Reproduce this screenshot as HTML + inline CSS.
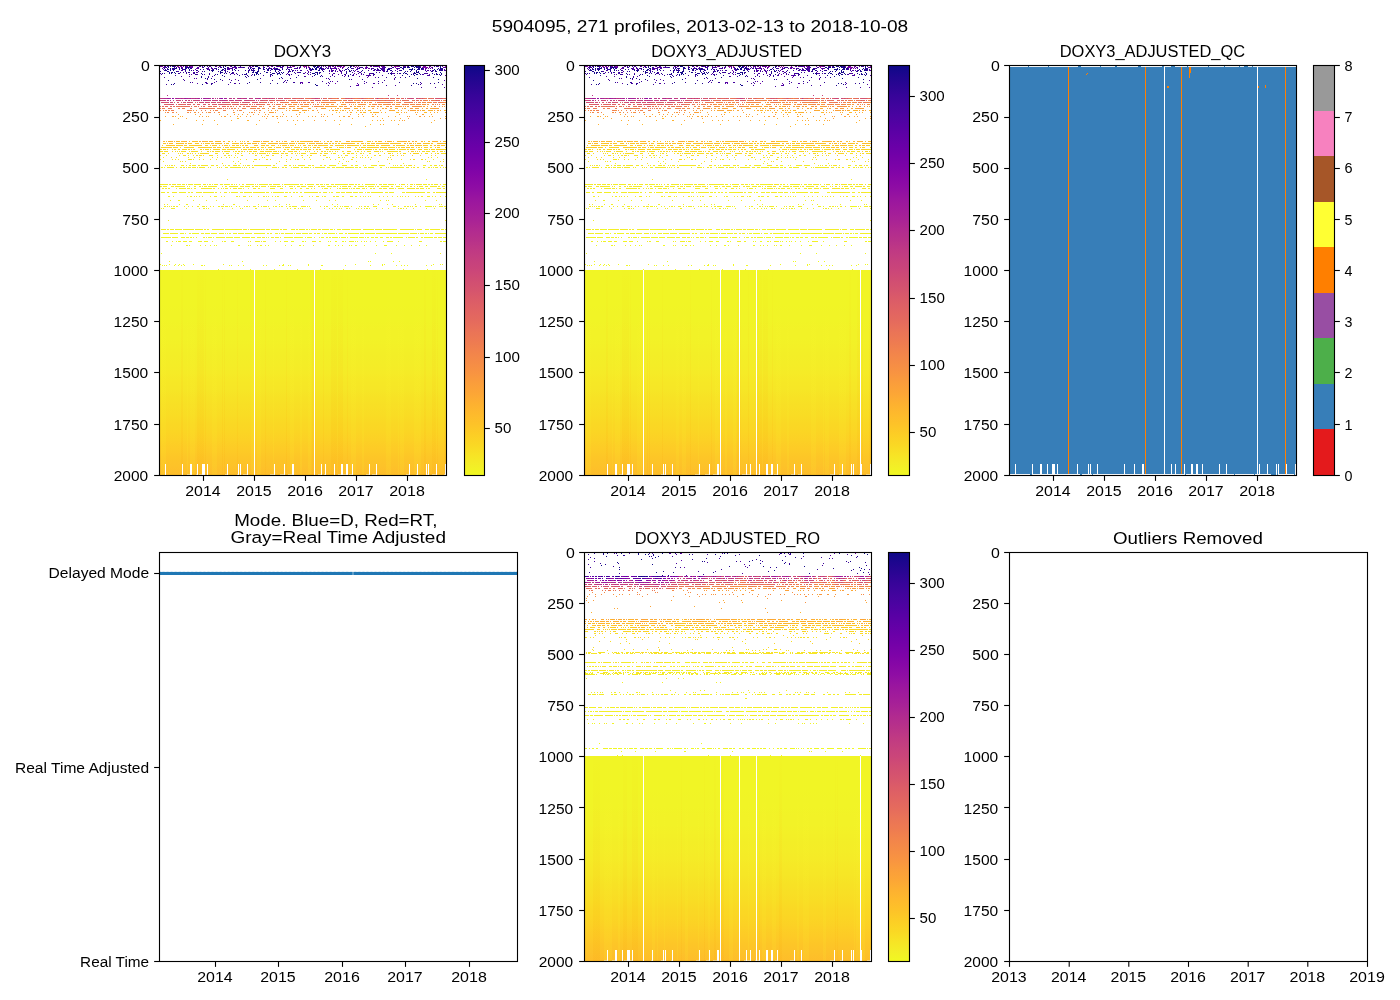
<!DOCTYPE html>
<html lang="en"><head><meta charset="utf-8"><title>5904095 DOXY3 profiles</title>
<style>
html,body{margin:0;padding:0;background:#fff}
body{width:1400px;height:1000px;overflow:hidden}
svg{display:block}
text{font-family:"Liberation Sans",sans-serif;fill:#000}
.fr{fill:none;stroke:#000;stroke-width:1.11}
.tk{fill:none;stroke:#000;stroke-width:1.11}
.cr{shape-rendering:crispEdges}
.tx{will-change:transform}
</style></head><body>
<svg width="1400" height="1000" viewBox="0 0 1400 1000">
<rect width="1400" height="1000" fill="#fff"/>
<defs>
<linearGradient id="g1" gradientUnits="userSpaceOnUse" x1="0" y1="270" x2="0" y2="475">
<stop offset="0.0000" stop-color="#f1f525"/>
<stop offset="0.0417" stop-color="#f1f525"/>
<stop offset="0.0833" stop-color="#f1f525"/>
<stop offset="0.1250" stop-color="#f1f525"/>
<stop offset="0.1667" stop-color="#f1f525"/>
<stop offset="0.2083" stop-color="#f1f426"/>
<stop offset="0.2500" stop-color="#f1f426"/>
<stop offset="0.2917" stop-color="#f2f227"/>
<stop offset="0.3333" stop-color="#f2f227"/>
<stop offset="0.3750" stop-color="#f3f027"/>
<stop offset="0.4167" stop-color="#f3ee27"/>
<stop offset="0.4583" stop-color="#f4ed27"/>
<stop offset="0.5000" stop-color="#f5eb27"/>
<stop offset="0.5417" stop-color="#f6e826"/>
<stop offset="0.5833" stop-color="#f6e626"/>
<stop offset="0.6250" stop-color="#f7e225"/>
<stop offset="0.6667" stop-color="#f8df25"/>
<stop offset="0.7083" stop-color="#f9dc24"/>
<stop offset="0.7500" stop-color="#fad824"/>
<stop offset="0.7917" stop-color="#fbd524"/>
<stop offset="0.8333" stop-color="#fcd025"/>
<stop offset="0.8750" stop-color="#fdcb26"/>
<stop offset="0.9167" stop-color="#fdc627"/>
<stop offset="0.9583" stop-color="#fdc229"/>
<stop offset="1.0000" stop-color="#febd2a"/>
</linearGradient>
<linearGradient id="g5" gradientUnits="userSpaceOnUse" x1="0" y1="756" x2="0" y2="961">
<stop offset="0.0000" stop-color="#f1f525"/>
<stop offset="0.0417" stop-color="#f1f525"/>
<stop offset="0.0833" stop-color="#f1f525"/>
<stop offset="0.1250" stop-color="#f1f525"/>
<stop offset="0.1667" stop-color="#f1f525"/>
<stop offset="0.2083" stop-color="#f1f426"/>
<stop offset="0.2500" stop-color="#f1f426"/>
<stop offset="0.2917" stop-color="#f2f227"/>
<stop offset="0.3333" stop-color="#f2f227"/>
<stop offset="0.3750" stop-color="#f3f027"/>
<stop offset="0.4167" stop-color="#f3ee27"/>
<stop offset="0.4583" stop-color="#f4ed27"/>
<stop offset="0.5000" stop-color="#f5eb27"/>
<stop offset="0.5417" stop-color="#f6e826"/>
<stop offset="0.5833" stop-color="#f6e626"/>
<stop offset="0.6250" stop-color="#f7e225"/>
<stop offset="0.6667" stop-color="#f8df25"/>
<stop offset="0.7083" stop-color="#f9dc24"/>
<stop offset="0.7500" stop-color="#fad824"/>
<stop offset="0.7917" stop-color="#fbd524"/>
<stop offset="0.8333" stop-color="#fcd025"/>
<stop offset="0.8750" stop-color="#fdcb26"/>
<stop offset="0.9167" stop-color="#fdc627"/>
<stop offset="0.9583" stop-color="#fdc229"/>
<stop offset="1.0000" stop-color="#febd2a"/>
</linearGradient>
<linearGradient id="c1" gradientUnits="userSpaceOnUse" x1="0" y1="65" x2="0" y2="476">
<stop offset="0.0000" stop-color="#0d0887"/>
<stop offset="0.0250" stop-color="#1d068e"/>
<stop offset="0.0500" stop-color="#2a0593"/>
<stop offset="0.0750" stop-color="#370499"/>
<stop offset="0.1000" stop-color="#41049d"/>
<stop offset="0.1250" stop-color="#4b03a1"/>
<stop offset="0.1500" stop-color="#5601a4"/>
<stop offset="0.1750" stop-color="#6001a6"/>
<stop offset="0.2000" stop-color="#6a00a8"/>
<stop offset="0.2250" stop-color="#7401a8"/>
<stop offset="0.2500" stop-color="#7d03a8"/>
<stop offset="0.2750" stop-color="#8707a6"/>
<stop offset="0.3000" stop-color="#8f0da4"/>
<stop offset="0.3250" stop-color="#99159f"/>
<stop offset="0.3500" stop-color="#a11b9b"/>
<stop offset="0.3750" stop-color="#a82296"/>
<stop offset="0.4000" stop-color="#b12a90"/>
<stop offset="0.4250" stop-color="#b7318a"/>
<stop offset="0.4500" stop-color="#bf3984"/>
<stop offset="0.4750" stop-color="#c5407e"/>
<stop offset="0.5000" stop-color="#cb4679"/>
<stop offset="0.5250" stop-color="#d14e72"/>
<stop offset="0.5500" stop-color="#d6556d"/>
<stop offset="0.5750" stop-color="#dc5d67"/>
<stop offset="0.6000" stop-color="#e16462"/>
<stop offset="0.6250" stop-color="#e56b5d"/>
<stop offset="0.6500" stop-color="#ea7457"/>
<stop offset="0.6750" stop-color="#ee7b51"/>
<stop offset="0.7000" stop-color="#f2844b"/>
<stop offset="0.7250" stop-color="#f58c46"/>
<stop offset="0.7500" stop-color="#f89441"/>
<stop offset="0.7750" stop-color="#fa9e3b"/>
<stop offset="0.8000" stop-color="#fca636"/>
<stop offset="0.8250" stop-color="#fdb130"/>
<stop offset="0.8500" stop-color="#feba2c"/>
<stop offset="0.8750" stop-color="#fdc328"/>
<stop offset="0.9000" stop-color="#fcce25"/>
<stop offset="0.9250" stop-color="#fad824"/>
<stop offset="0.9500" stop-color="#f7e425"/>
<stop offset="0.9750" stop-color="#f3ee27"/>
<stop offset="1.0000" stop-color="#f0f921"/>
</linearGradient>
<linearGradient id="c5" gradientUnits="userSpaceOnUse" x1="0" y1="552" x2="0" y2="962">
<stop offset="0.0000" stop-color="#0d0887"/>
<stop offset="0.0250" stop-color="#1d068e"/>
<stop offset="0.0500" stop-color="#2a0593"/>
<stop offset="0.0750" stop-color="#370499"/>
<stop offset="0.1000" stop-color="#41049d"/>
<stop offset="0.1250" stop-color="#4b03a1"/>
<stop offset="0.1500" stop-color="#5601a4"/>
<stop offset="0.1750" stop-color="#6001a6"/>
<stop offset="0.2000" stop-color="#6a00a8"/>
<stop offset="0.2250" stop-color="#7401a8"/>
<stop offset="0.2500" stop-color="#7d03a8"/>
<stop offset="0.2750" stop-color="#8707a6"/>
<stop offset="0.3000" stop-color="#8f0da4"/>
<stop offset="0.3250" stop-color="#99159f"/>
<stop offset="0.3500" stop-color="#a11b9b"/>
<stop offset="0.3750" stop-color="#a82296"/>
<stop offset="0.4000" stop-color="#b12a90"/>
<stop offset="0.4250" stop-color="#b7318a"/>
<stop offset="0.4500" stop-color="#bf3984"/>
<stop offset="0.4750" stop-color="#c5407e"/>
<stop offset="0.5000" stop-color="#cb4679"/>
<stop offset="0.5250" stop-color="#d14e72"/>
<stop offset="0.5500" stop-color="#d6556d"/>
<stop offset="0.5750" stop-color="#dc5d67"/>
<stop offset="0.6000" stop-color="#e16462"/>
<stop offset="0.6250" stop-color="#e56b5d"/>
<stop offset="0.6500" stop-color="#ea7457"/>
<stop offset="0.6750" stop-color="#ee7b51"/>
<stop offset="0.7000" stop-color="#f2844b"/>
<stop offset="0.7250" stop-color="#f58c46"/>
<stop offset="0.7500" stop-color="#f89441"/>
<stop offset="0.7750" stop-color="#fa9e3b"/>
<stop offset="0.8000" stop-color="#fca636"/>
<stop offset="0.8250" stop-color="#fdb130"/>
<stop offset="0.8500" stop-color="#feba2c"/>
<stop offset="0.8750" stop-color="#fdc328"/>
<stop offset="0.9000" stop-color="#fcce25"/>
<stop offset="0.9250" stop-color="#fad824"/>
<stop offset="0.9500" stop-color="#f7e425"/>
<stop offset="0.9750" stop-color="#f3ee27"/>
<stop offset="1.0000" stop-color="#f0f921"/>
</linearGradient>
<linearGradient id="so65" gradientUnits="userSpaceOnUse" x1="0" y1="270" x2="0" y2="475"><stop offset="0" stop-color="#f89a00" stop-opacity="0.01"/><stop offset="0.35" stop-color="#f89a00" stop-opacity="0.050"/><stop offset="1" stop-color="#f89a00" stop-opacity="0.100"/></linearGradient>
<linearGradient id="sy65" gradientUnits="userSpaceOnUse" x1="0" y1="270" x2="0" y2="475"><stop offset="0" stop-color="#ffff30" stop-opacity="0.01"/><stop offset="0.35" stop-color="#ffff30" stop-opacity="0.050"/><stop offset="1" stop-color="#ffff30" stop-opacity="0.100"/></linearGradient>
<linearGradient id="so552" gradientUnits="userSpaceOnUse" x1="0" y1="757" x2="0" y2="962"><stop offset="0" stop-color="#f89a00" stop-opacity="0.01"/><stop offset="0.35" stop-color="#f89a00" stop-opacity="0.050"/><stop offset="1" stop-color="#f89a00" stop-opacity="0.100"/></linearGradient>
<linearGradient id="sy552" gradientUnits="userSpaceOnUse" x1="0" y1="757" x2="0" y2="962"><stop offset="0" stop-color="#ffff30" stop-opacity="0.01"/><stop offset="0.35" stop-color="#ffff30" stop-opacity="0.050"/><stop offset="1" stop-color="#ffff30" stop-opacity="0.100"/></linearGradient>
</defs>
<g class="cr">
<path fill="#6a00a8" d="M160 66h2v1h-2zM192 66h1v1h-1zM250 66h1v1h-1zM287 66h1v1h-1zM319 66h1v1h-1zM329 66h1v1h-1zM337 66h1v1h-1zM340 66h1v1h-1zM379 66h1v1h-1zM384 66h1v1h-1zM391 66h1v1h-1zM405 66h1v1h-1zM423 66h1v1h-1zM182 67h1v1h-1zM335 67h1v1h-1zM342 67h1v1h-1zM197 68h1v1h-1zM369 68h1v1h-1zM425 68h1v1h-1zM208 69h1v1h-1zM229 69h1v1h-1zM356 74h1v1h-1zM429 74h1v1h-1zM367 77h1v1h-1zM335 83h1v1h-1zM357 83h1v1h-1z"/>
<path fill="#920fa3" d="M162 66h1v1h-1zM191 66h1v1h-1zM304 67h1v1h-1zM222 98h1v1h-1z"/>
<path fill="#48039f" d="M164 66h1v1h-1zM209 66h1v1h-1zM240 66h1v1h-1zM267 66h1v1h-1zM283 66h1v1h-1zM318 66h1v1h-1zM321 66h1v1h-1zM353 66h1v1h-1zM377 66h1v1h-1zM417 66h1v1h-1zM437 66h2v1h-2zM181 67h1v1h-1zM198 67h1v1h-1zM220 67h1v1h-1zM233 67h1v1h-1zM235 67h1v1h-1zM287 67h1v1h-1zM309 67h1v1h-1zM360 67h2v1h-2zM366 67h1v1h-1zM382 67h1v1h-1zM162 68h1v1h-1zM167 68h1v1h-1zM207 68h1v1h-1zM214 68h1v1h-1zM236 68h1v1h-1zM269 68h1v1h-1zM299 68h1v1h-1zM306 68h1v1h-1zM322 68h1v1h-1zM325 68h1v1h-1zM333 68h1v1h-1zM336 68h1v1h-1zM347 68h1v1h-1zM352 68h1v1h-1zM380 68h1v1h-1zM383 68h1v1h-1zM397 68h2v1h-2zM172 69h1v1h-1zM216 69h1v1h-1zM228 69h1v1h-1zM279 69h1v1h-1zM309 69h1v1h-1zM322 69h1v1h-1zM444 69h1v1h-1zM182 70h1v1h-1zM224 70h1v1h-1zM295 70h1v1h-1zM297 70h1v1h-1zM311 70h1v1h-1zM332 70h1v1h-1zM339 70h1v1h-1zM342 70h1v1h-1zM378 70h1v1h-1zM383 70h1v1h-1zM395 70h1v1h-1zM427 70h1v1h-1zM432 70h1v1h-1zM178 71h1v1h-1zM332 71h1v1h-1zM341 71h1v1h-1zM354 71h1v1h-1zM426 71h1v1h-1zM233 72h1v1h-1zM360 72h1v1h-1zM179 73h1v1h-1zM186 73h1v1h-1zM233 73h1v1h-1zM304 73h1v1h-1zM329 73h1v1h-1zM369 73h1v1h-1zM393 73h1v1h-1zM413 73h1v1h-1zM425 73h1v1h-1zM204 74h1v1h-1zM230 74h1v1h-1zM234 74h1v1h-1zM252 74h1v1h-1zM310 74h1v1h-1zM332 74h1v1h-1zM344 74h1v1h-1zM361 74h1v1h-1zM363 74h1v1h-1zM373 74h1v1h-1zM423 74h1v1h-1zM369 75h1v1h-1zM427 75h3v1h-3zM181 76h1v1h-1zM344 76h1v1h-1zM183 79h1v1h-1zM394 79h1v1h-1zM231 80h1v1h-1zM285 80h1v1h-1zM337 81h1v1h-1zM214 82h1v1h-1zM286 82h1v1h-1zM308 82h1v1h-1zM300 83h1v1h-1zM326 83h1v1h-1zM329 83h1v1h-1zM364 83h1v1h-1zM373 83h1v1h-1zM378 83h1v1h-1zM421 83h1v1h-1zM358 85h1v1h-1zM350 86h1v1h-1zM421 87h1v1h-1zM435 87h1v1h-1z"/>
<path fill="#2c0594" d="M165 66h1v1h-1zM168 66h1v1h-1zM257 66h1v1h-1zM300 66h1v1h-1zM314 66h1v1h-1zM186 67h1v1h-1zM227 67h1v1h-1zM250 67h1v1h-1zM259 67h1v1h-1zM289 67h1v1h-1zM306 67h1v1h-1zM362 67h1v1h-1zM403 67h1v1h-1zM408 67h1v1h-1zM420 67h1v1h-1zM190 68h1v1h-1zM224 68h1v1h-1zM254 68h1v1h-1zM263 68h1v1h-1zM268 68h1v1h-1zM271 68h1v1h-1zM277 68h1v1h-1zM282 68h1v1h-1zM287 68h1v1h-1zM328 68h1v1h-1zM351 68h1v1h-1zM373 68h1v1h-1zM384 68h1v1h-1zM388 68h1v1h-1zM419 68h1v1h-1zM441 68h1v1h-1zM167 69h1v1h-1zM182 69h2v1h-2zM185 69h1v1h-1zM203 69h1v1h-1zM213 69h1v1h-1zM227 69h1v1h-1zM232 69h1v1h-1zM272 69h1v1h-1zM277 69h1v1h-1zM286 69h1v1h-1zM288 69h1v1h-1zM323 69h1v1h-1zM378 69h1v1h-1zM389 69h1v1h-1zM403 69h1v1h-1zM421 69h1v1h-1zM440 69h2v1h-2zM185 70h1v1h-1zM191 70h1v1h-1zM211 70h1v1h-1zM232 70h1v1h-1zM245 70h1v1h-1zM254 70h1v1h-1zM293 70h1v1h-1zM310 70h1v1h-1zM351 70h1v1h-1zM353 70h1v1h-1zM380 70h1v1h-1zM400 70h1v1h-1zM253 71h1v1h-1zM346 71h1v1h-1zM361 71h1v1h-1zM386 71h1v1h-1zM432 71h1v1h-1zM435 71h1v1h-1zM186 72h1v1h-1zM188 72h2v1h-2zM194 72h1v1h-1zM222 72h1v1h-1zM225 72h1v1h-1zM248 72h1v1h-1zM276 72h1v1h-1zM300 72h1v1h-1zM316 72h1v1h-1zM346 72h1v1h-1zM364 72h1v1h-1zM376 72h1v1h-1zM160 73h1v1h-1zM226 73h1v1h-1zM236 73h1v1h-1zM277 73h1v1h-1zM319 73h1v1h-1zM399 73h1v1h-1zM195 74h1v1h-1zM245 74h1v1h-1zM374 74h1v1h-1zM407 74h1v1h-1zM439 74h1v1h-1zM239 75h1v1h-1zM272 75h1v1h-1zM289 75h1v1h-1zM298 75h1v1h-1zM321 75h1v1h-1zM348 75h1v1h-1zM201 76h1v1h-1zM248 76h1v1h-1zM322 76h1v1h-1zM348 76h1v1h-1zM386 77h1v1h-1zM433 77h1v1h-1zM279 78h1v1h-1zM272 80h1v1h-1zM378 81h1v1h-1zM190 82h1v1h-1zM260 82h1v1h-1zM283 82h1v1h-1zM294 82h1v1h-1zM399 82h1v1h-1zM206 83h1v1h-1zM212 83h1v1h-1zM247 83h1v1h-1zM430 83h1v1h-1zM434 83h1v1h-1zM211 84h1v1h-1z"/>
<path fill="#5102a3" d="M167 66h1v1h-1zM202 66h1v1h-1zM207 66h1v1h-1zM220 66h1v1h-1zM249 66h1v1h-1zM252 66h1v1h-1zM268 66h1v1h-1zM328 66h1v1h-1zM330 66h1v1h-1zM371 66h1v1h-1zM375 66h1v1h-1zM434 66h1v1h-1zM163 67h2v1h-2zM179 67h1v1h-1zM197 67h1v1h-1zM236 67h1v1h-1zM244 67h1v1h-1zM321 67h1v1h-1zM330 67h1v1h-1zM340 67h1v1h-1zM383 67h1v1h-1zM445 67h1v1h-1zM174 68h1v1h-1zM179 68h1v1h-1zM206 68h1v1h-1zM274 68h1v1h-1zM294 68h2v1h-2zM297 68h1v1h-1zM331 68h1v1h-1zM353 68h1v1h-1zM363 68h1v1h-1zM365 68h1v1h-1zM382 68h1v1h-1zM390 68h1v1h-1zM430 68h1v1h-1zM163 69h1v1h-1zM212 69h1v1h-1zM324 69h1v1h-1zM336 69h1v1h-1zM384 69h1v1h-1zM423 69h1v1h-1zM340 70h1v1h-1zM382 70h1v1h-1zM428 70h1v1h-1zM430 70h1v1h-1zM445 70h1v1h-1zM198 71h1v1h-1zM193 72h1v1h-1zM305 72h1v1h-1zM341 72h1v1h-1zM391 72h1v1h-1zM333 73h1v1h-1zM341 73h1v1h-1zM392 73h1v1h-1zM426 73h1v1h-1zM161 74h1v1h-1zM286 74h1v1h-1zM338 74h1v1h-1zM369 74h1v1h-1zM345 75h1v1h-1zM366 75h1v1h-1zM370 75h1v1h-1zM394 75h1v1h-1zM212 76h1v1h-1zM305 76h1v1h-1zM359 76h1v1h-1zM207 79h1v1h-1zM192 82h1v1h-1zM300 82h2v1h-2zM197 83h1v1h-1zM235 83h1v1h-1zM374 83h1v1h-1zM358 84h1v1h-1zM442 84h1v1h-1zM357 85h1v1h-1zM395 85h1v1h-1zM444 87h1v1h-1z"/>
<path fill="#3f049c" d="M170 66h1v1h-1zM215 66h1v1h-1zM278 66h1v1h-1zM282 66h1v1h-1zM351 66h1v1h-1zM376 66h1v1h-1zM403 66h1v1h-1zM412 66h1v1h-1zM174 67h1v1h-1zM190 67h1v1h-1zM203 67h1v1h-1zM208 67h1v1h-1zM211 67h1v1h-1zM218 67h1v1h-1zM242 67h1v1h-1zM263 67h1v1h-1zM280 67h1v1h-1zM290 67h1v1h-1zM297 67h1v1h-1zM318 67h1v1h-1zM326 67h1v1h-1zM384 67h2v1h-2zM392 67h2v1h-2zM182 68h1v1h-1zM198 68h1v1h-1zM231 68h1v1h-1zM235 68h1v1h-1zM260 68h1v1h-1zM270 68h1v1h-1zM273 68h1v1h-1zM309 68h1v1h-1zM323 68h1v1h-1zM327 68h1v1h-1zM371 68h1v1h-1zM225 69h1v1h-1zM251 69h1v1h-1zM289 69h1v1h-1zM310 69h2v1h-2zM356 69h2v1h-2zM375 69h1v1h-1zM383 69h1v1h-1zM181 70h1v1h-1zM197 70h1v1h-1zM238 70h1v1h-1zM251 70h1v1h-1zM267 70h1v1h-1zM301 70h1v1h-1zM329 70h1v1h-1zM333 70h1v1h-1zM335 70h1v1h-1zM344 70h1v1h-1zM374 70h1v1h-1zM376 70h2v1h-2zM384 70h1v1h-1zM399 70h1v1h-1zM177 71h1v1h-1zM227 71h1v1h-1zM289 71h1v1h-1zM329 71h1v1h-1zM335 71h1v1h-1zM340 71h1v1h-1zM384 71h1v1h-1zM392 71h1v1h-1zM180 72h1v1h-1zM183 72h1v1h-1zM196 72h1v1h-1zM229 72h1v1h-1zM270 72h1v1h-1zM297 72h1v1h-1zM308 72h1v1h-1zM352 72h1v1h-1zM359 72h1v1h-1zM379 72h1v1h-1zM164 73h1v1h-1zM193 73h1v1h-1zM303 73h1v1h-1zM334 73h1v1h-1zM358 73h1v1h-1zM371 73h1v1h-1zM394 73h1v1h-1zM397 73h1v1h-1zM427 73h1v1h-1zM189 74h1v1h-1zM197 74h1v1h-1zM289 74h1v1h-1zM353 74h1v1h-1zM422 74h1v1h-1zM251 75h1v1h-1zM263 75h1v1h-1zM270 75h1v1h-1zM352 75h2v1h-2zM368 75h1v1h-1zM373 75h1v1h-1zM382 75h1v1h-1zM270 76h1v1h-1zM312 76h1v1h-1zM330 76h1v1h-1zM334 76h1v1h-1zM164 77h1v1h-1zM400 77h1v1h-1zM194 78h1v1h-1zM282 78h1v1h-1zM329 79h1v1h-1zM184 80h1v1h-1zM222 80h1v1h-1zM238 80h1v1h-1zM284 81h1v1h-1zM322 81h1v1h-1zM230 82h1v1h-1zM293 82h1v1h-1zM309 82h1v1h-1zM328 82h1v1h-1zM366 82h1v1h-1zM382 82h1v1h-1zM239 83h1v1h-1zM166 84h1v1h-1zM228 84h1v1h-1zM420 84h1v1h-1zM328 85h1v1h-1z"/>
<path fill="#370499" d="M172 66h1v1h-1zM174 66h1v1h-1zM200 66h1v1h-1zM223 66h1v1h-1zM231 66h1v1h-1zM383 66h1v1h-1zM202 67h1v1h-1zM240 67h1v1h-1zM274 67h1v1h-1zM281 67h1v1h-1zM432 67h1v1h-1zM176 68h1v1h-1zM181 68h1v1h-1zM212 68h1v1h-1zM215 68h1v1h-1zM228 68h1v1h-1zM252 68h1v1h-1zM266 68h1v1h-1zM296 68h1v1h-1zM319 68h1v1h-1zM335 68h1v1h-1zM389 68h1v1h-1zM402 68h1v1h-1zM423 68h1v1h-1zM170 69h1v1h-1zM209 69h1v1h-1zM264 69h1v1h-1zM291 69h1v1h-1zM319 69h1v1h-1zM331 69h1v1h-1zM371 69h1v1h-1zM374 69h1v1h-1zM377 69h1v1h-1zM382 69h1v1h-1zM422 69h1v1h-1zM439 69h1v1h-1zM164 70h1v1h-1zM193 70h1v1h-1zM225 70h1v1h-1zM248 70h2v1h-2zM270 70h1v1h-1zM280 70h1v1h-1zM289 70h1v1h-1zM292 70h1v1h-1zM300 70h1v1h-1zM322 70h1v1h-1zM368 70h1v1h-1zM373 70h1v1h-1zM379 70h1v1h-1zM387 70h1v1h-1zM425 70h1v1h-1zM440 70h1v1h-1zM442 70h1v1h-1zM160 71h1v1h-1zM185 71h1v1h-1zM202 71h1v1h-1zM218 71h1v1h-1zM278 71h1v1h-1zM288 71h1v1h-1zM290 71h1v1h-1zM331 71h1v1h-1zM358 71h1v1h-1zM294 72h1v1h-1zM298 72h2v1h-2zM310 72h1v1h-1zM319 72h1v1h-1zM194 73h1v1h-1zM220 73h1v1h-1zM232 73h1v1h-1zM274 73h1v1h-1zM295 73h1v1h-1zM307 73h1v1h-1zM361 73h1v1h-1zM370 73h1v1h-1zM372 73h1v1h-1zM424 73h1v1h-1zM196 74h1v1h-1zM215 74h1v1h-1zM237 74h1v1h-1zM242 74h1v1h-1zM246 74h1v1h-1zM288 74h1v1h-1zM291 74h1v1h-1zM345 74h1v1h-1zM175 75h1v1h-1zM332 75h1v1h-1zM342 75h1v1h-1zM208 76h1v1h-1zM304 76h1v1h-1zM208 77h1v1h-1zM246 77h1v1h-1zM260 78h1v1h-1zM290 78h1v1h-1zM328 78h1v1h-1zM229 79h1v1h-1zM351 79h1v1h-1zM384 80h1v1h-1zM216 81h1v1h-1zM330 81h1v1h-1zM364 81h1v1h-1zM205 82h2v1h-2zM420 82h1v1h-1zM211 83h1v1h-1zM234 83h1v1h-1zM173 84h1v1h-1zM386 85h1v1h-1z"/>
<path fill="#0d0887" d="M173 66h1v1h-1zM255 66h2v1h-2zM317 66h1v1h-1zM408 66h1v1h-1zM411 66h1v1h-1zM413 66h1v1h-1zM416 66h1v1h-1zM418 66h1v1h-1zM440 66h1v1h-1zM168 67h1v1h-1zM176 67h1v1h-1zM187 67h2v1h-2zM223 67h1v1h-1zM258 67h1v1h-1zM264 67h1v1h-1zM316 67h1v1h-1zM317 67h1v1h-1zM320 67h1v1h-1zM400 67h1v1h-1zM404 67h1v1h-1zM405 67h1v1h-1zM407 67h1v1h-1zM409 67h1v1h-1zM414 67h1v1h-1zM419 67h1v1h-1zM170 68h1v1h-1zM173 68h1v1h-1zM175 68h1v1h-1zM225 68h1v1h-1zM250 68h1v1h-1zM258 68h1v1h-1zM276 68h1v1h-1zM315 68h1v1h-1zM316 68h1v1h-1zM320 68h2v1h-2zM359 68h1v1h-1zM412 68h1v1h-1zM421 68h1v1h-1zM438 68h1v1h-1zM440 68h1v1h-1zM168 69h1v1h-1zM174 69h1v1h-1zM189 69h1v1h-1zM218 69h1v1h-1zM222 69h1v1h-1zM258 69h1v1h-1zM263 69h1v1h-1zM276 69h1v1h-1zM282 69h1v1h-1zM312 69h1v1h-1zM313 69h1v1h-1zM315 69h1v1h-1zM348 69h1v1h-1zM409 69h1v1h-1zM411 69h1v1h-1zM412 69h1v1h-1zM414 69h1v1h-1zM417 69h1v1h-1zM434 69h1v1h-1zM437 69h1v1h-1zM166 70h1v1h-1zM173 70h1v1h-1zM189 70h1v1h-1zM209 70h1v1h-1zM212 70h1v1h-1zM221 70h1v1h-1zM318 70h1v1h-1zM319 70h1v1h-1zM439 70h1v1h-1zM441 70h1v1h-1zM220 71h1v1h-1zM257 71h1v1h-1zM416 71h1v1h-1zM418 71h1v1h-1zM436 71h1v1h-1zM172 72h1v1h-1zM174 72h1v1h-1zM220 72h1v1h-1zM255 72h1v1h-1zM257 72h1v1h-1zM266 72h1v1h-1zM283 72h1v1h-1zM315 72h1v1h-1zM317 72h1v1h-1zM414 72h1v1h-1zM416 72h1v1h-1zM440 72h1v1h-1zM169 73h1v1h-1zM175 73h1v1h-1zM256 73h1v1h-1zM272 73h1v1h-1zM279 73h1v1h-1zM312 73h1v1h-1zM317 73h1v1h-1zM390 73h1v1h-1zM403 73h1v1h-1zM406 73h1v1h-1zM419 73h1v1h-1zM441 73h1v1h-1zM217 74h1v1h-1zM244 74h1v1h-1zM254 74h1v1h-1zM258 74h1v1h-1zM277 74h1v1h-1zM280 74h1v1h-1zM315 74h1v1h-1zM317 74h1v1h-1zM411 74h1v1h-1zM416 74h1v1h-1zM417 74h1v1h-1zM437 74h1v1h-1zM222 75h1v1h-1zM254 75h1v1h-1zM402 75h1v1h-1zM414 75h1v1h-1zM440 75h1v1h-1zM409 76h1v1h-1zM201 77h1v1h-1zM207 78h1v1h-1zM417 78h1v1h-1zM220 79h1v1h-1zM257 79h1v1h-1zM438 79h1v1h-1zM413 83h1v1h-1zM171 84h1v1h-1zM315 84h1v1h-1zM316 85h1v1h-1z"/>
<path fill="#6300a7" d="M175 66h1v1h-1zM219 66h1v1h-1zM253 66h1v1h-1zM325 66h1v1h-1zM335 66h1v1h-1zM339 66h1v1h-1zM381 66h1v1h-1zM398 66h2v1h-2zM442 66h1v1h-1zM178 67h1v1h-1zM192 67h1v1h-1zM269 67h1v1h-1zM291 67h1v1h-1zM367 67h1v1h-1zM230 68h1v1h-1zM275 68h1v1h-1zM357 68h1v1h-1zM366 68h1v1h-1zM368 68h1v1h-1zM396 68h1v1h-1zM399 68h1v1h-1zM339 69h1v1h-1zM307 70h1v1h-1zM331 70h1v1h-1zM355 70h1v1h-1zM308 71h1v1h-1zM375 77h1v1h-1zM235 79h1v1h-1zM332 81h1v1h-1zM302 82h1v1h-1z"/>
<path fill="#8a09a5" d="M177 66h1v1h-1zM181 66h1v1h-1zM305 66h1v1h-1zM382 66h1v1h-1zM394 66h2v1h-2zM429 66h1v1h-1zM334 67h1v1h-1zM343 67h1v1h-1zM365 67h1v1h-1zM172 98h1v1h-1zM221 98h1v1h-1z"/>
<path fill="#a72197" d="M178 66h1v1h-1zM292 66h1v1h-1zM304 66h1v1h-1zM396 66h1v1h-1zM169 98h1v1h-1zM178 98h1v1h-1zM181 98h1v1h-1zM186 98h2v1h-2zM195 98h1v1h-1zM201 98h1v1h-1zM203 98h1v1h-1zM205 98h3v1h-3zM240 98h1v1h-1zM259 98h1v1h-1z"/>
<path fill="#8305a7" d="M180 66h1v1h-1zM199 66h1v1h-1zM230 66h1v1h-1zM276 66h1v1h-1zM303 66h1v1h-1zM306 66h1v1h-1zM366 66h1v1h-1zM370 66h1v1h-1zM308 67h1v1h-1zM431 67h1v1h-1zM338 68h1v1h-1z"/>
<path fill="#7201a8" d="M183 66h1v1h-1zM186 66h1v1h-1zM338 66h1v1h-1zM343 66h1v1h-1zM374 66h1v1h-1zM378 66h1v1h-1zM424 66h2v1h-2zM355 67h1v1h-1zM427 67h1v1h-1zM429 67h1v1h-1zM196 68h1v1h-1zM332 68h1v1h-1zM426 68h1v1h-1z"/>
<path fill="#16078a" d="M185 66h1v1h-1zM189 66h1v1h-1zM204 66h1v1h-1zM225 66h1v1h-1zM313 66h1v1h-1zM315 66h1v1h-1zM415 66h1v1h-1zM419 66h1v1h-1zM185 67h1v1h-1zM243 67h1v1h-1zM348 67h1v1h-1zM350 67h1v1h-1zM401 67h1v1h-1zM416 67h1v1h-1zM440 67h1v1h-1zM164 68h1v1h-1zM172 68h1v1h-1zM188 68h1v1h-1zM191 68h1v1h-1zM216 68h1v1h-1zM253 68h1v1h-1zM312 68h1v1h-1zM403 68h1v1h-1zM418 68h1v1h-1zM422 68h1v1h-1zM173 69h1v1h-1zM179 69h1v1h-1zM223 69h1v1h-1zM234 69h1v1h-1zM249 69h1v1h-1zM267 69h2v1h-2zM275 69h1v1h-1zM316 69h1v1h-1zM346 69h1v1h-1zM381 69h1v1h-1zM387 69h2v1h-2zM410 69h1v1h-1zM419 69h1v1h-1zM165 70h1v1h-1zM170 70h1v1h-1zM196 70h1v1h-1zM213 70h1v1h-1zM222 70h1v1h-1zM235 70h1v1h-1zM252 70h1v1h-1zM268 70h1v1h-1zM275 70h1v1h-1zM390 70h1v1h-1zM416 70h1v1h-1zM433 70h1v1h-1zM435 70h1v1h-1zM176 71h1v1h-1zM204 71h1v1h-1zM212 71h1v1h-1zM258 71h1v1h-1zM275 71h1v1h-1zM349 71h1v1h-1zM405 71h1v1h-1zM410 71h1v1h-1zM169 72h1v1h-1zM221 72h1v1h-1zM232 72h1v1h-1zM252 72h1v1h-1zM256 72h1v1h-1zM281 72h1v1h-1zM404 72h1v1h-1zM162 73h1v1h-1zM171 73h1v1h-1zM201 73h1v1h-1zM246 73h1v1h-1zM257 73h1v1h-1zM273 73h1v1h-1zM278 73h1v1h-1zM313 73h2v1h-2zM346 73h1v1h-1zM373 73h1v1h-1zM405 73h1v1h-1zM414 73h1v1h-1zM209 74h1v1h-1zM256 74h1v1h-1zM270 74h1v1h-1zM391 74h1v1h-1zM436 74h1v1h-1zM314 75h1v1h-1zM224 76h1v1h-1zM245 76h1v1h-1zM320 76h1v1h-1zM281 77h1v1h-1zM296 77h1v1h-1zM395 77h1v1h-1zM205 78h1v1h-1zM214 79h1v1h-1zM349 79h1v1h-1zM168 80h1v1h-1zM287 80h1v1h-1zM249 82h1v1h-1zM438 82h1v1h-1zM174 83h1v1h-1zM416 83h1v1h-1zM202 84h1v1h-1z"/>
<path fill="#7b02a8" d="M187 66h1v1h-1zM190 66h1v1h-1zM216 66h1v1h-1zM263 66h1v1h-1zM271 66h1v1h-1zM279 66h1v1h-1zM294 66h1v1h-1zM332 66h1v1h-1zM341 66h1v1h-1zM344 66h1v1h-1zM397 66h1v1h-1zM420 66h1v1h-1zM234 67h1v1h-1zM328 67h1v1h-1zM395 67h1v1h-1zM422 67h3v1h-3zM426 67h1v1h-1zM334 68h1v1h-1zM428 68h1v1h-1z"/>
<path fill="#5901a5" d="M210 66h1v1h-1zM235 66h1v1h-1zM272 66h1v1h-1zM290 66h1v1h-1zM293 66h1v1h-1zM323 66h1v1h-1zM333 66h1v1h-1zM373 66h1v1h-1zM404 66h1v1h-1zM407 66h1v1h-1zM430 66h1v1h-1zM165 67h1v1h-1zM189 67h1v1h-1zM191 67h1v1h-1zM228 67h1v1h-1zM232 67h1v1h-1zM238 67h2v1h-2zM241 67h1v1h-1zM248 67h1v1h-1zM251 67h1v1h-1zM282 67h1v1h-1zM288 67h1v1h-1zM299 67h2v1h-2zM357 67h1v1h-1zM359 67h1v1h-1zM379 67h1v1h-1zM443 67h2v1h-2zM208 68h1v1h-1zM211 68h1v1h-1zM227 68h1v1h-1zM229 68h1v1h-1zM232 68h1v1h-1zM342 68h1v1h-1zM358 68h1v1h-1zM372 68h1v1h-1zM377 68h1v1h-1zM381 68h1v1h-1zM432 68h1v1h-1zM195 69h1v1h-1zM253 69h1v1h-1zM397 69h1v1h-1zM425 69h1v1h-1zM444 70h1v1h-1zM337 71h1v1h-1zM357 71h1v1h-1zM383 71h1v1h-1zM197 72h1v1h-1zM209 73h1v1h-1zM287 73h1v1h-1zM354 73h1v1h-1zM191 74h1v1h-1zM308 74h1v1h-1zM367 75h1v1h-1zM445 75h1v1h-1zM189 76h1v1h-1zM368 76h1v1h-1zM196 78h1v1h-1zM326 78h1v1h-1zM394 78h1v1h-1zM444 80h1v1h-1zM207 83h1v1h-1zM302 83h1v1h-1zM356 85h1v1h-1zM372 87h1v1h-1z"/>
<path fill="#220690" d="M234 66h1v1h-1zM277 66h1v1h-1zM280 66h1v1h-1zM350 66h1v1h-1zM436 66h1v1h-1zM166 67h1v1h-1zM221 67h1v1h-1zM314 67h1v1h-1zM417 67h2v1h-2zM185 68h2v1h-2zM248 68h1v1h-1zM259 68h1v1h-1zM310 68h1v1h-1zM330 68h1v1h-1zM391 68h1v1h-1zM442 68h1v1h-1zM165 69h1v1h-1zM184 69h1v1h-1zM200 69h1v1h-1zM207 69h1v1h-1zM271 69h1v1h-1zM274 69h1v1h-1zM278 69h1v1h-1zM321 69h1v1h-1zM345 69h1v1h-1zM418 69h1v1h-1zM442 69h1v1h-1zM253 70h1v1h-1zM258 70h1v1h-1zM279 70h1v1h-1zM349 70h1v1h-1zM362 70h1v1h-1zM391 70h1v1h-1zM401 70h1v1h-1zM411 70h1v1h-1zM167 71h2v1h-2zM225 71h1v1h-1zM248 71h1v1h-1zM264 71h1v1h-1zM292 71h1v1h-1zM323 71h1v1h-1zM350 71h1v1h-1zM387 71h1v1h-1zM397 71h1v1h-1zM407 71h1v1h-1zM431 71h1v1h-1zM171 72h1v1h-1zM253 72h1v1h-1zM267 72h1v1h-1zM279 72h1v1h-1zM288 72h1v1h-1zM320 72h1v1h-1zM417 72h2v1h-2zM178 73h1v1h-1zM224 73h1v1h-1zM231 73h1v1h-1zM260 73h1v1h-1zM282 73h1v1h-1zM388 73h1v1h-1zM391 73h1v1h-1zM400 73h1v1h-1zM415 73h1v1h-1zM432 73h1v1h-1zM436 73h1v1h-1zM202 74h1v1h-1zM271 74h1v1h-1zM350 74h1v1h-1zM413 74h1v1h-1zM420 74h1v1h-1zM434 74h1v1h-1zM441 74h1v1h-1zM214 75h1v1h-1zM247 75h1v1h-1zM378 77h1v1h-1zM405 77h1v1h-1zM211 78h1v1h-1zM362 79h1v1h-1zM270 83h1v1h-1zM277 83h1v1h-1zM418 84h1v1h-1zM317 85h1v1h-1zM411 85h1v1h-1z"/>
<path fill="#ad2793" d="M308 66h1v1h-1zM164 98h2v1h-2zM170 98h1v1h-1zM177 98h1v1h-1zM189 98h1v1h-1zM197 98h1v1h-1zM199 98h1v1h-1zM209 98h1v1h-1zM226 98h1v1h-1zM238 98h1v1h-1zM255 98h1v1h-1z"/>
<path fill="#a01a9c" d="M354 66h1v1h-1zM167 98h1v1h-1zM176 98h1v1h-1zM184 98h1v1h-1zM190 98h1v1h-1zM198 98h1v1h-1zM208 98h1v1h-1zM212 98h1v1h-1zM224 98h2v1h-2z"/>
<path fill="#99159f" d="M356 66h1v1h-1zM358 66h1v1h-1zM445 66h1v1h-1zM425 67h1v1h-1zM168 98h1v1h-1zM173 98h1v1h-1zM185 98h1v1h-1zM204 98h1v1h-1zM220 98h1v1h-1z"/>
<path fill="#ba3388" d="M167 95h1v1h-1zM161 98h2v1h-2zM179 98h2v1h-2zM196 98h1v1h-1zM215 98h1v1h-1zM229 98h2v1h-2zM233 98h1v1h-1zM243 98h1v1h-1zM257 98h1v1h-1zM266 98h1v1h-1zM269 98h1v1h-1zM377 98h1v1h-1zM170 100h1v1h-1zM203 100h1v1h-1zM220 100h1v1h-1zM224 100h2v1h-2zM235 100h1v1h-1z"/>
<path fill="#c5407e" d="M388 95h1v1h-1zM160 98h1v1h-1zM183 98h1v1h-1zM191 98h1v1h-1zM237 98h1v1h-1zM241 98h1v1h-1zM251 98h2v1h-2zM260 98h1v1h-1zM316 98h2v1h-2zM411 98h1v1h-1zM416 98h1v1h-1zM162 100h1v1h-1zM182 100h1v1h-1zM186 100h1v1h-1zM189 100h1v1h-1zM197 100h3v1h-3zM204 100h1v1h-1zM206 100h2v1h-2zM215 100h2v1h-2zM219 100h1v1h-1zM231 100h1v1h-1zM238 100h2v1h-2zM245 100h2v1h-2zM248 100h1v1h-1zM256 100h1v1h-1zM203 102h1v1h-1z"/>
<path fill="#ca457a" d="M397 95h1v1h-1zM242 98h1v1h-1zM264 98h2v1h-2zM271 98h1v1h-1zM274 98h1v1h-1zM278 98h1v1h-1zM282 98h1v1h-1zM412 98h1v1h-1zM419 98h1v1h-1zM161 100h1v1h-1zM163 100h1v1h-1zM176 100h2v1h-2zM179 100h1v1h-1zM188 100h1v1h-1zM193 100h4v1h-4zM209 100h1v1h-1zM213 100h2v1h-2zM221 100h1v1h-1zM229 100h1v1h-1zM250 100h1v1h-1zM254 100h1v1h-1zM168 102h1v1h-1zM183 102h1v1h-1zM202 102h1v1h-1zM205 102h2v1h-2zM215 102h1v1h-1zM222 102h1v1h-1zM224 102h1v1h-1z"/>
<path fill="#b42e8d" d="M163 98h1v1h-1zM166 98h1v1h-1zM175 98h1v1h-1zM182 98h1v1h-1zM188 98h1v1h-1zM192 98h2v1h-2zM210 98h1v1h-1zM217 98h1v1h-1zM219 98h1v1h-1zM239 98h1v1h-1zM244 98h3v1h-3zM249 98h1v1h-1zM258 98h1v1h-1zM167 100h1v1h-1zM201 100h1v1h-1zM205 100h1v1h-1zM222 100h1v1h-1z"/>
<path fill="#bf3984" d="M194 98h1v1h-1zM213 98h1v1h-1zM231 98h1v1h-1zM234 98h1v1h-1zM250 98h1v1h-1zM256 98h1v1h-1zM272 98h1v1h-1zM315 98h1v1h-1zM164 100h1v1h-1zM168 100h1v1h-1zM173 100h1v1h-1zM185 100h1v1h-1zM210 100h1v1h-1zM212 100h1v1h-1zM217 100h1v1h-1zM223 100h1v1h-1zM226 100h1v1h-1zM230 100h1v1h-1zM232 100h1v1h-1zM236 100h1v1h-1zM240 100h1v1h-1z"/>
<path fill="#d45270" d="M262 98h2v1h-2zM270 98h1v1h-1zM276 98h1v1h-1zM284 98h1v1h-1zM294 98h1v1h-1zM301 98h1v1h-1zM312 98h1v1h-1zM314 98h1v1h-1zM346 98h1v1h-1zM348 98h1v1h-1zM362 98h1v1h-1zM388 98h1v1h-1zM405 98h1v1h-1zM436 98h4v1h-4zM441 98h1v1h-1zM178 100h1v1h-1zM241 100h1v1h-1zM249 100h1v1h-1zM251 100h1v1h-1zM253 100h1v1h-1zM280 100h1v1h-1zM282 100h1v1h-1zM313 100h1v1h-1zM161 102h1v1h-1zM164 102h1v1h-1zM166 102h2v1h-2zM185 102h1v1h-1zM188 102h5v1h-5zM197 102h1v1h-1zM200 102h2v1h-2zM207 102h1v1h-1zM211 102h1v1h-1zM219 102h1v1h-1zM225 102h2v1h-2zM244 102h2v1h-2zM248 102h1v1h-1zM254 102h2v1h-2zM171 104h2v1h-2zM204 104h1v1h-1z"/>
<path fill="#d8576b" d="M267 98h2v1h-2zM279 98h3v1h-3zM286 98h1v1h-1zM313 98h1v1h-1zM345 98h1v1h-1zM403 98h1v1h-1zM413 98h1v1h-1zM420 98h1v1h-1zM440 98h1v1h-1zM260 100h1v1h-1zM263 100h2v1h-2zM266 100h2v1h-2zM270 100h1v1h-1zM315 100h1v1h-1zM318 100h1v1h-1zM436 100h1v1h-1zM174 102h1v1h-1zM177 102h2v1h-2zM181 102h1v1h-1zM184 102h1v1h-1zM199 102h1v1h-1zM209 102h1v1h-1zM227 102h3v1h-3zM232 102h2v1h-2zM235 102h3v1h-3zM257 102h1v1h-1zM169 104h2v1h-2zM173 104h1v1h-1zM188 104h1v1h-1zM220 104h1v1h-1zM237 104h1v1h-1z"/>
<path fill="#dc5d67" d="M273 98h1v1h-1zM287 98h2v1h-2zM293 98h1v1h-1zM295 98h1v1h-1zM299 98h1v1h-1zM303 98h1v1h-1zM311 98h1v1h-1zM318 98h1v1h-1zM330 98h1v1h-1zM337 98h1v1h-1zM347 98h1v1h-1zM349 98h1v1h-1zM361 98h1v1h-1zM378 98h1v1h-1zM382 98h1v1h-1zM386 98h1v1h-1zM391 98h1v1h-1zM398 98h1v1h-1zM407 98h2v1h-2zM433 98h1v1h-1zM435 98h1v1h-1zM276 100h2v1h-2zM317 100h1v1h-1zM385 100h1v1h-1zM195 102h1v1h-1zM218 102h1v1h-1zM231 102h1v1h-1zM234 102h1v1h-1zM240 102h1v1h-1zM242 102h1v1h-1zM247 102h1v1h-1zM252 102h2v1h-2zM256 102h1v1h-1zM268 102h1v1h-1zM164 104h1v1h-1zM166 104h2v1h-2zM176 104h1v1h-1zM179 104h1v1h-1zM181 104h1v1h-1zM185 104h1v1h-1zM187 104h1v1h-1zM199 104h1v1h-1zM203 104h1v1h-1zM208 104h1v1h-1zM212 104h5v1h-5zM218 104h1v1h-1zM221 104h5v1h-5zM257 104h1v1h-1z"/>
<path fill="#ce4b75" d="M285 98h1v1h-1zM319 98h1v1h-1zM323 98h1v1h-1zM351 98h1v1h-1zM409 98h2v1h-2zM417 98h1v1h-1zM422 98h1v1h-1zM160 100h1v1h-1zM165 100h1v1h-1zM180 100h1v1h-1zM191 100h1v1h-1zM208 100h1v1h-1zM227 100h1v1h-1zM233 100h1v1h-1zM237 100h1v1h-1zM244 100h1v1h-1zM247 100h1v1h-1zM252 100h1v1h-1zM258 100h1v1h-1zM261 100h2v1h-2zM162 102h2v1h-2zM165 102h1v1h-1zM170 102h3v1h-3zM187 102h1v1h-1zM208 102h1v1h-1zM212 102h3v1h-3zM217 102h1v1h-1zM220 102h1v1h-1zM223 102h1v1h-1zM243 102h1v1h-1zM246 102h1v1h-1z"/>
<path fill="#e56a5d" d="M289 98h1v1h-1zM292 98h1v1h-1zM296 98h3v1h-3zM300 98h1v1h-1zM309 98h1v1h-1zM325 98h1v1h-1zM350 98h1v1h-1zM359 98h1v1h-1zM365 98h1v1h-1zM380 98h1v1h-1zM387 98h1v1h-1zM397 98h1v1h-1zM401 98h2v1h-2zM421 98h1v1h-1zM423 98h2v1h-2zM429 98h1v1h-1zM445 98h1v1h-1zM274 100h1v1h-1zM294 100h1v1h-1zM311 100h1v1h-1zM320 100h1v1h-1zM346 100h1v1h-1zM349 100h1v1h-1zM351 100h1v1h-1zM362 100h1v1h-1zM379 100h1v1h-1zM389 100h1v1h-1zM402 100h1v1h-1zM404 100h1v1h-1zM414 100h1v1h-1zM417 100h1v1h-1zM261 102h2v1h-2zM265 102h1v1h-1zM271 102h1v1h-1zM274 102h1v1h-1zM411 102h1v1h-1zM416 102h1v1h-1zM183 104h2v1h-2zM190 104h1v1h-1zM226 104h1v1h-1zM228 104h1v1h-1zM230 104h1v1h-1zM236 104h1v1h-1zM238 104h1v1h-1zM240 104h4v1h-4zM254 104h1v1h-1zM258 104h2v1h-2zM267 104h1v1h-1zM162 106h2v1h-2zM165 106h3v1h-3zM170 106h1v1h-1zM173 106h2v1h-2zM181 106h1v1h-1zM184 106h2v1h-2zM203 106h1v1h-1zM214 106h1v1h-1zM223 106h2v1h-2zM200 108h1v1h-1zM223 108h1v1h-1z"/>
<path fill="#e16462" d="M290 98h1v1h-1zM302 98h1v1h-1zM321 98h1v1h-1zM326 98h1v1h-1zM329 98h1v1h-1zM331 98h1v1h-1zM352 98h1v1h-1zM363 98h1v1h-1zM373 98h1v1h-1zM376 98h1v1h-1zM381 98h1v1h-1zM390 98h1v1h-1zM392 98h2v1h-2zM418 98h1v1h-1zM431 98h1v1h-1zM442 98h1v1h-1zM444 98h1v1h-1zM265 100h1v1h-1zM269 100h1v1h-1zM271 100h3v1h-3zM278 100h1v1h-1zM281 100h1v1h-1zM284 100h1v1h-1zM286 100h1v1h-1zM316 100h1v1h-1zM319 100h1v1h-1zM390 100h1v1h-1zM408 100h1v1h-1zM412 100h1v1h-1zM438 100h2v1h-2zM441 100h1v1h-1zM238 102h1v1h-1zM249 102h1v1h-1zM259 102h2v1h-2zM263 102h2v1h-2zM266 102h1v1h-1zM165 104h1v1h-1zM168 104h1v1h-1zM180 104h1v1h-1zM182 104h1v1h-1zM189 104h1v1h-1zM193 104h2v1h-2zM197 104h2v1h-2zM205 104h1v1h-1zM209 104h1v1h-1zM219 104h1v1h-1zM227 104h1v1h-1zM233 104h3v1h-3zM244 104h2v1h-2zM247 104h1v1h-1zM249 104h1v1h-1zM256 104h1v1h-1zM171 106h1v1h-1zM204 106h1v1h-1zM222 106h1v1h-1z"/>
<path fill="#ec7754" d="M305 98h1v1h-1zM332 98h4v1h-4zM364 98h1v1h-1zM366 98h1v1h-1zM369 98h2v1h-2zM383 98h1v1h-1zM394 98h1v1h-1zM443 98h1v1h-1zM300 100h1v1h-1zM303 100h1v1h-1zM305 100h2v1h-2zM324 100h1v1h-1zM326 100h1v1h-1zM328 100h1v1h-1zM332 100h1v1h-1zM358 100h1v1h-1zM360 100h1v1h-1zM363 100h1v1h-1zM371 100h1v1h-1zM374 100h1v1h-1zM381 100h2v1h-2zM384 100h1v1h-1zM386 100h2v1h-2zM391 100h1v1h-1zM393 100h1v1h-1zM398 100h1v1h-1zM405 100h1v1h-1zM418 100h1v1h-1zM420 100h1v1h-1zM425 100h1v1h-1zM437 100h1v1h-1zM445 100h1v1h-1zM281 102h1v1h-1zM299 102h1v1h-1zM317 102h1v1h-1zM323 102h1v1h-1zM349 102h2v1h-2zM388 102h2v1h-2zM399 102h1v1h-1zM404 102h3v1h-3zM412 102h1v1h-1zM434 102h2v1h-2zM260 104h1v1h-1zM262 104h1v1h-1zM264 104h1v1h-1zM277 104h1v1h-1zM313 104h1v1h-1zM177 106h3v1h-3zM194 106h1v1h-1zM215 106h1v1h-1zM227 106h1v1h-1zM230 106h1v1h-1zM233 106h1v1h-1zM240 106h1v1h-1zM243 106h2v1h-2zM247 106h1v1h-1zM249 106h1v1h-1zM255 106h2v1h-2zM261 106h1v1h-1zM164 108h1v1h-1zM169 108h1v1h-1zM171 108h1v1h-1zM178 108h1v1h-1zM191 108h1v1h-1zM201 108h2v1h-2zM204 108h2v1h-2zM209 108h1v1h-1zM214 108h1v1h-1zM219 108h1v1h-1zM225 108h1v1h-1zM227 108h1v1h-1zM243 108h1v1h-1zM173 110h1v1h-1zM205 110h1v1h-1z"/>
<path fill="#e97158" d="M306 98h3v1h-3zM310 98h1v1h-1zM324 98h1v1h-1zM338 98h1v1h-1zM343 98h1v1h-1zM353 98h2v1h-2zM357 98h2v1h-2zM360 98h1v1h-1zM367 98h1v1h-1zM371 98h2v1h-2zM375 98h1v1h-1zM379 98h1v1h-1zM385 98h1v1h-1zM426 98h1v1h-1zM430 98h1v1h-1zM432 98h1v1h-1zM279 100h1v1h-1zM283 100h1v1h-1zM288 100h6v1h-6zM295 100h1v1h-1zM297 100h3v1h-3zM304 100h1v1h-1zM312 100h1v1h-1zM348 100h1v1h-1zM372 100h1v1h-1zM376 100h3v1h-3zM380 100h1v1h-1zM388 100h1v1h-1zM397 100h1v1h-1zM400 100h1v1h-1zM403 100h1v1h-1zM406 100h2v1h-2zM416 100h1v1h-1zM421 100h1v1h-1zM431 100h1v1h-1zM433 100h1v1h-1zM435 100h1v1h-1zM270 102h1v1h-1zM272 102h1v1h-1zM277 102h1v1h-1zM280 102h1v1h-1zM282 102h2v1h-2zM285 102h1v1h-1zM313 102h1v1h-1zM409 102h1v1h-1zM439 102h1v1h-1zM178 104h1v1h-1zM229 104h1v1h-1zM232 104h1v1h-1zM246 104h1v1h-1zM250 104h1v1h-1zM252 104h1v1h-1zM261 104h1v1h-1zM263 104h1v1h-1zM160 106h1v1h-1zM176 106h1v1h-1zM182 106h2v1h-2zM186 106h4v1h-4zM191 106h1v1h-1zM195 106h2v1h-2zM198 106h1v1h-1zM201 106h1v1h-1zM208 106h4v1h-4zM213 106h1v1h-1zM216 106h1v1h-1zM219 106h1v1h-1zM225 106h1v1h-1zM228 106h1v1h-1zM239 106h1v1h-1zM248 106h1v1h-1zM168 108h1v1h-1zM170 108h1v1h-1zM203 108h1v1h-1zM211 108h1v1h-1z"/>
<path fill="#ef7e50" d="M328 98h1v1h-1zM341 98h1v1h-1zM344 98h1v1h-1zM355 98h2v1h-2zM384 98h1v1h-1zM396 98h1v1h-1zM425 98h1v1h-1zM428 98h1v1h-1zM308 100h1v1h-1zM310 100h1v1h-1zM323 100h1v1h-1zM325 100h1v1h-1zM327 100h1v1h-1zM331 100h1v1h-1zM334 100h1v1h-1zM343 100h3v1h-3zM350 100h1v1h-1zM352 100h1v1h-1zM364 100h1v1h-1zM366 100h1v1h-1zM368 100h2v1h-2zM373 100h1v1h-1zM375 100h1v1h-1zM383 100h1v1h-1zM394 100h1v1h-1zM396 100h1v1h-1zM413 100h1v1h-1zM423 100h2v1h-2zM429 100h1v1h-1zM432 100h1v1h-1zM284 102h1v1h-1zM287 102h2v1h-2zM291 102h2v1h-2zM297 102h1v1h-1zM301 102h1v1h-1zM303 102h2v1h-2zM311 102h1v1h-1zM319 102h1v1h-1zM324 102h1v1h-1zM347 102h2v1h-2zM351 102h2v1h-2zM377 102h1v1h-1zM379 102h1v1h-1zM384 102h1v1h-1zM387 102h1v1h-1zM400 102h1v1h-1zM408 102h1v1h-1zM410 102h1v1h-1zM414 102h1v1h-1zM418 102h1v1h-1zM433 102h1v1h-1zM436 102h1v1h-1zM438 102h1v1h-1zM440 102h1v1h-1zM442 102h2v1h-2zM268 104h2v1h-2zM272 104h1v1h-1zM274 104h1v1h-1zM278 104h3v1h-3zM285 104h1v1h-1zM315 104h1v1h-1zM317 104h1v1h-1zM388 104h1v1h-1zM403 104h1v1h-1zM405 104h1v1h-1zM439 104h1v1h-1zM180 106h1v1h-1zM231 106h1v1h-1zM236 106h1v1h-1zM246 106h1v1h-1zM251 106h4v1h-4zM259 106h1v1h-1zM162 108h1v1h-1zM182 108h3v1h-3zM190 108h1v1h-1zM199 108h1v1h-1zM206 108h2v1h-2zM210 108h1v1h-1zM212 108h2v1h-2zM217 108h2v1h-2zM220 108h2v1h-2zM229 108h1v1h-1zM231 108h2v1h-2zM234 108h1v1h-1zM244 108h1v1h-1zM255 108h1v1h-1zM166 110h1v1h-1zM171 110h2v1h-2zM187 110h2v1h-2zM201 110h1v1h-1zM215 110h1v1h-1zM223 110h2v1h-2zM254 110h1v1h-1z"/>
<path fill="#f58c46" d="M336 98h1v1h-1zM333 100h1v1h-1zM336 100h2v1h-2zM354 100h1v1h-1zM356 100h1v1h-1zM370 100h1v1h-1zM426 100h2v1h-2zM443 100h1v1h-1zM295 102h1v1h-1zM305 102h1v1h-1zM307 102h1v1h-1zM309 102h1v1h-1zM321 102h2v1h-2zM325 102h2v1h-2zM329 102h7v1h-7zM345 102h1v1h-1zM353 102h1v1h-1zM355 102h1v1h-1zM362 102h1v1h-1zM364 102h2v1h-2zM382 102h2v1h-2zM391 102h1v1h-1zM394 102h1v1h-1zM423 102h1v1h-1zM425 102h1v1h-1zM428 102h2v1h-2zM286 104h1v1h-1zM289 104h1v1h-1zM296 104h1v1h-1zM298 104h1v1h-1zM300 104h2v1h-2zM304 104h2v1h-2zM308 104h1v1h-1zM318 104h1v1h-1zM349 104h1v1h-1zM362 104h1v1h-1zM373 104h4v1h-4zM378 104h1v1h-1zM384 104h1v1h-1zM387 104h1v1h-1zM389 104h2v1h-2zM392 104h3v1h-3zM399 104h1v1h-1zM413 104h1v1h-1zM416 104h1v1h-1zM419 104h2v1h-2zM435 104h1v1h-1zM443 104h1v1h-1zM263 106h1v1h-1zM269 106h2v1h-2zM273 106h2v1h-2zM278 106h1v1h-1zM282 106h4v1h-4zM290 106h1v1h-1zM315 106h1v1h-1zM317 106h1v1h-1zM390 106h1v1h-1zM416 106h1v1h-1zM419 106h1v1h-1zM208 108h1v1h-1zM238 108h1v1h-1zM245 108h1v1h-1zM250 108h1v1h-1zM259 108h1v1h-1zM264 108h1v1h-1zM268 108h1v1h-1zM272 108h2v1h-2zM280 108h1v1h-1zM160 110h1v1h-1zM165 110h1v1h-1zM189 110h3v1h-3zM196 110h1v1h-1zM210 110h1v1h-1zM233 110h1v1h-1zM237 110h1v1h-1zM239 110h3v1h-3zM256 110h1v1h-1zM259 110h1v1h-1zM176 112h1v1h-1zM190 112h1v1h-1zM198 112h1v1h-1zM218 112h1v1h-1z"/>
<path fill="#f3854b" d="M342 98h1v1h-1zM399 98h1v1h-1zM301 100h2v1h-2zM307 100h1v1h-1zM322 100h1v1h-1zM330 100h1v1h-1zM335 100h1v1h-1zM338 100h3v1h-3zM357 100h1v1h-1zM359 100h1v1h-1zM365 100h1v1h-1zM367 100h1v1h-1zM392 100h1v1h-1zM434 100h1v1h-1zM444 100h1v1h-1zM286 102h1v1h-1zM293 102h2v1h-2zM296 102h1v1h-1zM308 102h1v1h-1zM312 102h1v1h-1zM327 102h2v1h-2zM346 102h1v1h-1zM358 102h2v1h-2zM361 102h1v1h-1zM369 102h2v1h-2zM375 102h1v1h-1zM378 102h1v1h-1zM380 102h2v1h-2zM385 102h2v1h-2zM390 102h1v1h-1zM392 102h1v1h-1zM407 102h1v1h-1zM419 102h2v1h-2zM422 102h1v1h-1zM424 102h1v1h-1zM430 102h2v1h-2zM441 102h1v1h-1zM276 104h1v1h-1zM282 104h1v1h-1zM288 104h1v1h-1zM302 104h1v1h-1zM404 104h1v1h-1zM406 104h3v1h-3zM410 104h1v1h-1zM412 104h1v1h-1zM414 104h1v1h-1zM417 104h2v1h-2zM433 104h1v1h-1zM437 104h1v1h-1zM260 106h1v1h-1zM314 106h1v1h-1zM316 106h1v1h-1zM160 108h1v1h-1zM163 108h1v1h-1zM179 108h1v1h-1zM235 108h1v1h-1zM242 108h1v1h-1zM251 108h4v1h-4zM257 108h2v1h-2zM163 110h1v1h-1zM168 110h2v1h-2zM193 110h1v1h-1zM213 110h1v1h-1zM216 110h2v1h-2zM225 110h1v1h-1zM167 112h2v1h-2zM172 112h2v1h-2zM188 112h1v1h-1zM202 112h1v1h-1zM210 112h1v1h-1zM214 112h1v1h-1z"/>
<path fill="#f79342" d="M368 98h1v1h-1zM341 100h1v1h-1zM355 100h1v1h-1zM342 102h2v1h-2zM354 102h1v1h-1zM357 102h1v1h-1zM371 102h1v1h-1zM397 102h2v1h-2zM427 102h1v1h-1zM444 102h1v1h-1zM290 104h1v1h-1zM294 104h2v1h-2zM306 104h2v1h-2zM310 104h1v1h-1zM321 104h1v1h-1zM326 104h1v1h-1zM328 104h1v1h-1zM331 104h1v1h-1zM337 104h1v1h-1zM345 104h1v1h-1zM351 104h1v1h-1zM360 104h2v1h-2zM364 104h1v1h-1zM380 104h2v1h-2zM383 104h1v1h-1zM385 104h1v1h-1zM402 104h1v1h-1zM411 104h1v1h-1zM422 104h2v1h-2zM425 104h1v1h-1zM432 104h1v1h-1zM442 104h1v1h-1zM444 104h1v1h-1zM279 106h1v1h-1zM289 106h1v1h-1zM291 106h1v1h-1zM298 106h1v1h-1zM312 106h1v1h-1zM322 106h1v1h-1zM345 106h2v1h-2zM350 106h2v1h-2zM391 106h1v1h-1zM405 106h1v1h-1zM408 106h1v1h-1zM412 106h1v1h-1zM414 106h2v1h-2zM418 106h1v1h-1zM434 106h1v1h-1zM439 106h1v1h-1zM262 108h2v1h-2zM278 108h2v1h-2zM284 108h1v1h-1zM410 108h2v1h-2zM260 110h1v1h-1zM317 110h1v1h-1zM165 112h1v1h-1zM187 112h1v1h-1zM194 112h2v1h-2zM206 112h1v1h-1zM208 112h2v1h-2zM219 112h1v1h-1zM233 112h1v1h-1zM243 112h1v1h-1zM252 112h1v1h-1zM254 112h1v1h-1z"/>
<path fill="#fa9b3d" d="M340 102h1v1h-1zM367 102h1v1h-1zM445 102h1v1h-1zM291 104h1v1h-1zM293 104h1v1h-1zM323 104h2v1h-2zM327 104h1v1h-1zM332 104h2v1h-2zM343 104h2v1h-2zM353 104h1v1h-1zM358 104h2v1h-2zM363 104h1v1h-1zM365 104h1v1h-1zM369 104h2v1h-2zM372 104h1v1h-1zM379 104h1v1h-1zM386 104h1v1h-1zM396 104h3v1h-3zM424 104h1v1h-1zM427 104h2v1h-2zM292 106h3v1h-3zM301 106h2v1h-2zM304 106h1v1h-1zM307 106h2v1h-2zM318 106h4v1h-4zM323 106h1v1h-1zM325 106h2v1h-2zM333 106h1v1h-1zM359 106h1v1h-1zM362 106h1v1h-1zM364 106h1v1h-1zM373 106h2v1h-2zM377 106h2v1h-2zM386 106h3v1h-3zM396 106h1v1h-1zM399 106h3v1h-3zM403 106h1v1h-1zM407 106h1v1h-1zM413 106h1v1h-1zM417 106h1v1h-1zM420 106h2v1h-2zM435 106h1v1h-1zM442 106h1v1h-1zM281 108h2v1h-2zM316 108h1v1h-1zM321 108h1v1h-1zM346 108h1v1h-1zM348 108h2v1h-2zM360 108h1v1h-1zM386 108h1v1h-1zM415 108h4v1h-4zM433 108h3v1h-3zM437 108h1v1h-1zM268 110h1v1h-1zM271 110h1v1h-1zM277 110h1v1h-1zM286 110h1v1h-1zM389 110h1v1h-1zM410 110h1v1h-1zM412 110h1v1h-1zM234 112h1v1h-1zM249 112h1v1h-1zM251 112h1v1h-1zM259 112h1v1h-1zM264 112h1v1h-1zM270 112h1v1h-1zM272 112h1v1h-1zM200 114h1v1h-1zM238 114h1v1h-1zM253 114h1v1h-1zM258 114h1v1h-1zM350 114h1v1h-1zM416 114h1v1h-1zM348 116h1v1h-1zM409 116h1v1h-1z"/>
<path fill="#fba238" d="M396 102h1v1h-1zM341 104h2v1h-2zM355 104h1v1h-1zM297 106h1v1h-1zM303 106h1v1h-1zM305 106h2v1h-2zM327 106h1v1h-1zM329 106h4v1h-4zM335 106h2v1h-2zM340 106h1v1h-1zM342 106h1v1h-1zM344 106h1v1h-1zM354 106h1v1h-1zM360 106h1v1h-1zM368 106h1v1h-1zM372 106h1v1h-1zM380 106h2v1h-2zM395 106h1v1h-1zM397 106h2v1h-2zM423 106h2v1h-2zM431 106h1v1h-1zM444 106h1v1h-1zM274 108h1v1h-1zM283 108h1v1h-1zM286 108h1v1h-1zM289 108h2v1h-2zM293 108h2v1h-2zM297 108h4v1h-4zM302 108h1v1h-1zM308 108h1v1h-1zM322 108h2v1h-2zM344 108h2v1h-2zM347 108h1v1h-1zM382 108h1v1h-1zM390 108h2v1h-2zM404 108h2v1h-2zM412 108h1v1h-1zM426 108h1v1h-1zM438 108h1v1h-1zM275 110h1v1h-1zM295 110h4v1h-4zM303 110h1v1h-1zM306 110h1v1h-1zM313 110h1v1h-1zM360 110h1v1h-1zM408 110h1v1h-1zM411 110h1v1h-1zM413 110h1v1h-1zM415 110h1v1h-1zM417 110h2v1h-2zM420 110h1v1h-1zM434 110h1v1h-1zM438 110h1v1h-1zM271 112h1v1h-1zM273 112h1v1h-1zM275 112h1v1h-1zM247 114h1v1h-1zM265 114h1v1h-1zM268 114h1v1h-1zM283 114h1v1h-1zM296 114h1v1h-1zM299 114h1v1h-1zM321 114h1v1h-1zM324 114h1v1h-1zM332 114h1v1h-1zM362 114h1v1h-1zM399 114h1v1h-1zM422 114h2v1h-2zM431 114h1v1h-1zM199 116h1v1h-1zM202 116h1v1h-1zM206 116h1v1h-1zM221 116h1v1h-1zM224 116h2v1h-2zM246 116h1v1h-1zM264 116h1v1h-1zM272 116h1v1h-1zM280 116h1v1h-1zM315 116h1v1h-1zM321 116h1v1h-1zM349 116h1v1h-1zM407 116h1v1h-1zM419 116h2v1h-2zM424 116h1v1h-1zM266 118h1v1h-1zM277 118h1v1h-1zM408 118h1v1h-1zM314 120h1v1h-1zM402 120h1v1h-1z"/>
<path fill="#fca934" d="M328 106h1v1h-1zM334 106h1v1h-1zM339 106h1v1h-1zM341 106h1v1h-1zM357 106h2v1h-2zM369 106h1v1h-1zM371 106h1v1h-1zM427 106h1v1h-1zM301 108h1v1h-1zM309 108h2v1h-2zM324 108h2v1h-2zM331 108h1v1h-1zM335 108h1v1h-1zM337 108h1v1h-1zM354 108h1v1h-1zM363 108h2v1h-2zM372 108h2v1h-2zM377 108h1v1h-1zM383 108h1v1h-1zM385 108h1v1h-1zM396 108h2v1h-2zM402 108h1v1h-1zM422 108h1v1h-1zM427 108h1v1h-1zM430 108h3v1h-3zM436 108h1v1h-1zM289 110h1v1h-1zM292 110h3v1h-3zM302 110h1v1h-1zM304 110h2v1h-2zM308 110h1v1h-1zM312 110h1v1h-1zM332 110h2v1h-2zM349 110h1v1h-1zM352 110h1v1h-1zM380 110h1v1h-1zM390 110h1v1h-1zM392 110h3v1h-3zM398 110h1v1h-1zM414 110h1v1h-1zM422 110h2v1h-2zM429 110h1v1h-1zM431 110h1v1h-1zM437 110h1v1h-1zM440 110h1v1h-1zM269 112h1v1h-1zM282 112h1v1h-1zM318 112h1v1h-1zM347 112h1v1h-1zM350 112h1v1h-1zM378 112h1v1h-1zM401 112h1v1h-1zM406 112h1v1h-1zM415 112h1v1h-1zM434 112h1v1h-1zM178 114h1v1h-1zM195 114h1v1h-1zM219 114h1v1h-1zM227 114h1v1h-1zM234 114h1v1h-1zM242 114h1v1h-1zM358 114h1v1h-1zM372 114h1v1h-1zM375 114h1v1h-1zM165 116h1v1h-1zM172 116h2v1h-2zM175 116h1v1h-1zM182 116h1v1h-1zM208 116h1v1h-1zM230 116h1v1h-1zM237 116h1v1h-1zM250 116h1v1h-1zM267 116h1v1h-1zM273 116h1v1h-1zM276 116h2v1h-2zM282 116h1v1h-1zM286 116h1v1h-1zM291 116h1v1h-1zM297 116h1v1h-1zM312 116h1v1h-1zM323 116h1v1h-1zM327 116h1v1h-1zM339 116h1v1h-1zM344 116h1v1h-1zM373 116h1v1h-1zM377 116h1v1h-1zM388 116h1v1h-1zM432 116h1v1h-1zM186 118h1v1h-1zM400 118h1v1h-1zM440 118h1v1h-1zM445 118h1v1h-1zM203 120h1v1h-1zM259 120h1v1h-1zM287 120h1v1h-1zM297 120h1v1h-1zM325 120h1v1h-1zM383 120h1v1h-1zM404 120h1v1h-1zM202 141h1v1h-1zM257 141h1v1h-1zM312 141h1v1h-1zM315 141h1v1h-1zM318 141h1v1h-1zM404 141h1v1h-1zM412 141h1v1h-1z"/>
<path fill="#fdb22f" d="M355 106h1v1h-1zM338 108h1v1h-1zM340 108h1v1h-1zM355 108h3v1h-3zM395 108h1v1h-1zM335 110h2v1h-2zM342 110h2v1h-2zM357 110h2v1h-2zM362 110h1v1h-1zM365 110h1v1h-1zM368 110h1v1h-1zM370 110h1v1h-1zM391 110h1v1h-1zM401 110h1v1h-1zM424 110h1v1h-1zM300 112h1v1h-1zM339 112h1v1h-1zM351 112h1v1h-1zM360 112h1v1h-1zM373 112h2v1h-2zM376 112h2v1h-2zM381 112h1v1h-1zM385 112h1v1h-1zM398 112h1v1h-1zM404 112h1v1h-1zM417 112h1v1h-1zM430 112h1v1h-1zM437 112h1v1h-1zM445 112h1v1h-1zM180 116h1v1h-1zM240 116h1v1h-1zM262 116h1v1h-1zM308 116h1v1h-1zM343 116h1v1h-1zM358 116h1v1h-1zM363 116h1v1h-1zM372 116h1v1h-1zM429 116h1v1h-1zM445 116h1v1h-1zM178 118h1v1h-1zM237 118h1v1h-1zM352 118h1v1h-1zM382 118h1v1h-1zM160 120h1v1h-1zM196 120h1v1h-1zM214 120h1v1h-1zM231 120h1v1h-1zM247 120h2v1h-2zM293 120h1v1h-1zM303 120h1v1h-1zM334 120h1v1h-1zM377 120h1v1h-1zM380 120h1v1h-1zM391 120h1v1h-1zM394 120h1v1h-1zM399 120h1v1h-1zM434 120h1v1h-1zM278 122h1v1h-1zM431 122h1v1h-1zM173 124h1v1h-1zM202 124h1v1h-1zM380 124h1v1h-1zM398 124h1v1h-1zM168 141h3v1h-3zM172 141h1v1h-1zM174 141h1v1h-1zM176 141h1v1h-1zM184 141h1v1h-1zM186 141h1v1h-1zM199 141h1v1h-1zM203 141h1v1h-1zM218 141h1v1h-1zM220 141h1v1h-1zM248 141h1v1h-1zM253 141h1v1h-1zM255 141h2v1h-2zM263 141h1v1h-1zM265 141h2v1h-2zM271 141h1v1h-1zM277 141h1v1h-1zM279 141h1v1h-1zM308 141h1v1h-1zM314 141h1v1h-1zM316 141h2v1h-2zM346 141h3v1h-3zM359 141h1v1h-1zM385 141h1v1h-1zM388 141h1v1h-1zM390 141h1v1h-1zM402 141h2v1h-2zM405 141h1v1h-1zM408 141h2v1h-2zM415 141h2v1h-2zM432 141h3v1h-3zM436 141h2v1h-2zM169 143h1v1h-1zM255 143h1v1h-1zM275 143h1v1h-1zM316 143h2v1h-2z"/>
<path fill="#feba2c" d="M329 110h1v1h-1zM337 110h1v1h-1zM340 110h1v1h-1zM345 110h1v1h-1zM428 110h1v1h-1zM430 110h1v1h-1zM432 110h1v1h-1zM444 110h2v1h-2zM299 112h1v1h-1zM304 112h1v1h-1zM361 112h1v1h-1zM363 112h3v1h-3zM370 112h2v1h-2zM375 112h1v1h-1zM397 112h1v1h-1zM425 112h2v1h-2zM395 116h1v1h-1zM372 120h1v1h-1zM217 124h1v1h-1zM256 124h1v1h-1zM295 124h1v1h-1zM339 124h1v1h-1zM351 124h1v1h-1zM383 124h1v1h-1zM365 126h1v1h-1zM163 141h2v1h-2zM171 141h1v1h-1zM177 141h2v1h-2zM182 141h2v1h-2zM185 141h1v1h-1zM189 141h1v1h-1zM193 141h1v1h-1zM200 141h1v1h-1zM204 141h4v1h-4zM209 141h4v1h-4zM215 141h2v1h-2zM219 141h1v1h-1zM223 141h2v1h-2zM240 141h1v1h-1zM247 141h1v1h-1zM254 141h1v1h-1zM258 141h1v1h-1zM261 141h1v1h-1zM264 141h1v1h-1zM272 141h1v1h-1zM276 141h1v1h-1zM282 141h1v1h-1zM284 141h3v1h-3zM291 141h1v1h-1zM293 141h1v1h-1zM297 141h2v1h-2zM305 141h1v1h-1zM307 141h1v1h-1zM309 141h3v1h-3zM320 141h1v1h-1zM328 141h1v1h-1zM330 141h2v1h-2zM335 141h1v1h-1zM337 141h1v1h-1zM349 141h1v1h-1zM351 141h1v1h-1zM360 141h3v1h-3zM375 141h1v1h-1zM379 141h3v1h-3zM387 141h1v1h-1zM389 141h1v1h-1zM391 141h1v1h-1zM397 141h2v1h-2zM400 141h2v1h-2zM406 141h1v1h-1zM413 141h1v1h-1zM421 141h1v1h-1zM428 141h2v1h-2zM435 141h1v1h-1zM440 141h1v1h-1zM443 141h1v1h-1zM445 141h1v1h-1zM165 143h1v1h-1zM171 143h2v1h-2zM176 143h1v1h-1zM183 143h1v1h-1zM188 143h1v1h-1zM201 143h1v1h-1zM213 143h1v1h-1zM219 143h3v1h-3zM224 143h1v1h-1zM236 143h1v1h-1zM244 143h2v1h-2zM253 143h1v1h-1zM256 143h1v1h-1zM258 143h1v1h-1zM276 143h2v1h-2zM279 143h1v1h-1zM282 143h1v1h-1zM290 143h1v1h-1zM309 143h1v1h-1zM313 143h2v1h-2zM319 143h1v1h-1zM347 143h3v1h-3zM373 143h1v1h-1zM386 143h1v1h-1zM388 143h1v1h-1zM404 143h1v1h-1zM407 143h1v1h-1zM409 143h3v1h-3zM413 143h1v1h-1zM417 143h1v1h-1zM419 143h2v1h-2zM423 143h1v1h-1zM438 143h2v1h-2zM441 143h1v1h-1zM170 145h1v1h-1zM256 145h1v1h-1zM316 145h1v1h-1zM410 145h1v1h-1zM416 145h1v1h-1zM438 145h1v1h-1z"/>
<path fill="#fdc328" d="M369 110h1v1h-1zM336 112h1v1h-1zM356 112h1v1h-1zM396 112h1v1h-1zM424 112h1v1h-1zM238 118h1v1h-1zM340 120h1v1h-1zM370 124h1v1h-1zM166 141h1v1h-1zM179 141h1v1h-1zM181 141h1v1h-1zM192 141h1v1h-1zM194 141h4v1h-4zM217 141h1v1h-1zM228 141h2v1h-2zM232 141h1v1h-1zM235 141h1v1h-1zM244 141h1v1h-1zM259 141h1v1h-1zM267 141h2v1h-2zM292 141h1v1h-1zM295 141h1v1h-1zM300 141h5v1h-5zM306 141h1v1h-1zM324 141h1v1h-1zM327 141h1v1h-1zM336 141h1v1h-1zM352 141h2v1h-2zM355 141h4v1h-4zM370 141h1v1h-1zM372 141h1v1h-1zM376 141h1v1h-1zM378 141h1v1h-1zM393 141h1v1h-1zM399 141h1v1h-1zM422 141h1v1h-1zM424 141h1v1h-1zM444 141h1v1h-1zM163 143h1v1h-1zM167 143h1v1h-1zM170 143h1v1h-1zM179 143h4v1h-4zM185 143h2v1h-2zM190 143h1v1h-1zM195 143h1v1h-1zM197 143h1v1h-1zM203 143h1v1h-1zM205 143h1v1h-1zM208 143h1v1h-1zM211 143h2v1h-2zM215 143h4v1h-4zM226 143h1v1h-1zM228 143h1v1h-1zM232 143h1v1h-1zM234 143h2v1h-2zM238 143h1v1h-1zM241 143h2v1h-2zM247 143h4v1h-4zM252 143h1v1h-1zM254 143h1v1h-1zM261 143h2v1h-2zM264 143h2v1h-2zM269 143h6v1h-6zM283 143h4v1h-4zM289 143h1v1h-1zM291 143h4v1h-4zM298 143h1v1h-1zM302 143h1v1h-1zM307 143h1v1h-1zM311 143h2v1h-2zM318 143h1v1h-1zM320 143h3v1h-3zM324 143h3v1h-3zM332 143h1v1h-1zM339 143h1v1h-1zM344 143h3v1h-3zM350 143h2v1h-2zM357 143h2v1h-2zM361 143h3v1h-3zM367 143h1v1h-1zM372 143h1v1h-1zM374 143h1v1h-1zM378 143h5v1h-5zM384 143h2v1h-2zM387 143h1v1h-1zM391 143h2v1h-2zM394 143h3v1h-3zM398 143h3v1h-3zM405 143h1v1h-1zM415 143h1v1h-1zM418 143h1v1h-1zM424 143h5v1h-5zM431 143h1v1h-1zM437 143h1v1h-1zM440 143h1v1h-1zM442 143h4v1h-4zM168 145h2v1h-2zM171 145h1v1h-1zM174 145h1v1h-1zM176 145h1v1h-1zM181 145h2v1h-2zM189 145h1v1h-1zM201 145h1v1h-1zM212 145h1v1h-1zM222 145h1v1h-1zM224 145h2v1h-2zM245 145h1v1h-1zM247 145h1v1h-1zM254 145h2v1h-2zM257 145h1v1h-1zM264 145h1v1h-1zM284 145h2v1h-2zM288 145h1v1h-1zM304 145h1v1h-1zM314 145h2v1h-2zM319 145h3v1h-3zM348 145h1v1h-1zM350 145h1v1h-1zM352 145h1v1h-1zM376 145h1v1h-1zM382 145h1v1h-1zM384 145h1v1h-1zM388 145h2v1h-2zM400 145h1v1h-1zM402 145h1v1h-1zM411 145h3v1h-3zM415 145h1v1h-1zM417 145h3v1h-3zM431 145h1v1h-1zM434 145h2v1h-2zM437 145h1v1h-1zM439 145h1v1h-1zM442 145h1v1h-1zM170 147h1v1h-1zM225 147h1v1h-1zM280 147h1v1h-1zM315 147h1v1h-1zM317 147h1v1h-1zM349 147h2v1h-2zM404 147h1v1h-1zM406 147h1v1h-1zM408 147h2v1h-2zM411 147h1v1h-1zM413 147h1v1h-1zM418 147h1v1h-1zM435 147h1v1h-1z"/>
<path fill="#fdcb26" d="M242 141h1v1h-1zM339 141h2v1h-2zM354 141h1v1h-1zM368 141h2v1h-2zM164 143h1v1h-1zM177 143h2v1h-2zM189 143h1v1h-1zM191 143h1v1h-1zM196 143h1v1h-1zM198 143h1v1h-1zM206 143h2v1h-2zM209 143h1v1h-1zM227 143h1v1h-1zM233 143h1v1h-1zM237 143h1v1h-1zM240 143h1v1h-1zM263 143h1v1h-1zM268 143h1v1h-1zM280 143h2v1h-2zM287 143h1v1h-1zM296 143h1v1h-1zM299 143h3v1h-3zM303 143h2v1h-2zM310 143h1v1h-1zM329 143h2v1h-2zM333 143h1v1h-1zM335 143h2v1h-2zM338 143h1v1h-1zM341 143h3v1h-3zM352 143h3v1h-3zM365 143h1v1h-1zM369 143h1v1h-1zM371 143h1v1h-1zM376 143h2v1h-2zM383 143h1v1h-1zM390 143h1v1h-1zM393 143h1v1h-1zM397 143h1v1h-1zM429 143h1v1h-1zM432 143h1v1h-1zM162 145h1v1h-1zM166 145h2v1h-2zM172 145h2v1h-2zM178 145h2v1h-2zM184 145h1v1h-1zM186 145h1v1h-1zM191 145h3v1h-3zM195 145h6v1h-6zM205 145h3v1h-3zM213 145h4v1h-4zM219 145h1v1h-1zM227 145h1v1h-1zM232 145h3v1h-3zM237 145h2v1h-2zM240 145h1v1h-1zM242 145h2v1h-2zM246 145h1v1h-1zM261 145h3v1h-3zM266 145h3v1h-3zM272 145h3v1h-3zM278 145h1v1h-1zM280 145h1v1h-1zM283 145h1v1h-1zM286 145h1v1h-1zM290 145h4v1h-4zM295 145h1v1h-1zM298 145h1v1h-1zM300 145h1v1h-1zM303 145h1v1h-1zM305 145h1v1h-1zM308 145h3v1h-3zM312 145h1v1h-1zM318 145h1v1h-1zM324 145h1v1h-1zM327 145h1v1h-1zM330 145h3v1h-3zM337 145h1v1h-1zM339 145h1v1h-1zM343 145h1v1h-1zM345 145h1v1h-1zM347 145h1v1h-1zM349 145h1v1h-1zM351 145h1v1h-1zM358 145h1v1h-1zM360 145h1v1h-1zM365 145h1v1h-1zM367 145h1v1h-1zM371 145h2v1h-2zM374 145h1v1h-1zM377 145h2v1h-2zM381 145h1v1h-1zM386 145h2v1h-2zM393 145h2v1h-2zM397 145h1v1h-1zM399 145h1v1h-1zM401 145h1v1h-1zM403 145h2v1h-2zM407 145h2v1h-2zM420 145h2v1h-2zM423 145h3v1h-3zM430 145h1v1h-1zM441 145h1v1h-1zM443 145h2v1h-2zM161 147h1v1h-1zM165 147h1v1h-1zM168 147h2v1h-2zM171 147h1v1h-1zM173 147h4v1h-4zM184 147h1v1h-1zM186 147h1v1h-1zM193 147h1v1h-1zM198 147h1v1h-1zM200 147h6v1h-6zM210 147h2v1h-2zM213 147h3v1h-3zM217 147h2v1h-2zM220 147h1v1h-1zM223 147h1v1h-1zM228 147h1v1h-1zM244 147h1v1h-1zM246 147h3v1h-3zM252 147h4v1h-4zM258 147h1v1h-1zM269 147h1v1h-1zM271 147h1v1h-1zM274 147h1v1h-1zM276 147h4v1h-4zM285 147h1v1h-1zM294 147h2v1h-2zM297 147h1v1h-1zM299 147h1v1h-1zM308 147h1v1h-1zM313 147h2v1h-2zM318 147h2v1h-2zM325 147h1v1h-1zM330 147h1v1h-1zM345 147h1v1h-1zM347 147h2v1h-2zM361 147h1v1h-1zM371 147h1v1h-1zM376 147h1v1h-1zM385 147h2v1h-2zM388 147h3v1h-3zM394 147h1v1h-1zM401 147h3v1h-3zM407 147h1v1h-1zM412 147h1v1h-1zM419 147h1v1h-1zM421 147h1v1h-1zM424 147h2v1h-2zM438 147h2v1h-2zM167 149h1v1h-1zM217 149h1v1h-1zM255 149h2v1h-2zM316 149h1v1h-1zM319 149h1v1h-1zM387 149h1v1h-1zM407 149h1v1h-1zM412 149h1v1h-1zM437 149h2v1h-2zM411 151h1v1h-1zM415 151h1v1h-1zM410 153h1v1h-1z"/>
<path fill="#fbd324" d="M367 141h1v1h-1zM327 143h1v1h-1zM368 143h1v1h-1zM177 145h1v1h-1zM180 145h1v1h-1zM185 145h1v1h-1zM190 145h1v1h-1zM194 145h1v1h-1zM210 145h1v1h-1zM226 145h1v1h-1zM229 145h1v1h-1zM236 145h1v1h-1zM271 145h1v1h-1zM282 145h1v1h-1zM322 145h2v1h-2zM325 145h2v1h-2zM335 145h2v1h-2zM338 145h1v1h-1zM340 145h3v1h-3zM353 145h5v1h-5zM363 145h2v1h-2zM368 145h3v1h-3zM373 145h1v1h-1zM383 145h1v1h-1zM385 145h1v1h-1zM396 145h1v1h-1zM398 145h1v1h-1zM426 145h2v1h-2zM162 147h3v1h-3zM166 147h2v1h-2zM177 147h1v1h-1zM180 147h1v1h-1zM187 147h3v1h-3zM191 147h2v1h-2zM199 147h1v1h-1zM206 147h4v1h-4zM219 147h1v1h-1zM226 147h2v1h-2zM230 147h8v1h-8zM239 147h2v1h-2zM243 147h1v1h-1zM250 147h2v1h-2zM257 147h1v1h-1zM261 147h3v1h-3zM265 147h1v1h-1zM268 147h1v1h-1zM270 147h1v1h-1zM283 147h1v1h-1zM286 147h4v1h-4zM291 147h1v1h-1zM296 147h1v1h-1zM298 147h1v1h-1zM304 147h3v1h-3zM310 147h1v1h-1zM324 147h1v1h-1zM326 147h2v1h-2zM329 147h1v1h-1zM331 147h1v1h-1zM337 147h1v1h-1zM339 147h1v1h-1zM341 147h1v1h-1zM343 147h1v1h-1zM355 147h1v1h-1zM359 147h1v1h-1zM362 147h1v1h-1zM364 147h1v1h-1zM367 147h4v1h-4zM372 147h4v1h-4zM377 147h2v1h-2zM380 147h5v1h-5zM391 147h3v1h-3zM396 147h1v1h-1zM398 147h2v1h-2zM416 147h1v1h-1zM426 147h2v1h-2zM430 147h1v1h-1zM437 147h1v1h-1zM445 147h1v1h-1zM160 149h1v1h-1zM163 149h3v1h-3zM172 149h1v1h-1zM174 149h2v1h-2zM178 149h2v1h-2zM182 149h5v1h-5zM188 149h2v1h-2zM191 149h1v1h-1zM193 149h2v1h-2zM200 149h2v1h-2zM203 149h1v1h-1zM205 149h1v1h-1zM207 149h2v1h-2zM210 149h1v1h-1zM213 149h4v1h-4zM218 149h2v1h-2zM222 149h4v1h-4zM228 149h1v1h-1zM231 149h1v1h-1zM234 149h1v1h-1zM237 149h1v1h-1zM241 149h1v1h-1zM243 149h4v1h-4zM248 149h4v1h-4zM254 149h1v1h-1zM258 149h2v1h-2zM261 149h1v1h-1zM266 149h2v1h-2zM269 149h1v1h-1zM271 149h4v1h-4zM284 149h2v1h-2zM288 149h1v1h-1zM292 149h2v1h-2zM297 149h2v1h-2zM300 149h2v1h-2zM308 149h1v1h-1zM310 149h1v1h-1zM313 149h1v1h-1zM317 149h1v1h-1zM320 149h1v1h-1zM326 149h3v1h-3zM330 149h2v1h-2zM334 149h2v1h-2zM338 149h1v1h-1zM358 149h1v1h-1zM360 149h2v1h-2zM363 149h1v1h-1zM367 149h1v1h-1zM369 149h2v1h-2zM373 149h1v1h-1zM376 149h1v1h-1zM379 149h1v1h-1zM384 149h3v1h-3zM389 149h4v1h-4zM394 149h1v1h-1zM397 149h1v1h-1zM402 149h4v1h-4zM408 149h1v1h-1zM410 149h2v1h-2zM413 149h2v1h-2zM419 149h3v1h-3zM424 149h1v1h-1zM426 149h1v1h-1zM429 149h1v1h-1zM431 149h4v1h-4zM436 149h1v1h-1zM439 149h5v1h-5zM167 151h1v1h-1zM172 151h1v1h-1zM185 151h1v1h-1zM192 151h1v1h-1zM207 151h2v1h-2zM212 151h2v1h-2zM217 151h1v1h-1zM222 151h1v1h-1zM229 151h1v1h-1zM238 151h2v1h-2zM244 151h1v1h-1zM247 151h1v1h-1zM250 151h1v1h-1zM255 151h2v1h-2zM261 151h1v1h-1zM263 151h1v1h-1zM267 151h3v1h-3zM275 151h2v1h-2zM278 151h1v1h-1zM283 151h2v1h-2zM289 151h1v1h-1zM292 151h1v1h-1zM296 151h1v1h-1zM299 151h1v1h-1zM309 151h1v1h-1zM314 151h1v1h-1zM317 151h1v1h-1zM321 151h2v1h-2zM347 151h4v1h-4zM364 151h1v1h-1zM376 151h1v1h-1zM378 151h1v1h-1zM388 151h2v1h-2zM399 151h2v1h-2zM408 151h1v1h-1zM412 151h2v1h-2zM417 151h1v1h-1zM419 151h1v1h-1zM434 151h1v1h-1zM437 151h1v1h-1zM440 151h3v1h-3zM203 153h1v1h-1zM205 153h2v1h-2zM223 153h1v1h-1zM264 153h1v1h-1zM282 153h1v1h-1zM285 153h1v1h-1zM313 153h4v1h-4zM348 153h1v1h-1zM388 153h1v1h-1zM400 153h1v1h-1zM403 153h1v1h-1zM413 153h2v1h-2zM416 153h3v1h-3zM435 153h1v1h-1zM438 153h1v1h-1zM255 155h1v1h-1zM401 155h1v1h-1zM412 155h1v1h-1zM387 159h1v1h-1z"/>
<path fill="#f9dd25" d="M185 147h1v1h-1zM190 147h1v1h-1zM238 147h1v1h-1zM301 147h1v1h-1zM340 147h1v1h-1zM342 147h1v1h-1zM356 147h1v1h-1zM363 147h1v1h-1zM365 147h1v1h-1zM431 147h1v1h-1zM161 149h1v1h-1zM206 149h1v1h-1zM227 149h1v1h-1zM229 149h2v1h-2zM232 149h2v1h-2zM252 149h1v1h-1zM263 149h1v1h-1zM270 149h1v1h-1zM287 149h1v1h-1zM291 149h1v1h-1zM294 149h1v1h-1zM296 149h1v1h-1zM303 149h4v1h-4zM309 149h1v1h-1zM332 149h2v1h-2zM336 149h2v1h-2zM339 149h1v1h-1zM354 149h1v1h-1zM357 149h1v1h-1zM359 149h1v1h-1zM365 149h2v1h-2zM368 149h1v1h-1zM371 149h1v1h-1zM375 149h1v1h-1zM380 149h1v1h-1zM382 149h1v1h-1zM393 149h1v1h-1zM399 149h3v1h-3zM418 149h1v1h-1zM425 149h1v1h-1zM444 149h1v1h-1zM160 151h1v1h-1zM162 151h1v1h-1zM164 151h3v1h-3zM175 151h1v1h-1zM177 151h1v1h-1zM179 151h1v1h-1zM181 151h4v1h-4zM189 151h1v1h-1zM191 151h1v1h-1zM193 151h5v1h-5zM201 151h1v1h-1zM210 151h1v1h-1zM215 151h2v1h-2zM218 151h2v1h-2zM224 151h5v1h-5zM233 151h1v1h-1zM235 151h2v1h-2zM241 151h2v1h-2zM249 151h1v1h-1zM251 151h1v1h-1zM253 151h2v1h-2zM260 151h1v1h-1zM262 151h1v1h-1zM265 151h2v1h-2zM270 151h2v1h-2zM273 151h2v1h-2zM280 151h1v1h-1zM288 151h1v1h-1zM290 151h2v1h-2zM294 151h2v1h-2zM305 151h1v1h-1zM307 151h1v1h-1zM324 151h2v1h-2zM327 151h1v1h-1zM329 151h2v1h-2zM332 151h1v1h-1zM335 151h1v1h-1zM337 151h1v1h-1zM342 151h1v1h-1zM355 151h1v1h-1zM357 151h2v1h-2zM361 151h1v1h-1zM367 151h4v1h-4zM374 151h2v1h-2zM377 151h1v1h-1zM380 151h1v1h-1zM382 151h1v1h-1zM387 151h1v1h-1zM390 151h5v1h-5zM396 151h1v1h-1zM422 151h3v1h-3zM426 151h4v1h-4zM432 151h2v1h-2zM444 151h1v1h-1zM162 153h3v1h-3zM168 153h1v1h-1zM178 153h1v1h-1zM180 153h1v1h-1zM182 153h1v1h-1zM187 153h2v1h-2zM190 153h1v1h-1zM192 153h1v1h-1zM195 153h1v1h-1zM198 153h1v1h-1zM200 153h3v1h-3zM204 153h1v1h-1zM207 153h2v1h-2zM215 153h3v1h-3zM226 153h2v1h-2zM235 153h1v1h-1zM237 153h2v1h-2zM241 153h1v1h-1zM249 153h1v1h-1zM252 153h2v1h-2zM255 153h1v1h-1zM257 153h1v1h-1zM259 153h5v1h-5zM265 153h1v1h-1zM267 153h1v1h-1zM269 153h1v1h-1zM272 153h7v1h-7zM281 153h1v1h-1zM283 153h1v1h-1zM286 153h2v1h-2zM291 153h2v1h-2zM295 153h1v1h-1zM297 153h1v1h-1zM299 153h1v1h-1zM301 153h4v1h-4zM310 153h3v1h-3zM320 153h2v1h-2zM324 153h4v1h-4zM344 153h1v1h-1zM347 153h1v1h-1zM349 153h1v1h-1zM351 153h1v1h-1zM353 153h1v1h-1zM356 153h1v1h-1zM360 153h2v1h-2zM363 153h1v1h-1zM370 153h1v1h-1zM378 153h1v1h-1zM384 153h1v1h-1zM389 153h2v1h-2zM392 153h1v1h-1zM397 153h1v1h-1zM404 153h2v1h-2zM415 153h1v1h-1zM421 153h1v1h-1zM425 153h1v1h-1zM427 153h1v1h-1zM431 153h1v1h-1zM437 153h1v1h-1zM441 153h2v1h-2zM444 153h2v1h-2zM160 155h1v1h-1zM184 155h2v1h-2zM197 155h1v1h-1zM199 155h3v1h-3zM203 155h1v1h-1zM210 155h1v1h-1zM212 155h1v1h-1zM217 155h1v1h-1zM224 155h1v1h-1zM242 155h1v1h-1zM256 155h1v1h-1zM267 155h2v1h-2zM272 155h2v1h-2zM281 155h1v1h-1zM302 155h1v1h-1zM310 155h2v1h-2zM320 155h1v1h-1zM323 155h3v1h-3zM345 155h1v1h-1zM347 155h1v1h-1zM374 155h1v1h-1zM379 155h1v1h-1zM390 155h1v1h-1zM392 155h2v1h-2zM403 155h1v1h-1zM420 155h1v1h-1zM431 155h1v1h-1zM435 155h1v1h-1zM171 157h1v1h-1zM176 157h1v1h-1zM188 157h1v1h-1zM199 157h1v1h-1zM221 157h1v1h-1zM226 157h1v1h-1zM281 157h1v1h-1zM362 157h1v1h-1zM388 157h1v1h-1zM390 157h1v1h-1zM160 159h1v1h-1zM172 159h1v1h-1zM175 159h1v1h-1zM199 159h1v1h-1zM216 159h1v1h-1zM246 159h1v1h-1zM254 159h3v1h-3zM266 159h2v1h-2zM270 159h1v1h-1zM286 159h1v1h-1zM295 159h1v1h-1zM351 159h1v1h-1zM391 159h1v1h-1zM410 159h1v1h-1zM413 159h2v1h-2zM421 159h2v1h-2zM279 161h1v1h-1zM286 161h1v1h-1zM346 161h1v1h-1zM348 161h1v1h-1zM378 161h1v1h-1zM429 161h1v1h-1zM440 161h1v1h-1zM222 163h1v1h-1zM389 163h1v1h-1zM410 165h1v1h-1zM441 165h1v1h-1zM350 167h1v1h-1z"/>
<path fill="#f6e626" d="M427 149h1v1h-1zM445 149h1v1h-1zM161 151h1v1h-1zM343 151h1v1h-1zM395 151h1v1h-1zM397 151h1v1h-1zM228 153h1v1h-1zM305 153h1v1h-1zM331 153h1v1h-1zM333 153h3v1h-3zM343 153h1v1h-1zM352 153h1v1h-1zM369 153h1v1h-1zM426 153h1v1h-1zM443 153h1v1h-1zM166 155h1v1h-1zM179 155h1v1h-1zM183 155h1v1h-1zM188 155h1v1h-1zM193 155h1v1h-1zM196 155h1v1h-1zM209 155h1v1h-1zM211 155h1v1h-1zM225 155h1v1h-1zM228 155h2v1h-2zM231 155h1v1h-1zM235 155h1v1h-1zM241 155h1v1h-1zM261 155h1v1h-1zM266 155h1v1h-1zM286 155h2v1h-2zM296 155h1v1h-1zM301 155h1v1h-1zM307 155h1v1h-1zM338 155h1v1h-1zM341 155h1v1h-1zM346 155h1v1h-1zM362 155h1v1h-1zM367 155h1v1h-1zM375 155h1v1h-1zM380 155h1v1h-1zM397 155h1v1h-1zM163 157h1v1h-1zM194 157h1v1h-1zM212 157h1v1h-1zM217 157h1v1h-1zM229 157h1v1h-1zM234 157h1v1h-1zM237 157h1v1h-1zM262 157h1v1h-1zM264 157h1v1h-1zM291 157h1v1h-1zM302 157h1v1h-1zM309 157h1v1h-1zM326 157h2v1h-2zM329 157h1v1h-1zM338 157h2v1h-2zM342 157h1v1h-1zM344 157h1v1h-1zM352 157h2v1h-2zM356 157h1v1h-1zM360 157h1v1h-1zM365 157h1v1h-1zM368 157h1v1h-1zM371 157h1v1h-1zM428 157h1v1h-1zM431 157h1v1h-1zM437 157h1v1h-1zM178 159h1v1h-1zM188 159h4v1h-4zM193 159h1v1h-1zM203 159h1v1h-1zM210 159h1v1h-1zM240 159h1v1h-1zM259 159h1v1h-1zM290 159h1v1h-1zM297 159h2v1h-2zM304 159h1v1h-1zM310 159h1v1h-1zM323 159h1v1h-1zM330 159h1v1h-1zM335 159h1v1h-1zM352 159h1v1h-1zM401 159h1v1h-1zM425 159h1v1h-1zM433 159h1v1h-1zM443 159h1v1h-1zM163 161h1v1h-1zM180 161h1v1h-1zM182 161h1v1h-1zM185 161h1v1h-1zM233 161h1v1h-1zM238 161h1v1h-1zM253 161h1v1h-1zM339 161h1v1h-1zM356 161h1v1h-1zM427 161h1v1h-1zM443 161h1v1h-1zM190 163h1v1h-1zM240 163h1v1h-1zM276 163h1v1h-1zM403 163h1v1h-1zM165 165h1v1h-1zM167 165h1v1h-1zM169 165h1v1h-1zM171 165h2v1h-2zM174 165h1v1h-1zM183 165h1v1h-1zM186 165h1v1h-1zM190 165h1v1h-1zM194 165h1v1h-1zM198 165h2v1h-2zM201 165h7v1h-7zM211 165h1v1h-1zM213 165h1v1h-1zM216 165h2v1h-2zM223 165h1v1h-1zM225 165h1v1h-1zM229 165h1v1h-1zM234 165h3v1h-3zM245 165h1v1h-1zM247 165h3v1h-3zM252 165h1v1h-1zM254 165h3v1h-3zM258 165h2v1h-2zM261 165h1v1h-1zM265 165h6v1h-6zM273 165h2v1h-2zM284 165h3v1h-3zM295 165h1v1h-1zM298 165h1v1h-1zM300 165h1v1h-1zM302 165h1v1h-1zM304 165h1v1h-1zM308 165h1v1h-1zM312 165h2v1h-2zM320 165h1v1h-1zM331 165h1v1h-1zM343 165h4v1h-4zM351 165h1v1h-1zM374 165h1v1h-1zM376 165h1v1h-1zM379 165h1v1h-1zM382 165h1v1h-1zM401 165h1v1h-1zM404 165h1v1h-1zM406 165h1v1h-1zM408 165h2v1h-2zM411 165h1v1h-1zM414 165h1v1h-1zM434 165h3v1h-3zM439 165h1v1h-1zM442 165h1v1h-1zM167 167h7v1h-7zM183 167h2v1h-2zM188 167h1v1h-1zM195 167h1v1h-1zM197 167h1v1h-1zM199 167h2v1h-2zM202 167h3v1h-3zM208 167h1v1h-1zM217 167h1v1h-1zM219 167h1v1h-1zM221 167h1v1h-1zM231 167h1v1h-1zM235 167h1v1h-1zM237 167h1v1h-1zM239 167h2v1h-2zM244 167h1v1h-1zM246 167h1v1h-1zM249 167h1v1h-1zM252 167h2v1h-2zM272 167h2v1h-2zM276 167h1v1h-1zM278 167h1v1h-1zM282 167h2v1h-2zM285 167h1v1h-1zM295 167h1v1h-1zM298 167h1v1h-1zM304 167h1v1h-1zM313 167h1v1h-1zM315 167h5v1h-5zM323 167h2v1h-2zM332 167h1v1h-1zM345 167h5v1h-5zM381 167h1v1h-1zM386 167h1v1h-1zM388 167h1v1h-1zM390 167h1v1h-1zM392 167h1v1h-1zM395 167h1v1h-1zM398 167h1v1h-1zM400 167h1v1h-1zM402 167h2v1h-2zM408 167h1v1h-1zM411 167h1v1h-1zM413 167h2v1h-2zM417 167h2v1h-2zM423 167h1v1h-1zM433 167h1v1h-1zM437 167h1v1h-1zM227 179h1v1h-1zM163 184h1v1h-1zM167 184h1v1h-1zM170 184h1v1h-1zM172 184h4v1h-4zM183 184h1v1h-1zM186 184h1v1h-1zM203 184h2v1h-2zM216 184h2v1h-2zM220 184h1v1h-1zM242 184h2v1h-2zM247 184h1v1h-1zM252 184h2v1h-2zM255 184h1v1h-1zM257 184h1v1h-1zM264 184h1v1h-1zM267 184h1v1h-1zM273 184h3v1h-3zM277 184h2v1h-2zM282 184h1v1h-1zM285 184h1v1h-1zM287 184h1v1h-1zM289 184h1v1h-1zM316 184h3v1h-3zM320 184h1v1h-1zM333 184h1v1h-1zM335 184h1v1h-1zM344 184h2v1h-2zM349 184h4v1h-4zM376 184h1v1h-1zM389 184h2v1h-2zM401 184h4v1h-4zM407 184h1v1h-1zM411 184h2v1h-2zM414 184h1v1h-1zM416 184h5v1h-5zM434 184h1v1h-1zM436 184h2v1h-2zM440 184h1v1h-1zM160 186h1v1h-1zM171 186h1v1h-1zM173 186h1v1h-1zM175 186h3v1h-3zM179 186h1v1h-1zM184 186h1v1h-1zM206 186h1v1h-1zM213 186h1v1h-1zM215 186h1v1h-1zM225 186h1v1h-1zM233 186h1v1h-1zM241 186h1v1h-1zM253 186h1v1h-1zM256 186h2v1h-2zM259 186h1v1h-1zM265 186h1v1h-1zM268 186h1v1h-1zM270 186h1v1h-1zM273 186h1v1h-1zM275 186h1v1h-1zM277 186h2v1h-2zM280 186h1v1h-1zM298 186h1v1h-1zM301 186h1v1h-1zM310 186h3v1h-3zM314 186h1v1h-1zM319 186h1v1h-1zM321 186h2v1h-2zM346 186h1v1h-1zM348 186h3v1h-3zM362 186h1v1h-1zM378 186h1v1h-1zM381 186h1v1h-1zM388 186h1v1h-1zM391 186h2v1h-2zM407 186h1v1h-1zM410 186h2v1h-2zM414 186h1v1h-1zM417 186h1v1h-1zM419 186h1v1h-1zM432 186h1v1h-1zM435 186h2v1h-2zM438 186h2v1h-2zM169 188h1v1h-1zM201 188h1v1h-1zM203 188h2v1h-2zM214 188h1v1h-1zM221 188h1v1h-1zM253 188h1v1h-1zM255 188h1v1h-1zM280 188h1v1h-1zM282 188h1v1h-1zM314 188h1v1h-1zM337 188h1v1h-1zM374 188h1v1h-1zM384 188h1v1h-1zM389 188h2v1h-2zM403 188h1v1h-1zM407 188h3v1h-3zM411 188h1v1h-1zM413 188h2v1h-2zM416 188h3v1h-3zM420 188h1v1h-1zM438 188h3v1h-3zM167 192h1v1h-1zM172 192h1v1h-1zM174 192h2v1h-2zM200 192h1v1h-1zM203 192h2v1h-2zM220 192h1v1h-1zM224 192h1v1h-1zM244 192h1v1h-1zM253 192h1v1h-1zM256 192h2v1h-2zM259 192h1v1h-1zM281 192h1v1h-1zM313 192h1v1h-1zM315 192h3v1h-3zM347 192h4v1h-4zM381 192h1v1h-1zM390 192h1v1h-1zM406 192h3v1h-3zM410 192h2v1h-2zM413 192h3v1h-3zM417 192h3v1h-3zM434 192h1v1h-1zM436 192h2v1h-2zM439 192h2v1h-2zM258 196h1v1h-1zM263 196h1v1h-1zM316 196h3v1h-3zM408 196h1v1h-1zM418 196h1v1h-1zM170 200h1v1h-1zM247 200h1v1h-1zM316 200h1v1h-1zM386 200h1v1h-1zM164 204h1v1h-1zM223 204h1v1h-1zM221 206h1v1h-1zM258 206h1v1h-1z"/>
<path fill="#f3ee27" d="M356 155h1v1h-1zM343 159h1v1h-1zM370 159h1v1h-1zM235 163h1v1h-1zM338 163h1v1h-1zM342 163h1v1h-1zM181 165h2v1h-2zM189 165h1v1h-1zM192 165h2v1h-2zM195 165h1v1h-1zM212 165h1v1h-1zM228 165h1v1h-1zM233 165h1v1h-1zM238 165h2v1h-2zM243 165h1v1h-1zM257 165h1v1h-1zM260 165h1v1h-1zM262 165h3v1h-3zM289 165h2v1h-2zM293 165h1v1h-1zM299 165h1v1h-1zM301 165h1v1h-1zM303 165h1v1h-1zM309 165h2v1h-2zM321 165h1v1h-1zM324 165h2v1h-2zM329 165h2v1h-2zM332 165h4v1h-4zM342 165h1v1h-1zM352 165h1v1h-1zM355 165h3v1h-3zM363 165h1v1h-1zM365 165h1v1h-1zM371 165h3v1h-3zM375 165h1v1h-1zM380 165h2v1h-2zM383 165h2v1h-2zM393 165h1v1h-1zM395 165h1v1h-1zM397 165h1v1h-1zM400 165h1v1h-1zM423 165h3v1h-3zM430 165h2v1h-2zM161 167h2v1h-2zM164 167h1v1h-1zM176 167h1v1h-1zM180 167h2v1h-2zM186 167h1v1h-1zM189 167h2v1h-2zM192 167h3v1h-3zM201 167h1v1h-1zM210 167h1v1h-1zM225 167h3v1h-3zM230 167h1v1h-1zM232 167h3v1h-3zM236 167h1v1h-1zM238 167h1v1h-1zM242 167h1v1h-1zM266 167h1v1h-1zM274 167h2v1h-2zM286 167h1v1h-1zM291 167h1v1h-1zM293 167h2v1h-2zM296 167h2v1h-2zM301 167h2v1h-2zM305 167h2v1h-2zM308 167h1v1h-1zM310 167h1v1h-1zM320 167h3v1h-3zM327 167h3v1h-3zM333 167h2v1h-2zM336 167h8v1h-8zM351 167h3v1h-3zM355 167h1v1h-1zM357 167h1v1h-1zM359 167h2v1h-2zM364 167h3v1h-3zM368 167h6v1h-6zM380 167h1v1h-1zM391 167h1v1h-1zM393 167h2v1h-2zM396 167h2v1h-2zM399 167h1v1h-1zM401 167h1v1h-1zM406 167h2v1h-2zM424 167h1v1h-1zM428 167h2v1h-2zM431 167h1v1h-1zM435 167h2v1h-2zM440 167h1v1h-1zM443 167h1v1h-1zM445 167h1v1h-1zM426 179h1v1h-1zM160 184h3v1h-3zM164 184h3v1h-3zM169 184h1v1h-1zM177 184h4v1h-4zM182 184h1v1h-1zM184 184h1v1h-1zM188 184h5v1h-5zM194 184h7v1h-7zM205 184h1v1h-1zM207 184h1v1h-1zM209 184h2v1h-2zM212 184h1v1h-1zM214 184h2v1h-2zM221 184h2v1h-2zM224 184h5v1h-5zM231 184h2v1h-2zM234 184h1v1h-1zM236 184h1v1h-1zM239 184h1v1h-1zM246 184h1v1h-1zM248 184h4v1h-4zM259 184h5v1h-5zM265 184h2v1h-2zM269 184h3v1h-3zM276 184h1v1h-1zM279 184h1v1h-1zM284 184h1v1h-1zM286 184h1v1h-1zM288 184h1v1h-1zM290 184h9v1h-9zM300 184h3v1h-3zM305 184h1v1h-1zM307 184h7v1h-7zM321 184h2v1h-2zM324 184h1v1h-1zM326 184h3v1h-3zM331 184h2v1h-2zM336 184h4v1h-4zM341 184h1v1h-1zM343 184h1v1h-1zM346 184h2v1h-2zM353 184h1v1h-1zM355 184h2v1h-2zM358 184h2v1h-2zM362 184h1v1h-1zM365 184h10v1h-10zM379 184h3v1h-3zM383 184h1v1h-1zM385 184h2v1h-2zM388 184h1v1h-1zM391 184h3v1h-3zM395 184h1v1h-1zM399 184h1v1h-1zM410 184h1v1h-1zM421 184h1v1h-1zM423 184h4v1h-4zM428 184h2v1h-2zM431 184h2v1h-2zM435 184h1v1h-1zM443 184h3v1h-3zM161 186h1v1h-1zM163 186h4v1h-4zM172 186h1v1h-1zM178 186h1v1h-1zM180 186h4v1h-4zM187 186h1v1h-1zM189 186h1v1h-1zM194 186h2v1h-2zM199 186h2v1h-2zM202 186h1v1h-1zM204 186h2v1h-2zM208 186h5v1h-5zM214 186h1v1h-1zM216 186h1v1h-1zM222 186h1v1h-1zM226 186h1v1h-1zM229 186h4v1h-4zM234 186h4v1h-4zM240 186h1v1h-1zM242 186h2v1h-2zM245 186h5v1h-5zM252 186h1v1h-1zM255 186h1v1h-1zM261 186h4v1h-4zM271 186h2v1h-2zM274 186h1v1h-1zM279 186h1v1h-1zM282 186h1v1h-1zM285 186h1v1h-1zM289 186h4v1h-4zM294 186h1v1h-1zM297 186h1v1h-1zM299 186h1v1h-1zM302 186h4v1h-4zM308 186h2v1h-2zM318 186h1v1h-1zM323 186h2v1h-2zM327 186h5v1h-5zM333 186h3v1h-3zM337 186h1v1h-1zM340 186h1v1h-1zM342 186h4v1h-4zM354 186h2v1h-2zM358 186h4v1h-4zM363 186h1v1h-1zM365 186h2v1h-2zM368 186h6v1h-6zM375 186h1v1h-1zM377 186h1v1h-1zM382 186h6v1h-6zM396 186h4v1h-4zM401 186h1v1h-1zM405 186h1v1h-1zM420 186h3v1h-3zM425 186h3v1h-3zM430 186h2v1h-2zM433 186h2v1h-2zM442 186h3v1h-3zM162 188h2v1h-2zM165 188h2v1h-2zM168 188h1v1h-1zM176 188h1v1h-1zM179 188h7v1h-7zM187 188h3v1h-3zM191 188h1v1h-1zM194 188h2v1h-2zM202 188h1v1h-1zM205 188h7v1h-7zM213 188h1v1h-1zM218 188h1v1h-1zM223 188h1v1h-1zM225 188h3v1h-3zM230 188h1v1h-1zM233 188h4v1h-4zM238 188h4v1h-4zM243 188h1v1h-1zM248 188h1v1h-1zM254 188h1v1h-1zM258 188h2v1h-2zM270 188h5v1h-5zM281 188h1v1h-1zM290 188h3v1h-3zM295 188h1v1h-1zM300 188h2v1h-2zM306 188h3v1h-3zM311 188h1v1h-1zM322 188h1v1h-1zM324 188h4v1h-4zM330 188h1v1h-1zM339 188h2v1h-2zM342 188h6v1h-6zM349 188h1v1h-1zM351 188h1v1h-1zM353 188h2v1h-2zM356 188h4v1h-4zM362 188h3v1h-3zM366 188h1v1h-1zM370 188h2v1h-2zM373 188h1v1h-1zM379 188h3v1h-3zM383 188h1v1h-1zM385 188h2v1h-2zM391 188h3v1h-3zM395 188h1v1h-1zM398 188h5v1h-5zM410 188h1v1h-1zM412 188h1v1h-1zM421 188h3v1h-3zM426 188h1v1h-1zM428 188h2v1h-2zM437 188h1v1h-1zM443 188h2v1h-2zM161 192h4v1h-4zM168 192h1v1h-1zM173 192h1v1h-1zM176 192h1v1h-1zM179 192h7v1h-7zM188 192h2v1h-2zM191 192h2v1h-2zM196 192h4v1h-4zM201 192h1v1h-1zM205 192h9v1h-9zM215 192h2v1h-2zM225 192h2v1h-2zM229 192h1v1h-1zM231 192h7v1h-7zM240 192h3v1h-3zM245 192h7v1h-7zM254 192h2v1h-2zM258 192h1v1h-1zM260 192h5v1h-5zM266 192h3v1h-3zM271 192h1v1h-1zM273 192h8v1h-8zM282 192h2v1h-2zM285 192h3v1h-3zM290 192h1v1h-1zM293 192h2v1h-2zM296 192h2v1h-2zM300 192h2v1h-2zM304 192h9v1h-9zM314 192h1v1h-1zM319 192h2v1h-2zM323 192h4v1h-4zM329 192h1v1h-1zM332 192h1v1h-1zM336 192h4v1h-4zM341 192h4v1h-4zM346 192h1v1h-1zM351 192h1v1h-1zM353 192h1v1h-1zM355 192h3v1h-3zM359 192h4v1h-4zM365 192h1v1h-1zM367 192h3v1h-3zM371 192h10v1h-10zM382 192h1v1h-1zM385 192h3v1h-3zM389 192h1v1h-1zM391 192h3v1h-3zM402 192h3v1h-3zM409 192h1v1h-1zM412 192h1v1h-1zM416 192h1v1h-1zM420 192h5v1h-5zM427 192h3v1h-3zM433 192h1v1h-1zM438 192h1v1h-1zM441 192h5v1h-5zM168 196h2v1h-2zM173 196h1v1h-1zM187 196h1v1h-1zM190 196h2v1h-2zM194 196h1v1h-1zM196 196h1v1h-1zM199 196h1v1h-1zM202 196h1v1h-1zM210 196h1v1h-1zM214 196h3v1h-3zM221 196h1v1h-1zM224 196h1v1h-1zM236 196h2v1h-2zM239 196h1v1h-1zM243 196h3v1h-3zM249 196h1v1h-1zM251 196h1v1h-1zM264 196h1v1h-1zM266 196h1v1h-1zM268 196h1v1h-1zM272 196h1v1h-1zM275 196h1v1h-1zM277 196h2v1h-2zM284 196h3v1h-3zM291 196h1v1h-1zM299 196h1v1h-1zM301 196h2v1h-2zM309 196h1v1h-1zM312 196h1v1h-1zM322 196h1v1h-1zM324 196h2v1h-2zM333 196h2v1h-2zM336 196h2v1h-2zM342 196h2v1h-2zM350 196h3v1h-3zM360 196h1v1h-1zM363 196h1v1h-1zM365 196h1v1h-1zM370 196h1v1h-1zM379 196h1v1h-1zM383 196h1v1h-1zM387 196h1v1h-1zM392 196h1v1h-1zM397 196h1v1h-1zM400 196h1v1h-1zM402 196h1v1h-1zM405 196h1v1h-1zM415 196h1v1h-1zM421 196h2v1h-2zM427 196h3v1h-3zM432 196h1v1h-1zM435 196h1v1h-1zM440 196h1v1h-1zM178 200h1v1h-1zM193 200h1v1h-1zM206 200h1v1h-1zM216 200h1v1h-1zM267 200h1v1h-1zM275 200h1v1h-1zM303 200h1v1h-1zM329 200h1v1h-1zM335 200h1v1h-1zM380 200h1v1h-1zM388 200h1v1h-1zM425 200h1v1h-1zM436 200h1v1h-1zM167 204h1v1h-1zM179 204h1v1h-1zM186 204h2v1h-2zM199 204h1v1h-1zM233 204h2v1h-2zM258 204h1v1h-1zM279 204h1v1h-1zM286 204h1v1h-1zM289 204h1v1h-1zM332 204h1v1h-1zM337 204h1v1h-1zM373 204h1v1h-1zM378 204h1v1h-1zM387 204h1v1h-1zM392 204h1v1h-1zM415 204h1v1h-1zM439 204h1v1h-1zM441 204h1v1h-1zM164 206h2v1h-2zM167 206h1v1h-1zM169 206h1v1h-1zM171 206h1v1h-1zM173 206h2v1h-2zM176 206h2v1h-2zM184 206h1v1h-1zM188 206h1v1h-1zM192 206h1v1h-1zM197 206h2v1h-2zM202 206h3v1h-3zM206 206h1v1h-1zM210 206h1v1h-1zM213 206h1v1h-1zM218 206h2v1h-2zM222 206h2v1h-2zM225 206h1v1h-1zM227 206h1v1h-1zM239 206h1v1h-1zM244 206h1v1h-1zM246 206h2v1h-2zM249 206h1v1h-1zM253 206h3v1h-3zM261 206h1v1h-1zM264 206h3v1h-3zM268 206h1v1h-1zM273 206h1v1h-1zM276 206h1v1h-1zM279 206h1v1h-1zM281 206h2v1h-2zM286 206h1v1h-1zM289 206h1v1h-1zM292 206h5v1h-5zM301 206h4v1h-4zM307 206h1v1h-1zM320 206h1v1h-1zM324 206h1v1h-1zM326 206h1v1h-1zM337 206h1v1h-1zM340 206h1v1h-1zM345 206h4v1h-4zM351 206h1v1h-1zM359 206h1v1h-1zM361 206h1v1h-1zM364 206h2v1h-2zM368 206h1v1h-1zM373 206h3v1h-3zM393 206h2v1h-2zM404 206h2v1h-2zM407 206h2v1h-2zM410 206h1v1h-1zM412 206h1v1h-1zM415 206h2v1h-2zM420 206h1v1h-1zM427 206h1v1h-1zM433 206h1v1h-1zM435 206h1v1h-1zM439 206h4v1h-4zM444 206h2v1h-2zM163 208h1v1h-1zM171 208h4v1h-4zM186 208h1v1h-1zM199 208h1v1h-1zM203 208h2v1h-2zM206 208h1v1h-1zM208 208h1v1h-1zM222 208h1v1h-1zM232 208h1v1h-1zM240 208h1v1h-1zM242 208h1v1h-1zM255 208h2v1h-2zM269 208h1v1h-1zM287 208h1v1h-1zM290 208h1v1h-1zM294 208h2v1h-2zM298 208h1v1h-1zM302 208h1v1h-1zM310 208h1v1h-1zM324 208h1v1h-1zM329 208h1v1h-1zM332 208h1v1h-1zM341 208h1v1h-1zM346 208h2v1h-2zM349 208h1v1h-1zM356 208h1v1h-1zM358 208h1v1h-1zM361 208h1v1h-1zM364 208h1v1h-1zM366 208h1v1h-1zM376 208h1v1h-1zM382 208h1v1h-1zM388 208h1v1h-1zM398 208h1v1h-1zM400 208h2v1h-2zM403 208h1v1h-1zM406 208h1v1h-1zM413 208h1v1h-1zM434 208h1v1h-1zM168 220h1v1h-1zM445 220h1v1h-1zM161 229h5v1h-5zM167 229h2v1h-2zM170 229h4v1h-4zM175 229h2v1h-2zM181 229h1v1h-1zM183 229h1v1h-1zM185 229h9v1h-9zM195 229h8v1h-8zM204 229h2v1h-2zM207 229h2v1h-2zM212 229h12v1h-12zM225 229h1v1h-1zM232 229h1v1h-1zM234 229h4v1h-4zM240 229h2v1h-2zM243 229h4v1h-4zM248 229h1v1h-1zM250 229h15v1h-15zM266 229h4v1h-4zM271 229h2v1h-2zM274 229h5v1h-5zM280 229h2v1h-2zM283 229h4v1h-4zM292 229h1v1h-1zM294 229h1v1h-1zM296 229h2v1h-2zM299 229h5v1h-5zM306 229h1v1h-1zM309 229h1v1h-1zM311 229h6v1h-6zM318 229h3v1h-3zM322 229h7v1h-7zM330 229h2v1h-2zM334 229h1v1h-1zM339 229h1v1h-1zM344 229h6v1h-6zM351 229h3v1h-3zM357 229h1v1h-1zM359 229h2v1h-2zM364 229h2v1h-2zM371 229h1v1h-1zM373 229h1v1h-1zM375 229h5v1h-5zM381 229h1v1h-1zM383 229h8v1h-8zM392 229h2v1h-2zM400 229h14v1h-14zM415 229h1v1h-1zM417 229h5v1h-5zM425 229h1v1h-1zM428 229h1v1h-1zM431 229h9v1h-9zM441 229h2v1h-2zM164 233h2v1h-2zM167 233h2v1h-2zM170 233h6v1h-6zM181 233h1v1h-1zM183 233h1v1h-1zM189 233h1v1h-1zM198 233h1v1h-1zM201 233h3v1h-3zM205 233h2v1h-2zM209 233h1v1h-1zM213 233h1v1h-1zM215 233h1v1h-1zM219 233h5v1h-5zM233 233h1v1h-1zM236 233h1v1h-1zM238 233h1v1h-1zM241 233h3v1h-3zM245 233h1v1h-1zM247 233h1v1h-1zM251 233h1v1h-1zM254 233h4v1h-4zM259 233h1v1h-1zM263 233h2v1h-2zM267 233h1v1h-1zM270 233h2v1h-2zM276 233h1v1h-1zM279 233h1v1h-1zM281 233h2v1h-2zM285 233h3v1h-3zM296 233h1v1h-1zM298 233h1v1h-1zM300 233h1v1h-1zM303 233h1v1h-1zM307 233h1v1h-1zM309 233h2v1h-2zM314 233h2v1h-2zM317 233h3v1h-3zM336 233h1v1h-1zM346 233h1v1h-1zM348 233h3v1h-3zM360 233h3v1h-3zM373 233h2v1h-2zM376 233h2v1h-2zM379 233h1v1h-1zM381 233h1v1h-1zM383 233h1v1h-1zM385 233h1v1h-1zM387 233h5v1h-5zM399 233h2v1h-2zM403 233h2v1h-2zM406 233h3v1h-3zM410 233h5v1h-5zM416 233h1v1h-1zM418 233h1v1h-1zM420 233h3v1h-3zM435 233h4v1h-4zM440 233h3v1h-3zM162 237h1v1h-1zM166 237h1v1h-1zM168 237h1v1h-1zM170 237h1v1h-1zM172 237h2v1h-2zM175 237h1v1h-1zM182 237h3v1h-3zM188 237h1v1h-1zM191 237h1v1h-1zM193 237h1v1h-1zM196 237h1v1h-1zM203 237h2v1h-2zM208 237h1v1h-1zM210 237h1v1h-1zM213 237h1v1h-1zM217 237h2v1h-2zM220 237h5v1h-5zM228 237h1v1h-1zM232 237h1v1h-1zM237 237h1v1h-1zM239 237h1v1h-1zM242 237h2v1h-2zM246 237h3v1h-3zM252 237h3v1h-3zM257 237h2v1h-2zM260 237h1v1h-1zM262 237h3v1h-3zM271 237h3v1h-3zM275 237h3v1h-3zM280 237h1v1h-1zM284 237h2v1h-2zM289 237h2v1h-2zM295 237h1v1h-1zM300 237h1v1h-1zM308 237h1v1h-1zM310 237h1v1h-1zM314 237h1v1h-1zM319 237h1v1h-1zM322 237h1v1h-1zM326 237h2v1h-2zM329 237h1v1h-1zM332 237h1v1h-1zM339 237h1v1h-1zM345 237h1v1h-1zM347 237h1v1h-1zM350 237h1v1h-1zM361 237h1v1h-1zM377 237h1v1h-1zM387 237h2v1h-2zM390 237h2v1h-2zM398 237h1v1h-1zM401 237h1v1h-1zM406 237h1v1h-1zM408 237h7v1h-7zM416 237h2v1h-2zM421 237h1v1h-1zM424 237h1v1h-1zM429 237h1v1h-1zM434 237h3v1h-3zM438 237h2v1h-2zM441 237h1v1h-1zM166 241h2v1h-2zM172 241h1v1h-1zM179 241h1v1h-1zM184 241h2v1h-2zM189 241h2v1h-2zM200 241h2v1h-2zM204 241h1v1h-1zM207 241h1v1h-1zM212 241h1v1h-1zM222 241h1v1h-1zM224 241h1v1h-1zM232 241h2v1h-2zM248 241h1v1h-1zM250 241h1v1h-1zM255 241h5v1h-5zM261 241h1v1h-1zM263 241h3v1h-3zM280 241h1v1h-1zM284 241h1v1h-1zM312 241h4v1h-4zM320 241h1v1h-1zM349 241h3v1h-3zM353 241h1v1h-1zM364 241h1v1h-1zM387 241h4v1h-4zM392 241h1v1h-1zM398 241h1v1h-1zM419 241h3v1h-3zM440 241h1v1h-1zM200 245h1v1h-1zM205 245h1v1h-1zM250 245h1v1h-1zM260 245h1v1h-1zM313 245h1v1h-1zM349 245h1v1h-1zM411 245h1v1h-1zM440 253h1v1h-1zM169 261h1v1h-1zM223 264h1v1h-1z"/>
<path fill="#f0f921" d="M307 167h1v1h-1zM356 167h1v1h-1zM229 184h1v1h-1zM340 184h1v1h-1zM342 184h1v1h-1zM384 184h1v1h-1zM289 192h1v1h-1zM331 192h1v1h-1zM354 192h1v1h-1zM338 196h1v1h-1zM355 196h2v1h-2zM368 196h1v1h-1zM445 196h1v1h-1zM179 200h1v1h-1zM226 206h1v1h-1zM229 206h1v1h-1zM231 206h1v1h-1zM236 206h1v1h-1zM263 206h1v1h-1zM275 206h1v1h-1zM290 206h1v1h-1zM305 206h1v1h-1zM309 206h1v1h-1zM327 206h1v1h-1zM334 206h2v1h-2zM342 206h1v1h-1zM344 206h1v1h-1zM367 206h1v1h-1zM376 206h1v1h-1zM395 206h1v1h-1zM398 206h1v1h-1zM425 206h2v1h-2zM428 206h4v1h-4zM161 208h1v1h-1zM300 208h1v1h-1zM336 208h1v1h-1zM339 208h1v1h-1zM367 208h1v1h-1zM369 208h1v1h-1zM426 208h1v1h-1zM445 208h1v1h-1zM177 229h4v1h-4zM184 229h1v1h-1zM226 229h6v1h-6zM233 229h1v1h-1zM238 229h2v1h-2zM273 229h1v1h-1zM291 229h1v1h-1zM293 229h1v1h-1zM304 229h1v1h-1zM307 229h1v1h-1zM332 229h1v1h-1zM337 229h2v1h-2zM340 229h1v1h-1zM342 229h2v1h-2zM354 229h3v1h-3zM358 229h1v1h-1zM363 229h1v1h-1zM366 229h5v1h-5zM372 229h1v1h-1zM380 229h1v1h-1zM391 229h1v1h-1zM394 229h3v1h-3zM426 229h2v1h-2zM430 229h1v1h-1zM443 229h1v1h-1zM445 229h1v1h-1zM163 233h1v1h-1zM166 233h1v1h-1zM176 233h2v1h-2zM180 233h1v1h-1zM182 233h1v1h-1zM185 233h1v1h-1zM190 233h1v1h-1zM192 233h6v1h-6zM207 233h2v1h-2zM211 233h2v1h-2zM214 233h1v1h-1zM216 233h1v1h-1zM225 233h1v1h-1zM227 233h1v1h-1zM229 233h2v1h-2zM234 233h2v1h-2zM239 233h2v1h-2zM246 233h1v1h-1zM248 233h3v1h-3zM258 233h1v1h-1zM260 233h3v1h-3zM268 233h1v1h-1zM275 233h1v1h-1zM277 233h1v1h-1zM283 233h1v1h-1zM288 233h5v1h-5zM294 233h1v1h-1zM297 233h1v1h-1zM299 233h1v1h-1zM302 233h1v1h-1zM304 233h3v1h-3zM311 233h1v1h-1zM322 233h1v1h-1zM324 233h3v1h-3zM328 233h7v1h-7zM339 233h4v1h-4zM345 233h1v1h-1zM351 233h8v1h-8zM363 233h1v1h-1zM365 233h8v1h-8zM378 233h1v1h-1zM380 233h1v1h-1zM382 233h1v1h-1zM384 233h1v1h-1zM386 233h1v1h-1zM392 233h5v1h-5zM398 233h1v1h-1zM401 233h2v1h-2zM405 233h1v1h-1zM415 233h1v1h-1zM423 233h1v1h-1zM425 233h2v1h-2zM428 233h1v1h-1zM430 233h3v1h-3zM439 233h1v1h-1zM443 233h3v1h-3zM161 237h1v1h-1zM163 237h3v1h-3zM167 237h1v1h-1zM169 237h1v1h-1zM174 237h1v1h-1zM176 237h2v1h-2zM181 237h1v1h-1zM186 237h2v1h-2zM190 237h1v1h-1zM206 237h1v1h-1zM209 237h1v1h-1zM211 237h1v1h-1zM216 237h1v1h-1zM219 237h1v1h-1zM226 237h2v1h-2zM229 237h3v1h-3zM234 237h3v1h-3zM238 237h1v1h-1zM244 237h2v1h-2zM249 237h1v1h-1zM251 237h1v1h-1zM259 237h1v1h-1zM266 237h1v1h-1zM268 237h1v1h-1zM278 237h1v1h-1zM286 237h3v1h-3zM291 237h2v1h-2zM294 237h1v1h-1zM296 237h4v1h-4zM301 237h2v1h-2zM305 237h1v1h-1zM307 237h1v1h-1zM309 237h1v1h-1zM311 237h1v1h-1zM321 237h1v1h-1zM323 237h1v1h-1zM330 237h1v1h-1zM333 237h5v1h-5zM341 237h4v1h-4zM351 237h7v1h-7zM359 237h2v1h-2zM362 237h2v1h-2zM365 237h1v1h-1zM367 237h2v1h-2zM371 237h3v1h-3zM375 237h2v1h-2zM380 237h3v1h-3zM386 237h1v1h-1zM393 237h5v1h-5zM399 237h2v1h-2zM402 237h1v1h-1zM422 237h1v1h-1zM425 237h4v1h-4zM430 237h3v1h-3zM440 237h1v1h-1zM443 237h3v1h-3zM176 241h1v1h-1zM178 241h1v1h-1zM180 241h1v1h-1zM183 241h1v1h-1zM186 241h1v1h-1zM191 241h1v1h-1zM198 241h2v1h-2zM205 241h2v1h-2zM225 241h1v1h-1zM231 241h1v1h-1zM275 241h1v1h-1zM285 241h3v1h-3zM291 241h3v1h-3zM302 241h2v1h-2zM305 241h1v1h-1zM319 241h1v1h-1zM328 241h1v1h-1zM330 241h1v1h-1zM335 241h2v1h-2zM342 241h2v1h-2zM345 241h1v1h-1zM352 241h1v1h-1zM355 241h1v1h-1zM357 241h1v1h-1zM361 241h1v1h-1zM366 241h1v1h-1zM370 241h1v1h-1zM375 241h1v1h-1zM383 241h1v1h-1zM391 241h1v1h-1zM441 241h1v1h-1zM443 241h3v1h-3zM171 245h1v1h-1zM186 245h2v1h-2zM189 245h1v1h-1zM210 245h1v1h-1zM214 245h1v1h-1zM216 245h1v1h-1zM238 245h2v1h-2zM248 245h1v1h-1zM257 245h1v1h-1zM261 245h1v1h-1zM265 245h1v1h-1zM268 245h1v1h-1zM285 245h1v1h-1zM291 245h1v1h-1zM299 245h2v1h-2zM303 245h1v1h-1zM328 245h2v1h-2zM335 245h1v1h-1zM338 245h1v1h-1zM342 245h1v1h-1zM351 245h1v1h-1zM355 245h2v1h-2zM364 245h1v1h-1zM376 245h1v1h-1zM384 245h3v1h-3zM396 245h1v1h-1zM404 245h1v1h-1zM419 245h1v1h-1zM426 245h1v1h-1zM161 253h1v1h-1zM375 253h1v1h-1zM391 253h1v1h-1zM242 261h1v1h-1zM368 261h1v1h-1zM370 261h1v1h-1zM393 261h1v1h-1zM399 261h1v1h-1zM160 264h1v1h-1zM169 264h1v1h-1zM175 264h1v1h-1zM179 264h1v1h-1zM183 264h1v1h-1zM193 264h1v1h-1zM283 264h1v1h-1zM308 264h1v1h-1zM355 264h1v1h-1zM382 264h1v1h-1zM384 264h1v1h-1zM433 264h1v1h-1zM440 264h1v1h-1zM442 264h1v1h-1zM162 265h1v1h-1zM164 265h1v1h-1zM166 265h1v1h-1zM174 265h1v1h-1zM178 265h1v1h-1zM181 265h1v1h-1zM184 265h1v1h-1zM201 265h2v1h-2zM204 265h1v1h-1zM229 265h1v1h-1zM231 265h1v1h-1zM238 265h1v1h-1zM243 265h1v1h-1zM263 265h1v1h-1zM266 265h1v1h-1zM279 265h1v1h-1zM282 265h2v1h-2zM288 265h1v1h-1zM290 265h1v1h-1zM308 265h1v1h-1zM321 265h2v1h-2zM345 265h1v1h-1zM370 265h1v1h-1zM382 265h1v1h-1zM396 265h1v1h-1zM401 265h1v1h-1zM404 265h1v1h-1zM407 265h1v1h-1zM426 265h1v1h-1zM431 265h1v1h-1zM218 269h1v1h-1zM250 269h1v1h-1zM274 269h1v1h-1zM297 269h1v1h-1zM320 269h1v1h-1zM343 269h1v1h-1zM403 269h1v1h-1zM427 269h1v1h-1z"/>
</g>
<g class="cr">
<rect x="160" y="270" width="286" height="205" fill="url(#g1)"/>
<path fill="url(#so65)" d="M181 270h1v205h-1zM182 270h1v205h-1zM197 270h1v205h-1zM198 270h1v205h-1zM199 270h1v205h-1zM200 270h1v205h-1zM201 270h1v205h-1zM202 270h1v205h-1zM203 270h1v205h-1zM205 270h1v205h-1zM222 270h1v205h-1zM224 270h1v205h-1zM237 270h1v205h-1zM265 270h1v205h-1zM286 270h1v205h-1zM312 270h1v205h-1zM313 270h1v205h-1zM314 270h1v205h-1zM315 270h1v205h-1zM323 270h1v205h-1zM331 270h1v205h-1zM332 270h1v205h-1zM333 270h1v205h-1zM334 270h1v205h-1zM335 270h1v205h-1zM336 270h1v205h-1zM338 270h1v205h-1zM339 270h1v205h-1zM340 270h1v205h-1zM341 270h1v205h-1zM342 270h1v205h-1zM347 270h1v205h-1zM424 270h1v205h-1zM425 270h1v205h-1zM432 270h1v205h-1zM433 270h1v205h-1zM434 270h1v205h-1zM435 270h1v205h-1zM437 270h1v205h-1zM444 270h1v205h-1zM445 270h1v205h-1z"/>
<path fill="url(#sy65)" d="M161 270h1v205h-1zM162 270h1v205h-1zM163 270h1v205h-1zM164 270h1v205h-1zM165 270h1v205h-1zM187 270h1v205h-1zM190 270h1v205h-1zM191 270h1v205h-1zM192 270h1v205h-1zM193 270h1v205h-1zM194 270h1v205h-1zM212 270h1v205h-1zM213 270h1v205h-1zM214 270h1v205h-1zM215 270h1v205h-1zM216 270h1v205h-1zM251 270h1v205h-1zM252 270h1v205h-1zM253 270h1v205h-1zM257 270h1v205h-1zM258 270h1v205h-1zM259 270h1v205h-1zM260 270h1v205h-1zM273 270h1v205h-1zM290 270h1v205h-1zM291 270h1v205h-1zM292 270h1v205h-1zM293 270h1v205h-1zM300 270h1v205h-1zM301 270h1v205h-1zM308 270h1v205h-1zM309 270h1v205h-1zM310 270h1v205h-1zM351 270h1v205h-1zM352 270h1v205h-1zM353 270h1v205h-1zM354 270h1v205h-1zM355 270h1v205h-1zM362 270h1v205h-1zM363 270h1v205h-1zM386 270h1v205h-1zM387 270h1v205h-1zM388 270h1v205h-1zM389 270h1v205h-1zM390 270h1v205h-1zM398 270h1v205h-1zM400 270h1v205h-1zM401 270h1v205h-1zM402 270h1v205h-1zM403 270h1v205h-1zM414 270h1v205h-1zM415 270h1v205h-1zM416 270h1v205h-1zM417 270h1v205h-1zM418 270h1v205h-1zM419 270h1v205h-1zM420 270h1v205h-1z"/>
<path fill="#fff" d="M254 270h1v205h-1zM314 270h1v205h-1zM165 464h1v11h-1zM182 464h1v11h-1zM190 464h2v11h-2zM197 464h1v11h-1zM202 464h3v11h-3zM207 464h1v11h-1zM227 464h1v11h-1zM238 464h1v11h-1zM240 464h1v11h-1zM247 464h1v11h-1zM274 464h1v11h-1zM284 464h1v11h-1zM292 464h2v11h-2zM321 464h1v11h-1zM325 464h1v11h-1zM334 464h1v11h-1zM341 464h2v11h-2zM346 464h2v11h-2zM352 464h1v11h-1zM369 464h1v11h-1zM376 464h1v11h-1zM409 464h1v11h-1zM417 464h1v11h-1zM426 464h1v11h-1zM428 464h1v11h-1zM436 464h1v11h-1zM445 464h1v11h-1z"/>
<path fill="#fff" fill-opacity="0.45" d="M187 474h3v1h-3zM196 474h1v1h-1zM199 474h3v1h-3zM225 474h2v1h-2zM237 474h1v1h-1zM243 474h4v1h-4zM270 474h4v1h-4zM280 474h4v1h-4zM288 474h4v1h-4zM318 474h3v1h-3zM324 474h1v1h-1zM338 474h3v1h-3zM343 474h3v1h-3zM349 474h3v1h-3zM366 474h3v1h-3zM372 474h4v1h-4zM406 474h3v1h-3zM416 474h1v1h-1zM426 474h2v1h-2zM432 474h4v1h-4zM444 474h1v1h-1z"/>
</g>
<g class="cr">
<path fill="#6a00a8" d="M585 66h2v1h-2zM617 66h1v1h-1zM675 66h1v1h-1zM712 66h1v1h-1zM744 66h1v1h-1zM754 66h1v1h-1zM762 66h1v1h-1zM765 66h1v1h-1zM804 66h1v1h-1zM809 66h1v1h-1zM816 66h1v1h-1zM830 66h1v1h-1zM848 66h1v1h-1zM607 67h1v1h-1zM760 67h1v1h-1zM767 67h1v1h-1zM622 68h1v1h-1zM794 68h1v1h-1zM850 68h1v1h-1zM633 69h1v1h-1zM654 69h1v1h-1zM781 74h1v1h-1zM854 74h1v1h-1zM792 77h1v1h-1zM760 83h1v1h-1zM782 83h1v1h-1z"/>
<path fill="#920fa3" d="M587 66h1v1h-1zM616 66h1v1h-1zM729 67h1v1h-1zM647 98h1v1h-1z"/>
<path fill="#48039f" d="M589 66h1v1h-1zM634 66h1v1h-1zM665 66h1v1h-1zM692 66h1v1h-1zM708 66h1v1h-1zM743 66h1v1h-1zM746 66h1v1h-1zM778 66h1v1h-1zM802 66h1v1h-1zM842 66h1v1h-1zM862 66h2v1h-2zM606 67h1v1h-1zM623 67h1v1h-1zM645 67h1v1h-1zM658 67h1v1h-1zM660 67h1v1h-1zM712 67h1v1h-1zM734 67h1v1h-1zM785 67h2v1h-2zM791 67h1v1h-1zM807 67h1v1h-1zM587 68h1v1h-1zM592 68h1v1h-1zM632 68h1v1h-1zM639 68h1v1h-1zM661 68h1v1h-1zM694 68h1v1h-1zM724 68h1v1h-1zM731 68h1v1h-1zM747 68h1v1h-1zM750 68h1v1h-1zM758 68h1v1h-1zM761 68h1v1h-1zM772 68h1v1h-1zM777 68h1v1h-1zM805 68h1v1h-1zM808 68h1v1h-1zM822 68h2v1h-2zM597 69h1v1h-1zM641 69h1v1h-1zM653 69h1v1h-1zM704 69h1v1h-1zM734 69h1v1h-1zM747 69h1v1h-1zM869 69h1v1h-1zM607 70h1v1h-1zM649 70h1v1h-1zM720 70h1v1h-1zM722 70h1v1h-1zM736 70h1v1h-1zM757 70h1v1h-1zM764 70h1v1h-1zM767 70h1v1h-1zM803 70h1v1h-1zM808 70h1v1h-1zM820 70h1v1h-1zM852 70h1v1h-1zM857 70h1v1h-1zM603 71h1v1h-1zM757 71h1v1h-1zM766 71h1v1h-1zM779 71h1v1h-1zM851 71h1v1h-1zM658 72h1v1h-1zM785 72h1v1h-1zM604 73h1v1h-1zM611 73h1v1h-1zM658 73h1v1h-1zM729 73h1v1h-1zM754 73h1v1h-1zM794 73h1v1h-1zM818 73h1v1h-1zM838 73h1v1h-1zM850 73h1v1h-1zM629 74h1v1h-1zM655 74h1v1h-1zM659 74h1v1h-1zM677 74h1v1h-1zM735 74h1v1h-1zM757 74h1v1h-1zM769 74h1v1h-1zM786 74h1v1h-1zM788 74h1v1h-1zM798 74h1v1h-1zM848 74h1v1h-1zM794 75h1v1h-1zM852 75h3v1h-3zM606 76h1v1h-1zM769 76h1v1h-1zM608 79h1v1h-1zM819 79h1v1h-1zM656 80h1v1h-1zM710 80h1v1h-1zM762 81h1v1h-1zM639 82h1v1h-1zM711 82h1v1h-1zM733 82h1v1h-1zM725 83h1v1h-1zM751 83h1v1h-1zM754 83h1v1h-1zM789 83h1v1h-1zM798 83h1v1h-1zM803 83h1v1h-1zM846 83h1v1h-1zM783 85h1v1h-1zM775 86h1v1h-1zM846 87h1v1h-1zM860 87h1v1h-1z"/>
<path fill="#2c0594" d="M590 66h1v1h-1zM593 66h1v1h-1zM682 66h1v1h-1zM725 66h1v1h-1zM739 66h1v1h-1zM611 67h1v1h-1zM652 67h1v1h-1zM675 67h1v1h-1zM684 67h1v1h-1zM714 67h1v1h-1zM731 67h1v1h-1zM787 67h1v1h-1zM828 67h1v1h-1zM833 67h1v1h-1zM845 67h1v1h-1zM615 68h1v1h-1zM649 68h1v1h-1zM679 68h1v1h-1zM688 68h1v1h-1zM693 68h1v1h-1zM696 68h1v1h-1zM702 68h1v1h-1zM707 68h1v1h-1zM712 68h1v1h-1zM753 68h1v1h-1zM776 68h1v1h-1zM798 68h1v1h-1zM809 68h1v1h-1zM813 68h1v1h-1zM844 68h1v1h-1zM866 68h1v1h-1zM592 69h1v1h-1zM607 69h2v1h-2zM610 69h1v1h-1zM628 69h1v1h-1zM638 69h1v1h-1zM652 69h1v1h-1zM657 69h1v1h-1zM697 69h1v1h-1zM702 69h1v1h-1zM711 69h1v1h-1zM713 69h1v1h-1zM748 69h1v1h-1zM803 69h1v1h-1zM814 69h1v1h-1zM828 69h1v1h-1zM846 69h1v1h-1zM865 69h2v1h-2zM610 70h1v1h-1zM616 70h1v1h-1zM636 70h1v1h-1zM657 70h1v1h-1zM670 70h1v1h-1zM679 70h1v1h-1zM718 70h1v1h-1zM735 70h1v1h-1zM776 70h1v1h-1zM778 70h1v1h-1zM805 70h1v1h-1zM825 70h1v1h-1zM678 71h1v1h-1zM771 71h1v1h-1zM786 71h1v1h-1zM811 71h1v1h-1zM857 71h1v1h-1zM860 71h1v1h-1zM611 72h1v1h-1zM613 72h2v1h-2zM619 72h1v1h-1zM647 72h1v1h-1zM650 72h1v1h-1zM673 72h1v1h-1zM701 72h1v1h-1zM725 72h1v1h-1zM741 72h1v1h-1zM771 72h1v1h-1zM789 72h1v1h-1zM801 72h1v1h-1zM585 73h1v1h-1zM651 73h1v1h-1zM661 73h1v1h-1zM702 73h1v1h-1zM744 73h1v1h-1zM824 73h1v1h-1zM620 74h1v1h-1zM670 74h1v1h-1zM799 74h1v1h-1zM832 74h1v1h-1zM864 74h1v1h-1zM664 75h1v1h-1zM697 75h1v1h-1zM714 75h1v1h-1zM723 75h1v1h-1zM746 75h1v1h-1zM773 75h1v1h-1zM626 76h1v1h-1zM673 76h1v1h-1zM747 76h1v1h-1zM773 76h1v1h-1zM811 77h1v1h-1zM858 77h1v1h-1zM704 78h1v1h-1zM697 80h1v1h-1zM803 81h1v1h-1zM615 82h1v1h-1zM685 82h1v1h-1zM708 82h1v1h-1zM719 82h1v1h-1zM824 82h1v1h-1zM631 83h1v1h-1zM637 83h1v1h-1zM672 83h1v1h-1zM855 83h1v1h-1zM859 83h1v1h-1zM636 84h1v1h-1z"/>
<path fill="#5102a3" d="M592 66h1v1h-1zM627 66h1v1h-1zM632 66h1v1h-1zM645 66h1v1h-1zM674 66h1v1h-1zM677 66h1v1h-1zM693 66h1v1h-1zM753 66h1v1h-1zM755 66h1v1h-1zM796 66h1v1h-1zM800 66h1v1h-1zM859 66h1v1h-1zM588 67h2v1h-2zM604 67h1v1h-1zM622 67h1v1h-1zM661 67h1v1h-1zM669 67h1v1h-1zM746 67h1v1h-1zM755 67h1v1h-1zM765 67h1v1h-1zM808 67h1v1h-1zM870 67h1v1h-1zM599 68h1v1h-1zM604 68h1v1h-1zM631 68h1v1h-1zM699 68h1v1h-1zM719 68h2v1h-2zM722 68h1v1h-1zM756 68h1v1h-1zM778 68h1v1h-1zM788 68h1v1h-1zM790 68h1v1h-1zM807 68h1v1h-1zM815 68h1v1h-1zM855 68h1v1h-1zM588 69h1v1h-1zM637 69h1v1h-1zM749 69h1v1h-1zM761 69h1v1h-1zM809 69h1v1h-1zM848 69h1v1h-1zM765 70h1v1h-1zM807 70h1v1h-1zM853 70h1v1h-1zM855 70h1v1h-1zM870 70h1v1h-1zM623 71h1v1h-1zM618 72h1v1h-1zM730 72h1v1h-1zM766 72h1v1h-1zM816 72h1v1h-1zM758 73h1v1h-1zM766 73h1v1h-1zM817 73h1v1h-1zM851 73h1v1h-1zM586 74h1v1h-1zM711 74h1v1h-1zM763 74h1v1h-1zM794 74h1v1h-1zM770 75h1v1h-1zM791 75h1v1h-1zM795 75h1v1h-1zM819 75h1v1h-1zM637 76h1v1h-1zM730 76h1v1h-1zM784 76h1v1h-1zM632 79h1v1h-1zM617 82h1v1h-1zM725 82h2v1h-2zM622 83h1v1h-1zM660 83h1v1h-1zM799 83h1v1h-1zM783 84h1v1h-1zM867 84h1v1h-1zM782 85h1v1h-1zM820 85h1v1h-1zM869 87h1v1h-1z"/>
<path fill="#3f049c" d="M595 66h1v1h-1zM640 66h1v1h-1zM703 66h1v1h-1zM707 66h1v1h-1zM776 66h1v1h-1zM801 66h1v1h-1zM828 66h1v1h-1zM837 66h1v1h-1zM599 67h1v1h-1zM615 67h1v1h-1zM628 67h1v1h-1zM633 67h1v1h-1zM636 67h1v1h-1zM643 67h1v1h-1zM667 67h1v1h-1zM688 67h1v1h-1zM705 67h1v1h-1zM715 67h1v1h-1zM722 67h1v1h-1zM743 67h1v1h-1zM751 67h1v1h-1zM809 67h2v1h-2zM817 67h2v1h-2zM607 68h1v1h-1zM623 68h1v1h-1zM656 68h1v1h-1zM660 68h1v1h-1zM685 68h1v1h-1zM695 68h1v1h-1zM698 68h1v1h-1zM734 68h1v1h-1zM748 68h1v1h-1zM752 68h1v1h-1zM796 68h1v1h-1zM650 69h1v1h-1zM676 69h1v1h-1zM714 69h1v1h-1zM735 69h2v1h-2zM781 69h2v1h-2zM800 69h1v1h-1zM808 69h1v1h-1zM606 70h1v1h-1zM622 70h1v1h-1zM663 70h1v1h-1zM676 70h1v1h-1zM692 70h1v1h-1zM726 70h1v1h-1zM754 70h1v1h-1zM758 70h1v1h-1zM760 70h1v1h-1zM769 70h1v1h-1zM799 70h1v1h-1zM801 70h2v1h-2zM809 70h1v1h-1zM824 70h1v1h-1zM602 71h1v1h-1zM652 71h1v1h-1zM714 71h1v1h-1zM754 71h1v1h-1zM760 71h1v1h-1zM765 71h1v1h-1zM809 71h1v1h-1zM817 71h1v1h-1zM605 72h1v1h-1zM608 72h1v1h-1zM621 72h1v1h-1zM654 72h1v1h-1zM695 72h1v1h-1zM722 72h1v1h-1zM733 72h1v1h-1zM777 72h1v1h-1zM784 72h1v1h-1zM804 72h1v1h-1zM589 73h1v1h-1zM618 73h1v1h-1zM728 73h1v1h-1zM759 73h1v1h-1zM783 73h1v1h-1zM796 73h1v1h-1zM819 73h1v1h-1zM822 73h1v1h-1zM852 73h1v1h-1zM614 74h1v1h-1zM622 74h1v1h-1zM714 74h1v1h-1zM778 74h1v1h-1zM847 74h1v1h-1zM676 75h1v1h-1zM688 75h1v1h-1zM695 75h1v1h-1zM777 75h2v1h-2zM793 75h1v1h-1zM798 75h1v1h-1zM807 75h1v1h-1zM695 76h1v1h-1zM737 76h1v1h-1zM755 76h1v1h-1zM759 76h1v1h-1zM589 77h1v1h-1zM825 77h1v1h-1zM619 78h1v1h-1zM707 78h1v1h-1zM754 79h1v1h-1zM609 80h1v1h-1zM647 80h1v1h-1zM663 80h1v1h-1zM709 81h1v1h-1zM747 81h1v1h-1zM655 82h1v1h-1zM718 82h1v1h-1zM734 82h1v1h-1zM753 82h1v1h-1zM791 82h1v1h-1zM807 82h1v1h-1zM664 83h1v1h-1zM591 84h1v1h-1zM653 84h1v1h-1zM845 84h1v1h-1zM753 85h1v1h-1z"/>
<path fill="#370499" d="M597 66h1v1h-1zM599 66h1v1h-1zM625 66h1v1h-1zM648 66h1v1h-1zM656 66h1v1h-1zM808 66h1v1h-1zM627 67h1v1h-1zM665 67h1v1h-1zM699 67h1v1h-1zM706 67h1v1h-1zM857 67h1v1h-1zM601 68h1v1h-1zM606 68h1v1h-1zM637 68h1v1h-1zM640 68h1v1h-1zM653 68h1v1h-1zM677 68h1v1h-1zM691 68h1v1h-1zM721 68h1v1h-1zM744 68h1v1h-1zM760 68h1v1h-1zM814 68h1v1h-1zM827 68h1v1h-1zM848 68h1v1h-1zM595 69h1v1h-1zM634 69h1v1h-1zM689 69h1v1h-1zM716 69h1v1h-1zM744 69h1v1h-1zM756 69h1v1h-1zM796 69h1v1h-1zM799 69h1v1h-1zM802 69h1v1h-1zM807 69h1v1h-1zM847 69h1v1h-1zM864 69h1v1h-1zM589 70h1v1h-1zM618 70h1v1h-1zM650 70h1v1h-1zM673 70h2v1h-2zM695 70h1v1h-1zM705 70h1v1h-1zM714 70h1v1h-1zM717 70h1v1h-1zM725 70h1v1h-1zM747 70h1v1h-1zM793 70h1v1h-1zM798 70h1v1h-1zM804 70h1v1h-1zM812 70h1v1h-1zM850 70h1v1h-1zM865 70h1v1h-1zM867 70h1v1h-1zM585 71h1v1h-1zM610 71h1v1h-1zM627 71h1v1h-1zM643 71h1v1h-1zM703 71h1v1h-1zM713 71h1v1h-1zM715 71h1v1h-1zM756 71h1v1h-1zM783 71h1v1h-1zM719 72h1v1h-1zM723 72h2v1h-2zM735 72h1v1h-1zM744 72h1v1h-1zM619 73h1v1h-1zM645 73h1v1h-1zM657 73h1v1h-1zM699 73h1v1h-1zM720 73h1v1h-1zM732 73h1v1h-1zM786 73h1v1h-1zM795 73h1v1h-1zM797 73h1v1h-1zM849 73h1v1h-1zM621 74h1v1h-1zM640 74h1v1h-1zM662 74h1v1h-1zM667 74h1v1h-1zM671 74h1v1h-1zM713 74h1v1h-1zM716 74h1v1h-1zM770 74h1v1h-1zM600 75h1v1h-1zM757 75h1v1h-1zM767 75h1v1h-1zM633 76h1v1h-1zM729 76h1v1h-1zM633 77h1v1h-1zM671 77h1v1h-1zM685 78h1v1h-1zM715 78h1v1h-1zM753 78h1v1h-1zM654 79h1v1h-1zM776 79h1v1h-1zM809 80h1v1h-1zM641 81h1v1h-1zM755 81h1v1h-1zM789 81h1v1h-1zM630 82h2v1h-2zM845 82h1v1h-1zM636 83h1v1h-1zM659 83h1v1h-1zM598 84h1v1h-1zM811 85h1v1h-1z"/>
<path fill="#0d0887" d="M598 66h1v1h-1zM680 66h2v1h-2zM742 66h1v1h-1zM833 66h1v1h-1zM836 66h1v1h-1zM838 66h1v1h-1zM841 66h1v1h-1zM843 66h1v1h-1zM865 66h1v1h-1zM593 67h1v1h-1zM601 67h1v1h-1zM612 67h2v1h-2zM648 67h1v1h-1zM683 67h1v1h-1zM689 67h1v1h-1zM741 67h1v1h-1zM742 67h1v1h-1zM745 67h1v1h-1zM825 67h1v1h-1zM829 67h1v1h-1zM830 67h1v1h-1zM832 67h1v1h-1zM834 67h1v1h-1zM839 67h1v1h-1zM844 67h1v1h-1zM595 68h1v1h-1zM598 68h1v1h-1zM600 68h1v1h-1zM650 68h1v1h-1zM675 68h1v1h-1zM683 68h1v1h-1zM701 68h1v1h-1zM740 68h1v1h-1zM741 68h1v1h-1zM745 68h2v1h-2zM784 68h1v1h-1zM837 68h1v1h-1zM846 68h1v1h-1zM863 68h1v1h-1zM865 68h1v1h-1zM593 69h1v1h-1zM599 69h1v1h-1zM614 69h1v1h-1zM643 69h1v1h-1zM647 69h1v1h-1zM683 69h1v1h-1zM688 69h1v1h-1zM701 69h1v1h-1zM707 69h1v1h-1zM737 69h1v1h-1zM738 69h1v1h-1zM740 69h1v1h-1zM773 69h1v1h-1zM834 69h1v1h-1zM836 69h1v1h-1zM837 69h1v1h-1zM839 69h1v1h-1zM842 69h1v1h-1zM859 69h1v1h-1zM862 69h1v1h-1zM591 70h1v1h-1zM598 70h1v1h-1zM614 70h1v1h-1zM634 70h1v1h-1zM637 70h1v1h-1zM646 70h1v1h-1zM743 70h1v1h-1zM744 70h1v1h-1zM864 70h1v1h-1zM866 70h1v1h-1zM645 71h1v1h-1zM682 71h1v1h-1zM841 71h1v1h-1zM843 71h1v1h-1zM861 71h1v1h-1zM597 72h1v1h-1zM599 72h1v1h-1zM645 72h1v1h-1zM680 72h1v1h-1zM682 72h1v1h-1zM691 72h1v1h-1zM708 72h1v1h-1zM740 72h1v1h-1zM742 72h1v1h-1zM839 72h1v1h-1zM841 72h1v1h-1zM865 72h1v1h-1zM594 73h1v1h-1zM600 73h1v1h-1zM681 73h1v1h-1zM697 73h1v1h-1zM704 73h1v1h-1zM737 73h1v1h-1zM742 73h1v1h-1zM815 73h1v1h-1zM828 73h1v1h-1zM831 73h1v1h-1zM844 73h1v1h-1zM866 73h1v1h-1zM642 74h1v1h-1zM669 74h1v1h-1zM679 74h1v1h-1zM683 74h1v1h-1zM702 74h1v1h-1zM705 74h1v1h-1zM740 74h1v1h-1zM742 74h1v1h-1zM836 74h1v1h-1zM841 74h1v1h-1zM842 74h1v1h-1zM862 74h1v1h-1zM647 75h1v1h-1zM679 75h1v1h-1zM827 75h1v1h-1zM839 75h1v1h-1zM865 75h1v1h-1zM834 76h1v1h-1zM626 77h1v1h-1zM632 78h1v1h-1zM842 78h1v1h-1zM645 79h1v1h-1zM682 79h1v1h-1zM863 79h1v1h-1zM838 83h1v1h-1zM596 84h1v1h-1zM740 84h1v1h-1zM741 85h1v1h-1z"/>
<path fill="#6300a7" d="M600 66h1v1h-1zM644 66h1v1h-1zM678 66h1v1h-1zM750 66h1v1h-1zM760 66h1v1h-1zM764 66h1v1h-1zM806 66h1v1h-1zM823 66h2v1h-2zM867 66h1v1h-1zM603 67h1v1h-1zM617 67h1v1h-1zM694 67h1v1h-1zM716 67h1v1h-1zM792 67h1v1h-1zM655 68h1v1h-1zM700 68h1v1h-1zM782 68h1v1h-1zM791 68h1v1h-1zM793 68h1v1h-1zM821 68h1v1h-1zM824 68h1v1h-1zM764 69h1v1h-1zM732 70h1v1h-1zM756 70h1v1h-1zM780 70h1v1h-1zM733 71h1v1h-1zM800 77h1v1h-1zM660 79h1v1h-1zM757 81h1v1h-1zM727 82h1v1h-1z"/>
<path fill="#8a09a5" d="M602 66h1v1h-1zM606 66h1v1h-1zM730 66h1v1h-1zM807 66h1v1h-1zM819 66h2v1h-2zM854 66h1v1h-1zM759 67h1v1h-1zM768 67h1v1h-1zM790 67h1v1h-1zM597 98h1v1h-1zM646 98h1v1h-1z"/>
<path fill="#a72197" d="M603 66h1v1h-1zM717 66h1v1h-1zM729 66h1v1h-1zM821 66h1v1h-1zM594 98h1v1h-1zM603 98h1v1h-1zM606 98h1v1h-1zM611 98h2v1h-2zM620 98h1v1h-1zM626 98h1v1h-1zM628 98h1v1h-1zM630 98h3v1h-3zM665 98h1v1h-1zM684 98h1v1h-1z"/>
<path fill="#8305a7" d="M605 66h1v1h-1zM624 66h1v1h-1zM655 66h1v1h-1zM701 66h1v1h-1zM728 66h1v1h-1zM731 66h1v1h-1zM791 66h1v1h-1zM795 66h1v1h-1zM733 67h1v1h-1zM856 67h1v1h-1zM763 68h1v1h-1z"/>
<path fill="#7201a8" d="M608 66h1v1h-1zM611 66h1v1h-1zM763 66h1v1h-1zM768 66h1v1h-1zM799 66h1v1h-1zM803 66h1v1h-1zM849 66h2v1h-2zM780 67h1v1h-1zM852 67h1v1h-1zM854 67h1v1h-1zM621 68h1v1h-1zM757 68h1v1h-1zM851 68h1v1h-1z"/>
<path fill="#16078a" d="M610 66h1v1h-1zM614 66h1v1h-1zM629 66h1v1h-1zM650 66h1v1h-1zM738 66h1v1h-1zM740 66h1v1h-1zM840 66h1v1h-1zM844 66h1v1h-1zM610 67h1v1h-1zM668 67h1v1h-1zM773 67h1v1h-1zM775 67h1v1h-1zM826 67h1v1h-1zM841 67h1v1h-1zM865 67h1v1h-1zM589 68h1v1h-1zM597 68h1v1h-1zM613 68h1v1h-1zM616 68h1v1h-1zM641 68h1v1h-1zM678 68h1v1h-1zM737 68h1v1h-1zM828 68h1v1h-1zM843 68h1v1h-1zM847 68h1v1h-1zM598 69h1v1h-1zM604 69h1v1h-1zM648 69h1v1h-1zM659 69h1v1h-1zM674 69h1v1h-1zM692 69h2v1h-2zM700 69h1v1h-1zM741 69h1v1h-1zM771 69h1v1h-1zM806 69h1v1h-1zM812 69h2v1h-2zM835 69h1v1h-1zM844 69h1v1h-1zM590 70h1v1h-1zM595 70h1v1h-1zM621 70h1v1h-1zM638 70h1v1h-1zM647 70h1v1h-1zM660 70h1v1h-1zM677 70h1v1h-1zM693 70h1v1h-1zM700 70h1v1h-1zM815 70h1v1h-1zM841 70h1v1h-1zM858 70h1v1h-1zM860 70h1v1h-1zM601 71h1v1h-1zM629 71h1v1h-1zM637 71h1v1h-1zM683 71h1v1h-1zM700 71h1v1h-1zM774 71h1v1h-1zM830 71h1v1h-1zM835 71h1v1h-1zM594 72h1v1h-1zM646 72h1v1h-1zM657 72h1v1h-1zM677 72h1v1h-1zM681 72h1v1h-1zM706 72h1v1h-1zM829 72h1v1h-1zM587 73h1v1h-1zM596 73h1v1h-1zM626 73h1v1h-1zM671 73h1v1h-1zM682 73h1v1h-1zM698 73h1v1h-1zM703 73h1v1h-1zM738 73h2v1h-2zM771 73h1v1h-1zM798 73h1v1h-1zM830 73h1v1h-1zM839 73h1v1h-1zM634 74h1v1h-1zM681 74h1v1h-1zM695 74h1v1h-1zM816 74h1v1h-1zM861 74h1v1h-1zM739 75h1v1h-1zM649 76h1v1h-1zM670 76h1v1h-1zM745 76h1v1h-1zM706 77h1v1h-1zM721 77h1v1h-1zM820 77h1v1h-1zM630 78h1v1h-1zM639 79h1v1h-1zM774 79h1v1h-1zM593 80h1v1h-1zM712 80h1v1h-1zM674 82h1v1h-1zM863 82h1v1h-1zM599 83h1v1h-1zM841 83h1v1h-1zM627 84h1v1h-1z"/>
<path fill="#7b02a8" d="M612 66h1v1h-1zM615 66h1v1h-1zM641 66h1v1h-1zM688 66h1v1h-1zM696 66h1v1h-1zM704 66h1v1h-1zM719 66h1v1h-1zM757 66h1v1h-1zM766 66h1v1h-1zM769 66h1v1h-1zM822 66h1v1h-1zM845 66h1v1h-1zM659 67h1v1h-1zM753 67h1v1h-1zM820 67h1v1h-1zM847 67h3v1h-3zM851 67h1v1h-1zM759 68h1v1h-1zM853 68h1v1h-1z"/>
<path fill="#5901a5" d="M635 66h1v1h-1zM660 66h1v1h-1zM697 66h1v1h-1zM715 66h1v1h-1zM718 66h1v1h-1zM748 66h1v1h-1zM758 66h1v1h-1zM798 66h1v1h-1zM829 66h1v1h-1zM832 66h1v1h-1zM855 66h1v1h-1zM590 67h1v1h-1zM614 67h1v1h-1zM616 67h1v1h-1zM653 67h1v1h-1zM657 67h1v1h-1zM663 67h2v1h-2zM666 67h1v1h-1zM673 67h1v1h-1zM676 67h1v1h-1zM707 67h1v1h-1zM713 67h1v1h-1zM724 67h2v1h-2zM782 67h1v1h-1zM784 67h1v1h-1zM804 67h1v1h-1zM868 67h2v1h-2zM633 68h1v1h-1zM636 68h1v1h-1zM652 68h1v1h-1zM654 68h1v1h-1zM657 68h1v1h-1zM767 68h1v1h-1zM783 68h1v1h-1zM797 68h1v1h-1zM802 68h1v1h-1zM806 68h1v1h-1zM857 68h1v1h-1zM620 69h1v1h-1zM678 69h1v1h-1zM822 69h1v1h-1zM850 69h1v1h-1zM869 70h1v1h-1zM762 71h1v1h-1zM782 71h1v1h-1zM808 71h1v1h-1zM622 72h1v1h-1zM634 73h1v1h-1zM712 73h1v1h-1zM779 73h1v1h-1zM616 74h1v1h-1zM733 74h1v1h-1zM792 75h1v1h-1zM870 75h1v1h-1zM614 76h1v1h-1zM793 76h1v1h-1zM621 78h1v1h-1zM751 78h1v1h-1zM819 78h1v1h-1zM869 80h1v1h-1zM632 83h1v1h-1zM727 83h1v1h-1zM781 85h1v1h-1zM797 87h1v1h-1z"/>
<path fill="#220690" d="M659 66h1v1h-1zM702 66h1v1h-1zM705 66h1v1h-1zM775 66h1v1h-1zM861 66h1v1h-1zM591 67h1v1h-1zM646 67h1v1h-1zM739 67h1v1h-1zM842 67h2v1h-2zM610 68h2v1h-2zM673 68h1v1h-1zM684 68h1v1h-1zM735 68h1v1h-1zM755 68h1v1h-1zM816 68h1v1h-1zM867 68h1v1h-1zM590 69h1v1h-1zM609 69h1v1h-1zM625 69h1v1h-1zM632 69h1v1h-1zM696 69h1v1h-1zM699 69h1v1h-1zM703 69h1v1h-1zM746 69h1v1h-1zM770 69h1v1h-1zM843 69h1v1h-1zM867 69h1v1h-1zM678 70h1v1h-1zM683 70h1v1h-1zM704 70h1v1h-1zM774 70h1v1h-1zM787 70h1v1h-1zM816 70h1v1h-1zM826 70h1v1h-1zM836 70h1v1h-1zM592 71h2v1h-2zM650 71h1v1h-1zM673 71h1v1h-1zM689 71h1v1h-1zM717 71h1v1h-1zM748 71h1v1h-1zM775 71h1v1h-1zM812 71h1v1h-1zM822 71h1v1h-1zM832 71h1v1h-1zM856 71h1v1h-1zM596 72h1v1h-1zM678 72h1v1h-1zM692 72h1v1h-1zM704 72h1v1h-1zM713 72h1v1h-1zM745 72h1v1h-1zM842 72h2v1h-2zM603 73h1v1h-1zM649 73h1v1h-1zM656 73h1v1h-1zM685 73h1v1h-1zM707 73h1v1h-1zM813 73h1v1h-1zM816 73h1v1h-1zM825 73h1v1h-1zM840 73h1v1h-1zM857 73h1v1h-1zM861 73h1v1h-1zM627 74h1v1h-1zM696 74h1v1h-1zM775 74h1v1h-1zM838 74h1v1h-1zM845 74h1v1h-1zM859 74h1v1h-1zM866 74h1v1h-1zM639 75h1v1h-1zM672 75h1v1h-1zM803 77h1v1h-1zM830 77h1v1h-1zM636 78h1v1h-1zM787 79h1v1h-1zM695 83h1v1h-1zM702 83h1v1h-1zM843 84h1v1h-1zM742 85h1v1h-1zM836 85h1v1h-1z"/>
<path fill="#ad2793" d="M733 66h1v1h-1zM589 98h2v1h-2zM595 98h1v1h-1zM602 98h1v1h-1zM614 98h1v1h-1zM622 98h1v1h-1zM624 98h1v1h-1zM634 98h1v1h-1zM651 98h1v1h-1zM663 98h1v1h-1zM680 98h1v1h-1z"/>
<path fill="#a01a9c" d="M779 66h1v1h-1zM592 98h1v1h-1zM601 98h1v1h-1zM609 98h1v1h-1zM615 98h1v1h-1zM623 98h1v1h-1zM633 98h1v1h-1zM637 98h1v1h-1zM649 98h2v1h-2z"/>
<path fill="#99159f" d="M781 66h1v1h-1zM783 66h1v1h-1zM870 66h1v1h-1zM850 67h1v1h-1zM593 98h1v1h-1zM598 98h1v1h-1zM610 98h1v1h-1zM629 98h1v1h-1zM645 98h1v1h-1z"/>
<path fill="#ba3388" d="M592 95h1v1h-1zM586 98h2v1h-2zM604 98h2v1h-2zM621 98h1v1h-1zM640 98h1v1h-1zM654 98h2v1h-2zM658 98h1v1h-1zM668 98h1v1h-1zM682 98h1v1h-1zM691 98h1v1h-1zM694 98h1v1h-1zM802 98h1v1h-1zM595 100h1v1h-1zM628 100h1v1h-1zM645 100h1v1h-1zM649 100h2v1h-2zM660 100h1v1h-1z"/>
<path fill="#c5407e" d="M813 95h1v1h-1zM585 98h1v1h-1zM608 98h1v1h-1zM616 98h1v1h-1zM662 98h1v1h-1zM666 98h1v1h-1zM676 98h2v1h-2zM685 98h1v1h-1zM741 98h2v1h-2zM836 98h1v1h-1zM841 98h1v1h-1zM587 100h1v1h-1zM607 100h1v1h-1zM611 100h1v1h-1zM614 100h1v1h-1zM622 100h3v1h-3zM629 100h1v1h-1zM631 100h2v1h-2zM640 100h2v1h-2zM644 100h1v1h-1zM656 100h1v1h-1zM663 100h2v1h-2zM670 100h2v1h-2zM673 100h1v1h-1zM681 100h1v1h-1zM628 102h1v1h-1z"/>
<path fill="#ca457a" d="M822 95h1v1h-1zM667 98h1v1h-1zM689 98h2v1h-2zM696 98h1v1h-1zM699 98h1v1h-1zM703 98h1v1h-1zM707 98h1v1h-1zM837 98h1v1h-1zM844 98h1v1h-1zM586 100h1v1h-1zM588 100h1v1h-1zM601 100h2v1h-2zM604 100h1v1h-1zM613 100h1v1h-1zM618 100h4v1h-4zM634 100h1v1h-1zM638 100h2v1h-2zM646 100h1v1h-1zM654 100h1v1h-1zM675 100h1v1h-1zM679 100h1v1h-1zM593 102h1v1h-1zM608 102h1v1h-1zM627 102h1v1h-1zM630 102h2v1h-2zM640 102h1v1h-1zM647 102h1v1h-1zM649 102h1v1h-1z"/>
<path fill="#b42e8d" d="M588 98h1v1h-1zM591 98h1v1h-1zM600 98h1v1h-1zM607 98h1v1h-1zM613 98h1v1h-1zM617 98h2v1h-2zM635 98h1v1h-1zM642 98h1v1h-1zM644 98h1v1h-1zM664 98h1v1h-1zM669 98h3v1h-3zM674 98h1v1h-1zM683 98h1v1h-1zM592 100h1v1h-1zM626 100h1v1h-1zM630 100h1v1h-1zM647 100h1v1h-1z"/>
<path fill="#bf3984" d="M619 98h1v1h-1zM638 98h1v1h-1zM656 98h1v1h-1zM659 98h1v1h-1zM675 98h1v1h-1zM681 98h1v1h-1zM697 98h1v1h-1zM740 98h1v1h-1zM589 100h1v1h-1zM593 100h1v1h-1zM598 100h1v1h-1zM610 100h1v1h-1zM635 100h1v1h-1zM637 100h1v1h-1zM642 100h1v1h-1zM648 100h1v1h-1zM651 100h1v1h-1zM655 100h1v1h-1zM657 100h1v1h-1zM661 100h1v1h-1zM665 100h1v1h-1z"/>
<path fill="#d45270" d="M687 98h2v1h-2zM695 98h1v1h-1zM701 98h1v1h-1zM709 98h1v1h-1zM719 98h1v1h-1zM726 98h1v1h-1zM737 98h1v1h-1zM739 98h1v1h-1zM771 98h1v1h-1zM773 98h1v1h-1zM787 98h1v1h-1zM813 98h1v1h-1zM830 98h1v1h-1zM861 98h4v1h-4zM866 98h1v1h-1zM603 100h1v1h-1zM666 100h1v1h-1zM674 100h1v1h-1zM676 100h1v1h-1zM678 100h1v1h-1zM705 100h1v1h-1zM707 100h1v1h-1zM738 100h1v1h-1zM586 102h1v1h-1zM589 102h1v1h-1zM591 102h2v1h-2zM610 102h1v1h-1zM613 102h5v1h-5zM622 102h1v1h-1zM625 102h2v1h-2zM632 102h1v1h-1zM636 102h1v1h-1zM644 102h1v1h-1zM650 102h2v1h-2zM669 102h2v1h-2zM673 102h1v1h-1zM679 102h2v1h-2zM596 104h2v1h-2zM629 104h1v1h-1z"/>
<path fill="#d8576b" d="M692 98h2v1h-2zM704 98h3v1h-3zM711 98h1v1h-1zM738 98h1v1h-1zM770 98h1v1h-1zM828 98h1v1h-1zM838 98h1v1h-1zM845 98h1v1h-1zM865 98h1v1h-1zM685 100h1v1h-1zM688 100h2v1h-2zM691 100h2v1h-2zM695 100h1v1h-1zM740 100h1v1h-1zM743 100h1v1h-1zM861 100h1v1h-1zM599 102h1v1h-1zM602 102h2v1h-2zM606 102h1v1h-1zM609 102h1v1h-1zM624 102h1v1h-1zM634 102h1v1h-1zM652 102h3v1h-3zM657 102h2v1h-2zM660 102h3v1h-3zM682 102h1v1h-1zM594 104h2v1h-2zM598 104h1v1h-1zM613 104h1v1h-1zM645 104h1v1h-1zM662 104h1v1h-1z"/>
<path fill="#dc5d67" d="M698 98h1v1h-1zM712 98h2v1h-2zM718 98h1v1h-1zM720 98h1v1h-1zM724 98h1v1h-1zM728 98h1v1h-1zM736 98h1v1h-1zM743 98h1v1h-1zM755 98h1v1h-1zM762 98h1v1h-1zM772 98h1v1h-1zM774 98h1v1h-1zM786 98h1v1h-1zM803 98h1v1h-1zM807 98h1v1h-1zM811 98h1v1h-1zM816 98h1v1h-1zM823 98h1v1h-1zM832 98h2v1h-2zM858 98h1v1h-1zM860 98h1v1h-1zM701 100h2v1h-2zM742 100h1v1h-1zM810 100h1v1h-1zM620 102h1v1h-1zM643 102h1v1h-1zM656 102h1v1h-1zM659 102h1v1h-1zM665 102h1v1h-1zM667 102h1v1h-1zM672 102h1v1h-1zM677 102h2v1h-2zM681 102h1v1h-1zM693 102h1v1h-1zM589 104h1v1h-1zM591 104h2v1h-2zM601 104h1v1h-1zM604 104h1v1h-1zM606 104h1v1h-1zM610 104h1v1h-1zM612 104h1v1h-1zM624 104h1v1h-1zM628 104h1v1h-1zM633 104h1v1h-1zM637 104h5v1h-5zM643 104h1v1h-1zM646 104h5v1h-5zM682 104h1v1h-1z"/>
<path fill="#ce4b75" d="M710 98h1v1h-1zM744 98h1v1h-1zM748 98h1v1h-1zM776 98h1v1h-1zM834 98h2v1h-2zM842 98h1v1h-1zM847 98h1v1h-1zM585 100h1v1h-1zM590 100h1v1h-1zM605 100h1v1h-1zM616 100h1v1h-1zM633 100h1v1h-1zM652 100h1v1h-1zM658 100h1v1h-1zM662 100h1v1h-1zM669 100h1v1h-1zM672 100h1v1h-1zM677 100h1v1h-1zM683 100h1v1h-1zM686 100h2v1h-2zM587 102h2v1h-2zM590 102h1v1h-1zM595 102h3v1h-3zM612 102h1v1h-1zM633 102h1v1h-1zM637 102h3v1h-3zM642 102h1v1h-1zM645 102h1v1h-1zM648 102h1v1h-1zM668 102h1v1h-1zM671 102h1v1h-1z"/>
<path fill="#e56a5d" d="M714 98h1v1h-1zM717 98h1v1h-1zM721 98h3v1h-3zM725 98h1v1h-1zM734 98h1v1h-1zM750 98h1v1h-1zM775 98h1v1h-1zM784 98h1v1h-1zM790 98h1v1h-1zM805 98h1v1h-1zM812 98h1v1h-1zM822 98h1v1h-1zM826 98h2v1h-2zM846 98h1v1h-1zM848 98h2v1h-2zM854 98h1v1h-1zM870 98h1v1h-1zM699 100h1v1h-1zM719 100h1v1h-1zM736 100h1v1h-1zM745 100h1v1h-1zM771 100h1v1h-1zM774 100h1v1h-1zM776 100h1v1h-1zM787 100h1v1h-1zM804 100h1v1h-1zM814 100h1v1h-1zM827 100h1v1h-1zM829 100h1v1h-1zM839 100h1v1h-1zM842 100h1v1h-1zM686 102h2v1h-2zM690 102h1v1h-1zM696 102h1v1h-1zM699 102h1v1h-1zM836 102h1v1h-1zM841 102h1v1h-1zM608 104h2v1h-2zM615 104h1v1h-1zM651 104h1v1h-1zM653 104h1v1h-1zM655 104h1v1h-1zM661 104h1v1h-1zM663 104h1v1h-1zM665 104h4v1h-4zM679 104h1v1h-1zM683 104h2v1h-2zM692 104h1v1h-1zM587 106h2v1h-2zM590 106h3v1h-3zM595 106h1v1h-1zM598 106h2v1h-2zM606 106h1v1h-1zM609 106h2v1h-2zM628 106h1v1h-1zM639 106h1v1h-1zM648 106h2v1h-2zM625 108h1v1h-1zM648 108h1v1h-1z"/>
<path fill="#e16462" d="M715 98h1v1h-1zM727 98h1v1h-1zM746 98h1v1h-1zM751 98h1v1h-1zM754 98h1v1h-1zM756 98h1v1h-1zM777 98h1v1h-1zM788 98h1v1h-1zM798 98h1v1h-1zM801 98h1v1h-1zM806 98h1v1h-1zM815 98h1v1h-1zM817 98h2v1h-2zM843 98h1v1h-1zM856 98h1v1h-1zM867 98h1v1h-1zM869 98h1v1h-1zM690 100h1v1h-1zM694 100h1v1h-1zM696 100h3v1h-3zM703 100h1v1h-1zM706 100h1v1h-1zM709 100h1v1h-1zM711 100h1v1h-1zM741 100h1v1h-1zM744 100h1v1h-1zM815 100h1v1h-1zM833 100h1v1h-1zM837 100h1v1h-1zM863 100h2v1h-2zM866 100h1v1h-1zM663 102h1v1h-1zM674 102h1v1h-1zM684 102h2v1h-2zM688 102h2v1h-2zM691 102h1v1h-1zM590 104h1v1h-1zM593 104h1v1h-1zM605 104h1v1h-1zM607 104h1v1h-1zM614 104h1v1h-1zM618 104h2v1h-2zM622 104h2v1h-2zM630 104h1v1h-1zM634 104h1v1h-1zM644 104h1v1h-1zM652 104h1v1h-1zM658 104h3v1h-3zM669 104h2v1h-2zM672 104h1v1h-1zM674 104h1v1h-1zM681 104h1v1h-1zM596 106h1v1h-1zM629 106h1v1h-1zM647 106h1v1h-1z"/>
<path fill="#ec7754" d="M730 98h1v1h-1zM757 98h4v1h-4zM789 98h1v1h-1zM791 98h1v1h-1zM794 98h2v1h-2zM808 98h1v1h-1zM819 98h1v1h-1zM868 98h1v1h-1zM725 100h1v1h-1zM728 100h1v1h-1zM730 100h2v1h-2zM749 100h1v1h-1zM751 100h1v1h-1zM753 100h1v1h-1zM757 100h1v1h-1zM783 100h1v1h-1zM785 100h1v1h-1zM788 100h1v1h-1zM796 100h1v1h-1zM799 100h1v1h-1zM806 100h2v1h-2zM809 100h1v1h-1zM811 100h2v1h-2zM816 100h1v1h-1zM818 100h1v1h-1zM823 100h1v1h-1zM830 100h1v1h-1zM843 100h1v1h-1zM845 100h1v1h-1zM850 100h1v1h-1zM862 100h1v1h-1zM870 100h1v1h-1zM706 102h1v1h-1zM724 102h1v1h-1zM742 102h1v1h-1zM748 102h1v1h-1zM774 102h2v1h-2zM813 102h2v1h-2zM824 102h1v1h-1zM829 102h3v1h-3zM837 102h1v1h-1zM859 102h2v1h-2zM685 104h1v1h-1zM687 104h1v1h-1zM689 104h1v1h-1zM702 104h1v1h-1zM738 104h1v1h-1zM602 106h3v1h-3zM619 106h1v1h-1zM640 106h1v1h-1zM652 106h1v1h-1zM655 106h1v1h-1zM658 106h1v1h-1zM665 106h1v1h-1zM668 106h2v1h-2zM672 106h1v1h-1zM674 106h1v1h-1zM680 106h2v1h-2zM686 106h1v1h-1zM589 108h1v1h-1zM594 108h1v1h-1zM596 108h1v1h-1zM603 108h1v1h-1zM616 108h1v1h-1zM626 108h2v1h-2zM629 108h2v1h-2zM634 108h1v1h-1zM639 108h1v1h-1zM644 108h1v1h-1zM650 108h1v1h-1zM652 108h1v1h-1zM668 108h1v1h-1zM598 110h1v1h-1zM630 110h1v1h-1z"/>
<path fill="#e97158" d="M731 98h3v1h-3zM735 98h1v1h-1zM749 98h1v1h-1zM763 98h1v1h-1zM768 98h1v1h-1zM778 98h2v1h-2zM782 98h2v1h-2zM785 98h1v1h-1zM792 98h1v1h-1zM796 98h2v1h-2zM800 98h1v1h-1zM804 98h1v1h-1zM810 98h1v1h-1zM851 98h1v1h-1zM855 98h1v1h-1zM857 98h1v1h-1zM704 100h1v1h-1zM708 100h1v1h-1zM713 100h6v1h-6zM720 100h1v1h-1zM722 100h3v1h-3zM729 100h1v1h-1zM737 100h1v1h-1zM773 100h1v1h-1zM797 100h1v1h-1zM801 100h3v1h-3zM805 100h1v1h-1zM813 100h1v1h-1zM822 100h1v1h-1zM825 100h1v1h-1zM828 100h1v1h-1zM831 100h2v1h-2zM841 100h1v1h-1zM846 100h1v1h-1zM856 100h1v1h-1zM858 100h1v1h-1zM860 100h1v1h-1zM695 102h1v1h-1zM697 102h1v1h-1zM702 102h1v1h-1zM705 102h1v1h-1zM707 102h2v1h-2zM710 102h1v1h-1zM738 102h1v1h-1zM834 102h1v1h-1zM864 102h1v1h-1zM603 104h1v1h-1zM654 104h1v1h-1zM657 104h1v1h-1zM671 104h1v1h-1zM675 104h1v1h-1zM677 104h1v1h-1zM686 104h1v1h-1zM688 104h1v1h-1zM585 106h1v1h-1zM601 106h1v1h-1zM607 106h2v1h-2zM611 106h4v1h-4zM616 106h1v1h-1zM620 106h2v1h-2zM623 106h1v1h-1zM626 106h1v1h-1zM633 106h4v1h-4zM638 106h1v1h-1zM641 106h1v1h-1zM644 106h1v1h-1zM650 106h1v1h-1zM653 106h1v1h-1zM664 106h1v1h-1zM673 106h1v1h-1zM593 108h1v1h-1zM595 108h1v1h-1zM628 108h1v1h-1zM636 108h1v1h-1z"/>
<path fill="#ef7e50" d="M753 98h1v1h-1zM766 98h1v1h-1zM769 98h1v1h-1zM780 98h2v1h-2zM809 98h1v1h-1zM821 98h1v1h-1zM850 98h1v1h-1zM853 98h1v1h-1zM733 100h1v1h-1zM735 100h1v1h-1zM748 100h1v1h-1zM750 100h1v1h-1zM752 100h1v1h-1zM756 100h1v1h-1zM759 100h1v1h-1zM768 100h3v1h-3zM775 100h1v1h-1zM777 100h1v1h-1zM789 100h1v1h-1zM791 100h1v1h-1zM793 100h2v1h-2zM798 100h1v1h-1zM800 100h1v1h-1zM808 100h1v1h-1zM819 100h1v1h-1zM821 100h1v1h-1zM838 100h1v1h-1zM848 100h2v1h-2zM854 100h1v1h-1zM857 100h1v1h-1zM709 102h1v1h-1zM712 102h2v1h-2zM716 102h2v1h-2zM722 102h1v1h-1zM726 102h1v1h-1zM728 102h2v1h-2zM736 102h1v1h-1zM744 102h1v1h-1zM749 102h1v1h-1zM772 102h2v1h-2zM776 102h2v1h-2zM802 102h1v1h-1zM804 102h1v1h-1zM809 102h1v1h-1zM812 102h1v1h-1zM825 102h1v1h-1zM833 102h1v1h-1zM835 102h1v1h-1zM839 102h1v1h-1zM843 102h1v1h-1zM858 102h1v1h-1zM861 102h1v1h-1zM863 102h1v1h-1zM865 102h1v1h-1zM867 102h2v1h-2zM693 104h2v1h-2zM697 104h1v1h-1zM699 104h1v1h-1zM703 104h3v1h-3zM710 104h1v1h-1zM740 104h1v1h-1zM742 104h1v1h-1zM813 104h1v1h-1zM828 104h1v1h-1zM830 104h1v1h-1zM864 104h1v1h-1zM605 106h1v1h-1zM656 106h1v1h-1zM661 106h1v1h-1zM671 106h1v1h-1zM676 106h4v1h-4zM684 106h1v1h-1zM587 108h1v1h-1zM607 108h3v1h-3zM615 108h1v1h-1zM624 108h1v1h-1zM631 108h2v1h-2zM635 108h1v1h-1zM637 108h2v1h-2zM642 108h2v1h-2zM645 108h2v1h-2zM654 108h1v1h-1zM656 108h2v1h-2zM659 108h1v1h-1zM669 108h1v1h-1zM680 108h1v1h-1zM591 110h1v1h-1zM596 110h2v1h-2zM612 110h2v1h-2zM626 110h1v1h-1zM640 110h1v1h-1zM648 110h2v1h-2zM679 110h1v1h-1z"/>
<path fill="#f58c46" d="M761 98h1v1h-1zM758 100h1v1h-1zM761 100h2v1h-2zM779 100h1v1h-1zM781 100h1v1h-1zM795 100h1v1h-1zM851 100h2v1h-2zM868 100h1v1h-1zM720 102h1v1h-1zM730 102h1v1h-1zM732 102h1v1h-1zM734 102h1v1h-1zM746 102h2v1h-2zM750 102h2v1h-2zM754 102h7v1h-7zM770 102h1v1h-1zM778 102h1v1h-1zM780 102h1v1h-1zM787 102h1v1h-1zM789 102h2v1h-2zM807 102h2v1h-2zM816 102h1v1h-1zM819 102h1v1h-1zM848 102h1v1h-1zM850 102h1v1h-1zM853 102h2v1h-2zM711 104h1v1h-1zM714 104h1v1h-1zM721 104h1v1h-1zM723 104h1v1h-1zM725 104h2v1h-2zM729 104h2v1h-2zM733 104h1v1h-1zM743 104h1v1h-1zM774 104h1v1h-1zM787 104h1v1h-1zM798 104h4v1h-4zM803 104h1v1h-1zM809 104h1v1h-1zM812 104h1v1h-1zM814 104h2v1h-2zM817 104h3v1h-3zM824 104h1v1h-1zM838 104h1v1h-1zM841 104h1v1h-1zM844 104h2v1h-2zM860 104h1v1h-1zM868 104h1v1h-1zM688 106h1v1h-1zM694 106h2v1h-2zM698 106h2v1h-2zM703 106h1v1h-1zM707 106h4v1h-4zM715 106h1v1h-1zM740 106h1v1h-1zM742 106h1v1h-1zM815 106h1v1h-1zM841 106h1v1h-1zM844 106h1v1h-1zM633 108h1v1h-1zM663 108h1v1h-1zM670 108h1v1h-1zM675 108h1v1h-1zM684 108h1v1h-1zM689 108h1v1h-1zM693 108h1v1h-1zM697 108h2v1h-2zM705 108h1v1h-1zM585 110h1v1h-1zM590 110h1v1h-1zM614 110h3v1h-3zM621 110h1v1h-1zM635 110h1v1h-1zM658 110h1v1h-1zM662 110h1v1h-1zM664 110h3v1h-3zM681 110h1v1h-1zM684 110h1v1h-1zM601 112h1v1h-1zM615 112h1v1h-1zM623 112h1v1h-1zM643 112h1v1h-1z"/>
<path fill="#f3854b" d="M767 98h1v1h-1zM824 98h1v1h-1zM726 100h2v1h-2zM732 100h1v1h-1zM747 100h1v1h-1zM755 100h1v1h-1zM760 100h1v1h-1zM763 100h3v1h-3zM782 100h1v1h-1zM784 100h1v1h-1zM790 100h1v1h-1zM792 100h1v1h-1zM817 100h1v1h-1zM859 100h1v1h-1zM869 100h1v1h-1zM711 102h1v1h-1zM718 102h2v1h-2zM721 102h1v1h-1zM733 102h1v1h-1zM737 102h1v1h-1zM752 102h2v1h-2zM771 102h1v1h-1zM783 102h2v1h-2zM786 102h1v1h-1zM794 102h2v1h-2zM800 102h1v1h-1zM803 102h1v1h-1zM805 102h2v1h-2zM810 102h2v1h-2zM815 102h1v1h-1zM817 102h1v1h-1zM832 102h1v1h-1zM844 102h2v1h-2zM847 102h1v1h-1zM849 102h1v1h-1zM855 102h2v1h-2zM866 102h1v1h-1zM701 104h1v1h-1zM707 104h1v1h-1zM713 104h1v1h-1zM727 104h1v1h-1zM829 104h1v1h-1zM831 104h3v1h-3zM835 104h1v1h-1zM837 104h1v1h-1zM839 104h1v1h-1zM842 104h2v1h-2zM858 104h1v1h-1zM862 104h1v1h-1zM685 106h1v1h-1zM739 106h1v1h-1zM741 106h1v1h-1zM585 108h1v1h-1zM588 108h1v1h-1zM604 108h1v1h-1zM660 108h1v1h-1zM667 108h1v1h-1zM676 108h4v1h-4zM682 108h2v1h-2zM588 110h1v1h-1zM593 110h2v1h-2zM618 110h1v1h-1zM638 110h1v1h-1zM641 110h2v1h-2zM650 110h1v1h-1zM592 112h2v1h-2zM597 112h2v1h-2zM613 112h1v1h-1zM627 112h1v1h-1zM635 112h1v1h-1zM639 112h1v1h-1z"/>
<path fill="#f79342" d="M793 98h1v1h-1zM766 100h1v1h-1zM780 100h1v1h-1zM767 102h2v1h-2zM779 102h1v1h-1zM782 102h1v1h-1zM796 102h1v1h-1zM822 102h2v1h-2zM852 102h1v1h-1zM869 102h1v1h-1zM715 104h1v1h-1zM719 104h2v1h-2zM731 104h2v1h-2zM735 104h1v1h-1zM746 104h1v1h-1zM751 104h1v1h-1zM753 104h1v1h-1zM756 104h1v1h-1zM762 104h1v1h-1zM770 104h1v1h-1zM776 104h1v1h-1zM785 104h2v1h-2zM789 104h1v1h-1zM805 104h2v1h-2zM808 104h1v1h-1zM810 104h1v1h-1zM827 104h1v1h-1zM836 104h1v1h-1zM847 104h2v1h-2zM850 104h1v1h-1zM857 104h1v1h-1zM867 104h1v1h-1zM869 104h1v1h-1zM704 106h1v1h-1zM714 106h1v1h-1zM716 106h1v1h-1zM723 106h1v1h-1zM737 106h1v1h-1zM747 106h1v1h-1zM770 106h2v1h-2zM775 106h2v1h-2zM816 106h1v1h-1zM830 106h1v1h-1zM833 106h1v1h-1zM837 106h1v1h-1zM839 106h2v1h-2zM843 106h1v1h-1zM859 106h1v1h-1zM864 106h1v1h-1zM687 108h2v1h-2zM703 108h2v1h-2zM709 108h1v1h-1zM835 108h2v1h-2zM685 110h1v1h-1zM742 110h1v1h-1zM590 112h1v1h-1zM612 112h1v1h-1zM619 112h2v1h-2zM631 112h1v1h-1zM633 112h2v1h-2zM644 112h1v1h-1zM658 112h1v1h-1zM668 112h1v1h-1zM677 112h1v1h-1zM679 112h1v1h-1z"/>
<path fill="#fa9b3d" d="M765 102h1v1h-1zM792 102h1v1h-1zM870 102h1v1h-1zM716 104h1v1h-1zM718 104h1v1h-1zM748 104h2v1h-2zM752 104h1v1h-1zM757 104h2v1h-2zM768 104h2v1h-2zM778 104h1v1h-1zM783 104h2v1h-2zM788 104h1v1h-1zM790 104h1v1h-1zM794 104h2v1h-2zM797 104h1v1h-1zM804 104h1v1h-1zM811 104h1v1h-1zM821 104h3v1h-3zM849 104h1v1h-1zM852 104h2v1h-2zM717 106h3v1h-3zM726 106h2v1h-2zM729 106h1v1h-1zM732 106h2v1h-2zM743 106h4v1h-4zM748 106h1v1h-1zM750 106h2v1h-2zM758 106h1v1h-1zM784 106h1v1h-1zM787 106h1v1h-1zM789 106h1v1h-1zM798 106h2v1h-2zM802 106h2v1h-2zM811 106h3v1h-3zM821 106h1v1h-1zM824 106h3v1h-3zM828 106h1v1h-1zM832 106h1v1h-1zM838 106h1v1h-1zM842 106h1v1h-1zM845 106h2v1h-2zM860 106h1v1h-1zM867 106h1v1h-1zM706 108h2v1h-2zM741 108h1v1h-1zM746 108h1v1h-1zM771 108h1v1h-1zM773 108h2v1h-2zM785 108h1v1h-1zM811 108h1v1h-1zM840 108h4v1h-4zM858 108h3v1h-3zM862 108h1v1h-1zM693 110h1v1h-1zM696 110h1v1h-1zM702 110h1v1h-1zM711 110h1v1h-1zM814 110h1v1h-1zM835 110h1v1h-1zM837 110h1v1h-1zM659 112h1v1h-1zM674 112h1v1h-1zM676 112h1v1h-1zM684 112h1v1h-1zM689 112h1v1h-1zM695 112h1v1h-1zM697 112h1v1h-1zM625 114h1v1h-1zM663 114h1v1h-1zM678 114h1v1h-1zM683 114h1v1h-1zM775 114h1v1h-1zM841 114h1v1h-1zM773 116h1v1h-1zM834 116h1v1h-1z"/>
<path fill="#fba238" d="M821 102h1v1h-1zM766 104h2v1h-2zM780 104h1v1h-1zM722 106h1v1h-1zM728 106h1v1h-1zM730 106h2v1h-2zM752 106h1v1h-1zM754 106h4v1h-4zM760 106h2v1h-2zM765 106h1v1h-1zM767 106h1v1h-1zM769 106h1v1h-1zM779 106h1v1h-1zM785 106h1v1h-1zM793 106h1v1h-1zM797 106h1v1h-1zM805 106h2v1h-2zM820 106h1v1h-1zM822 106h2v1h-2zM848 106h2v1h-2zM856 106h1v1h-1zM869 106h1v1h-1zM699 108h1v1h-1zM708 108h1v1h-1zM711 108h1v1h-1zM714 108h2v1h-2zM718 108h2v1h-2zM722 108h4v1h-4zM727 108h1v1h-1zM733 108h1v1h-1zM747 108h2v1h-2zM769 108h2v1h-2zM772 108h1v1h-1zM807 108h1v1h-1zM815 108h2v1h-2zM829 108h2v1h-2zM837 108h1v1h-1zM851 108h1v1h-1zM863 108h1v1h-1zM700 110h1v1h-1zM720 110h4v1h-4zM728 110h1v1h-1zM731 110h1v1h-1zM738 110h1v1h-1zM785 110h1v1h-1zM833 110h1v1h-1zM836 110h1v1h-1zM838 110h1v1h-1zM840 110h1v1h-1zM842 110h2v1h-2zM845 110h1v1h-1zM859 110h1v1h-1zM863 110h1v1h-1zM696 112h1v1h-1zM698 112h1v1h-1zM700 112h1v1h-1zM672 114h1v1h-1zM690 114h1v1h-1zM693 114h1v1h-1zM708 114h1v1h-1zM721 114h1v1h-1zM724 114h1v1h-1zM746 114h1v1h-1zM749 114h1v1h-1zM757 114h1v1h-1zM787 114h1v1h-1zM824 114h1v1h-1zM847 114h2v1h-2zM856 114h1v1h-1zM624 116h1v1h-1zM627 116h1v1h-1zM631 116h1v1h-1zM646 116h1v1h-1zM649 116h2v1h-2zM671 116h1v1h-1zM689 116h1v1h-1zM697 116h1v1h-1zM705 116h1v1h-1zM740 116h1v1h-1zM746 116h1v1h-1zM774 116h1v1h-1zM832 116h1v1h-1zM844 116h2v1h-2zM849 116h1v1h-1zM691 118h1v1h-1zM702 118h1v1h-1zM833 118h1v1h-1zM739 120h1v1h-1zM827 120h1v1h-1z"/>
<path fill="#fca934" d="M753 106h1v1h-1zM759 106h1v1h-1zM764 106h1v1h-1zM766 106h1v1h-1zM782 106h2v1h-2zM794 106h1v1h-1zM796 106h1v1h-1zM852 106h1v1h-1zM726 108h1v1h-1zM734 108h2v1h-2zM749 108h2v1h-2zM756 108h1v1h-1zM760 108h1v1h-1zM762 108h1v1h-1zM779 108h1v1h-1zM788 108h2v1h-2zM797 108h2v1h-2zM802 108h1v1h-1zM808 108h1v1h-1zM810 108h1v1h-1zM821 108h2v1h-2zM827 108h1v1h-1zM847 108h1v1h-1zM852 108h1v1h-1zM855 108h3v1h-3zM861 108h1v1h-1zM714 110h1v1h-1zM717 110h3v1h-3zM727 110h1v1h-1zM729 110h2v1h-2zM733 110h1v1h-1zM737 110h1v1h-1zM757 110h2v1h-2zM774 110h1v1h-1zM777 110h1v1h-1zM805 110h1v1h-1zM815 110h1v1h-1zM817 110h3v1h-3zM823 110h1v1h-1zM839 110h1v1h-1zM847 110h2v1h-2zM854 110h1v1h-1zM856 110h1v1h-1zM862 110h1v1h-1zM865 110h1v1h-1zM694 112h1v1h-1zM707 112h1v1h-1zM743 112h1v1h-1zM772 112h1v1h-1zM775 112h1v1h-1zM803 112h1v1h-1zM826 112h1v1h-1zM831 112h1v1h-1zM840 112h1v1h-1zM859 112h1v1h-1zM603 114h1v1h-1zM620 114h1v1h-1zM644 114h1v1h-1zM652 114h1v1h-1zM659 114h1v1h-1zM667 114h1v1h-1zM783 114h1v1h-1zM797 114h1v1h-1zM800 114h1v1h-1zM590 116h1v1h-1zM597 116h2v1h-2zM600 116h1v1h-1zM607 116h1v1h-1zM633 116h1v1h-1zM655 116h1v1h-1zM662 116h1v1h-1zM675 116h1v1h-1zM692 116h1v1h-1zM698 116h1v1h-1zM701 116h2v1h-2zM707 116h1v1h-1zM711 116h1v1h-1zM716 116h1v1h-1zM722 116h1v1h-1zM737 116h1v1h-1zM748 116h1v1h-1zM752 116h1v1h-1zM764 116h1v1h-1zM769 116h1v1h-1zM798 116h1v1h-1zM802 116h1v1h-1zM813 116h1v1h-1zM857 116h1v1h-1zM611 118h1v1h-1zM825 118h1v1h-1zM865 118h1v1h-1zM870 118h1v1h-1zM628 120h1v1h-1zM684 120h1v1h-1zM712 120h1v1h-1zM722 120h1v1h-1zM750 120h1v1h-1zM808 120h1v1h-1zM829 120h1v1h-1zM627 141h1v1h-1zM682 141h1v1h-1zM737 141h1v1h-1zM740 141h1v1h-1zM743 141h1v1h-1zM829 141h1v1h-1zM837 141h1v1h-1z"/>
<path fill="#fdb22f" d="M780 106h1v1h-1zM763 108h1v1h-1zM765 108h1v1h-1zM780 108h3v1h-3zM820 108h1v1h-1zM760 110h2v1h-2zM767 110h2v1h-2zM782 110h2v1h-2zM787 110h1v1h-1zM790 110h1v1h-1zM793 110h1v1h-1zM795 110h1v1h-1zM816 110h1v1h-1zM826 110h1v1h-1zM849 110h1v1h-1zM725 112h1v1h-1zM764 112h1v1h-1zM776 112h1v1h-1zM785 112h1v1h-1zM798 112h2v1h-2zM801 112h2v1h-2zM806 112h1v1h-1zM810 112h1v1h-1zM823 112h1v1h-1zM829 112h1v1h-1zM842 112h1v1h-1zM855 112h1v1h-1zM862 112h1v1h-1zM870 112h1v1h-1zM605 116h1v1h-1zM665 116h1v1h-1zM687 116h1v1h-1zM733 116h1v1h-1zM768 116h1v1h-1zM783 116h1v1h-1zM788 116h1v1h-1zM797 116h1v1h-1zM854 116h1v1h-1zM870 116h1v1h-1zM603 118h1v1h-1zM662 118h1v1h-1zM777 118h1v1h-1zM807 118h1v1h-1zM585 120h1v1h-1zM621 120h1v1h-1zM639 120h1v1h-1zM656 120h1v1h-1zM672 120h2v1h-2zM718 120h1v1h-1zM728 120h1v1h-1zM759 120h1v1h-1zM802 120h1v1h-1zM805 120h1v1h-1zM816 120h1v1h-1zM819 120h1v1h-1zM824 120h1v1h-1zM859 120h1v1h-1zM703 122h1v1h-1zM856 122h1v1h-1zM598 124h1v1h-1zM627 124h1v1h-1zM805 124h1v1h-1zM823 124h1v1h-1zM593 141h3v1h-3zM597 141h1v1h-1zM599 141h1v1h-1zM601 141h1v1h-1zM609 141h1v1h-1zM611 141h1v1h-1zM624 141h1v1h-1zM628 141h1v1h-1zM643 141h1v1h-1zM645 141h1v1h-1zM673 141h1v1h-1zM678 141h1v1h-1zM680 141h2v1h-2zM688 141h1v1h-1zM690 141h2v1h-2zM696 141h1v1h-1zM702 141h1v1h-1zM704 141h1v1h-1zM733 141h1v1h-1zM739 141h1v1h-1zM741 141h2v1h-2zM771 141h3v1h-3zM784 141h1v1h-1zM810 141h1v1h-1zM813 141h1v1h-1zM815 141h1v1h-1zM827 141h2v1h-2zM830 141h1v1h-1zM833 141h2v1h-2zM840 141h2v1h-2zM857 141h3v1h-3zM861 141h2v1h-2zM594 143h1v1h-1zM680 143h1v1h-1zM700 143h1v1h-1zM741 143h2v1h-2z"/>
<path fill="#feba2c" d="M754 110h1v1h-1zM762 110h1v1h-1zM765 110h1v1h-1zM770 110h1v1h-1zM853 110h1v1h-1zM855 110h1v1h-1zM857 110h1v1h-1zM869 110h2v1h-2zM724 112h1v1h-1zM729 112h1v1h-1zM786 112h1v1h-1zM788 112h3v1h-3zM795 112h2v1h-2zM800 112h1v1h-1zM822 112h1v1h-1zM850 112h2v1h-2zM820 116h1v1h-1zM797 120h1v1h-1zM642 124h1v1h-1zM681 124h1v1h-1zM720 124h1v1h-1zM764 124h1v1h-1zM776 124h1v1h-1zM808 124h1v1h-1zM790 126h1v1h-1zM588 141h2v1h-2zM596 141h1v1h-1zM602 141h2v1h-2zM607 141h2v1h-2zM610 141h1v1h-1zM614 141h1v1h-1zM618 141h1v1h-1zM625 141h1v1h-1zM629 141h4v1h-4zM634 141h4v1h-4zM640 141h2v1h-2zM644 141h1v1h-1zM648 141h2v1h-2zM665 141h1v1h-1zM672 141h1v1h-1zM679 141h1v1h-1zM683 141h1v1h-1zM686 141h1v1h-1zM689 141h1v1h-1zM697 141h1v1h-1zM701 141h1v1h-1zM707 141h1v1h-1zM709 141h3v1h-3zM716 141h1v1h-1zM718 141h1v1h-1zM722 141h2v1h-2zM730 141h1v1h-1zM732 141h1v1h-1zM734 141h3v1h-3zM745 141h1v1h-1zM753 141h1v1h-1zM755 141h2v1h-2zM760 141h1v1h-1zM762 141h1v1h-1zM774 141h1v1h-1zM776 141h1v1h-1zM785 141h3v1h-3zM800 141h1v1h-1zM804 141h3v1h-3zM812 141h1v1h-1zM814 141h1v1h-1zM816 141h1v1h-1zM822 141h2v1h-2zM825 141h2v1h-2zM831 141h1v1h-1zM838 141h1v1h-1zM846 141h1v1h-1zM853 141h2v1h-2zM860 141h1v1h-1zM865 141h1v1h-1zM868 141h1v1h-1zM870 141h1v1h-1zM590 143h1v1h-1zM596 143h2v1h-2zM601 143h1v1h-1zM608 143h1v1h-1zM613 143h1v1h-1zM626 143h1v1h-1zM638 143h1v1h-1zM644 143h3v1h-3zM649 143h1v1h-1zM661 143h1v1h-1zM669 143h2v1h-2zM678 143h1v1h-1zM681 143h1v1h-1zM683 143h1v1h-1zM701 143h2v1h-2zM704 143h1v1h-1zM707 143h1v1h-1zM715 143h1v1h-1zM734 143h1v1h-1zM738 143h2v1h-2zM744 143h1v1h-1zM772 143h3v1h-3zM798 143h1v1h-1zM811 143h1v1h-1zM813 143h1v1h-1zM829 143h1v1h-1zM832 143h1v1h-1zM834 143h3v1h-3zM838 143h1v1h-1zM842 143h1v1h-1zM844 143h2v1h-2zM848 143h1v1h-1zM863 143h2v1h-2zM866 143h1v1h-1zM595 145h1v1h-1zM681 145h1v1h-1zM741 145h1v1h-1zM835 145h1v1h-1zM841 145h1v1h-1zM863 145h1v1h-1z"/>
<path fill="#fdc328" d="M794 110h1v1h-1zM761 112h1v1h-1zM781 112h1v1h-1zM821 112h1v1h-1zM849 112h1v1h-1zM663 118h1v1h-1zM765 120h1v1h-1zM795 124h1v1h-1zM591 141h1v1h-1zM604 141h1v1h-1zM606 141h1v1h-1zM617 141h1v1h-1zM619 141h4v1h-4zM642 141h1v1h-1zM653 141h2v1h-2zM657 141h1v1h-1zM660 141h1v1h-1zM669 141h1v1h-1zM684 141h1v1h-1zM692 141h2v1h-2zM717 141h1v1h-1zM720 141h1v1h-1zM725 141h5v1h-5zM731 141h1v1h-1zM749 141h1v1h-1zM752 141h1v1h-1zM761 141h1v1h-1zM777 141h2v1h-2zM780 141h4v1h-4zM795 141h1v1h-1zM797 141h1v1h-1zM801 141h1v1h-1zM803 141h1v1h-1zM818 141h1v1h-1zM824 141h1v1h-1zM847 141h1v1h-1zM849 141h1v1h-1zM869 141h1v1h-1zM588 143h1v1h-1zM592 143h1v1h-1zM595 143h1v1h-1zM604 143h4v1h-4zM610 143h2v1h-2zM615 143h1v1h-1zM620 143h1v1h-1zM622 143h1v1h-1zM628 143h1v1h-1zM630 143h1v1h-1zM633 143h1v1h-1zM636 143h2v1h-2zM640 143h4v1h-4zM651 143h1v1h-1zM653 143h1v1h-1zM657 143h1v1h-1zM659 143h2v1h-2zM663 143h1v1h-1zM666 143h2v1h-2zM672 143h4v1h-4zM677 143h1v1h-1zM679 143h1v1h-1zM686 143h2v1h-2zM689 143h2v1h-2zM694 143h6v1h-6zM708 143h4v1h-4zM714 143h1v1h-1zM716 143h4v1h-4zM723 143h1v1h-1zM727 143h1v1h-1zM732 143h1v1h-1zM736 143h2v1h-2zM743 143h1v1h-1zM745 143h3v1h-3zM749 143h3v1h-3zM757 143h1v1h-1zM764 143h1v1h-1zM769 143h3v1h-3zM775 143h2v1h-2zM782 143h2v1h-2zM786 143h3v1h-3zM792 143h1v1h-1zM797 143h1v1h-1zM799 143h1v1h-1zM803 143h5v1h-5zM809 143h2v1h-2zM812 143h1v1h-1zM816 143h2v1h-2zM819 143h3v1h-3zM823 143h3v1h-3zM830 143h1v1h-1zM840 143h1v1h-1zM843 143h1v1h-1zM849 143h5v1h-5zM856 143h1v1h-1zM862 143h1v1h-1zM865 143h1v1h-1zM867 143h4v1h-4zM593 145h2v1h-2zM596 145h1v1h-1zM599 145h1v1h-1zM601 145h1v1h-1zM606 145h2v1h-2zM614 145h1v1h-1zM626 145h1v1h-1zM637 145h1v1h-1zM647 145h1v1h-1zM649 145h2v1h-2zM670 145h1v1h-1zM672 145h1v1h-1zM679 145h2v1h-2zM682 145h1v1h-1zM689 145h1v1h-1zM709 145h2v1h-2zM713 145h1v1h-1zM729 145h1v1h-1zM739 145h2v1h-2zM744 145h3v1h-3zM773 145h1v1h-1zM775 145h1v1h-1zM777 145h1v1h-1zM801 145h1v1h-1zM807 145h1v1h-1zM809 145h1v1h-1zM813 145h2v1h-2zM825 145h1v1h-1zM827 145h1v1h-1zM836 145h3v1h-3zM840 145h1v1h-1zM842 145h3v1h-3zM856 145h1v1h-1zM859 145h2v1h-2zM862 145h1v1h-1zM864 145h1v1h-1zM867 145h1v1h-1zM595 147h1v1h-1zM650 147h1v1h-1zM705 147h1v1h-1zM740 147h1v1h-1zM742 147h1v1h-1zM774 147h2v1h-2zM829 147h1v1h-1zM831 147h1v1h-1zM833 147h2v1h-2zM836 147h1v1h-1zM838 147h1v1h-1zM843 147h1v1h-1zM860 147h1v1h-1z"/>
<path fill="#fdcb26" d="M667 141h1v1h-1zM764 141h2v1h-2zM779 141h1v1h-1zM793 141h2v1h-2zM589 143h1v1h-1zM602 143h2v1h-2zM614 143h1v1h-1zM616 143h1v1h-1zM621 143h1v1h-1zM623 143h1v1h-1zM631 143h2v1h-2zM634 143h1v1h-1zM652 143h1v1h-1zM658 143h1v1h-1zM662 143h1v1h-1zM665 143h1v1h-1zM688 143h1v1h-1zM693 143h1v1h-1zM705 143h2v1h-2zM712 143h1v1h-1zM721 143h1v1h-1zM724 143h3v1h-3zM728 143h2v1h-2zM735 143h1v1h-1zM754 143h2v1h-2zM758 143h1v1h-1zM760 143h2v1h-2zM763 143h1v1h-1zM766 143h3v1h-3zM777 143h3v1h-3zM790 143h1v1h-1zM794 143h1v1h-1zM796 143h1v1h-1zM801 143h2v1h-2zM808 143h1v1h-1zM815 143h1v1h-1zM818 143h1v1h-1zM822 143h1v1h-1zM854 143h1v1h-1zM857 143h1v1h-1zM587 145h1v1h-1zM591 145h2v1h-2zM597 145h2v1h-2zM603 145h2v1h-2zM609 145h1v1h-1zM611 145h1v1h-1zM616 145h3v1h-3zM620 145h6v1h-6zM630 145h3v1h-3zM638 145h4v1h-4zM644 145h1v1h-1zM652 145h1v1h-1zM657 145h3v1h-3zM662 145h2v1h-2zM665 145h1v1h-1zM667 145h2v1h-2zM671 145h1v1h-1zM686 145h3v1h-3zM691 145h3v1h-3zM697 145h3v1h-3zM703 145h1v1h-1zM705 145h1v1h-1zM708 145h1v1h-1zM711 145h1v1h-1zM715 145h4v1h-4zM720 145h1v1h-1zM723 145h1v1h-1zM725 145h1v1h-1zM728 145h1v1h-1zM730 145h1v1h-1zM733 145h3v1h-3zM737 145h1v1h-1zM743 145h1v1h-1zM749 145h1v1h-1zM752 145h1v1h-1zM755 145h3v1h-3zM762 145h1v1h-1zM764 145h1v1h-1zM768 145h1v1h-1zM770 145h1v1h-1zM772 145h1v1h-1zM774 145h1v1h-1zM776 145h1v1h-1zM783 145h1v1h-1zM785 145h1v1h-1zM790 145h1v1h-1zM792 145h1v1h-1zM796 145h2v1h-2zM799 145h1v1h-1zM802 145h2v1h-2zM806 145h1v1h-1zM811 145h2v1h-2zM818 145h2v1h-2zM822 145h1v1h-1zM824 145h1v1h-1zM826 145h1v1h-1zM828 145h2v1h-2zM832 145h2v1h-2zM845 145h2v1h-2zM848 145h3v1h-3zM855 145h1v1h-1zM866 145h1v1h-1zM868 145h2v1h-2zM586 147h1v1h-1zM590 147h1v1h-1zM593 147h2v1h-2zM596 147h1v1h-1zM598 147h4v1h-4zM609 147h1v1h-1zM611 147h1v1h-1zM618 147h1v1h-1zM623 147h1v1h-1zM625 147h6v1h-6zM635 147h2v1h-2zM638 147h3v1h-3zM642 147h2v1h-2zM645 147h1v1h-1zM648 147h1v1h-1zM653 147h1v1h-1zM669 147h1v1h-1zM671 147h3v1h-3zM677 147h4v1h-4zM683 147h1v1h-1zM694 147h1v1h-1zM696 147h1v1h-1zM699 147h1v1h-1zM701 147h4v1h-4zM710 147h1v1h-1zM719 147h2v1h-2zM722 147h1v1h-1zM724 147h1v1h-1zM733 147h1v1h-1zM738 147h2v1h-2zM743 147h2v1h-2zM750 147h1v1h-1zM755 147h1v1h-1zM770 147h1v1h-1zM772 147h2v1h-2zM786 147h1v1h-1zM796 147h1v1h-1zM801 147h1v1h-1zM810 147h2v1h-2zM813 147h3v1h-3zM819 147h1v1h-1zM826 147h3v1h-3zM832 147h1v1h-1zM837 147h1v1h-1zM844 147h1v1h-1zM846 147h1v1h-1zM849 147h2v1h-2zM863 147h2v1h-2zM592 149h1v1h-1zM642 149h1v1h-1zM680 149h2v1h-2zM741 149h1v1h-1zM744 149h1v1h-1zM812 149h1v1h-1zM832 149h1v1h-1zM837 149h1v1h-1zM862 149h2v1h-2zM836 151h1v1h-1zM840 151h1v1h-1zM835 153h1v1h-1z"/>
<path fill="#fbd324" d="M792 141h1v1h-1zM752 143h1v1h-1zM793 143h1v1h-1zM602 145h1v1h-1zM605 145h1v1h-1zM610 145h1v1h-1zM615 145h1v1h-1zM619 145h1v1h-1zM635 145h1v1h-1zM651 145h1v1h-1zM654 145h1v1h-1zM661 145h1v1h-1zM696 145h1v1h-1zM707 145h1v1h-1zM747 145h2v1h-2zM750 145h2v1h-2zM760 145h2v1h-2zM763 145h1v1h-1zM765 145h3v1h-3zM778 145h5v1h-5zM788 145h2v1h-2zM793 145h3v1h-3zM798 145h1v1h-1zM808 145h1v1h-1zM810 145h1v1h-1zM821 145h1v1h-1zM823 145h1v1h-1zM851 145h2v1h-2zM587 147h3v1h-3zM591 147h2v1h-2zM602 147h1v1h-1zM605 147h1v1h-1zM612 147h3v1h-3zM616 147h2v1h-2zM624 147h1v1h-1zM631 147h4v1h-4zM644 147h1v1h-1zM651 147h2v1h-2zM655 147h8v1h-8zM664 147h2v1h-2zM668 147h1v1h-1zM675 147h2v1h-2zM682 147h1v1h-1zM686 147h3v1h-3zM690 147h1v1h-1zM693 147h1v1h-1zM695 147h1v1h-1zM708 147h1v1h-1zM711 147h4v1h-4zM716 147h1v1h-1zM721 147h1v1h-1zM723 147h1v1h-1zM729 147h3v1h-3zM735 147h1v1h-1zM749 147h1v1h-1zM751 147h2v1h-2zM754 147h1v1h-1zM756 147h1v1h-1zM762 147h1v1h-1zM764 147h1v1h-1zM766 147h1v1h-1zM768 147h1v1h-1zM780 147h1v1h-1zM784 147h1v1h-1zM787 147h1v1h-1zM789 147h1v1h-1zM792 147h4v1h-4zM797 147h4v1h-4zM802 147h2v1h-2zM805 147h5v1h-5zM816 147h3v1h-3zM821 147h1v1h-1zM823 147h2v1h-2zM841 147h1v1h-1zM851 147h2v1h-2zM855 147h1v1h-1zM862 147h1v1h-1zM870 147h1v1h-1zM585 149h1v1h-1zM588 149h3v1h-3zM597 149h1v1h-1zM599 149h2v1h-2zM603 149h2v1h-2zM607 149h5v1h-5zM613 149h2v1h-2zM616 149h1v1h-1zM618 149h2v1h-2zM625 149h2v1h-2zM628 149h1v1h-1zM630 149h1v1h-1zM632 149h2v1h-2zM635 149h1v1h-1zM638 149h4v1h-4zM643 149h2v1h-2zM647 149h4v1h-4zM653 149h1v1h-1zM656 149h1v1h-1zM659 149h1v1h-1zM662 149h1v1h-1zM666 149h1v1h-1zM668 149h4v1h-4zM673 149h4v1h-4zM679 149h1v1h-1zM683 149h2v1h-2zM686 149h1v1h-1zM691 149h2v1h-2zM694 149h1v1h-1zM696 149h4v1h-4zM709 149h2v1h-2zM713 149h1v1h-1zM717 149h2v1h-2zM722 149h2v1h-2zM725 149h2v1h-2zM733 149h1v1h-1zM735 149h1v1h-1zM738 149h1v1h-1zM742 149h1v1h-1zM745 149h1v1h-1zM751 149h3v1h-3zM755 149h2v1h-2zM759 149h2v1h-2zM763 149h1v1h-1zM783 149h1v1h-1zM785 149h2v1h-2zM788 149h1v1h-1zM792 149h1v1h-1zM794 149h2v1h-2zM798 149h1v1h-1zM801 149h1v1h-1zM804 149h1v1h-1zM809 149h3v1h-3zM814 149h4v1h-4zM819 149h1v1h-1zM822 149h1v1h-1zM827 149h4v1h-4zM833 149h1v1h-1zM835 149h2v1h-2zM838 149h2v1h-2zM844 149h3v1h-3zM849 149h1v1h-1zM851 149h1v1h-1zM854 149h1v1h-1zM856 149h4v1h-4zM861 149h1v1h-1zM864 149h5v1h-5zM592 151h1v1h-1zM597 151h1v1h-1zM610 151h1v1h-1zM617 151h1v1h-1zM632 151h2v1h-2zM637 151h2v1h-2zM642 151h1v1h-1zM647 151h1v1h-1zM654 151h1v1h-1zM663 151h2v1h-2zM669 151h1v1h-1zM672 151h1v1h-1zM675 151h1v1h-1zM680 151h2v1h-2zM686 151h1v1h-1zM688 151h1v1h-1zM692 151h3v1h-3zM700 151h2v1h-2zM703 151h1v1h-1zM708 151h2v1h-2zM714 151h1v1h-1zM717 151h1v1h-1zM721 151h1v1h-1zM724 151h1v1h-1zM734 151h1v1h-1zM739 151h1v1h-1zM742 151h1v1h-1zM746 151h2v1h-2zM772 151h4v1h-4zM789 151h1v1h-1zM801 151h1v1h-1zM803 151h1v1h-1zM813 151h2v1h-2zM824 151h2v1h-2zM833 151h1v1h-1zM837 151h2v1h-2zM842 151h1v1h-1zM844 151h1v1h-1zM859 151h1v1h-1zM862 151h1v1h-1zM865 151h3v1h-3zM628 153h1v1h-1zM630 153h2v1h-2zM648 153h1v1h-1zM689 153h1v1h-1zM707 153h1v1h-1zM710 153h1v1h-1zM738 153h4v1h-4zM773 153h1v1h-1zM813 153h1v1h-1zM825 153h1v1h-1zM828 153h1v1h-1zM838 153h2v1h-2zM841 153h3v1h-3zM860 153h1v1h-1zM863 153h1v1h-1zM680 155h1v1h-1zM826 155h1v1h-1zM837 155h1v1h-1zM812 159h1v1h-1z"/>
<path fill="#f9dd25" d="M610 147h1v1h-1zM615 147h1v1h-1zM663 147h1v1h-1zM726 147h1v1h-1zM765 147h1v1h-1zM767 147h1v1h-1zM781 147h1v1h-1zM788 147h1v1h-1zM790 147h1v1h-1zM856 147h1v1h-1zM586 149h1v1h-1zM631 149h1v1h-1zM652 149h1v1h-1zM654 149h2v1h-2zM657 149h2v1h-2zM677 149h1v1h-1zM688 149h1v1h-1zM695 149h1v1h-1zM712 149h1v1h-1zM716 149h1v1h-1zM719 149h1v1h-1zM721 149h1v1h-1zM728 149h4v1h-4zM734 149h1v1h-1zM757 149h2v1h-2zM761 149h2v1h-2zM764 149h1v1h-1zM779 149h1v1h-1zM782 149h1v1h-1zM784 149h1v1h-1zM790 149h2v1h-2zM793 149h1v1h-1zM796 149h1v1h-1zM800 149h1v1h-1zM805 149h1v1h-1zM807 149h1v1h-1zM818 149h1v1h-1zM824 149h3v1h-3zM843 149h1v1h-1zM850 149h1v1h-1zM869 149h1v1h-1zM585 151h1v1h-1zM587 151h1v1h-1zM589 151h3v1h-3zM600 151h1v1h-1zM602 151h1v1h-1zM604 151h1v1h-1zM606 151h4v1h-4zM614 151h1v1h-1zM616 151h1v1h-1zM618 151h5v1h-5zM626 151h1v1h-1zM635 151h1v1h-1zM640 151h2v1h-2zM643 151h2v1h-2zM649 151h5v1h-5zM658 151h1v1h-1zM660 151h2v1h-2zM666 151h2v1h-2zM674 151h1v1h-1zM676 151h1v1h-1zM678 151h2v1h-2zM685 151h1v1h-1zM687 151h1v1h-1zM690 151h2v1h-2zM695 151h2v1h-2zM698 151h2v1h-2zM705 151h1v1h-1zM713 151h1v1h-1zM715 151h2v1h-2zM719 151h2v1h-2zM730 151h1v1h-1zM732 151h1v1h-1zM749 151h2v1h-2zM752 151h1v1h-1zM754 151h2v1h-2zM757 151h1v1h-1zM760 151h1v1h-1zM762 151h1v1h-1zM767 151h1v1h-1zM780 151h1v1h-1zM782 151h2v1h-2zM786 151h1v1h-1zM792 151h4v1h-4zM799 151h2v1h-2zM802 151h1v1h-1zM805 151h1v1h-1zM807 151h1v1h-1zM812 151h1v1h-1zM815 151h5v1h-5zM821 151h1v1h-1zM847 151h3v1h-3zM851 151h4v1h-4zM857 151h2v1h-2zM869 151h1v1h-1zM587 153h3v1h-3zM593 153h1v1h-1zM603 153h1v1h-1zM605 153h1v1h-1zM607 153h1v1h-1zM612 153h2v1h-2zM615 153h1v1h-1zM617 153h1v1h-1zM620 153h1v1h-1zM623 153h1v1h-1zM625 153h3v1h-3zM629 153h1v1h-1zM632 153h2v1h-2zM640 153h3v1h-3zM651 153h2v1h-2zM660 153h1v1h-1zM662 153h2v1h-2zM666 153h1v1h-1zM674 153h1v1h-1zM677 153h2v1h-2zM680 153h1v1h-1zM682 153h1v1h-1zM684 153h5v1h-5zM690 153h1v1h-1zM692 153h1v1h-1zM694 153h1v1h-1zM697 153h7v1h-7zM706 153h1v1h-1zM708 153h1v1h-1zM711 153h2v1h-2zM716 153h2v1h-2zM720 153h1v1h-1zM722 153h1v1h-1zM724 153h1v1h-1zM726 153h4v1h-4zM735 153h3v1h-3zM745 153h2v1h-2zM749 153h4v1h-4zM769 153h1v1h-1zM772 153h1v1h-1zM774 153h1v1h-1zM776 153h1v1h-1zM778 153h1v1h-1zM781 153h1v1h-1zM785 153h2v1h-2zM788 153h1v1h-1zM795 153h1v1h-1zM803 153h1v1h-1zM809 153h1v1h-1zM814 153h2v1h-2zM817 153h1v1h-1zM822 153h1v1h-1zM829 153h2v1h-2zM840 153h1v1h-1zM846 153h1v1h-1zM850 153h1v1h-1zM852 153h1v1h-1zM856 153h1v1h-1zM862 153h1v1h-1zM866 153h2v1h-2zM869 153h2v1h-2zM585 155h1v1h-1zM609 155h2v1h-2zM622 155h1v1h-1zM624 155h3v1h-3zM628 155h1v1h-1zM635 155h1v1h-1zM637 155h1v1h-1zM642 155h1v1h-1zM649 155h1v1h-1zM667 155h1v1h-1zM681 155h1v1h-1zM692 155h2v1h-2zM697 155h2v1h-2zM706 155h1v1h-1zM727 155h1v1h-1zM735 155h2v1h-2zM745 155h1v1h-1zM748 155h3v1h-3zM770 155h1v1h-1zM772 155h1v1h-1zM799 155h1v1h-1zM804 155h1v1h-1zM815 155h1v1h-1zM817 155h2v1h-2zM828 155h1v1h-1zM845 155h1v1h-1zM856 155h1v1h-1zM860 155h1v1h-1zM596 157h1v1h-1zM601 157h1v1h-1zM613 157h1v1h-1zM624 157h1v1h-1zM646 157h1v1h-1zM651 157h1v1h-1zM706 157h1v1h-1zM787 157h1v1h-1zM813 157h1v1h-1zM815 157h1v1h-1zM585 159h1v1h-1zM597 159h1v1h-1zM600 159h1v1h-1zM624 159h1v1h-1zM641 159h1v1h-1zM671 159h1v1h-1zM679 159h3v1h-3zM691 159h2v1h-2zM695 159h1v1h-1zM711 159h1v1h-1zM720 159h1v1h-1zM776 159h1v1h-1zM816 159h1v1h-1zM835 159h1v1h-1zM838 159h2v1h-2zM846 159h2v1h-2zM704 161h1v1h-1zM711 161h1v1h-1zM771 161h1v1h-1zM773 161h1v1h-1zM803 161h1v1h-1zM854 161h1v1h-1zM865 161h1v1h-1zM647 163h1v1h-1zM814 163h1v1h-1zM835 165h1v1h-1zM866 165h1v1h-1zM775 167h1v1h-1z"/>
<path fill="#f6e626" d="M852 149h1v1h-1zM870 149h1v1h-1zM586 151h1v1h-1zM768 151h1v1h-1zM820 151h1v1h-1zM822 151h1v1h-1zM653 153h1v1h-1zM730 153h1v1h-1zM756 153h1v1h-1zM758 153h3v1h-3zM768 153h1v1h-1zM777 153h1v1h-1zM794 153h1v1h-1zM851 153h1v1h-1zM868 153h1v1h-1zM591 155h1v1h-1zM604 155h1v1h-1zM608 155h1v1h-1zM613 155h1v1h-1zM618 155h1v1h-1zM621 155h1v1h-1zM634 155h1v1h-1zM636 155h1v1h-1zM650 155h1v1h-1zM653 155h2v1h-2zM656 155h1v1h-1zM660 155h1v1h-1zM666 155h1v1h-1zM686 155h1v1h-1zM691 155h1v1h-1zM711 155h2v1h-2zM721 155h1v1h-1zM726 155h1v1h-1zM732 155h1v1h-1zM763 155h1v1h-1zM766 155h1v1h-1zM771 155h1v1h-1zM787 155h1v1h-1zM792 155h1v1h-1zM800 155h1v1h-1zM805 155h1v1h-1zM822 155h1v1h-1zM588 157h1v1h-1zM619 157h1v1h-1zM637 157h1v1h-1zM642 157h1v1h-1zM654 157h1v1h-1zM659 157h1v1h-1zM662 157h1v1h-1zM687 157h1v1h-1zM689 157h1v1h-1zM716 157h1v1h-1zM727 157h1v1h-1zM734 157h1v1h-1zM751 157h2v1h-2zM754 157h1v1h-1zM763 157h2v1h-2zM767 157h1v1h-1zM769 157h1v1h-1zM777 157h2v1h-2zM781 157h1v1h-1zM785 157h1v1h-1zM790 157h1v1h-1zM793 157h1v1h-1zM796 157h1v1h-1zM853 157h1v1h-1zM856 157h1v1h-1zM862 157h1v1h-1zM603 159h1v1h-1zM613 159h4v1h-4zM618 159h1v1h-1zM628 159h1v1h-1zM635 159h1v1h-1zM665 159h1v1h-1zM684 159h1v1h-1zM715 159h1v1h-1zM722 159h2v1h-2zM729 159h1v1h-1zM735 159h1v1h-1zM748 159h1v1h-1zM755 159h1v1h-1zM760 159h1v1h-1zM777 159h1v1h-1zM826 159h1v1h-1zM850 159h1v1h-1zM858 159h1v1h-1zM868 159h1v1h-1zM588 161h1v1h-1zM605 161h1v1h-1zM607 161h1v1h-1zM610 161h1v1h-1zM658 161h1v1h-1zM663 161h1v1h-1zM678 161h1v1h-1zM764 161h1v1h-1zM781 161h1v1h-1zM852 161h1v1h-1zM868 161h1v1h-1zM615 163h1v1h-1zM665 163h1v1h-1zM701 163h1v1h-1zM828 163h1v1h-1zM590 165h1v1h-1zM592 165h1v1h-1zM594 165h1v1h-1zM596 165h2v1h-2zM599 165h1v1h-1zM608 165h1v1h-1zM611 165h1v1h-1zM615 165h1v1h-1zM619 165h1v1h-1zM623 165h2v1h-2zM626 165h7v1h-7zM636 165h1v1h-1zM638 165h1v1h-1zM641 165h2v1h-2zM648 165h1v1h-1zM650 165h1v1h-1zM654 165h1v1h-1zM659 165h3v1h-3zM670 165h1v1h-1zM672 165h3v1h-3zM677 165h1v1h-1zM679 165h3v1h-3zM683 165h2v1h-2zM686 165h1v1h-1zM690 165h6v1h-6zM698 165h2v1h-2zM709 165h3v1h-3zM720 165h1v1h-1zM723 165h1v1h-1zM725 165h1v1h-1zM727 165h1v1h-1zM729 165h1v1h-1zM733 165h1v1h-1zM737 165h2v1h-2zM745 165h1v1h-1zM756 165h1v1h-1zM768 165h4v1h-4zM776 165h1v1h-1zM799 165h1v1h-1zM801 165h1v1h-1zM804 165h1v1h-1zM807 165h1v1h-1zM826 165h1v1h-1zM829 165h1v1h-1zM831 165h1v1h-1zM833 165h2v1h-2zM836 165h1v1h-1zM839 165h1v1h-1zM859 165h3v1h-3zM864 165h1v1h-1zM867 165h1v1h-1zM592 167h7v1h-7zM608 167h2v1h-2zM613 167h1v1h-1zM620 167h1v1h-1zM622 167h1v1h-1zM624 167h2v1h-2zM627 167h3v1h-3zM633 167h1v1h-1zM642 167h1v1h-1zM644 167h1v1h-1zM646 167h1v1h-1zM656 167h1v1h-1zM660 167h1v1h-1zM662 167h1v1h-1zM664 167h2v1h-2zM669 167h1v1h-1zM671 167h1v1h-1zM674 167h1v1h-1zM677 167h2v1h-2zM697 167h2v1h-2zM701 167h1v1h-1zM703 167h1v1h-1zM707 167h2v1h-2zM710 167h1v1h-1zM720 167h1v1h-1zM723 167h1v1h-1zM729 167h1v1h-1zM738 167h1v1h-1zM740 167h5v1h-5zM748 167h2v1h-2zM757 167h1v1h-1zM770 167h5v1h-5zM806 167h1v1h-1zM811 167h1v1h-1zM813 167h1v1h-1zM815 167h1v1h-1zM817 167h1v1h-1zM820 167h1v1h-1zM823 167h1v1h-1zM825 167h1v1h-1zM827 167h2v1h-2zM833 167h1v1h-1zM836 167h1v1h-1zM838 167h2v1h-2zM842 167h2v1h-2zM848 167h1v1h-1zM858 167h1v1h-1zM862 167h1v1h-1zM652 179h1v1h-1zM588 184h1v1h-1zM592 184h1v1h-1zM595 184h1v1h-1zM597 184h4v1h-4zM608 184h1v1h-1zM611 184h1v1h-1zM628 184h2v1h-2zM641 184h2v1h-2zM645 184h1v1h-1zM667 184h2v1h-2zM672 184h1v1h-1zM677 184h2v1h-2zM680 184h1v1h-1zM682 184h1v1h-1zM689 184h1v1h-1zM692 184h1v1h-1zM698 184h3v1h-3zM702 184h2v1h-2zM707 184h1v1h-1zM710 184h1v1h-1zM712 184h1v1h-1zM714 184h1v1h-1zM741 184h3v1h-3zM745 184h1v1h-1zM758 184h1v1h-1zM760 184h1v1h-1zM769 184h2v1h-2zM774 184h4v1h-4zM801 184h1v1h-1zM814 184h2v1h-2zM826 184h4v1h-4zM832 184h1v1h-1zM836 184h2v1h-2zM839 184h1v1h-1zM841 184h5v1h-5zM859 184h1v1h-1zM861 184h2v1h-2zM865 184h1v1h-1zM585 186h1v1h-1zM596 186h1v1h-1zM598 186h1v1h-1zM600 186h3v1h-3zM604 186h1v1h-1zM609 186h1v1h-1zM631 186h1v1h-1zM638 186h1v1h-1zM640 186h1v1h-1zM650 186h1v1h-1zM658 186h1v1h-1zM666 186h1v1h-1zM678 186h1v1h-1zM681 186h2v1h-2zM684 186h1v1h-1zM690 186h1v1h-1zM693 186h1v1h-1zM695 186h1v1h-1zM698 186h1v1h-1zM700 186h1v1h-1zM702 186h2v1h-2zM705 186h1v1h-1zM723 186h1v1h-1zM726 186h1v1h-1zM735 186h3v1h-3zM739 186h1v1h-1zM744 186h1v1h-1zM746 186h2v1h-2zM771 186h1v1h-1zM773 186h3v1h-3zM787 186h1v1h-1zM803 186h1v1h-1zM806 186h1v1h-1zM813 186h1v1h-1zM816 186h2v1h-2zM832 186h1v1h-1zM835 186h2v1h-2zM839 186h1v1h-1zM842 186h1v1h-1zM844 186h1v1h-1zM857 186h1v1h-1zM860 186h2v1h-2zM863 186h2v1h-2zM594 188h1v1h-1zM626 188h1v1h-1zM628 188h2v1h-2zM639 188h1v1h-1zM646 188h1v1h-1zM678 188h1v1h-1zM680 188h1v1h-1zM705 188h1v1h-1zM707 188h1v1h-1zM739 188h1v1h-1zM762 188h1v1h-1zM799 188h1v1h-1zM809 188h1v1h-1zM814 188h2v1h-2zM828 188h1v1h-1zM832 188h3v1h-3zM836 188h1v1h-1zM838 188h2v1h-2zM841 188h3v1h-3zM845 188h1v1h-1zM863 188h3v1h-3zM592 192h1v1h-1zM597 192h1v1h-1zM599 192h2v1h-2zM625 192h1v1h-1zM628 192h2v1h-2zM645 192h1v1h-1zM649 192h1v1h-1zM669 192h1v1h-1zM678 192h1v1h-1zM681 192h2v1h-2zM684 192h1v1h-1zM706 192h1v1h-1zM738 192h1v1h-1zM740 192h3v1h-3zM772 192h4v1h-4zM806 192h1v1h-1zM815 192h1v1h-1zM831 192h3v1h-3zM835 192h2v1h-2zM838 192h3v1h-3zM842 192h3v1h-3zM859 192h1v1h-1zM861 192h2v1h-2zM864 192h2v1h-2zM683 196h1v1h-1zM688 196h1v1h-1zM741 196h3v1h-3zM833 196h1v1h-1zM843 196h1v1h-1zM595 200h1v1h-1zM672 200h1v1h-1zM741 200h1v1h-1zM811 200h1v1h-1zM589 204h1v1h-1zM648 204h1v1h-1zM646 206h1v1h-1zM683 206h1v1h-1z"/>
<path fill="#f3ee27" d="M781 155h1v1h-1zM768 159h1v1h-1zM795 159h1v1h-1zM660 163h1v1h-1zM763 163h1v1h-1zM767 163h1v1h-1zM606 165h2v1h-2zM614 165h1v1h-1zM617 165h2v1h-2zM620 165h1v1h-1zM637 165h1v1h-1zM653 165h1v1h-1zM658 165h1v1h-1zM663 165h2v1h-2zM668 165h1v1h-1zM682 165h1v1h-1zM685 165h1v1h-1zM687 165h3v1h-3zM714 165h2v1h-2zM718 165h1v1h-1zM724 165h1v1h-1zM726 165h1v1h-1zM728 165h1v1h-1zM734 165h2v1h-2zM746 165h1v1h-1zM749 165h2v1h-2zM754 165h2v1h-2zM757 165h4v1h-4zM767 165h1v1h-1zM777 165h1v1h-1zM780 165h3v1h-3zM788 165h1v1h-1zM790 165h1v1h-1zM796 165h3v1h-3zM800 165h1v1h-1zM805 165h2v1h-2zM808 165h2v1h-2zM818 165h1v1h-1zM820 165h1v1h-1zM822 165h1v1h-1zM825 165h1v1h-1zM848 165h3v1h-3zM855 165h2v1h-2zM586 167h2v1h-2zM589 167h1v1h-1zM601 167h1v1h-1zM605 167h2v1h-2zM611 167h1v1h-1zM614 167h2v1h-2zM617 167h3v1h-3zM626 167h1v1h-1zM635 167h1v1h-1zM650 167h3v1h-3zM655 167h1v1h-1zM657 167h3v1h-3zM661 167h1v1h-1zM663 167h1v1h-1zM667 167h1v1h-1zM691 167h1v1h-1zM699 167h2v1h-2zM711 167h1v1h-1zM716 167h1v1h-1zM718 167h2v1h-2zM721 167h2v1h-2zM726 167h2v1h-2zM730 167h2v1h-2zM733 167h1v1h-1zM735 167h1v1h-1zM745 167h3v1h-3zM752 167h3v1h-3zM758 167h2v1h-2zM761 167h8v1h-8zM776 167h3v1h-3zM780 167h1v1h-1zM782 167h1v1h-1zM784 167h2v1h-2zM789 167h3v1h-3zM793 167h6v1h-6zM805 167h1v1h-1zM816 167h1v1h-1zM818 167h2v1h-2zM821 167h2v1h-2zM824 167h1v1h-1zM826 167h1v1h-1zM831 167h2v1h-2zM849 167h1v1h-1zM853 167h2v1h-2zM856 167h1v1h-1zM860 167h2v1h-2zM865 167h1v1h-1zM868 167h1v1h-1zM870 167h1v1h-1zM851 179h1v1h-1zM585 184h3v1h-3zM589 184h3v1h-3zM594 184h1v1h-1zM602 184h4v1h-4zM607 184h1v1h-1zM609 184h1v1h-1zM613 184h5v1h-5zM619 184h7v1h-7zM630 184h1v1h-1zM632 184h1v1h-1zM634 184h2v1h-2zM637 184h1v1h-1zM639 184h2v1h-2zM646 184h2v1h-2zM649 184h5v1h-5zM656 184h2v1h-2zM659 184h1v1h-1zM661 184h1v1h-1zM664 184h1v1h-1zM671 184h1v1h-1zM673 184h4v1h-4zM684 184h5v1h-5zM690 184h2v1h-2zM694 184h3v1h-3zM701 184h1v1h-1zM704 184h1v1h-1zM709 184h1v1h-1zM711 184h1v1h-1zM713 184h1v1h-1zM715 184h9v1h-9zM725 184h3v1h-3zM730 184h1v1h-1zM732 184h7v1h-7zM746 184h2v1h-2zM749 184h1v1h-1zM751 184h3v1h-3zM756 184h2v1h-2zM761 184h4v1h-4zM766 184h1v1h-1zM768 184h1v1h-1zM771 184h2v1h-2zM778 184h1v1h-1zM780 184h2v1h-2zM783 184h2v1h-2zM787 184h1v1h-1zM790 184h10v1h-10zM804 184h3v1h-3zM808 184h1v1h-1zM810 184h2v1h-2zM813 184h1v1h-1zM816 184h3v1h-3zM820 184h1v1h-1zM824 184h1v1h-1zM835 184h1v1h-1zM846 184h1v1h-1zM848 184h4v1h-4zM853 184h2v1h-2zM856 184h2v1h-2zM860 184h1v1h-1zM868 184h3v1h-3zM586 186h1v1h-1zM588 186h4v1h-4zM597 186h1v1h-1zM603 186h1v1h-1zM605 186h4v1h-4zM612 186h1v1h-1zM614 186h1v1h-1zM619 186h2v1h-2zM624 186h2v1h-2zM627 186h1v1h-1zM629 186h2v1h-2zM633 186h5v1h-5zM639 186h1v1h-1zM641 186h1v1h-1zM647 186h1v1h-1zM651 186h1v1h-1zM654 186h4v1h-4zM659 186h4v1h-4zM665 186h1v1h-1zM667 186h2v1h-2zM670 186h5v1h-5zM677 186h1v1h-1zM680 186h1v1h-1zM686 186h4v1h-4zM696 186h2v1h-2zM699 186h1v1h-1zM704 186h1v1h-1zM707 186h1v1h-1zM710 186h1v1h-1zM714 186h4v1h-4zM719 186h1v1h-1zM722 186h1v1h-1zM724 186h1v1h-1zM727 186h4v1h-4zM733 186h2v1h-2zM743 186h1v1h-1zM748 186h2v1h-2zM752 186h5v1h-5zM758 186h3v1h-3zM762 186h1v1h-1zM765 186h1v1h-1zM767 186h4v1h-4zM779 186h2v1h-2zM783 186h4v1h-4zM788 186h1v1h-1zM790 186h2v1h-2zM793 186h6v1h-6zM800 186h1v1h-1zM802 186h1v1h-1zM807 186h6v1h-6zM821 186h4v1h-4zM826 186h1v1h-1zM830 186h1v1h-1zM845 186h3v1h-3zM850 186h3v1h-3zM855 186h2v1h-2zM858 186h2v1h-2zM867 186h3v1h-3zM587 188h2v1h-2zM590 188h2v1h-2zM593 188h1v1h-1zM601 188h1v1h-1zM604 188h7v1h-7zM612 188h3v1h-3zM616 188h1v1h-1zM619 188h2v1h-2zM627 188h1v1h-1zM630 188h7v1h-7zM638 188h1v1h-1zM643 188h1v1h-1zM648 188h1v1h-1zM650 188h3v1h-3zM655 188h1v1h-1zM658 188h4v1h-4zM663 188h4v1h-4zM668 188h1v1h-1zM673 188h1v1h-1zM679 188h1v1h-1zM683 188h2v1h-2zM695 188h5v1h-5zM706 188h1v1h-1zM715 188h3v1h-3zM720 188h1v1h-1zM725 188h2v1h-2zM731 188h3v1h-3zM736 188h1v1h-1zM747 188h1v1h-1zM749 188h4v1h-4zM755 188h1v1h-1zM764 188h2v1h-2zM767 188h6v1h-6zM774 188h1v1h-1zM776 188h1v1h-1zM778 188h2v1h-2zM781 188h4v1h-4zM787 188h3v1h-3zM791 188h1v1h-1zM795 188h2v1h-2zM798 188h1v1h-1zM804 188h3v1h-3zM808 188h1v1h-1zM810 188h2v1h-2zM816 188h3v1h-3zM820 188h1v1h-1zM823 188h5v1h-5zM835 188h1v1h-1zM837 188h1v1h-1zM846 188h3v1h-3zM851 188h1v1h-1zM853 188h2v1h-2zM862 188h1v1h-1zM868 188h2v1h-2zM586 192h4v1h-4zM593 192h1v1h-1zM598 192h1v1h-1zM601 192h1v1h-1zM604 192h7v1h-7zM613 192h2v1h-2zM616 192h2v1h-2zM621 192h4v1h-4zM626 192h1v1h-1zM630 192h9v1h-9zM640 192h2v1h-2zM650 192h2v1h-2zM654 192h1v1h-1zM656 192h7v1h-7zM665 192h3v1h-3zM670 192h7v1h-7zM679 192h2v1h-2zM683 192h1v1h-1zM685 192h5v1h-5zM691 192h3v1h-3zM696 192h1v1h-1zM698 192h8v1h-8zM707 192h2v1h-2zM710 192h3v1h-3zM715 192h1v1h-1zM718 192h2v1h-2zM721 192h2v1h-2zM725 192h2v1h-2zM729 192h9v1h-9zM739 192h1v1h-1zM744 192h2v1h-2zM748 192h4v1h-4zM754 192h1v1h-1zM757 192h1v1h-1zM761 192h4v1h-4zM766 192h4v1h-4zM771 192h1v1h-1zM776 192h1v1h-1zM778 192h1v1h-1zM780 192h3v1h-3zM784 192h4v1h-4zM790 192h1v1h-1zM792 192h3v1h-3zM796 192h10v1h-10zM807 192h1v1h-1zM810 192h3v1h-3zM814 192h1v1h-1zM816 192h3v1h-3zM827 192h3v1h-3zM834 192h1v1h-1zM837 192h1v1h-1zM841 192h1v1h-1zM845 192h5v1h-5zM852 192h3v1h-3zM858 192h1v1h-1zM863 192h1v1h-1zM866 192h5v1h-5zM593 196h2v1h-2zM598 196h1v1h-1zM612 196h1v1h-1zM615 196h2v1h-2zM619 196h1v1h-1zM621 196h1v1h-1zM624 196h1v1h-1zM627 196h1v1h-1zM635 196h1v1h-1zM639 196h3v1h-3zM646 196h1v1h-1zM649 196h1v1h-1zM661 196h2v1h-2zM664 196h1v1h-1zM668 196h3v1h-3zM674 196h1v1h-1zM676 196h1v1h-1zM689 196h1v1h-1zM691 196h1v1h-1zM693 196h1v1h-1zM697 196h1v1h-1zM700 196h1v1h-1zM702 196h2v1h-2zM709 196h3v1h-3zM716 196h1v1h-1zM724 196h1v1h-1zM726 196h2v1h-2zM734 196h1v1h-1zM737 196h1v1h-1zM747 196h1v1h-1zM749 196h2v1h-2zM758 196h2v1h-2zM761 196h2v1h-2zM767 196h2v1h-2zM775 196h3v1h-3zM785 196h1v1h-1zM788 196h1v1h-1zM790 196h1v1h-1zM795 196h1v1h-1zM804 196h1v1h-1zM808 196h1v1h-1zM812 196h1v1h-1zM817 196h1v1h-1zM822 196h1v1h-1zM825 196h1v1h-1zM827 196h1v1h-1zM830 196h1v1h-1zM840 196h1v1h-1zM846 196h2v1h-2zM852 196h3v1h-3zM857 196h1v1h-1zM860 196h1v1h-1zM865 196h1v1h-1zM603 200h1v1h-1zM618 200h1v1h-1zM631 200h1v1h-1zM641 200h1v1h-1zM692 200h1v1h-1zM700 200h1v1h-1zM728 200h1v1h-1zM754 200h1v1h-1zM760 200h1v1h-1zM805 200h1v1h-1zM813 200h1v1h-1zM850 200h1v1h-1zM861 200h1v1h-1zM592 204h1v1h-1zM604 204h1v1h-1zM611 204h2v1h-2zM624 204h1v1h-1zM658 204h2v1h-2zM683 204h1v1h-1zM704 204h1v1h-1zM711 204h1v1h-1zM714 204h1v1h-1zM757 204h1v1h-1zM762 204h1v1h-1zM798 204h1v1h-1zM803 204h1v1h-1zM812 204h1v1h-1zM817 204h1v1h-1zM840 204h1v1h-1zM864 204h1v1h-1zM866 204h1v1h-1zM589 206h2v1h-2zM592 206h1v1h-1zM594 206h1v1h-1zM596 206h1v1h-1zM598 206h2v1h-2zM601 206h2v1h-2zM609 206h1v1h-1zM613 206h1v1h-1zM617 206h1v1h-1zM622 206h2v1h-2zM627 206h3v1h-3zM631 206h1v1h-1zM635 206h1v1h-1zM638 206h1v1h-1zM643 206h2v1h-2zM647 206h2v1h-2zM650 206h1v1h-1zM652 206h1v1h-1zM664 206h1v1h-1zM669 206h1v1h-1zM671 206h2v1h-2zM674 206h1v1h-1zM678 206h3v1h-3zM686 206h1v1h-1zM689 206h3v1h-3zM693 206h1v1h-1zM698 206h1v1h-1zM701 206h1v1h-1zM704 206h1v1h-1zM706 206h2v1h-2zM711 206h1v1h-1zM714 206h1v1h-1zM717 206h5v1h-5zM726 206h4v1h-4zM732 206h1v1h-1zM745 206h1v1h-1zM749 206h1v1h-1zM751 206h1v1h-1zM762 206h1v1h-1zM765 206h1v1h-1zM770 206h4v1h-4zM776 206h1v1h-1zM784 206h1v1h-1zM786 206h1v1h-1zM789 206h2v1h-2zM793 206h1v1h-1zM798 206h3v1h-3zM818 206h2v1h-2zM829 206h2v1h-2zM832 206h2v1h-2zM835 206h1v1h-1zM837 206h1v1h-1zM840 206h2v1h-2zM845 206h1v1h-1zM852 206h1v1h-1zM858 206h1v1h-1zM860 206h1v1h-1zM864 206h4v1h-4zM869 206h2v1h-2zM588 208h1v1h-1zM596 208h4v1h-4zM611 208h1v1h-1zM624 208h1v1h-1zM628 208h2v1h-2zM631 208h1v1h-1zM633 208h1v1h-1zM647 208h1v1h-1zM657 208h1v1h-1zM665 208h1v1h-1zM667 208h1v1h-1zM680 208h2v1h-2zM694 208h1v1h-1zM712 208h1v1h-1zM715 208h1v1h-1zM719 208h2v1h-2zM723 208h1v1h-1zM727 208h1v1h-1zM735 208h1v1h-1zM749 208h1v1h-1zM754 208h1v1h-1zM757 208h1v1h-1zM766 208h1v1h-1zM771 208h2v1h-2zM774 208h1v1h-1zM781 208h1v1h-1zM783 208h1v1h-1zM786 208h1v1h-1zM789 208h1v1h-1zM791 208h1v1h-1zM801 208h1v1h-1zM807 208h1v1h-1zM813 208h1v1h-1zM823 208h1v1h-1zM825 208h2v1h-2zM828 208h1v1h-1zM831 208h1v1h-1zM838 208h1v1h-1zM859 208h1v1h-1zM593 220h1v1h-1zM870 220h1v1h-1zM586 229h5v1h-5zM592 229h2v1h-2zM595 229h4v1h-4zM600 229h2v1h-2zM606 229h1v1h-1zM608 229h1v1h-1zM610 229h9v1h-9zM620 229h8v1h-8zM629 229h2v1h-2zM632 229h2v1h-2zM637 229h12v1h-12zM650 229h1v1h-1zM657 229h1v1h-1zM659 229h4v1h-4zM665 229h2v1h-2zM668 229h4v1h-4zM673 229h1v1h-1zM675 229h15v1h-15zM691 229h4v1h-4zM696 229h2v1h-2zM699 229h5v1h-5zM705 229h2v1h-2zM708 229h4v1h-4zM717 229h1v1h-1zM719 229h1v1h-1zM721 229h2v1h-2zM724 229h5v1h-5zM731 229h1v1h-1zM734 229h1v1h-1zM736 229h6v1h-6zM743 229h3v1h-3zM747 229h7v1h-7zM755 229h2v1h-2zM759 229h1v1h-1zM764 229h1v1h-1zM769 229h6v1h-6zM776 229h3v1h-3zM782 229h1v1h-1zM784 229h2v1h-2zM789 229h2v1h-2zM796 229h1v1h-1zM798 229h1v1h-1zM800 229h5v1h-5zM806 229h1v1h-1zM808 229h8v1h-8zM817 229h2v1h-2zM825 229h14v1h-14zM840 229h1v1h-1zM842 229h5v1h-5zM850 229h1v1h-1zM853 229h1v1h-1zM856 229h9v1h-9zM866 229h2v1h-2zM589 233h2v1h-2zM592 233h2v1h-2zM595 233h6v1h-6zM606 233h1v1h-1zM608 233h1v1h-1zM614 233h1v1h-1zM623 233h1v1h-1zM626 233h3v1h-3zM630 233h2v1h-2zM634 233h1v1h-1zM638 233h1v1h-1zM640 233h1v1h-1zM644 233h5v1h-5zM658 233h1v1h-1zM661 233h1v1h-1zM663 233h1v1h-1zM666 233h3v1h-3zM670 233h1v1h-1zM672 233h1v1h-1zM676 233h1v1h-1zM679 233h4v1h-4zM684 233h1v1h-1zM688 233h2v1h-2zM692 233h1v1h-1zM695 233h2v1h-2zM701 233h1v1h-1zM704 233h1v1h-1zM706 233h2v1h-2zM710 233h3v1h-3zM721 233h1v1h-1zM723 233h1v1h-1zM725 233h1v1h-1zM728 233h1v1h-1zM732 233h1v1h-1zM734 233h2v1h-2zM739 233h2v1h-2zM742 233h3v1h-3zM761 233h1v1h-1zM771 233h1v1h-1zM773 233h3v1h-3zM785 233h3v1h-3zM798 233h2v1h-2zM801 233h2v1h-2zM804 233h1v1h-1zM806 233h1v1h-1zM808 233h1v1h-1zM810 233h1v1h-1zM812 233h5v1h-5zM824 233h2v1h-2zM828 233h2v1h-2zM831 233h3v1h-3zM835 233h5v1h-5zM841 233h1v1h-1zM843 233h1v1h-1zM845 233h3v1h-3zM860 233h4v1h-4zM865 233h3v1h-3zM587 237h1v1h-1zM591 237h1v1h-1zM593 237h1v1h-1zM595 237h1v1h-1zM597 237h2v1h-2zM600 237h1v1h-1zM607 237h3v1h-3zM613 237h1v1h-1zM616 237h1v1h-1zM618 237h1v1h-1zM621 237h1v1h-1zM628 237h2v1h-2zM633 237h1v1h-1zM635 237h1v1h-1zM638 237h1v1h-1zM642 237h2v1h-2zM645 237h5v1h-5zM653 237h1v1h-1zM657 237h1v1h-1zM662 237h1v1h-1zM664 237h1v1h-1zM667 237h2v1h-2zM671 237h3v1h-3zM677 237h3v1h-3zM682 237h2v1h-2zM685 237h1v1h-1zM687 237h3v1h-3zM696 237h3v1h-3zM700 237h3v1h-3zM705 237h1v1h-1zM709 237h2v1h-2zM714 237h2v1h-2zM720 237h1v1h-1zM725 237h1v1h-1zM733 237h1v1h-1zM735 237h1v1h-1zM739 237h1v1h-1zM744 237h1v1h-1zM747 237h1v1h-1zM751 237h2v1h-2zM754 237h1v1h-1zM757 237h1v1h-1zM764 237h1v1h-1zM770 237h1v1h-1zM772 237h1v1h-1zM775 237h1v1h-1zM786 237h1v1h-1zM802 237h1v1h-1zM812 237h2v1h-2zM815 237h2v1h-2zM823 237h1v1h-1zM826 237h1v1h-1zM831 237h1v1h-1zM833 237h7v1h-7zM841 237h2v1h-2zM846 237h1v1h-1zM849 237h1v1h-1zM854 237h1v1h-1zM859 237h3v1h-3zM863 237h2v1h-2zM866 237h1v1h-1zM591 241h2v1h-2zM597 241h1v1h-1zM604 241h1v1h-1zM609 241h2v1h-2zM614 241h2v1h-2zM625 241h2v1h-2zM629 241h1v1h-1zM632 241h1v1h-1zM637 241h1v1h-1zM647 241h1v1h-1zM649 241h1v1h-1zM657 241h2v1h-2zM673 241h1v1h-1zM675 241h1v1h-1zM680 241h5v1h-5zM686 241h1v1h-1zM688 241h3v1h-3zM705 241h1v1h-1zM709 241h1v1h-1zM737 241h4v1h-4zM745 241h1v1h-1zM774 241h3v1h-3zM778 241h1v1h-1zM789 241h1v1h-1zM812 241h4v1h-4zM817 241h1v1h-1zM823 241h1v1h-1zM844 241h3v1h-3zM865 241h1v1h-1zM625 245h1v1h-1zM630 245h1v1h-1zM675 245h1v1h-1zM685 245h1v1h-1zM738 245h1v1h-1zM774 245h1v1h-1zM836 245h1v1h-1zM865 253h1v1h-1zM594 261h1v1h-1zM648 264h1v1h-1z"/>
<path fill="#f0f921" d="M732 167h1v1h-1zM781 167h1v1h-1zM654 184h1v1h-1zM765 184h1v1h-1zM767 184h1v1h-1zM809 184h1v1h-1zM714 192h1v1h-1zM756 192h1v1h-1zM779 192h1v1h-1zM763 196h1v1h-1zM780 196h2v1h-2zM793 196h1v1h-1zM870 196h1v1h-1zM604 200h1v1h-1zM651 206h1v1h-1zM654 206h1v1h-1zM656 206h1v1h-1zM661 206h1v1h-1zM688 206h1v1h-1zM700 206h1v1h-1zM715 206h1v1h-1zM730 206h1v1h-1zM734 206h1v1h-1zM752 206h1v1h-1zM759 206h2v1h-2zM767 206h1v1h-1zM769 206h1v1h-1zM792 206h1v1h-1zM801 206h1v1h-1zM820 206h1v1h-1zM823 206h1v1h-1zM850 206h2v1h-2zM853 206h4v1h-4zM586 208h1v1h-1zM725 208h1v1h-1zM761 208h1v1h-1zM764 208h1v1h-1zM792 208h1v1h-1zM794 208h1v1h-1zM851 208h1v1h-1zM870 208h1v1h-1zM602 229h4v1h-4zM609 229h1v1h-1zM651 229h6v1h-6zM658 229h1v1h-1zM663 229h2v1h-2zM698 229h1v1h-1zM716 229h1v1h-1zM718 229h1v1h-1zM729 229h1v1h-1zM732 229h1v1h-1zM757 229h1v1h-1zM762 229h2v1h-2zM765 229h1v1h-1zM767 229h2v1h-2zM779 229h3v1h-3zM783 229h1v1h-1zM788 229h1v1h-1zM791 229h5v1h-5zM797 229h1v1h-1zM805 229h1v1h-1zM816 229h1v1h-1zM819 229h3v1h-3zM851 229h2v1h-2zM855 229h1v1h-1zM868 229h1v1h-1zM870 229h1v1h-1zM588 233h1v1h-1zM591 233h1v1h-1zM601 233h2v1h-2zM605 233h1v1h-1zM607 233h1v1h-1zM610 233h1v1h-1zM615 233h1v1h-1zM617 233h6v1h-6zM632 233h2v1h-2zM636 233h2v1h-2zM639 233h1v1h-1zM641 233h1v1h-1zM650 233h1v1h-1zM652 233h1v1h-1zM654 233h2v1h-2zM659 233h2v1h-2zM664 233h2v1h-2zM671 233h1v1h-1zM673 233h3v1h-3zM683 233h1v1h-1zM685 233h3v1h-3zM693 233h1v1h-1zM700 233h1v1h-1zM702 233h1v1h-1zM708 233h1v1h-1zM713 233h5v1h-5zM719 233h1v1h-1zM722 233h1v1h-1zM724 233h1v1h-1zM727 233h1v1h-1zM729 233h3v1h-3zM736 233h1v1h-1zM747 233h1v1h-1zM749 233h3v1h-3zM753 233h7v1h-7zM764 233h4v1h-4zM770 233h1v1h-1zM776 233h8v1h-8zM788 233h1v1h-1zM790 233h8v1h-8zM803 233h1v1h-1zM805 233h1v1h-1zM807 233h1v1h-1zM809 233h1v1h-1zM811 233h1v1h-1zM817 233h5v1h-5zM823 233h1v1h-1zM826 233h2v1h-2zM830 233h1v1h-1zM840 233h1v1h-1zM848 233h1v1h-1zM850 233h2v1h-2zM853 233h1v1h-1zM855 233h3v1h-3zM864 233h1v1h-1zM868 233h3v1h-3zM586 237h1v1h-1zM588 237h3v1h-3zM592 237h1v1h-1zM594 237h1v1h-1zM599 237h1v1h-1zM601 237h2v1h-2zM606 237h1v1h-1zM611 237h2v1h-2zM615 237h1v1h-1zM631 237h1v1h-1zM634 237h1v1h-1zM636 237h1v1h-1zM641 237h1v1h-1zM644 237h1v1h-1zM651 237h2v1h-2zM654 237h3v1h-3zM659 237h3v1h-3zM663 237h1v1h-1zM669 237h2v1h-2zM674 237h1v1h-1zM676 237h1v1h-1zM684 237h1v1h-1zM691 237h1v1h-1zM693 237h1v1h-1zM703 237h1v1h-1zM711 237h3v1h-3zM716 237h2v1h-2zM719 237h1v1h-1zM721 237h4v1h-4zM726 237h2v1h-2zM730 237h1v1h-1zM732 237h1v1h-1zM734 237h1v1h-1zM736 237h1v1h-1zM746 237h1v1h-1zM748 237h1v1h-1zM755 237h1v1h-1zM758 237h5v1h-5zM766 237h4v1h-4zM776 237h7v1h-7zM784 237h2v1h-2zM787 237h2v1h-2zM790 237h1v1h-1zM792 237h2v1h-2zM796 237h3v1h-3zM800 237h2v1h-2zM805 237h3v1h-3zM811 237h1v1h-1zM818 237h5v1h-5zM824 237h2v1h-2zM827 237h1v1h-1zM847 237h1v1h-1zM850 237h4v1h-4zM855 237h3v1h-3zM865 237h1v1h-1zM868 237h3v1h-3zM601 241h1v1h-1zM603 241h1v1h-1zM605 241h1v1h-1zM608 241h1v1h-1zM611 241h1v1h-1zM616 241h1v1h-1zM623 241h2v1h-2zM630 241h2v1h-2zM650 241h1v1h-1zM656 241h1v1h-1zM700 241h1v1h-1zM710 241h3v1h-3zM716 241h3v1h-3zM727 241h2v1h-2zM730 241h1v1h-1zM744 241h1v1h-1zM753 241h1v1h-1zM755 241h1v1h-1zM760 241h2v1h-2zM767 241h2v1h-2zM770 241h1v1h-1zM777 241h1v1h-1zM780 241h1v1h-1zM782 241h1v1h-1zM786 241h1v1h-1zM791 241h1v1h-1zM795 241h1v1h-1zM800 241h1v1h-1zM808 241h1v1h-1zM816 241h1v1h-1zM866 241h1v1h-1zM868 241h3v1h-3zM596 245h1v1h-1zM611 245h2v1h-2zM614 245h1v1h-1zM635 245h1v1h-1zM639 245h1v1h-1zM641 245h1v1h-1zM663 245h2v1h-2zM673 245h1v1h-1zM682 245h1v1h-1zM686 245h1v1h-1zM690 245h1v1h-1zM693 245h1v1h-1zM710 245h1v1h-1zM716 245h1v1h-1zM724 245h2v1h-2zM728 245h1v1h-1zM753 245h2v1h-2zM760 245h1v1h-1zM763 245h1v1h-1zM767 245h1v1h-1zM776 245h1v1h-1zM780 245h2v1h-2zM789 245h1v1h-1zM801 245h1v1h-1zM809 245h3v1h-3zM821 245h1v1h-1zM829 245h1v1h-1zM844 245h1v1h-1zM851 245h1v1h-1zM586 253h1v1h-1zM800 253h1v1h-1zM816 253h1v1h-1zM667 261h1v1h-1zM793 261h1v1h-1zM795 261h1v1h-1zM818 261h1v1h-1zM824 261h1v1h-1zM585 264h1v1h-1zM594 264h1v1h-1zM600 264h1v1h-1zM604 264h1v1h-1zM608 264h1v1h-1zM618 264h1v1h-1zM708 264h1v1h-1zM733 264h1v1h-1zM780 264h1v1h-1zM807 264h1v1h-1zM809 264h1v1h-1zM858 264h1v1h-1zM865 264h1v1h-1zM867 264h1v1h-1zM587 265h1v1h-1zM589 265h1v1h-1zM591 265h1v1h-1zM599 265h1v1h-1zM603 265h1v1h-1zM606 265h1v1h-1zM609 265h1v1h-1zM626 265h2v1h-2zM629 265h1v1h-1zM654 265h1v1h-1zM656 265h1v1h-1zM663 265h1v1h-1zM668 265h1v1h-1zM688 265h1v1h-1zM691 265h1v1h-1zM704 265h1v1h-1zM707 265h2v1h-2zM713 265h1v1h-1zM715 265h1v1h-1zM733 265h1v1h-1zM746 265h2v1h-2zM770 265h1v1h-1zM795 265h1v1h-1zM807 265h1v1h-1zM821 265h1v1h-1zM826 265h1v1h-1zM829 265h1v1h-1zM832 265h1v1h-1zM851 265h1v1h-1zM856 265h1v1h-1zM643 269h1v1h-1zM675 269h1v1h-1zM699 269h1v1h-1zM722 269h1v1h-1zM745 269h1v1h-1zM768 269h1v1h-1zM828 269h1v1h-1zM852 269h1v1h-1z"/>
</g>
<g class="cr">
<rect x="585" y="270" width="286" height="205" fill="url(#g1)"/>
<path fill="url(#so65)" d="M606 270h1v205h-1zM607 270h1v205h-1zM622 270h1v205h-1zM623 270h1v205h-1zM624 270h1v205h-1zM625 270h1v205h-1zM626 270h1v205h-1zM627 270h1v205h-1zM628 270h1v205h-1zM630 270h1v205h-1zM647 270h1v205h-1zM649 270h1v205h-1zM662 270h1v205h-1zM690 270h1v205h-1zM711 270h1v205h-1zM737 270h1v205h-1zM738 270h1v205h-1zM739 270h1v205h-1zM740 270h1v205h-1zM748 270h1v205h-1zM756 270h1v205h-1zM757 270h1v205h-1zM758 270h1v205h-1zM759 270h1v205h-1zM760 270h1v205h-1zM761 270h1v205h-1zM763 270h1v205h-1zM764 270h1v205h-1zM765 270h1v205h-1zM766 270h1v205h-1zM767 270h1v205h-1zM772 270h1v205h-1zM849 270h1v205h-1zM850 270h1v205h-1zM857 270h1v205h-1zM858 270h1v205h-1zM859 270h1v205h-1zM860 270h1v205h-1zM862 270h1v205h-1zM869 270h1v205h-1zM870 270h1v205h-1z"/>
<path fill="url(#sy65)" d="M586 270h1v205h-1zM587 270h1v205h-1zM588 270h1v205h-1zM589 270h1v205h-1zM590 270h1v205h-1zM612 270h1v205h-1zM615 270h1v205h-1zM616 270h1v205h-1zM617 270h1v205h-1zM618 270h1v205h-1zM619 270h1v205h-1zM637 270h1v205h-1zM638 270h1v205h-1zM639 270h1v205h-1zM640 270h1v205h-1zM641 270h1v205h-1zM676 270h1v205h-1zM677 270h1v205h-1zM678 270h1v205h-1zM682 270h1v205h-1zM683 270h1v205h-1zM684 270h1v205h-1zM685 270h1v205h-1zM698 270h1v205h-1zM715 270h1v205h-1zM716 270h1v205h-1zM717 270h1v205h-1zM718 270h1v205h-1zM725 270h1v205h-1zM726 270h1v205h-1zM733 270h1v205h-1zM734 270h1v205h-1zM735 270h1v205h-1zM776 270h1v205h-1zM777 270h1v205h-1zM778 270h1v205h-1zM779 270h1v205h-1zM780 270h1v205h-1zM787 270h1v205h-1zM788 270h1v205h-1zM811 270h1v205h-1zM812 270h1v205h-1zM813 270h1v205h-1zM814 270h1v205h-1zM815 270h1v205h-1zM823 270h1v205h-1zM825 270h1v205h-1zM826 270h1v205h-1zM827 270h1v205h-1zM828 270h1v205h-1zM839 270h1v205h-1zM840 270h1v205h-1zM841 270h1v205h-1zM842 270h1v205h-1zM843 270h1v205h-1zM844 270h1v205h-1zM845 270h1v205h-1z"/>
<path fill="#fff" d="M643 270h1v205h-1zM720 270h1v205h-1zM739 270h1v205h-1zM756 270h1v205h-1zM860 270h1v205h-1zM607 464h1v11h-1zM615 464h2v11h-2zM622 464h1v11h-1zM627 464h3v11h-3zM632 464h1v11h-1zM652 464h1v11h-1zM663 464h1v11h-1zM665 464h1v11h-1zM672 464h1v11h-1zM699 464h1v11h-1zM709 464h1v11h-1zM717 464h2v11h-2zM746 464h1v11h-1zM750 464h1v11h-1zM759 464h1v11h-1zM766 464h2v11h-2zM771 464h2v11h-2zM777 464h1v11h-1zM794 464h1v11h-1zM801 464h1v11h-1zM834 464h1v11h-1zM842 464h1v11h-1zM851 464h1v11h-1zM853 464h1v11h-1zM861 464h1v11h-1zM870 464h1v11h-1z"/>
<path fill="#fff" fill-opacity="0.45" d="M619 474h3v1h-3zM626 474h1v1h-1zM629 474h3v1h-3zM661 474h2v1h-2zM664 474h1v1h-1zM695 474h4v1h-4zM705 474h4v1h-4zM713 474h4v1h-4zM742 474h4v1h-4zM747 474h3v1h-3zM758 474h1v1h-1zM768 474h3v1h-3zM774 474h3v1h-3zM791 474h3v1h-3zM798 474h3v1h-3zM830 474h4v1h-4zM839 474h3v1h-3zM850 474h1v1h-1zM859 474h2v1h-2zM866 474h4v1h-4z"/>
</g>
<g class="cr">
<path fill="#220690" d="M594 553h1v1h-1zM616 553h1v1h-1zM788 553h1v1h-1zM790 553h1v1h-1zM603 554h1v1h-1zM653 554h1v1h-1zM689 554h1v1h-1zM623 555h1v1h-1zM649 556h1v1h-1zM720 556h1v1h-1zM857 556h1v1h-1zM795 557h1v1h-1zM706 558h1v1h-1zM829 558h1v1h-1zM760 563h1v1h-1zM605 564h1v1h-1zM789 564h1v1h-1zM729 566h1v1h-1zM675 567h1v1h-1zM776 567h1v1h-1zM833 568h1v1h-1zM853 569h1v1h-1zM851 570h1v1h-1zM768 571h1v1h-1zM601 576h1v1h-1zM616 576h1v1h-1zM618 576h1v1h-1zM638 576h1v1h-1zM640 576h1v1h-1zM642 576h1v1h-1zM647 576h1v1h-1zM657 576h1v1h-1z"/>
<path fill="#16078a" d="M603 553h1v1h-1zM607 553h1v1h-1zM803 553h1v1h-1zM638 554h1v1h-1zM648 554h1v1h-1zM715 554h1v1h-1zM653 555h1v1h-1zM759 555h1v1h-1zM851 555h1v1h-1zM752 560h1v1h-1zM782 560h1v1h-1zM702 561h1v1h-1zM749 561h1v1h-1zM850 561h1v1h-1zM784 563h1v1h-1zM619 567h1v1h-1zM859 567h1v1h-1zM861 568h1v1h-1zM619 569h1v1h-1zM860 570h1v1h-1zM713 572h1v1h-1zM662 575h1v1h-1zM639 576h1v1h-1zM644 576h1v1h-1zM646 576h1v1h-1z"/>
<path fill="#48039f" d="M614 553h1v1h-1zM781 553h1v1h-1zM847 554h1v1h-1zM594 561h1v1h-1zM707 562h1v1h-1zM676 563h1v1h-1zM789 563h1v1h-1zM745 566h1v1h-1zM869 569h1v1h-1zM868 572h1v1h-1zM742 573h1v1h-1zM595 576h1v1h-1zM598 576h1v1h-1zM602 576h1v1h-1zM615 576h1v1h-1zM656 576h1v1h-1zM664 576h1v1h-1zM643 578h1v1h-1zM655 578h1v1h-1z"/>
<path fill="#0d0887" d="M621 553h1v1h-1zM638 553h1v1h-1zM662 553h1v1h-1zM724 553h1v1h-1zM780 553h1v1h-1zM839 553h1v1h-1zM864 553h1v1h-1zM645 554h1v1h-1zM867 554h1v1h-1zM606 556h1v1h-1zM658 556h1v1h-1zM655 557h1v1h-1zM641 559h1v1h-1zM617 562h1v1h-1zM652 564h1v1h-1zM601 565h1v1h-1zM763 566h1v1h-1zM804 566h1v1h-1zM864 569h1v1h-1zM774 570h1v1h-1zM663 571h1v1h-1zM656 572h1v1h-1zM673 572h1v1h-1zM863 572h1v1h-1zM809 573h1v1h-1zM668 575h1v1h-1zM641 576h1v1h-1z"/>
<path fill="#5102a3" d="M629 553h1v1h-1zM652 553h1v1h-1zM834 553h1v1h-1zM676 554h1v1h-1zM779 554h1v1h-1zM747 567h1v1h-1zM586 576h1v1h-1zM592 576h1v1h-1zM596 576h1v1h-1zM655 576h1v1h-1zM663 576h1v1h-1zM602 578h1v1h-1zM617 578h1v1h-1zM633 578h1v1h-1zM640 578h1v1h-1zM642 578h1v1h-1z"/>
<path fill="#2c0594" d="M649 553h1v1h-1zM675 553h1v1h-1zM727 553h1v1h-1zM692 554h1v1h-1zM735 555h1v1h-1zM785 556h1v1h-1zM594 558h1v1h-1zM652 558h1v1h-1zM692 559h1v1h-1zM704 561h1v1h-1zM736 561h1v1h-1zM846 561h1v1h-1zM785 562h1v1h-1zM865 562h1v1h-1zM618 563h1v1h-1zM866 565h1v1h-1zM770 567h1v1h-1zM589 572h1v1h-1zM619 573h1v1h-1zM857 573h1v1h-1zM607 576h1v1h-1zM643 576h1v1h-1z"/>
<path fill="#3f049c" d="M669 553h1v1h-1zM680 553h1v1h-1zM722 553h1v1h-1zM707 554h1v1h-1zM739 554h1v1h-1zM672 556h1v1h-1zM821 557h1v1h-1zM719 558h1v1h-1zM801 558h1v1h-1zM588 559h1v1h-1zM848 562h1v1h-1zM823 563h1v1h-1zM588 564h1v1h-1zM822 565h1v1h-1zM590 567h1v1h-1zM680 567h1v1h-1zM698 571h1v1h-1zM686 575h1v1h-1zM608 576h1v1h-1zM613 576h1v1h-1zM636 576h1v1h-1zM645 576h1v1h-1zM653 576h1v1h-1zM658 576h2v1h-2zM606 578h1v1h-1zM660 578h1v1h-1z"/>
<path fill="#6300a7" d="M670 553h1v1h-1zM830 555h1v1h-1zM590 576h1v1h-1zM609 576h1v1h-1zM633 576h1v1h-1zM635 576h1v1h-1zM652 576h1v1h-1zM596 578h1v1h-1zM647 578h1v1h-1zM657 578h1v1h-1zM640 580h1v1h-1z"/>
<path fill="#7201a8" d="M681 553h1v1h-1zM855 553h1v1h-1zM588 576h1v1h-1zM625 576h1v1h-1zM631 576h1v1h-1zM651 576h1v1h-1zM668 576h1v1h-1zM673 576h1v1h-1zM676 576h1v1h-1zM691 576h1v1h-1zM593 578h1v1h-1zM598 578h3v1h-3zM609 578h1v1h-1zM623 578h1v1h-1zM625 578h1v1h-1zM634 578h1v1h-1zM638 578h1v1h-1zM669 578h1v1h-1zM639 580h1v1h-1z"/>
<path fill="#370499" d="M784 553h1v1h-1zM588 554h1v1h-1zM790 554h1v1h-1zM617 555h1v1h-1zM624 555h1v1h-1zM651 556h1v1h-1zM803 556h1v1h-1zM590 557h1v1h-1zM856 557h1v1h-1zM756 559h1v1h-1zM760 560h1v1h-1zM762 561h1v1h-1zM600 563h1v1h-1zM749 565h1v1h-1zM613 566h1v1h-1zM721 569h1v1h-1zM817 569h1v1h-1zM715 571h1v1h-1zM703 574h1v1h-1zM869 574h1v1h-1zM585 576h1v1h-1zM587 576h1v1h-1zM606 576h1v1h-1zM617 576h1v1h-1zM649 576h1v1h-1zM661 576h1v1h-1zM699 576h1v1h-1z"/>
<path fill="#5901a5" d="M789 554h1v1h-1zM832 558h1v1h-1zM681 560h1v1h-1zM740 561h1v1h-1zM744 564h1v1h-1zM684 567h1v1h-1zM599 576h1v1h-1zM619 576h1v1h-1zM626 576h1v1h-1zM634 576h1v1h-1zM654 576h1v1h-1zM660 576h1v1h-1zM615 578h1v1h-1zM621 578h1v1h-1zM635 578h2v1h-2zM656 578h1v1h-1zM641 580h1v1h-1z"/>
<path fill="#6a00a8" d="M593 576h1v1h-1zM612 576h1v1h-1zM621 576h1v1h-1zM624 576h1v1h-1zM632 576h1v1h-1zM665 576h1v1h-1zM671 576h1v1h-1zM674 576h1v1h-1zM616 578h1v1h-1zM620 578h1v1h-1zM637 578h1v1h-1zM639 578h1v1h-1zM644 578h2v1h-2zM648 578h1v1h-1zM663 578h1v1h-1zM606 580h1v1h-1zM638 580h1v1h-1z"/>
<path fill="#7b02a8" d="M600 576h1v1h-1zM623 576h1v1h-1zM627 576h1v1h-1zM588 578h1v1h-1zM591 578h1v1h-1zM595 578h1v1h-1zM608 578h1v1h-1zM622 578h1v1h-1zM646 578h1v1h-1zM658 578h1v1h-1zM694 578h1v1h-1zM602 580h1v1h-1zM617 580h2v1h-2zM621 580h1v1h-1zM660 580h1v1h-1z"/>
<path fill="#8305a7" d="M604 576h1v1h-1zM662 576h1v1h-1zM695 576h1v1h-1zM700 576h1v1h-1zM619 578h1v1h-1zM626 578h1v1h-1zM664 578h2v1h-2zM596 580h1v1h-1zM608 580h1v1h-1zM610 580h1v1h-1zM626 580h1v1h-1zM636 580h1v1h-1zM647 580h1v1h-1z"/>
<path fill="#8a09a5" d="M622 576h1v1h-1zM628 576h1v1h-1zM670 576h1v1h-1zM677 576h1v1h-1zM685 576h1v1h-1zM701 576h2v1h-2zM713 576h1v1h-1zM769 576h1v1h-1zM592 578h1v1h-1zM607 578h1v1h-1zM612 578h1v1h-1zM618 578h1v1h-1zM624 578h1v1h-1zM627 578h1v1h-1zM629 578h1v1h-1zM650 578h1v1h-1zM653 578h1v1h-1zM659 578h1v1h-1zM661 578h1v1h-1zM668 578h1v1h-1zM863 578h1v1h-1zM603 580h1v1h-1zM614 580h1v1h-1zM620 580h1v1h-1zM624 580h1v1h-1zM635 580h1v1h-1zM659 580h1v1h-1zM662 580h1v1h-1zM639 582h1v1h-1zM661 582h1v1h-1z"/>
<path fill="#99159f" d="M650 576h1v1h-1zM678 576h1v1h-1zM693 576h1v1h-1zM698 576h1v1h-1zM725 576h1v1h-1zM735 576h1v1h-1zM774 576h1v1h-1zM782 576h1v1h-1zM786 576h1v1h-1zM808 576h1v1h-1zM840 576h1v1h-1zM860 576h2v1h-2zM587 578h1v1h-1zM611 578h1v1h-1zM613 578h1v1h-1zM628 578h1v1h-1zM671 578h1v1h-1zM699 578h1v1h-1zM839 578h1v1h-1zM595 580h1v1h-1zM605 580h1v1h-1zM611 580h1v1h-1zM615 580h1v1h-1zM619 580h1v1h-1zM623 580h1v1h-1zM648 580h1v1h-1zM655 580h1v1h-1zM663 580h2v1h-2zM671 580h1v1h-1zM596 582h1v1h-1zM603 582h2v1h-2zM618 582h1v1h-1zM623 582h1v1h-1zM638 582h1v1h-1zM640 582h2v1h-2zM646 582h3v1h-3zM654 582h1v1h-1z"/>
<path fill="#a72197" d="M667 576h1v1h-1zM706 576h1v1h-1zM737 576h1v1h-1zM813 576h1v1h-1zM839 576h1v1h-1zM841 576h1v1h-1zM847 576h1v1h-1zM850 576h1v1h-1zM866 576h1v1h-1zM589 578h1v1h-1zM651 578h1v1h-1zM689 578h1v1h-1zM698 578h1v1h-1zM765 578h1v1h-1zM775 578h1v1h-1zM859 578h1v1h-1zM593 580h1v1h-1zM613 580h1v1h-1zM653 580h1v1h-1zM602 582h1v1h-1zM621 582h1v1h-1zM636 582h1v1h-1zM642 582h1v1h-1zM662 582h1v1h-1z"/>
<path fill="#a01a9c" d="M672 576h1v1h-1zM690 576h1v1h-1zM694 576h1v1h-1zM704 576h1v1h-1zM720 576h1v1h-1zM727 576h1v1h-1zM772 576h2v1h-2zM775 576h1v1h-1zM806 576h2v1h-2zM836 576h3v1h-3zM863 576h1v1h-1zM590 578h1v1h-1zM587 580h2v1h-2zM590 580h1v1h-1zM592 580h1v1h-1zM600 580h1v1h-1zM609 580h1v1h-1zM612 580h1v1h-1zM654 580h1v1h-1zM673 580h1v1h-1zM597 582h1v1h-1zM614 582h1v1h-1zM625 582h1v1h-1zM632 582h1v1h-1zM645 582h1v1h-1zM659 582h1v1h-1z"/>
<path fill="#920fa3" d="M675 576h1v1h-1zM687 576h1v1h-1zM715 576h1v1h-1zM810 576h1v1h-1zM845 576h1v1h-1zM862 576h1v1h-1zM586 578h1v1h-1zM610 578h1v1h-1zM649 578h1v1h-1zM672 578h1v1h-1zM695 578h1v1h-1zM788 578h1v1h-1zM805 578h1v1h-1zM632 580h1v1h-1zM637 580h1v1h-1zM646 580h1v1h-1zM649 580h2v1h-2zM652 580h1v1h-1zM658 580h1v1h-1zM667 580h1v1h-1zM585 582h1v1h-1zM599 582h1v1h-1zM605 582h2v1h-2zM643 582h1v1h-1zM658 582h1v1h-1z"/>
<path fill="#ca457a" d="M679 576h1v1h-1zM692 576h1v1h-1zM708 576h1v1h-1zM719 576h1v1h-1zM723 576h1v1h-1zM730 576h1v1h-1zM740 576h1v1h-1zM751 576h1v1h-1zM756 576h1v1h-1zM765 576h1v1h-1zM822 576h1v1h-1zM824 576h1v1h-1zM833 576h1v1h-1zM848 576h1v1h-1zM855 576h1v1h-1zM858 576h1v1h-1zM705 578h1v1h-1zM709 578h1v1h-1zM716 578h1v1h-1zM754 578h2v1h-2zM757 578h2v1h-2zM786 578h1v1h-1zM836 578h1v1h-1zM838 578h1v1h-1zM842 578h1v1h-1zM679 580h1v1h-1zM693 580h1v1h-1zM771 580h1v1h-1zM775 580h1v1h-1zM780 580h1v1h-1zM805 580h1v1h-1zM810 580h1v1h-1zM840 580h2v1h-2zM862 580h1v1h-1zM624 582h1v1h-1zM673 582h3v1h-3zM689 582h1v1h-1zM697 582h1v1h-1zM700 582h1v1h-1zM702 582h2v1h-2zM706 582h1v1h-1zM728 582h1v1h-1zM586 584h1v1h-1zM589 584h2v1h-2zM594 584h1v1h-1zM599 584h1v1h-1zM612 584h2v1h-2zM616 584h1v1h-1zM625 584h1v1h-1zM631 584h1v1h-1zM652 584h1v1h-1zM662 584h1v1h-1zM676 584h1v1h-1zM640 586h1v1h-1zM647 586h1v1h-1zM657 586h2v1h-2zM661 586h1v1h-1z"/>
<path fill="#c5407e" d="M680 576h1v1h-1zM697 576h1v1h-1zM705 576h1v1h-1zM707 576h1v1h-1zM710 576h1v1h-1zM718 576h1v1h-1zM721 576h1v1h-1zM738 576h1v1h-1zM754 576h1v1h-1zM760 576h1v1h-1zM767 576h1v1h-1zM795 576h1v1h-1zM798 576h1v1h-1zM802 576h1v1h-1zM812 576h1v1h-1zM854 576h1v1h-1zM857 576h1v1h-1zM680 578h1v1h-1zM686 578h1v1h-1zM729 578h2v1h-2zM737 578h1v1h-1zM761 578h2v1h-2zM773 578h1v1h-1zM779 578h1v1h-1zM781 578h1v1h-1zM796 578h1v1h-1zM810 578h1v1h-1zM814 578h1v1h-1zM823 578h1v1h-1zM834 578h1v1h-1zM840 578h2v1h-2zM844 578h1v1h-1zM862 578h1v1h-1zM696 580h2v1h-2zM700 580h1v1h-1zM710 580h2v1h-2zM729 580h4v1h-4zM737 580h1v1h-1zM774 580h1v1h-1zM806 580h1v1h-1zM864 580h1v1h-1zM590 582h1v1h-1zM610 582h1v1h-1zM671 582h1v1h-1zM691 582h1v1h-1zM693 582h1v1h-1zM701 582h1v1h-1zM704 582h1v1h-1zM591 584h1v1h-1zM595 584h2v1h-2zM609 584h1v1h-1zM618 584h1v1h-1zM626 584h2v1h-2zM629 584h1v1h-1zM650 584h1v1h-1zM654 584h1v1h-1zM664 584h1v1h-1zM641 586h1v1h-1z"/>
<path fill="#ba3388" d="M681 576h2v1h-2zM712 576h1v1h-1zM714 576h1v1h-1zM750 576h1v1h-1zM755 576h1v1h-1zM759 576h1v1h-1zM771 576h1v1h-1zM780 576h1v1h-1zM783 576h1v1h-1zM790 576h1v1h-1zM799 576h1v1h-1zM803 576h1v1h-1zM834 576h1v1h-1zM667 578h1v1h-1zM678 578h1v1h-1zM703 578h1v1h-1zM735 578h1v1h-1zM752 578h1v1h-1zM767 578h1v1h-1zM783 578h2v1h-2zM806 578h1v1h-1zM813 578h1v1h-1zM843 578h1v1h-1zM860 578h2v1h-2zM864 578h1v1h-1zM686 580h2v1h-2zM694 580h1v1h-1zM698 580h1v1h-1zM750 580h1v1h-1zM589 582h1v1h-1zM592 582h2v1h-2zM608 582h1v1h-1zM629 582h3v1h-3zM670 582h1v1h-1zM692 582h1v1h-1zM597 584h1v1h-1zM600 584h1v1h-1zM605 584h1v1h-1zM615 584h1v1h-1zM617 584h1v1h-1zM621 584h1v1h-1zM640 584h1v1h-1zM645 584h2v1h-2zM655 584h1v1h-1zM661 584h1v1h-1z"/>
<path fill="#ad2793" d="M684 576h1v1h-1zM703 576h1v1h-1zM709 576h1v1h-1zM729 576h1v1h-1zM734 576h1v1h-1zM749 576h1v1h-1zM763 576h2v1h-2zM776 576h2v1h-2zM784 576h1v1h-1zM787 576h2v1h-2zM801 576h1v1h-1zM805 576h1v1h-1zM835 576h1v1h-1zM842 576h1v1h-1zM844 576h1v1h-1zM654 578h1v1h-1zM687 578h1v1h-1zM691 578h1v1h-1zM702 578h1v1h-1zM704 578h1v1h-1zM750 578h1v1h-1zM759 578h1v1h-1zM777 578h1v1h-1zM589 580h1v1h-1zM629 580h1v1h-1zM670 580h1v1h-1zM586 582h1v1h-1zM598 582h1v1h-1zM607 582h1v1h-1zM611 582h2v1h-2zM628 582h1v1h-1zM655 582h1v1h-1zM663 582h1v1h-1zM665 582h4v1h-4zM606 584h1v1h-1zM641 584h1v1h-1zM643 584h1v1h-1z"/>
<path fill="#b42e8d" d="M686 576h1v1h-1zM711 576h1v1h-1zM726 576h1v1h-1zM728 576h1v1h-1zM732 576h1v1h-1zM753 576h1v1h-1zM779 576h1v1h-1zM785 576h1v1h-1zM804 576h1v1h-1zM820 576h1v1h-1zM865 576h1v1h-1zM868 576h1v1h-1zM674 578h1v1h-1zM677 578h1v1h-1zM688 578h1v1h-1zM690 578h1v1h-1zM701 578h1v1h-1zM713 578h1v1h-1zM719 578h1v1h-1zM723 578h2v1h-2zM726 578h1v1h-1zM731 578h1v1h-1zM774 578h1v1h-1zM794 578h1v1h-1zM802 578h1v1h-1zM591 580h1v1h-1zM630 580h2v1h-2zM665 580h2v1h-2zM669 580h1v1h-1zM683 580h1v1h-1zM785 580h1v1h-1zM587 582h1v1h-1zM595 582h1v1h-1zM601 582h1v1h-1zM609 582h1v1h-1zM613 582h1v1h-1zM615 582h1v1h-1zM619 582h2v1h-2zM626 582h1v1h-1zM633 582h1v1h-1zM635 582h1v1h-1zM637 582h1v1h-1zM644 582h1v1h-1zM649 582h1v1h-1zM653 582h1v1h-1zM774 582h1v1h-1zM601 584h1v1h-1zM603 584h1v1h-1zM642 584h1v1h-1zM644 584h1v1h-1zM647 584h2v1h-2zM656 584h2v1h-2z"/>
<path fill="#bf3984" d="M716 576h2v1h-2zM733 576h1v1h-1zM739 576h1v1h-1zM766 576h1v1h-1zM768 576h1v1h-1zM814 576h1v1h-1zM818 576h1v1h-1zM823 576h1v1h-1zM867 576h1v1h-1zM684 578h1v1h-1zM693 578h1v1h-1zM718 578h1v1h-1zM720 578h1v1h-1zM732 578h2v1h-2zM747 578h1v1h-1zM749 578h1v1h-1zM763 578h1v1h-1zM768 578h1v1h-1zM770 578h1v1h-1zM795 578h1v1h-1zM807 578h1v1h-1zM809 578h1v1h-1zM824 578h1v1h-1zM870 578h1v1h-1zM672 580h1v1h-1zM674 580h1v1h-1zM678 580h1v1h-1zM690 580h2v1h-2zM695 580h1v1h-1zM703 580h1v1h-1zM715 580h1v1h-1zM751 580h1v1h-1zM784 580h1v1h-1zM807 580h1v1h-1zM809 580h1v1h-1zM588 582h1v1h-1zM627 582h1v1h-1zM650 582h1v1h-1zM598 584h1v1h-1zM607 584h1v1h-1zM611 584h1v1h-1zM614 584h1v1h-1zM620 584h1v1h-1zM622 584h1v1h-1zM624 584h1v1h-1zM635 584h4v1h-4zM649 584h1v1h-1zM653 584h1v1h-1zM659 584h1v1h-1zM663 584h1v1h-1z"/>
<path fill="#ce4b75" d="M722 576h1v1h-1zM741 576h1v1h-1zM757 576h2v1h-2zM789 576h1v1h-1zM794 576h1v1h-1zM832 576h1v1h-1zM859 576h1v1h-1zM683 578h1v1h-1zM706 578h2v1h-2zM711 578h1v1h-1zM714 578h1v1h-1zM717 578h1v1h-1zM721 578h1v1h-1zM728 578h1v1h-1zM751 578h1v1h-1zM756 578h1v1h-1zM766 578h1v1h-1zM769 578h1v1h-1zM772 578h1v1h-1zM801 578h1v1h-1zM804 578h1v1h-1zM825 578h1v1h-1zM837 578h1v1h-1zM681 580h1v1h-1zM684 580h1v1h-1zM717 580h1v1h-1zM723 580h2v1h-2zM728 580h1v1h-1zM748 580h2v1h-2zM770 580h1v1h-1zM788 580h1v1h-1zM811 580h3v1h-3zM836 580h2v1h-2zM860 580h1v1h-1zM869 580h1v1h-1zM672 582h1v1h-1zM677 582h2v1h-2zM682 582h1v1h-1zM685 582h3v1h-3zM690 582h1v1h-1zM698 582h2v1h-2zM712 582h1v1h-1zM721 582h1v1h-1zM725 582h1v1h-1zM768 582h1v1h-1zM806 582h1v1h-1zM841 582h1v1h-1zM861 582h1v1h-1zM585 584h1v1h-1zM630 584h1v1h-1zM634 584h1v1h-1zM651 584h1v1h-1zM658 584h1v1h-1zM666 584h1v1h-1zM668 584h1v1h-1zM672 584h1v1h-1zM696 584h1v1h-1zM585 586h1v1h-1zM603 586h1v1h-1zM605 586h1v1h-1zM614 586h2v1h-2zM621 586h1v1h-1zM639 586h1v1h-1zM644 586h2v1h-2zM654 586h2v1h-2zM664 586h1v1h-1z"/>
<path fill="#d45270" d="M736 576h1v1h-1zM745 576h1v1h-1zM748 576h1v1h-1zM762 576h1v1h-1zM778 576h1v1h-1zM793 576h1v1h-1zM797 576h1v1h-1zM800 576h1v1h-1zM809 576h1v1h-1zM815 576h1v1h-1zM821 576h1v1h-1zM825 576h1v1h-1zM856 576h1v1h-1zM741 578h1v1h-1zM744 578h1v1h-1zM849 578h1v1h-1zM867 578h1v1h-1zM869 578h1v1h-1zM682 580h1v1h-1zM685 580h1v1h-1zM718 580h1v1h-1zM722 580h1v1h-1zM725 580h1v1h-1zM754 580h1v1h-1zM762 580h1v1h-1zM772 580h1v1h-1zM786 580h1v1h-1zM791 580h1v1h-1zM804 580h1v1h-1zM821 580h1v1h-1zM842 580h1v1h-1zM855 580h1v1h-1zM858 580h1v1h-1zM866 580h1v1h-1zM680 582h1v1h-1zM694 582h1v1h-1zM719 582h1v1h-1zM724 582h1v1h-1zM729 582h1v1h-1zM731 582h1v1h-1zM754 582h1v1h-1zM771 582h1v1h-1zM775 582h1v1h-1zM783 582h1v1h-1zM804 582h1v1h-1zM810 582h1v1h-1zM839 582h1v1h-1zM860 582h1v1h-1zM862 582h1v1h-1zM865 582h1v1h-1zM588 584h1v1h-1zM632 584h1v1h-1zM669 584h1v1h-1zM673 584h1v1h-1zM675 584h1v1h-1zM688 584h1v1h-1zM695 584h1v1h-1zM699 584h2v1h-2zM587 586h1v1h-1zM594 586h1v1h-1zM604 586h1v1h-1zM606 586h3v1h-3zM612 586h1v1h-1zM617 586h3v1h-3zM622 586h1v1h-1zM646 586h1v1h-1zM648 586h1v1h-1zM650 586h1v1h-1zM653 586h1v1h-1zM656 586h1v1h-1z"/>
<path fill="#d8576b" d="M742 576h1v1h-1zM826 576h1v1h-1zM736 578h1v1h-1zM739 578h2v1h-2zM780 578h1v1h-1zM791 578h1v1h-1zM797 578h1v1h-1zM818 578h1v1h-1zM820 578h1v1h-1zM850 578h1v1h-1zM856 578h1v1h-1zM858 578h1v1h-1zM701 580h1v1h-1zM716 580h1v1h-1zM726 580h1v1h-1zM733 580h1v1h-1zM736 580h1v1h-1zM764 580h3v1h-3zM794 580h1v1h-1zM796 580h1v1h-1zM822 580h1v1h-1zM824 580h1v1h-1zM852 580h1v1h-1zM863 580h1v1h-1zM865 580h1v1h-1zM707 582h1v1h-1zM710 582h1v1h-1zM716 582h1v1h-1zM723 582h1v1h-1zM727 582h1v1h-1zM751 582h1v1h-1zM762 582h1v1h-1zM770 582h1v1h-1zM782 582h1v1h-1zM805 582h1v1h-1zM807 582h2v1h-2zM824 582h1v1h-1zM864 582h1v1h-1zM623 584h1v1h-1zM674 584h1v1h-1zM685 584h1v1h-1zM586 586h1v1h-1zM588 586h1v1h-1zM595 586h1v1h-1zM598 586h1v1h-1zM601 586h1v1h-1zM611 586h1v1h-1zM616 586h1v1h-1zM627 586h1v1h-1zM629 586h1v1h-1zM634 586h2v1h-2zM637 586h1v1h-1zM649 586h1v1h-1zM652 586h1v1h-1zM662 586h1v1h-1zM660 588h1v1h-1z"/>
<path fill="#e56a5d" d="M743 576h1v1h-1zM829 576h1v1h-1zM800 578h1v1h-1zM819 578h1v1h-1zM742 580h1v1h-1zM761 580h1v1h-1zM790 580h1v1h-1zM798 580h1v1h-1zM819 580h1v1h-1zM833 580h1v1h-1zM845 580h1v1h-1zM856 580h1v1h-1zM868 580h1v1h-1zM870 580h1v1h-1zM711 582h1v1h-1zM732 582h2v1h-2zM735 582h1v1h-1zM747 582h1v1h-1zM750 582h1v1h-1zM761 582h1v1h-1zM763 582h1v1h-1zM778 582h1v1h-1zM781 582h1v1h-1zM789 582h1v1h-1zM802 582h1v1h-1zM816 582h1v1h-1zM834 582h1v1h-1zM836 582h1v1h-1zM844 582h1v1h-1zM686 584h1v1h-1zM692 584h1v1h-1zM698 584h1v1h-1zM704 584h1v1h-1zM710 584h1v1h-1zM718 584h1v1h-1zM723 584h1v1h-1zM725 584h1v1h-1zM730 584h1v1h-1zM735 584h1v1h-1zM755 584h1v1h-1zM757 584h1v1h-1zM760 584h2v1h-2zM767 584h1v1h-1zM770 584h3v1h-3zM777 584h1v1h-1zM782 584h1v1h-1zM785 584h3v1h-3zM796 584h1v1h-1zM809 584h2v1h-2zM836 584h2v1h-2zM861 584h1v1h-1zM863 584h1v1h-1zM663 586h1v1h-1zM672 586h1v1h-1zM674 586h1v1h-1zM676 586h2v1h-2zM692 586h1v1h-1zM701 586h1v1h-1zM588 588h1v1h-1zM590 588h2v1h-2zM613 588h2v1h-2zM618 588h1v1h-1zM620 588h1v1h-1zM622 588h1v1h-1zM629 588h1v1h-1zM632 588h1v1h-1zM634 588h1v1h-1zM646 588h3v1h-3zM652 588h1v1h-1zM673 588h1v1h-1zM619 590h1v1h-1zM640 590h1v1h-1z"/>
<path fill="#dc5d67" d="M746 576h1v1h-1zM819 576h1v1h-1zM831 576h1v1h-1zM852 576h1v1h-1zM722 578h1v1h-1zM738 578h1v1h-1zM742 578h1v1h-1zM866 578h1v1h-1zM868 578h1v1h-1zM709 580h1v1h-1zM719 580h1v1h-1zM721 580h1v1h-1zM735 580h1v1h-1zM745 580h1v1h-1zM753 580h1v1h-1zM756 580h3v1h-3zM760 580h1v1h-1zM769 580h1v1h-1zM783 580h1v1h-1zM793 580h1v1h-1zM828 580h1v1h-1zM834 580h1v1h-1zM850 580h1v1h-1zM679 582h1v1h-1zM681 582h1v1h-1zM683 582h1v1h-1zM688 582h1v1h-1zM695 582h1v1h-1zM705 582h1v1h-1zM713 582h2v1h-2zM726 582h1v1h-1zM748 582h1v1h-1zM752 582h2v1h-2zM758 582h2v1h-2zM765 582h2v1h-2zM777 582h1v1h-1zM785 582h1v1h-1zM792 582h1v1h-1zM811 582h2v1h-2zM835 582h1v1h-1zM838 582h1v1h-1zM842 582h1v1h-1zM846 582h1v1h-1zM850 582h1v1h-1zM859 582h1v1h-1zM866 582h1v1h-1zM671 584h1v1h-1zM678 584h1v1h-1zM687 584h1v1h-1zM693 584h1v1h-1zM707 584h1v1h-1zM729 584h1v1h-1zM751 584h1v1h-1zM589 586h2v1h-2zM592 586h2v1h-2zM596 586h1v1h-1zM628 586h1v1h-1zM630 586h1v1h-1zM651 586h1v1h-1zM665 586h1v1h-1zM668 586h1v1h-1zM671 586h1v1h-1zM695 586h1v1h-1zM604 588h1v1h-1zM639 588h3v1h-3zM643 588h1v1h-1zM645 588h1v1h-1zM656 588h1v1h-1z"/>
<path fill="#e16462" d="M828 576h1v1h-1zM830 576h1v1h-1zM869 576h2v1h-2zM798 578h1v1h-1zM811 578h1v1h-1zM826 578h1v1h-1zM828 578h1v1h-1zM831 578h1v1h-1zM845 578h2v1h-2zM851 578h1v1h-1zM853 578h1v1h-1zM720 580h1v1h-1zM740 580h1v1h-1zM759 580h1v1h-1zM799 580h2v1h-2zM802 580h1v1h-1zM827 580h1v1h-1zM843 580h1v1h-1zM849 580h1v1h-1zM853 580h1v1h-1zM857 580h1v1h-1zM867 580h1v1h-1zM696 582h1v1h-1zM709 582h1v1h-1zM717 582h2v1h-2zM720 582h1v1h-1zM755 582h2v1h-2zM760 582h1v1h-1zM769 582h1v1h-1zM773 582h1v1h-1zM776 582h1v1h-1zM784 582h1v1h-1zM788 582h1v1h-1zM793 582h1v1h-1zM801 582h1v1h-1zM803 582h1v1h-1zM814 582h1v1h-1zM823 582h1v1h-1zM837 582h1v1h-1zM840 582h1v1h-1zM843 582h1v1h-1zM849 582h1v1h-1zM851 582h1v1h-1zM857 582h1v1h-1zM867 582h2v1h-2zM680 584h1v1h-1zM683 584h1v1h-1zM697 584h1v1h-1zM702 584h1v1h-1zM711 584h3v1h-3zM732 584h1v1h-1zM754 584h1v1h-1zM762 584h1v1h-1zM768 584h1v1h-1zM773 584h2v1h-2zM791 584h1v1h-1zM804 584h1v1h-1zM843 584h1v1h-1zM866 584h1v1h-1zM613 586h1v1h-1zM631 586h1v1h-1zM667 586h1v1h-1zM669 586h1v1h-1zM673 586h1v1h-1zM675 586h1v1h-1zM690 586h1v1h-1zM700 586h1v1h-1zM587 588h1v1h-1zM595 588h1v1h-1zM598 588h2v1h-2zM605 588h3v1h-3zM619 588h1v1h-1zM621 588h1v1h-1zM630 588h1v1h-1zM649 588h1v1h-1zM654 588h1v1h-1zM659 588h1v1h-1zM662 588h1v1h-1zM668 588h2v1h-2z"/>
<path fill="#e97158" d="M745 578h1v1h-1zM830 578h1v1h-1zM738 580h1v1h-1zM743 580h2v1h-2zM746 580h1v1h-1zM782 580h1v1h-1zM789 580h1v1h-1zM844 580h1v1h-1zM854 580h1v1h-1zM730 582h1v1h-1zM738 582h1v1h-1zM740 582h1v1h-1zM742 582h1v1h-1zM744 582h1v1h-1zM757 582h1v1h-1zM796 582h1v1h-1zM817 582h1v1h-1zM819 582h1v1h-1zM822 582h1v1h-1zM825 582h1v1h-1zM831 582h1v1h-1zM833 582h1v1h-1zM847 582h1v1h-1zM852 582h1v1h-1zM855 582h1v1h-1zM679 584h1v1h-1zM681 584h2v1h-2zM703 584h1v1h-1zM705 584h1v1h-1zM709 584h1v1h-1zM717 584h1v1h-1zM721 584h1v1h-1zM726 584h1v1h-1zM728 584h1v1h-1zM734 584h1v1h-1zM749 584h2v1h-2zM752 584h1v1h-1zM769 584h1v1h-1zM806 584h1v1h-1zM811 584h1v1h-1zM825 584h1v1h-1zM840 584h1v1h-1zM849 584h1v1h-1zM857 584h4v1h-4zM670 586h1v1h-1zM681 586h1v1h-1zM686 586h2v1h-2zM691 586h1v1h-1zM697 586h1v1h-1zM699 586h1v1h-1zM702 586h2v1h-2zM713 586h1v1h-1zM770 586h1v1h-1zM785 586h1v1h-1zM586 588h1v1h-1zM596 588h1v1h-1zM609 588h2v1h-2zM624 588h1v1h-1zM657 588h1v1h-1zM666 588h2v1h-2zM670 588h1v1h-1zM674 588h1v1h-1zM591 590h1v1h-1zM605 590h1v1h-1zM615 590h1v1h-1z"/>
<path fill="#ec7754" d="M815 578h2v1h-2zM741 580h1v1h-1zM816 580h1v1h-1zM820 580h1v1h-1zM745 582h1v1h-1zM780 582h1v1h-1zM790 582h2v1h-2zM800 582h1v1h-1zM813 582h1v1h-1zM815 582h1v1h-1zM820 582h1v1h-1zM826 582h1v1h-1zM848 582h1v1h-1zM854 582h1v1h-1zM684 584h1v1h-1zM722 584h1v1h-1zM731 584h1v1h-1zM739 584h2v1h-2zM742 584h1v1h-1zM744 584h1v1h-1zM753 584h1v1h-1zM758 584h1v1h-1zM763 584h3v1h-3zM783 584h1v1h-1zM790 584h1v1h-1zM793 584h1v1h-1zM800 584h2v1h-2zM807 584h1v1h-1zM835 584h1v1h-1zM838 584h1v1h-1zM845 584h1v1h-1zM848 584h1v1h-1zM851 584h2v1h-2zM865 584h1v1h-1zM867 584h1v1h-1zM679 586h2v1h-2zM682 586h2v1h-2zM688 586h2v1h-2zM696 586h1v1h-1zM698 586h1v1h-1zM704 586h1v1h-1zM708 586h1v1h-1zM720 586h1v1h-1zM727 586h1v1h-1zM769 586h1v1h-1zM771 586h1v1h-1zM777 586h2v1h-2zM805 586h1v1h-1zM859 586h1v1h-1zM589 588h1v1h-1zM672 588h1v1h-1zM589 590h1v1h-1zM602 590h1v1h-1zM608 590h2v1h-2zM613 590h1v1h-1zM623 590h1v1h-1zM628 590h2v1h-2zM632 590h1v1h-1zM652 590h1v1h-1zM654 590h1v1h-1z"/>
<path fill="#ef7e50" d="M848 578h1v1h-1zM830 580h1v1h-1zM832 580h1v1h-1zM743 582h1v1h-1zM818 582h1v1h-1zM821 582h1v1h-1zM832 582h1v1h-1zM869 582h1v1h-1zM719 584h1v1h-1zM727 584h1v1h-1zM736 584h1v1h-1zM743 584h1v1h-1zM747 584h2v1h-2zM759 584h1v1h-1zM779 584h1v1h-1zM794 584h1v1h-1zM798 584h1v1h-1zM815 584h1v1h-1zM819 584h1v1h-1zM823 584h1v1h-1zM832 584h1v1h-1zM834 584h1v1h-1zM841 584h2v1h-2zM685 586h1v1h-1zM693 586h1v1h-1zM706 586h1v1h-1zM712 586h1v1h-1zM716 586h1v1h-1zM718 586h2v1h-2zM721 586h1v1h-1zM724 586h1v1h-1zM730 586h1v1h-1zM749 586h2v1h-2zM752 586h1v1h-1zM759 586h1v1h-1zM766 586h1v1h-1zM772 586h2v1h-2zM776 586h1v1h-1zM780 586h1v1h-1zM788 586h1v1h-1zM807 586h1v1h-1zM836 586h2v1h-2zM860 586h1v1h-1zM862 586h2v1h-2zM867 586h1v1h-1zM671 588h1v1h-1zM676 588h1v1h-1zM689 588h2v1h-2zM699 588h1v1h-1zM592 590h1v1h-1z"/>
<path fill="#f3854b" d="M741 582h1v1h-1zM845 582h1v1h-1zM870 582h1v1h-1zM716 584h1v1h-1zM738 584h1v1h-1zM745 584h2v1h-2zM756 584h1v1h-1zM789 584h1v1h-1zM797 584h1v1h-1zM814 584h1v1h-1zM821 584h1v1h-1zM826 584h2v1h-2zM833 584h1v1h-1zM844 584h1v1h-1zM846 584h2v1h-2zM854 584h2v1h-2zM705 586h1v1h-1zM707 586h1v1h-1zM709 586h1v1h-1zM715 586h1v1h-1zM717 586h1v1h-1zM725 586h1v1h-1zM732 586h2v1h-2zM736 586h1v1h-1zM751 586h1v1h-1zM754 586h1v1h-1zM760 586h1v1h-1zM779 586h1v1h-1zM781 586h1v1h-1zM783 586h2v1h-2zM789 586h1v1h-1zM791 586h1v1h-1zM796 586h1v1h-1zM802 586h1v1h-1zM809 586h1v1h-1zM811 586h1v1h-1zM814 586h1v1h-1zM822 586h1v1h-1zM827 586h1v1h-1zM831 586h1v1h-1zM838 586h2v1h-2zM841 586h1v1h-1zM845 586h1v1h-1zM849 586h1v1h-1zM679 588h1v1h-1zM688 588h1v1h-1zM692 588h3v1h-3zM698 588h1v1h-1zM720 588h1v1h-1zM775 588h1v1h-1zM808 588h1v1h-1zM610 590h1v1h-1zM673 590h1v1h-1zM687 590h1v1h-1zM657 592h1v1h-1zM749 592h1v1h-1zM637 594h1v1h-1zM647 594h1v1h-1zM794 594h1v1h-1zM863 594h1v1h-1z"/>
<path fill="#f58c46" d="M795 582h1v1h-1zM828 582h2v1h-2zM858 582h1v1h-1zM741 584h1v1h-1zM766 584h1v1h-1zM820 584h1v1h-1zM822 584h1v1h-1zM828 584h3v1h-3zM722 586h1v1h-1zM734 586h1v1h-1zM738 586h2v1h-2zM741 586h1v1h-1zM746 586h1v1h-1zM748 586h1v1h-1zM753 586h1v1h-1zM755 586h1v1h-1zM758 586h1v1h-1zM763 586h1v1h-1zM767 586h2v1h-2zM792 586h1v1h-1zM798 586h1v1h-1zM800 586h2v1h-2zM803 586h2v1h-2zM810 586h1v1h-1zM824 586h2v1h-2zM829 586h1v1h-1zM834 586h1v1h-1zM843 586h1v1h-1zM847 586h1v1h-1zM851 586h2v1h-2zM857 586h1v1h-1zM861 586h1v1h-1zM865 586h2v1h-2zM870 586h1v1h-1zM680 588h2v1h-2zM697 588h1v1h-1zM700 588h1v1h-1zM703 588h2v1h-2zM706 588h1v1h-1zM708 588h1v1h-1zM714 588h1v1h-1zM718 588h1v1h-1zM724 588h3v1h-3zM730 588h2v1h-2zM733 588h1v1h-1zM759 588h1v1h-1zM768 588h1v1h-1zM773 588h2v1h-2zM784 588h1v1h-1zM788 588h1v1h-1zM804 588h1v1h-1zM807 588h1v1h-1zM861 588h1v1h-1zM863 588h1v1h-1zM672 590h1v1h-1zM592 592h1v1h-1zM604 592h1v1h-1zM637 592h1v1h-1zM655 592h1v1h-1zM688 592h1v1h-1zM690 592h1v1h-1zM732 592h1v1h-1zM601 594h1v1h-1zM639 594h1v1h-1zM697 594h1v1h-1zM702 594h1v1h-1zM722 594h1v1h-1zM768 594h1v1h-1zM770 594h1v1h-1zM780 594h1v1h-1z"/>
<path fill="#f79342" d="M816 584h2v1h-2zM723 586h1v1h-1zM731 586h1v1h-1zM735 586h1v1h-1zM756 586h1v1h-1zM764 586h2v1h-2zM782 586h1v1h-1zM793 586h1v1h-1zM797 586h1v1h-1zM815 586h2v1h-2zM821 586h1v1h-1zM826 586h1v1h-1zM832 586h2v1h-2zM846 586h1v1h-1zM850 586h1v1h-1zM854 586h1v1h-1zM868 586h2v1h-2zM707 588h1v1h-1zM709 588h1v1h-1zM711 588h2v1h-2zM717 588h1v1h-1zM719 588h1v1h-1zM721 588h1v1h-1zM728 588h2v1h-2zM732 588h1v1h-1zM735 588h1v1h-1zM739 588h1v1h-1zM751 588h1v1h-1zM755 588h1v1h-1zM769 588h1v1h-1zM772 588h1v1h-1zM779 588h1v1h-1zM781 588h1v1h-1zM783 588h1v1h-1zM800 588h1v1h-1zM803 588h1v1h-1zM815 588h1v1h-1zM837 588h1v1h-1zM848 588h1v1h-1zM854 588h1v1h-1zM859 588h2v1h-2zM862 588h1v1h-1zM866 588h1v1h-1zM869 588h1v1h-1zM713 590h2v1h-2zM726 590h1v1h-1zM792 592h1v1h-1zM595 594h1v1h-1zM613 594h1v1h-1zM619 594h1v1h-1zM622 594h1v1h-1zM711 594h1v1h-1zM715 594h1v1h-1zM725 594h1v1h-1zM729 594h1v1h-1zM733 594h1v1h-1zM752 594h1v1h-1zM758 594h1v1h-1zM784 594h1v1h-1zM800 594h1v1h-1zM804 594h1v1h-1zM808 594h1v1h-1zM812 594h1v1h-1zM820 594h1v1h-1zM835 594h1v1h-1zM861 594h1v1h-1zM869 594h1v1h-1zM595 596h1v1h-1zM642 596h1v1h-1zM699 596h1v1h-1zM757 596h1v1h-1zM805 596h2v1h-2zM805 602h1v1h-1z"/>
<path fill="#fa9b3d" d="M714 586h1v1h-1zM737 586h1v1h-1zM740 586h1v1h-1zM742 586h2v1h-2zM745 586h1v1h-1zM817 586h2v1h-2zM848 586h1v1h-1zM855 586h1v1h-1zM705 588h1v1h-1zM737 588h1v1h-1zM743 588h1v1h-1zM749 588h2v1h-2zM758 588h1v1h-1zM765 588h2v1h-2zM770 588h1v1h-1zM787 588h1v1h-1zM793 588h3v1h-3zM801 588h2v1h-2zM809 588h1v1h-1zM813 588h1v1h-1zM816 588h2v1h-2zM823 588h1v1h-1zM832 588h1v1h-1zM834 588h1v1h-1zM847 588h1v1h-1zM850 588h1v1h-1zM852 588h2v1h-2zM868 588h1v1h-1zM683 590h1v1h-1zM704 590h1v1h-1zM706 590h1v1h-1zM736 590h1v1h-1zM751 590h1v1h-1zM753 590h1v1h-1zM788 590h1v1h-1zM808 590h1v1h-1zM822 590h1v1h-1zM842 590h1v1h-1zM589 594h1v1h-1zM629 594h1v1h-1zM685 594h1v1h-1zM705 594h1v1h-1zM713 594h1v1h-1zM742 594h2v1h-2zM797 594h1v1h-1zM821 594h1v1h-1zM827 594h2v1h-2zM848 594h1v1h-1zM587 596h1v1h-1zM616 596h1v1h-1zM673 596h1v1h-1zM689 596h1v1h-1zM737 596h1v1h-1zM765 596h1v1h-1zM834 596h1v1h-1zM767 598h1v1h-1zM586 600h1v1h-1zM593 600h1v1h-1zM865 600h1v1h-1z"/>
<path fill="#fba238" d="M744 586h1v1h-1zM736 588h1v1h-1zM742 588h1v1h-1zM745 588h1v1h-1zM748 588h1v1h-1zM763 588h2v1h-2zM820 588h1v1h-1zM822 588h1v1h-1zM831 588h1v1h-1zM833 588h1v1h-1zM845 588h1v1h-1zM855 588h1v1h-1zM719 590h1v1h-1zM728 590h1v1h-1zM734 590h1v1h-1zM752 590h1v1h-1zM773 590h1v1h-1zM785 590h3v1h-3zM803 590h1v1h-1zM814 590h1v1h-1zM821 590h1v1h-1zM824 590h1v1h-1zM833 590h1v1h-1zM835 590h1v1h-1zM840 590h1v1h-1zM843 590h1v1h-1zM855 590h1v1h-1zM817 594h1v1h-1zM819 594h1v1h-1zM847 594h1v1h-1zM818 596h1v1h-1zM586 598h1v1h-1zM671 600h1v1h-1zM781 600h1v1h-1zM719 602h1v1h-1zM724 602h1v1h-1zM650 606h1v1h-1zM617 608h1v1h-1zM765 608h1v1h-1zM608 619h1v1h-1zM616 619h1v1h-1zM641 619h4v1h-4zM647 619h1v1h-1zM652 619h1v1h-1zM659 619h1v1h-1zM661 619h1v1h-1zM701 619h1v1h-1zM726 619h1v1h-1zM731 619h1v1h-1zM751 619h2v1h-2zM768 619h1v1h-1zM770 619h1v1h-1zM778 619h1v1h-1zM788 619h1v1h-1zM806 619h1v1h-1zM840 619h2v1h-2zM860 619h1v1h-1zM862 619h2v1h-2zM640 621h2v1h-2z"/>
<path fill="#fca934" d="M819 588h1v1h-1zM829 588h2v1h-2zM718 590h1v1h-1zM722 590h1v1h-1zM745 590h1v1h-1zM798 590h1v1h-1zM800 590h1v1h-1zM828 590h1v1h-1zM834 590h1v1h-1zM851 590h2v1h-2zM868 590h1v1h-1zM723 600h1v1h-1zM741 600h1v1h-1zM588 602h1v1h-1zM742 602h1v1h-1zM866 602h1v1h-1zM694 606h1v1h-1zM614 608h1v1h-1zM721 608h1v1h-1zM767 612h1v1h-1zM585 619h2v1h-2zM592 619h2v1h-2zM595 619h1v1h-1zM601 619h3v1h-3zM606 619h1v1h-1zM612 619h2v1h-2zM618 619h4v1h-4zM623 619h2v1h-2zM626 619h1v1h-1zM628 619h1v1h-1zM633 619h1v1h-1zM635 619h3v1h-3zM645 619h2v1h-2zM651 619h1v1h-1zM654 619h2v1h-2zM663 619h2v1h-2zM667 619h2v1h-2zM670 619h1v1h-1zM674 619h1v1h-1zM690 619h1v1h-1zM693 619h1v1h-1zM696 619h5v1h-5zM702 619h1v1h-1zM704 619h1v1h-1zM707 619h2v1h-2zM710 619h1v1h-1zM714 619h1v1h-1zM718 619h1v1h-1zM721 619h5v1h-5zM728 619h2v1h-2zM732 619h1v1h-1zM749 619h1v1h-1zM753 619h1v1h-1zM759 619h1v1h-1zM761 619h1v1h-1zM765 619h1v1h-1zM771 619h5v1h-5zM780 619h1v1h-1zM782 619h1v1h-1zM784 619h1v1h-1zM791 619h1v1h-1zM801 619h2v1h-2zM805 619h1v1h-1zM812 619h1v1h-1zM814 619h1v1h-1zM825 619h1v1h-1zM835 619h3v1h-3zM839 619h1v1h-1zM842 619h1v1h-1zM847 619h2v1h-2zM861 619h1v1h-1zM864 619h2v1h-2zM600 621h2v1h-2zM604 621h1v1h-1zM607 621h2v1h-2zM642 621h4v1h-4zM647 621h1v1h-1zM653 621h1v1h-1zM656 621h1v1h-1zM660 621h2v1h-2zM699 621h1v1h-1zM701 621h2v1h-2zM720 621h1v1h-1zM733 621h1v1h-1zM752 621h1v1h-1zM756 621h1v1h-1zM759 621h1v1h-1zM762 621h1v1h-1zM773 621h1v1h-1zM779 621h1v1h-1zM803 621h1v1h-1zM807 621h2v1h-2zM837 621h1v1h-1zM864 621h1v1h-1zM639 623h1v1h-1zM642 623h1v1h-1zM659 623h1v1h-1zM701 623h1v1h-1zM862 623h1v1h-1zM864 623h1v1h-1z"/>
<path fill="#fdb22f" d="M857 588h1v1h-1zM740 590h1v1h-1zM832 590h1v1h-1zM591 612h1v1h-1zM800 612h1v1h-1zM589 619h1v1h-1zM611 619h1v1h-1zM614 619h1v1h-1zM630 619h1v1h-1zM632 619h1v1h-1zM650 619h1v1h-1zM656 619h1v1h-1zM665 619h1v1h-1zM669 619h1v1h-1zM671 619h1v1h-1zM676 619h1v1h-1zM684 619h2v1h-2zM688 619h1v1h-1zM691 619h1v1h-1zM694 619h1v1h-1zM703 619h1v1h-1zM706 619h1v1h-1zM716 619h2v1h-2zM719 619h2v1h-2zM727 619h1v1h-1zM733 619h4v1h-4zM739 619h1v1h-1zM747 619h2v1h-2zM754 619h1v1h-1zM757 619h2v1h-2zM760 619h1v1h-1zM762 619h1v1h-1zM764 619h1v1h-1zM767 619h1v1h-1zM769 619h1v1h-1zM783 619h1v1h-1zM787 619h1v1h-1zM789 619h1v1h-1zM792 619h1v1h-1zM796 619h4v1h-4zM804 619h1v1h-1zM811 619h1v1h-1zM813 619h1v1h-1zM816 619h1v1h-1zM819 619h1v1h-1zM822 619h1v1h-1zM824 619h1v1h-1zM830 619h1v1h-1zM833 619h1v1h-1zM844 619h2v1h-2zM851 619h1v1h-1zM854 619h3v1h-3zM867 619h1v1h-1zM869 619h2v1h-2zM585 621h1v1h-1zM588 621h1v1h-1zM590 621h2v1h-2zM593 621h1v1h-1zM595 621h4v1h-4zM602 621h2v1h-2zM606 621h1v1h-1zM610 621h1v1h-1zM613 621h6v1h-6zM620 621h2v1h-2zM623 621h3v1h-3zM633 621h2v1h-2zM636 621h1v1h-1zM638 621h1v1h-1zM646 621h1v1h-1zM648 621h1v1h-1zM650 621h3v1h-3zM654 621h2v1h-2zM663 621h1v1h-1zM665 621h2v1h-2zM668 621h1v1h-1zM672 621h3v1h-3zM687 621h2v1h-2zM690 621h1v1h-1zM692 621h6v1h-6zM700 621h1v1h-1zM703 621h2v1h-2zM706 621h1v1h-1zM708 621h1v1h-1zM711 621h1v1h-1zM715 621h1v1h-1zM719 621h1v1h-1zM723 621h1v1h-1zM725 621h3v1h-3zM729 621h2v1h-2zM732 621h1v1h-1zM735 621h1v1h-1zM738 621h2v1h-2zM748 621h3v1h-3zM754 621h1v1h-1zM760 621h2v1h-2zM763 621h2v1h-2zM767 621h3v1h-3zM772 621h1v1h-1zM776 621h2v1h-2zM780 621h5v1h-5zM786 621h2v1h-2zM792 621h1v1h-1zM794 621h1v1h-1zM801 621h2v1h-2zM804 621h2v1h-2zM809 621h3v1h-3zM813 621h1v1h-1zM815 621h1v1h-1zM818 621h1v1h-1zM823 621h3v1h-3zM827 621h2v1h-2zM833 621h1v1h-1zM836 621h1v1h-1zM838 621h5v1h-5zM847 621h1v1h-1zM850 621h4v1h-4zM859 621h1v1h-1zM863 621h1v1h-1zM865 621h3v1h-3zM588 623h1v1h-1zM596 623h1v1h-1zM601 623h1v1h-1zM604 623h1v1h-1zM606 623h1v1h-1zM613 623h2v1h-2zM617 623h2v1h-2zM622 623h1v1h-1zM638 623h1v1h-1zM640 623h1v1h-1zM644 623h1v1h-1zM654 623h3v1h-3zM658 623h1v1h-1zM661 623h2v1h-2zM666 623h2v1h-2zM707 623h1v1h-1zM709 623h2v1h-2zM713 623h1v1h-1zM722 623h1v1h-1zM724 623h1v1h-1zM729 623h1v1h-1zM731 623h1v1h-1zM733 623h1v1h-1zM749 623h1v1h-1zM751 623h2v1h-2zM756 623h1v1h-1zM759 623h1v1h-1zM762 623h1v1h-1zM768 623h2v1h-2zM771 623h4v1h-4zM776 623h1v1h-1zM778 623h1v1h-1zM780 623h1v1h-1zM784 623h3v1h-3zM788 623h1v1h-1zM804 623h2v1h-2zM808 623h2v1h-2zM826 623h1v1h-1zM833 623h1v1h-1zM839 623h1v1h-1zM850 623h1v1h-1zM859 623h1v1h-1zM861 623h1v1h-1zM866 623h1v1h-1zM598 625h1v1h-1zM809 625h1v1h-1z"/>
<path fill="#feba2c" d="M610 619h1v1h-1zM629 619h1v1h-1zM631 619h1v1h-1zM677 619h2v1h-2zM686 619h1v1h-1zM738 619h1v1h-1zM741 619h2v1h-2zM744 619h2v1h-2zM779 619h1v1h-1zM817 619h1v1h-1zM820 619h1v1h-1zM826 619h1v1h-1zM832 619h1v1h-1zM843 619h1v1h-1zM853 619h1v1h-1zM628 621h2v1h-2zM631 621h2v1h-2zM667 621h1v1h-1zM669 621h1v1h-1zM675 621h1v1h-1zM677 621h1v1h-1zM682 621h1v1h-1zM684 621h1v1h-1zM686 621h1v1h-1zM689 621h1v1h-1zM698 621h1v1h-1zM705 621h1v1h-1zM709 621h1v1h-1zM712 621h3v1h-3zM722 621h1v1h-1zM724 621h1v1h-1zM734 621h1v1h-1zM736 621h1v1h-1zM742 621h5v1h-5zM757 621h2v1h-2zM785 621h1v1h-1zM793 621h1v1h-1zM796 621h3v1h-3zM800 621h1v1h-1zM812 621h1v1h-1zM814 621h1v1h-1zM817 621h1v1h-1zM819 621h3v1h-3zM826 621h1v1h-1zM831 621h2v1h-2zM834 621h1v1h-1zM844 621h2v1h-2zM848 621h2v1h-2zM857 621h1v1h-1zM860 621h1v1h-1zM868 621h3v1h-3zM585 623h1v1h-1zM589 623h1v1h-1zM593 623h2v1h-2zM598 623h3v1h-3zM602 623h2v1h-2zM607 623h2v1h-2zM611 623h1v1h-1zM616 623h1v1h-1zM619 623h1v1h-1zM623 623h2v1h-2zM626 623h5v1h-5zM632 623h1v1h-1zM635 623h3v1h-3zM646 623h1v1h-1zM649 623h5v1h-5zM669 623h4v1h-4zM674 623h3v1h-3zM678 623h1v1h-1zM687 623h1v1h-1zM689 623h3v1h-3zM694 623h2v1h-2zM699 623h2v1h-2zM702 623h2v1h-2zM705 623h2v1h-2zM708 623h1v1h-1zM711 623h2v1h-2zM716 623h1v1h-1zM718 623h2v1h-2zM721 623h1v1h-1zM725 623h1v1h-1zM727 623h2v1h-2zM730 623h1v1h-1zM734 623h4v1h-4zM739 623h1v1h-1zM748 623h1v1h-1zM750 623h1v1h-1zM753 623h2v1h-2zM760 623h1v1h-1zM764 623h3v1h-3zM770 623h1v1h-1zM775 623h1v1h-1zM779 623h1v1h-1zM781 623h1v1h-1zM783 623h1v1h-1zM787 623h1v1h-1zM789 623h6v1h-6zM796 623h1v1h-1zM798 623h1v1h-1zM801 623h3v1h-3zM810 623h3v1h-3zM815 623h1v1h-1zM817 623h1v1h-1zM819 623h1v1h-1zM822 623h2v1h-2zM825 623h1v1h-1zM832 623h1v1h-1zM834 623h1v1h-1zM836 623h1v1h-1zM841 623h1v1h-1zM843 623h2v1h-2zM846 623h1v1h-1zM848 623h2v1h-2zM852 623h3v1h-3zM857 623h1v1h-1zM868 623h1v1h-1zM599 625h1v1h-1zM602 625h2v1h-2zM614 625h1v1h-1zM620 625h2v1h-2zM638 625h1v1h-1zM641 625h2v1h-2zM644 625h2v1h-2zM647 625h1v1h-1zM653 625h1v1h-1zM657 625h1v1h-1zM659 625h2v1h-2zM663 625h1v1h-1zM701 625h1v1h-1zM703 625h2v1h-2zM712 625h1v1h-1zM714 625h1v1h-1zM725 625h1v1h-1zM730 625h1v1h-1zM750 625h3v1h-3zM760 625h1v1h-1zM770 625h2v1h-2zM773 625h1v1h-1zM787 625h1v1h-1zM792 625h1v1h-1zM803 625h2v1h-2zM808 625h1v1h-1zM810 625h1v1h-1zM837 625h1v1h-1zM840 625h1v1h-1zM850 625h1v1h-1zM862 625h1v1h-1zM864 625h2v1h-2zM636 627h1v1h-1zM641 627h1v1h-1zM662 627h1v1h-1zM775 627h1v1h-1zM806 627h1v1h-1zM864 627h1v1h-1z"/>
<path fill="#fdc328" d="M682 619h1v1h-1zM630 621h1v1h-1zM670 621h1v1h-1zM678 621h1v1h-1zM683 621h1v1h-1zM685 621h1v1h-1zM829 621h1v1h-1zM590 623h1v1h-1zM592 623h1v1h-1zM609 623h1v1h-1zM631 623h1v1h-1zM633 623h1v1h-1zM677 623h1v1h-1zM679 623h2v1h-2zM682 623h2v1h-2zM685 623h1v1h-1zM693 623h1v1h-1zM696 623h1v1h-1zM698 623h1v1h-1zM738 623h1v1h-1zM741 623h1v1h-1zM744 623h2v1h-2zM761 623h1v1h-1zM795 623h1v1h-1zM797 623h1v1h-1zM813 623h1v1h-1zM816 623h1v1h-1zM818 623h1v1h-1zM820 623h1v1h-1zM828 623h2v1h-2zM831 623h1v1h-1zM847 623h1v1h-1zM869 623h2v1h-2zM587 625h1v1h-1zM594 625h2v1h-2zM597 625h1v1h-1zM600 625h1v1h-1zM604 625h1v1h-1zM607 625h2v1h-2zM611 625h1v1h-1zM613 625h1v1h-1zM615 625h2v1h-2zM619 625h1v1h-1zM624 625h1v1h-1zM626 625h1v1h-1zM631 625h1v1h-1zM635 625h1v1h-1zM637 625h1v1h-1zM640 625h1v1h-1zM643 625h1v1h-1zM646 625h1v1h-1zM648 625h1v1h-1zM652 625h1v1h-1zM654 625h1v1h-1zM662 625h1v1h-1zM664 625h2v1h-2zM671 625h2v1h-2zM675 625h2v1h-2zM686 625h1v1h-1zM688 625h1v1h-1zM690 625h3v1h-3zM697 625h2v1h-2zM702 625h1v1h-1zM707 625h5v1h-5zM713 625h1v1h-1zM715 625h2v1h-2zM720 625h1v1h-1zM724 625h1v1h-1zM727 625h1v1h-1zM731 625h1v1h-1zM734 625h2v1h-2zM738 625h2v1h-2zM748 625h1v1h-1zM756 625h1v1h-1zM758 625h1v1h-1zM761 625h2v1h-2zM764 625h4v1h-4zM769 625h1v1h-1zM775 625h1v1h-1zM777 625h10v1h-10zM790 625h1v1h-1zM793 625h1v1h-1zM797 625h1v1h-1zM802 625h1v1h-1zM805 625h2v1h-2zM812 625h3v1h-3zM823 625h1v1h-1zM825 625h3v1h-3zM832 625h1v1h-1zM834 625h3v1h-3zM838 625h2v1h-2zM841 625h3v1h-3zM845 625h1v1h-1zM847 625h2v1h-2zM851 625h1v1h-1zM854 625h1v1h-1zM856 625h1v1h-1zM858 625h1v1h-1zM861 625h1v1h-1zM866 625h2v1h-2zM590 627h1v1h-1zM598 627h1v1h-1zM604 627h1v1h-1zM608 627h1v1h-1zM614 627h2v1h-2zM638 627h2v1h-2zM642 627h3v1h-3zM647 627h1v1h-1zM654 627h2v1h-2zM657 627h2v1h-2zM660 627h2v1h-2zM693 627h1v1h-1zM704 627h1v1h-1zM719 627h1v1h-1zM728 627h1v1h-1zM763 627h4v1h-4zM771 627h3v1h-3zM776 627h1v1h-1zM781 627h1v1h-1zM793 627h1v1h-1zM805 627h1v1h-1zM807 627h3v1h-3zM838 627h1v1h-1zM857 627h1v1h-1zM862 627h1v1h-1z"/>
<path fill="#fdcb26" d="M681 623h1v1h-1zM684 623h1v1h-1zM740 623h1v1h-1zM592 625h2v1h-2zM612 625h1v1h-1zM618 625h1v1h-1zM627 625h1v1h-1zM630 625h1v1h-1zM632 625h1v1h-1zM651 625h1v1h-1zM677 625h4v1h-4zM682 625h1v1h-1zM684 625h1v1h-1zM687 625h1v1h-1zM689 625h1v1h-1zM694 625h1v1h-1zM696 625h1v1h-1zM706 625h1v1h-1zM728 625h1v1h-1zM732 625h1v1h-1zM740 625h2v1h-2zM744 625h1v1h-1zM746 625h1v1h-1zM749 625h1v1h-1zM794 625h1v1h-1zM796 625h1v1h-1zM816 625h1v1h-1zM818 625h3v1h-3zM824 625h1v1h-1zM829 625h2v1h-2zM833 625h1v1h-1zM846 625h1v1h-1zM849 625h1v1h-1zM852 625h2v1h-2zM855 625h1v1h-1zM868 625h1v1h-1zM870 625h1v1h-1zM587 627h1v1h-1zM591 627h1v1h-1zM594 627h1v1h-1zM599 627h1v1h-1zM603 627h1v1h-1zM612 627h2v1h-2zM617 627h1v1h-1zM621 627h1v1h-1zM623 627h1v1h-1zM625 627h1v1h-1zM628 627h1v1h-1zM630 627h6v1h-6zM649 627h2v1h-2zM663 627h1v1h-1zM665 627h2v1h-2zM675 627h2v1h-2zM679 627h1v1h-1zM686 627h2v1h-2zM689 627h1v1h-1zM692 627h1v1h-1zM695 627h3v1h-3zM699 627h2v1h-2zM703 627h1v1h-1zM706 627h2v1h-2zM709 627h2v1h-2zM714 627h2v1h-2zM717 627h1v1h-1zM721 627h5v1h-5zM735 627h2v1h-2zM738 627h1v1h-1zM748 627h1v1h-1zM750 627h1v1h-1zM753 627h2v1h-2zM758 627h2v1h-2zM762 627h1v1h-1zM770 627h1v1h-1zM777 627h4v1h-4zM782 627h2v1h-2zM788 627h1v1h-1zM792 627h1v1h-1zM796 627h1v1h-1zM801 627h1v1h-1zM811 627h1v1h-1zM813 627h1v1h-1zM815 627h1v1h-1zM820 627h1v1h-1zM822 627h2v1h-2zM827 627h2v1h-2zM831 627h1v1h-1zM834 627h2v1h-2zM837 627h1v1h-1zM841 627h4v1h-4zM846 627h2v1h-2zM851 627h1v1h-1zM858 627h2v1h-2zM861 627h1v1h-1zM865 627h1v1h-1zM869 627h1v1h-1zM585 629h1v1h-1zM589 629h1v1h-1zM592 629h1v1h-1zM598 629h2v1h-2zM603 629h1v1h-1zM605 629h1v1h-1zM614 629h2v1h-2zM618 629h2v1h-2zM623 629h1v1h-1zM633 629h5v1h-5zM639 629h1v1h-1zM641 629h4v1h-4zM646 629h1v1h-1zM653 629h1v1h-1zM656 629h4v1h-4zM663 629h2v1h-2zM669 629h1v1h-1zM675 629h1v1h-1zM690 629h1v1h-1zM693 629h1v1h-1zM697 629h1v1h-1zM699 629h1v1h-1zM702 629h1v1h-1zM704 629h1v1h-1zM717 629h1v1h-1zM723 629h1v1h-1zM725 629h3v1h-3zM729 629h2v1h-2zM732 629h1v1h-1zM750 629h2v1h-2zM754 629h4v1h-4zM759 629h1v1h-1zM762 629h1v1h-1zM769 629h2v1h-2zM774 629h1v1h-1zM780 629h1v1h-1zM784 629h1v1h-1zM786 629h1v1h-1zM792 629h1v1h-1zM804 629h3v1h-3zM815 629h1v1h-1zM824 629h1v1h-1zM836 629h2v1h-2zM842 629h1v1h-1zM859 629h8v1h-8zM599 631h1v1h-1zM605 631h1v1h-1zM640 631h1v1h-1zM642 639h1v1h-1z"/>
<path fill="#fbd324" d="M681 625h1v1h-1zM745 625h1v1h-1zM817 625h1v1h-1zM592 627h2v1h-2zM610 627h2v1h-2zM678 627h1v1h-1zM680 627h1v1h-1zM684 627h2v1h-2zM716 627h1v1h-1zM739 627h1v1h-1zM741 627h1v1h-1zM746 627h1v1h-1zM790 627h1v1h-1zM795 627h1v1h-1zM802 627h1v1h-1zM812 627h1v1h-1zM825 627h1v1h-1zM829 627h2v1h-2zM845 627h1v1h-1zM849 627h2v1h-2zM856 627h1v1h-1zM586 629h2v1h-2zM591 629h1v1h-1zM593 629h1v1h-1zM597 629h1v1h-1zM607 629h1v1h-1zM609 629h1v1h-1zM611 629h3v1h-3zM616 629h1v1h-1zM620 629h3v1h-3zM624 629h2v1h-2zM627 629h4v1h-4zM632 629h1v1h-1zM640 629h1v1h-1zM647 629h2v1h-2zM650 629h3v1h-3zM655 629h1v1h-1zM660 629h3v1h-3zM665 629h3v1h-3zM670 629h2v1h-2zM673 629h1v1h-1zM676 629h3v1h-3zM684 629h5v1h-5zM691 629h2v1h-2zM696 629h1v1h-1zM698 629h1v1h-1zM700 629h2v1h-2zM703 629h1v1h-1zM705 629h4v1h-4zM710 629h1v1h-1zM713 629h1v1h-1zM715 629h1v1h-1zM718 629h4v1h-4zM728 629h1v1h-1zM731 629h1v1h-1zM733 629h2v1h-2zM736 629h2v1h-2zM739 629h1v1h-1zM743 629h3v1h-3zM747 629h2v1h-2zM753 629h1v1h-1zM760 629h2v1h-2zM764 629h1v1h-1zM766 629h1v1h-1zM768 629h1v1h-1zM771 629h1v1h-1zM775 629h5v1h-5zM782 629h1v1h-1zM785 629h1v1h-1zM789 629h3v1h-3zM793 629h2v1h-2zM796 629h3v1h-3zM801 629h3v1h-3zM811 629h2v1h-2zM814 629h1v1h-1zM816 629h2v1h-2zM819 629h1v1h-1zM822 629h2v1h-2zM825 629h1v1h-1zM829 629h1v1h-1zM832 629h1v1h-1zM834 629h2v1h-2zM838 629h1v1h-1zM840 629h1v1h-1zM843 629h1v1h-1zM845 629h3v1h-3zM849 629h10v1h-10zM867 629h1v1h-1zM869 629h2v1h-2zM587 631h1v1h-1zM595 631h1v1h-1zM597 631h1v1h-1zM601 631h2v1h-2zM613 631h3v1h-3zM624 631h5v1h-5zM632 631h1v1h-1zM635 631h2v1h-2zM638 631h2v1h-2zM643 631h6v1h-6zM652 631h1v1h-1zM655 631h2v1h-2zM660 631h2v1h-2zM664 631h3v1h-3zM672 631h1v1h-1zM676 631h1v1h-1zM698 631h1v1h-1zM701 631h2v1h-2zM706 631h1v1h-1zM708 631h1v1h-1zM711 631h2v1h-2zM715 631h1v1h-1zM721 631h2v1h-2zM728 631h1v1h-1zM732 631h2v1h-2zM737 631h1v1h-1zM747 631h2v1h-2zM751 631h2v1h-2zM762 631h1v1h-1zM766 631h1v1h-1zM773 631h1v1h-1zM790 631h1v1h-1zM794 631h1v1h-1zM802 631h4v1h-4zM807 631h1v1h-1zM812 631h1v1h-1zM827 631h1v1h-1zM849 631h2v1h-2zM852 631h2v1h-2zM855 631h1v1h-1zM860 631h3v1h-3zM865 631h1v1h-1zM869 631h1v1h-1zM599 633h1v1h-1zM602 633h1v1h-1zM634 633h1v1h-1zM637 633h1v1h-1zM646 633h1v1h-1zM659 633h1v1h-1zM670 633h1v1h-1zM698 633h2v1h-2zM762 633h1v1h-1zM769 633h1v1h-1zM771 633h1v1h-1zM806 633h1v1h-1zM840 633h2v1h-2zM862 633h1v1h-1zM783 635h1v1h-1zM640 637h1v1h-1zM644 637h1v1h-1zM660 637h1v1h-1zM697 639h1v1h-1zM718 639h1v1h-1zM734 639h1v1h-1zM745 639h1v1h-1zM599 641h1v1h-1zM659 641h1v1h-1zM810 641h1v1h-1zM851 641h1v1h-1zM774 643h1v1h-1zM812 643h1v1h-1zM859 643h1v1h-1zM658 647h1v1h-1z"/>
<path fill="#f9dd25" d="M683 625h1v1h-1zM588 629h1v1h-1zM590 629h1v1h-1zM681 629h3v1h-3zM749 629h1v1h-1zM758 629h1v1h-1zM820 629h1v1h-1zM585 631h2v1h-2zM594 631h1v1h-1zM610 631h1v1h-1zM623 631h1v1h-1zM629 631h2v1h-2zM633 631h1v1h-1zM668 631h1v1h-1zM675 631h1v1h-1zM678 631h1v1h-1zM681 631h1v1h-1zM684 631h1v1h-1zM694 631h1v1h-1zM707 631h1v1h-1zM714 631h1v1h-1zM718 631h1v1h-1zM736 631h1v1h-1zM743 631h1v1h-1zM746 631h1v1h-1zM749 631h1v1h-1zM759 631h1v1h-1zM763 631h1v1h-1zM789 631h1v1h-1zM791 631h1v1h-1zM816 631h1v1h-1zM820 631h1v1h-1zM825 631h1v1h-1zM833 631h2v1h-2zM846 631h1v1h-1zM851 631h1v1h-1zM866 631h1v1h-1zM868 631h1v1h-1zM870 631h1v1h-1zM594 633h2v1h-2zM610 633h1v1h-1zM615 633h3v1h-3zM622 633h1v1h-1zM626 633h1v1h-1zM632 633h2v1h-2zM648 633h2v1h-2zM652 633h1v1h-1zM666 633h3v1h-3zM674 633h2v1h-2zM677 633h1v1h-1zM685 633h1v1h-1zM693 633h1v1h-1zM715 633h3v1h-3zM720 633h1v1h-1zM724 633h1v1h-1zM727 633h1v1h-1zM734 633h1v1h-1zM739 633h1v1h-1zM749 633h2v1h-2zM757 633h1v1h-1zM763 633h1v1h-1zM767 633h2v1h-2zM776 633h2v1h-2zM790 633h1v1h-1zM797 633h1v1h-1zM803 633h1v1h-1zM824 633h3v1h-3zM831 633h1v1h-1zM849 633h1v1h-1zM851 633h1v1h-1zM853 633h2v1h-2zM860 633h2v1h-2zM865 633h2v1h-2zM868 633h1v1h-1zM870 633h1v1h-1zM595 635h1v1h-1zM700 635h1v1h-1zM793 635h1v1h-1zM862 635h1v1h-1zM585 637h1v1h-1zM593 637h1v1h-1zM604 637h1v1h-1zM619 637h1v1h-1zM621 637h1v1h-1zM634 637h2v1h-2zM638 637h1v1h-1zM648 637h1v1h-1zM665 637h1v1h-1zM693 637h1v1h-1zM695 637h1v1h-1zM698 637h1v1h-1zM701 637h1v1h-1zM717 637h2v1h-2zM730 637h1v1h-1zM732 637h2v1h-2zM753 637h1v1h-1zM769 637h2v1h-2zM774 637h1v1h-1zM787 637h1v1h-1zM791 637h1v1h-1zM795 637h1v1h-1zM800 637h1v1h-1zM803 637h2v1h-2zM807 637h2v1h-2zM840 637h1v1h-1zM843 637h2v1h-2zM846 637h1v1h-1zM626 639h1v1h-1zM695 639h1v1h-1zM826 639h1v1h-1zM856 639h1v1h-1zM868 639h1v1h-1zM610 641h1v1h-1zM626 641h1v1h-1zM742 641h1v1h-1zM791 641h1v1h-1zM620 643h1v1h-1zM629 643h1v1h-1zM669 643h1v1h-1zM593 647h1v1h-1zM732 647h1v1h-1zM768 647h1v1h-1zM592 649h1v1h-1zM624 649h1v1h-1zM633 649h1v1h-1zM647 649h1v1h-1zM659 649h1v1h-1zM692 649h1v1h-1zM712 649h1v1h-1zM748 649h1v1h-1zM766 649h1v1h-1zM774 649h3v1h-3zM780 649h1v1h-1zM853 649h1v1h-1zM659 650h1v1h-1zM726 650h1v1h-1zM729 650h1v1h-1zM733 650h1v1h-1zM752 650h1v1h-1zM755 650h1v1h-1zM759 650h1v1h-1zM786 650h1v1h-1zM788 650h1v1h-1zM804 650h1v1h-1zM841 650h1v1h-1zM857 650h1v1h-1zM864 650h1v1h-1zM603 652h1v1h-1zM618 652h1v1h-1zM636 652h3v1h-3zM641 652h3v1h-3zM645 652h2v1h-2zM650 652h2v1h-2zM655 652h4v1h-4zM662 652h1v1h-1zM694 652h1v1h-1zM721 652h1v1h-1zM732 652h1v1h-1zM766 652h1v1h-1zM768 652h2v1h-2zM774 652h1v1h-1zM784 652h1v1h-1zM804 652h1v1h-1zM859 652h1v1h-1zM864 652h1v1h-1zM600 653h1v1h-1zM613 653h1v1h-1zM617 653h1v1h-1zM640 653h1v1h-1zM642 653h1v1h-1zM654 653h1v1h-1zM660 653h2v1h-2zM670 653h1v1h-1zM699 653h1v1h-1zM713 653h1v1h-1zM720 653h1v1h-1zM728 653h1v1h-1zM750 653h1v1h-1zM768 653h5v1h-5zM806 653h1v1h-1zM860 653h1v1h-1zM862 653h2v1h-2zM639 666h1v1h-1z"/>
<path fill="#f6e626" d="M682 631h1v1h-1zM741 631h1v1h-1zM681 633h1v1h-1zM690 633h1v1h-1zM756 633h1v1h-1zM796 633h1v1h-1zM827 633h2v1h-2zM586 637h1v1h-1zM590 637h1v1h-1zM624 637h2v1h-2zM669 637h1v1h-1zM674 637h1v1h-1zM685 637h1v1h-1zM688 637h3v1h-3zM700 637h1v1h-1zM706 637h1v1h-1zM713 637h1v1h-1zM719 637h1v1h-1zM722 637h1v1h-1zM729 637h1v1h-1zM737 637h1v1h-1zM757 637h1v1h-1zM766 637h1v1h-1zM798 637h1v1h-1zM801 637h1v1h-1zM813 637h1v1h-1zM816 637h1v1h-1zM830 637h1v1h-1zM745 643h1v1h-1zM671 649h1v1h-1zM746 649h1v1h-1zM763 649h1v1h-1zM870 649h1v1h-1zM593 650h1v1h-1zM607 650h1v1h-1zM687 650h1v1h-1zM816 650h1v1h-1zM820 650h1v1h-1zM829 650h2v1h-2zM586 652h1v1h-1zM588 652h3v1h-3zM598 652h5v1h-5zM604 652h1v1h-1zM612 652h1v1h-1zM614 652h3v1h-3zM621 652h2v1h-2zM626 652h3v1h-3zM630 652h1v1h-1zM632 652h2v1h-2zM635 652h1v1h-1zM639 652h1v1h-1zM648 652h1v1h-1zM653 652h2v1h-2zM661 652h1v1h-1zM664 652h4v1h-4zM672 652h2v1h-2zM675 652h4v1h-4zM681 652h1v1h-1zM683 652h1v1h-1zM685 652h1v1h-1zM687 652h2v1h-2zM690 652h3v1h-3zM695 652h2v1h-2zM698 652h2v1h-2zM701 652h4v1h-4zM706 652h5v1h-5zM714 652h3v1h-3zM718 652h1v1h-1zM723 652h3v1h-3zM727 652h3v1h-3zM733 652h2v1h-2zM739 652h5v1h-5zM745 652h3v1h-3zM749 652h1v1h-1zM753 652h1v1h-1zM755 652h1v1h-1zM759 652h2v1h-2zM762 652h2v1h-2zM767 652h1v1h-1zM771 652h2v1h-2zM775 652h3v1h-3zM779 652h1v1h-1zM782 652h2v1h-2zM790 652h1v1h-1zM792 652h1v1h-1zM797 652h3v1h-3zM801 652h3v1h-3zM808 652h3v1h-3zM812 652h6v1h-6zM819 652h9v1h-9zM829 652h2v1h-2zM832 652h3v1h-3zM836 652h2v1h-2zM839 652h1v1h-1zM845 652h8v1h-8zM855 652h4v1h-4zM865 652h1v1h-1zM867 652h2v1h-2zM586 653h1v1h-1zM588 653h2v1h-2zM591 653h6v1h-6zM599 653h1v1h-1zM608 653h1v1h-1zM616 653h1v1h-1zM618 653h2v1h-2zM622 653h1v1h-1zM624 653h1v1h-1zM626 653h2v1h-2zM630 653h3v1h-3zM634 653h1v1h-1zM649 653h1v1h-1zM651 653h2v1h-2zM655 653h2v1h-2zM658 653h2v1h-2zM664 653h3v1h-3zM668 653h2v1h-2zM671 653h1v1h-1zM676 653h1v1h-1zM679 653h1v1h-1zM681 653h3v1h-3zM686 653h1v1h-1zM688 653h1v1h-1zM692 653h4v1h-4zM698 653h1v1h-1zM700 653h1v1h-1zM704 653h1v1h-1zM706 653h5v1h-5zM717 653h2v1h-2zM724 653h1v1h-1zM727 653h1v1h-1zM729 653h7v1h-7zM739 653h3v1h-3zM743 653h2v1h-2zM746 653h1v1h-1zM748 653h2v1h-2zM751 653h8v1h-8zM761 653h1v1h-1zM763 653h5v1h-5zM779 653h5v1h-5zM786 653h1v1h-1zM790 653h1v1h-1zM792 653h1v1h-1zM795 653h8v1h-8zM809 653h8v1h-8zM820 653h3v1h-3zM824 653h1v1h-1zM828 653h2v1h-2zM835 653h1v1h-1zM839 653h3v1h-3zM846 653h3v1h-3zM852 653h1v1h-1zM854 653h3v1h-3zM858 653h1v1h-1zM866 653h3v1h-3zM586 662h2v1h-2zM595 662h1v1h-1zM599 662h1v1h-1zM601 662h1v1h-1zM604 662h4v1h-4zM613 662h1v1h-1zM615 662h2v1h-2zM618 662h1v1h-1zM622 662h1v1h-1zM633 662h1v1h-1zM636 662h1v1h-1zM641 662h2v1h-2zM644 662h1v1h-1zM646 662h3v1h-3zM650 662h1v1h-1zM654 662h1v1h-1zM656 662h7v1h-7zM664 662h2v1h-2zM667 662h1v1h-1zM672 662h2v1h-2zM692 662h2v1h-2zM698 662h2v1h-2zM703 662h1v1h-1zM709 662h3v1h-3zM713 662h1v1h-1zM715 662h2v1h-2zM719 662h1v1h-1zM721 662h2v1h-2zM724 662h3v1h-3zM729 662h1v1h-1zM734 662h3v1h-3zM753 662h1v1h-1zM762 662h2v1h-2zM768 662h3v1h-3zM773 662h4v1h-4zM778 662h1v1h-1zM781 662h1v1h-1zM784 662h2v1h-2zM787 662h1v1h-1zM793 662h2v1h-2zM804 662h1v1h-1zM806 662h2v1h-2zM809 662h2v1h-2zM812 662h1v1h-1zM824 662h2v1h-2zM837 662h1v1h-1zM841 662h2v1h-2zM849 662h1v1h-1zM860 662h5v1h-5zM595 666h1v1h-1zM598 666h1v1h-1zM600 666h1v1h-1zM602 666h4v1h-4zM614 666h3v1h-3zM618 666h1v1h-1zM620 666h2v1h-2zM624 666h1v1h-1zM636 666h3v1h-3zM640 666h1v1h-1zM642 666h1v1h-1zM644 666h1v1h-1zM646 666h2v1h-2zM649 666h2v1h-2zM653 666h5v1h-5zM660 666h2v1h-2zM663 666h2v1h-2zM689 666h1v1h-1zM693 666h1v1h-1zM695 666h1v1h-1zM697 666h1v1h-1zM701 666h1v1h-1zM705 666h1v1h-1zM708 666h1v1h-1zM710 666h2v1h-2zM715 666h1v1h-1zM722 666h2v1h-2zM727 666h1v1h-1zM729 666h1v1h-1zM732 666h1v1h-1zM735 666h1v1h-1zM749 666h3v1h-3zM755 666h2v1h-2zM760 666h2v1h-2zM763 666h1v1h-1zM767 666h2v1h-2zM770 666h1v1h-1zM772 666h2v1h-2zM778 666h1v1h-1zM782 666h2v1h-2zM786 666h3v1h-3zM790 666h1v1h-1zM792 666h1v1h-1zM794 666h1v1h-1zM797 666h1v1h-1zM802 666h3v1h-3zM807 666h1v1h-1zM810 666h3v1h-3zM814 666h1v1h-1zM821 666h1v1h-1zM823 666h1v1h-1zM835 666h1v1h-1zM839 666h3v1h-3zM848 666h2v1h-2zM857 666h2v1h-2zM860 666h2v1h-2zM863 666h1v1h-1zM866 666h1v1h-1zM593 670h2v1h-2zM597 670h1v1h-1zM599 670h2v1h-2zM602 670h4v1h-4zM613 670h1v1h-1zM615 670h1v1h-1zM617 670h2v1h-2zM632 670h1v1h-1zM636 670h13v1h-13zM650 670h1v1h-1zM655 670h2v1h-2zM658 670h5v1h-5zM672 670h1v1h-1zM700 670h1v1h-1zM702 670h1v1h-1zM715 670h1v1h-1zM718 670h1v1h-1zM722 670h2v1h-2zM726 670h1v1h-1zM736 670h1v1h-1zM749 670h2v1h-2zM757 670h1v1h-1zM761 670h1v1h-1zM764 670h1v1h-1zM768 670h8v1h-8zM779 670h2v1h-2zM782 670h1v1h-1zM784 670h2v1h-2zM802 670h6v1h-6zM823 670h1v1h-1zM842 670h1v1h-1zM859 670h6v1h-6zM597 672h2v1h-2zM603 672h2v1h-2zM607 672h1v1h-1zM615 672h2v1h-2zM623 672h1v1h-1zM637 672h2v1h-2zM640 672h2v1h-2zM643 672h1v1h-1zM645 672h3v1h-3zM649 672h1v1h-1zM656 672h1v1h-1zM658 672h1v1h-1zM660 672h1v1h-1zM664 672h1v1h-1zM694 672h1v1h-1zM703 672h1v1h-1zM715 672h1v1h-1zM719 672h1v1h-1zM724 672h3v1h-3zM728 672h1v1h-1zM730 672h1v1h-1zM750 672h2v1h-2zM769 672h2v1h-2zM776 672h1v1h-1zM779 672h1v1h-1zM785 672h1v1h-1zM805 672h2v1h-2zM812 672h1v1h-1zM825 672h1v1h-1zM837 672h1v1h-1zM845 672h1v1h-1zM861 672h1v1h-1zM865 672h2v1h-2zM601 673h1v1h-1zM603 673h2v1h-2zM606 673h1v1h-1zM612 673h1v1h-1zM616 673h2v1h-2zM621 673h1v1h-1zM623 673h1v1h-1zM632 673h1v1h-1zM636 673h2v1h-2zM639 673h2v1h-2zM644 673h2v1h-2zM649 673h1v1h-1zM654 673h1v1h-1zM662 673h1v1h-1zM667 673h1v1h-1zM688 673h2v1h-2zM692 673h2v1h-2zM697 673h1v1h-1zM707 673h1v1h-1zM711 673h3v1h-3zM715 673h1v1h-1zM720 673h1v1h-1zM724 673h1v1h-1zM726 673h1v1h-1zM728 673h2v1h-2zM736 673h1v1h-1zM745 673h1v1h-1zM771 673h1v1h-1zM774 673h1v1h-1zM777 673h1v1h-1zM780 673h1v1h-1zM786 673h1v1h-1zM792 673h1v1h-1zM804 673h1v1h-1zM806 673h3v1h-3zM840 673h1v1h-1zM846 673h1v1h-1zM860 673h1v1h-1zM863 673h1v1h-1zM596 674h1v1h-1zM603 674h1v1h-1zM607 674h1v1h-1zM617 674h2v1h-2zM635 674h3v1h-3zM643 674h1v1h-1zM645 674h3v1h-3zM650 674h1v1h-1zM658 674h5v1h-5zM666 674h1v1h-1zM689 674h1v1h-1zM691 674h1v1h-1zM697 674h1v1h-1zM700 674h1v1h-1zM704 674h1v1h-1zM731 674h1v1h-1zM735 674h1v1h-1zM754 674h1v1h-1zM759 674h1v1h-1zM762 674h3v1h-3zM770 674h1v1h-1zM777 674h1v1h-1zM779 674h1v1h-1zM783 674h1v1h-1zM788 674h1v1h-1zM806 674h1v1h-1zM808 674h1v1h-1zM837 674h1v1h-1zM861 674h1v1h-1zM863 674h1v1h-1zM666 678h1v1h-1zM806 692h1v1h-1zM594 694h1v1h-1zM597 694h1v1h-1zM602 694h1v1h-1zM637 694h1v1h-1zM641 694h1v1h-1zM643 694h1v1h-1zM647 694h1v1h-1zM658 694h1v1h-1zM662 694h1v1h-1zM729 694h1v1h-1zM773 694h1v1h-1zM805 694h1v1h-1zM860 694h1v1h-1zM807 715h1v1h-1z"/>
<path fill="#f3ee27" d="M682 637h1v1h-1zM679 652h1v1h-1zM684 652h1v1h-1zM680 653h1v1h-1zM742 653h1v1h-1zM585 662h1v1h-1zM588 662h7v1h-7zM598 662h1v1h-1zM603 662h1v1h-1zM608 662h3v1h-3zM621 662h1v1h-1zM623 662h8v1h-8zM632 662h1v1h-1zM666 662h1v1h-1zM668 662h3v1h-3zM674 662h1v1h-1zM677 662h3v1h-3zM685 662h5v1h-5zM691 662h1v1h-1zM694 662h3v1h-3zM704 662h4v1h-4zM717 662h2v1h-2zM720 662h1v1h-1zM723 662h1v1h-1zM728 662h1v1h-1zM732 662h2v1h-2zM737 662h3v1h-3zM742 662h2v1h-2zM745 662h3v1h-3zM750 662h3v1h-3zM757 662h1v1h-1zM764 662h1v1h-1zM777 662h1v1h-1zM779 662h2v1h-2zM782 662h2v1h-2zM789 662h3v1h-3zM796 662h2v1h-2zM799 662h5v1h-5zM808 662h1v1h-1zM811 662h1v1h-1zM813 662h5v1h-5zM819 662h1v1h-1zM821 662h2v1h-2zM827 662h3v1h-3zM832 662h4v1h-4zM838 662h1v1h-1zM844 662h3v1h-3zM848 662h1v1h-1zM853 662h1v1h-1zM857 662h3v1h-3zM865 662h2v1h-2zM868 662h3v1h-3zM587 666h1v1h-1zM589 666h2v1h-2zM592 666h2v1h-2zM596 666h1v1h-1zM609 666h3v1h-3zM613 666h1v1h-1zM627 666h3v1h-3zM632 666h1v1h-1zM648 666h1v1h-1zM665 666h1v1h-1zM670 666h2v1h-2zM673 666h2v1h-2zM677 666h1v1h-1zM679 666h1v1h-1zM682 666h3v1h-3zM686 666h2v1h-2zM698 666h1v1h-1zM702 666h1v1h-1zM706 666h2v1h-2zM709 666h1v1h-1zM712 666h2v1h-2zM718 666h2v1h-2zM724 666h1v1h-1zM731 666h1v1h-1zM734 666h1v1h-1zM737 666h1v1h-1zM740 666h3v1h-3zM746 666h2v1h-2zM757 666h3v1h-3zM766 666h1v1h-1zM769 666h1v1h-1zM775 666h1v1h-1zM781 666h1v1h-1zM784 666h1v1h-1zM791 666h1v1h-1zM793 666h1v1h-1zM798 666h2v1h-2zM808 666h2v1h-2zM815 666h5v1h-5zM822 666h1v1h-1zM824 666h5v1h-5zM830 666h5v1h-5zM842 666h4v1h-4zM852 666h2v1h-2zM855 666h2v1h-2zM859 666h1v1h-1zM868 666h3v1h-3zM585 670h2v1h-2zM588 670h2v1h-2zM591 670h2v1h-2zM595 670h2v1h-2zM601 670h1v1h-1zM607 670h1v1h-1zM609 670h4v1h-4zM622 670h2v1h-2zM625 670h1v1h-1zM627 670h4v1h-4zM633 670h1v1h-1zM649 670h1v1h-1zM651 670h4v1h-4zM665 670h6v1h-6zM673 670h7v1h-7zM682 670h1v1h-1zM686 670h10v1h-10zM697 670h1v1h-1zM699 670h1v1h-1zM703 670h1v1h-1zM706 670h6v1h-6zM716 670h2v1h-2zM720 670h1v1h-1zM724 670h2v1h-2zM727 670h7v1h-7zM735 670h1v1h-1zM737 670h2v1h-2zM740 670h1v1h-1zM742 670h5v1h-5zM748 670h1v1h-1zM751 670h1v1h-1zM755 670h2v1h-2zM758 670h1v1h-1zM760 670h1v1h-1zM762 670h1v1h-1zM765 670h2v1h-2zM778 670h1v1h-1zM781 670h1v1h-1zM787 670h1v1h-1zM789 670h11v1h-11zM810 670h1v1h-1zM813 670h2v1h-2zM817 670h1v1h-1zM819 670h4v1h-4zM824 670h3v1h-3zM828 670h8v1h-8zM841 670h1v1h-1zM843 670h3v1h-3zM847 670h1v1h-1zM849 670h10v1h-10zM866 670h4v1h-4zM585 672h1v1h-1zM590 672h1v1h-1zM592 672h1v1h-1zM605 672h2v1h-2zM613 672h1v1h-1zM618 672h3v1h-3zM625 672h1v1h-1zM627 672h2v1h-2zM633 672h1v1h-1zM636 672h1v1h-1zM651 672h1v1h-1zM653 672h1v1h-1zM655 672h1v1h-1zM662 672h2v1h-2zM668 672h5v1h-5zM674 672h1v1h-1zM676 672h4v1h-4zM683 672h2v1h-2zM686 672h1v1h-1zM688 672h3v1h-3zM695 672h1v1h-1zM706 672h4v1h-4zM718 672h1v1h-1zM727 672h1v1h-1zM731 672h1v1h-1zM736 672h2v1h-2zM741 672h6v1h-6zM753 672h1v1h-1zM762 672h1v1h-1zM764 672h1v1h-1zM766 672h1v1h-1zM781 672h1v1h-1zM784 672h1v1h-1zM787 672h2v1h-2zM791 672h1v1h-1zM793 672h3v1h-3zM799 672h2v1h-2zM803 672h2v1h-2zM809 672h1v1h-1zM811 672h1v1h-1zM815 672h2v1h-2zM819 672h1v1h-1zM826 672h3v1h-3zM833 672h2v1h-2zM836 672h1v1h-1zM840 672h1v1h-1zM850 672h1v1h-1zM852 672h1v1h-1zM855 672h2v1h-2zM858 672h3v1h-3zM868 672h1v1h-1zM870 672h1v1h-1zM585 673h3v1h-3zM589 673h1v1h-1zM591 673h2v1h-2zM600 673h1v1h-1zM602 673h1v1h-1zM608 673h2v1h-2zM614 673h2v1h-2zM619 673h2v1h-2zM630 673h1v1h-1zM638 673h1v1h-1zM650 673h1v1h-1zM652 673h2v1h-2zM655 673h1v1h-1zM663 673h1v1h-1zM669 673h2v1h-2zM673 673h1v1h-1zM676 673h1v1h-1zM679 673h1v1h-1zM682 673h1v1h-1zM686 673h1v1h-1zM691 673h1v1h-1zM695 673h2v1h-2zM704 673h1v1h-1zM706 673h1v1h-1zM710 673h1v1h-1zM714 673h1v1h-1zM716 673h2v1h-2zM719 673h1v1h-1zM722 673h2v1h-2zM725 673h1v1h-1zM734 673h2v1h-2zM738 673h1v1h-1zM741 673h2v1h-2zM747 673h1v1h-1zM756 673h1v1h-1zM759 673h1v1h-1zM761 673h3v1h-3zM765 673h2v1h-2zM775 673h2v1h-2zM778 673h2v1h-2zM782 673h3v1h-3zM788 673h1v1h-1zM790 673h2v1h-2zM794 673h1v1h-1zM812 673h2v1h-2zM815 673h2v1h-2zM821 673h3v1h-3zM827 673h3v1h-3zM832 673h1v1h-1zM834 673h1v1h-1zM838 673h2v1h-2zM841 673h2v1h-2zM844 673h2v1h-2zM847 673h1v1h-1zM851 673h1v1h-1zM855 673h1v1h-1zM857 673h2v1h-2zM867 673h4v1h-4zM585 674h10v1h-10zM605 674h1v1h-1zM608 674h1v1h-1zM610 674h1v1h-1zM613 674h1v1h-1zM623 674h1v1h-1zM628 674h2v1h-2zM632 674h3v1h-3zM639 674h1v1h-1zM648 674h2v1h-2zM663 674h1v1h-1zM665 674h1v1h-1zM672 674h1v1h-1zM675 674h1v1h-1zM682 674h1v1h-1zM692 674h1v1h-1zM696 674h1v1h-1zM706 674h2v1h-2zM709 674h1v1h-1zM714 674h1v1h-1zM718 674h1v1h-1zM727 674h1v1h-1zM732 674h3v1h-3zM739 674h3v1h-3zM750 674h1v1h-1zM752 674h2v1h-2zM760 674h1v1h-1zM765 674h1v1h-1zM776 674h1v1h-1zM778 674h1v1h-1zM786 674h1v1h-1zM789 674h2v1h-2zM794 674h1v1h-1zM796 674h1v1h-1zM798 674h1v1h-1zM802 674h2v1h-2zM814 674h1v1h-1zM818 674h1v1h-1zM820 674h1v1h-1zM824 674h1v1h-1zM830 674h1v1h-1zM835 674h2v1h-2zM840 674h1v1h-1zM843 674h1v1h-1zM846 674h3v1h-3zM850 674h1v1h-1zM852 674h4v1h-4zM867 674h3v1h-3zM586 678h1v1h-1zM678 678h1v1h-1zM622 682h1v1h-1zM662 682h1v1h-1zM716 682h1v1h-1zM720 682h1v1h-1zM670 690h1v1h-1zM700 690h1v1h-1zM704 690h1v1h-1zM748 690h1v1h-1zM786 690h1v1h-1zM591 692h1v1h-1zM594 692h1v1h-1zM597 692h1v1h-1zM600 692h1v1h-1zM602 692h1v1h-1zM611 692h1v1h-1zM614 692h2v1h-2zM619 692h1v1h-1zM627 692h1v1h-1zM636 692h2v1h-2zM639 692h1v1h-1zM652 692h1v1h-1zM675 692h1v1h-1zM686 692h1v1h-1zM693 692h1v1h-1zM695 692h1v1h-1zM716 692h1v1h-1zM732 692h1v1h-1zM737 692h1v1h-1zM741 692h1v1h-1zM749 692h1v1h-1zM754 692h1v1h-1zM759 692h1v1h-1zM761 692h1v1h-1zM764 692h1v1h-1zM779 692h1v1h-1zM795 692h1v1h-1zM797 692h1v1h-1zM800 692h1v1h-1zM808 692h1v1h-1zM814 692h1v1h-1zM827 692h1v1h-1zM845 692h1v1h-1zM849 692h1v1h-1zM858 692h1v1h-1zM588 694h1v1h-1zM590 694h1v1h-1zM593 694h1v1h-1zM595 694h1v1h-1zM599 694h3v1h-3zM603 694h1v1h-1zM611 694h2v1h-2zM614 694h3v1h-3zM620 694h1v1h-1zM623 694h1v1h-1zM626 694h1v1h-1zM629 694h2v1h-2zM632 694h2v1h-2zM639 694h1v1h-1zM642 694h1v1h-1zM644 694h1v1h-1zM652 694h2v1h-2zM656 694h1v1h-1zM661 694h1v1h-1zM664 694h4v1h-4zM671 694h2v1h-2zM674 694h1v1h-1zM678 694h1v1h-1zM684 694h1v1h-1zM689 694h2v1h-2zM694 694h2v1h-2zM697 694h3v1h-3zM701 694h3v1h-3zM705 694h1v1h-1zM707 694h2v1h-2zM710 694h2v1h-2zM716 694h1v1h-1zM720 694h1v1h-1zM722 694h2v1h-2zM725 694h4v1h-4zM731 694h8v1h-8zM745 694h2v1h-2zM752 694h1v1h-1zM755 694h1v1h-1zM757 694h4v1h-4zM762 694h5v1h-5zM772 694h1v1h-1zM774 694h1v1h-1zM779 694h3v1h-3zM786 694h2v1h-2zM789 694h2v1h-2zM793 694h1v1h-1zM798 694h2v1h-2zM804 694h1v1h-1zM806 694h3v1h-3zM811 694h4v1h-4zM823 694h2v1h-2zM829 694h2v1h-2zM833 694h2v1h-2zM837 694h2v1h-2zM845 694h11v1h-11zM859 694h1v1h-1zM861 694h1v1h-1zM863 694h7v1h-7zM746 698h1v1h-1zM585 707h3v1h-3zM590 707h1v1h-1zM593 707h3v1h-3zM598 707h4v1h-4zM605 707h1v1h-1zM607 707h2v1h-2zM611 707h1v1h-1zM613 707h2v1h-2zM616 707h3v1h-3zM620 707h6v1h-6zM627 707h4v1h-4zM632 707h1v1h-1zM634 707h1v1h-1zM636 707h1v1h-1zM639 707h2v1h-2zM642 707h8v1h-8zM651 707h1v1h-1zM653 707h3v1h-3zM657 707h5v1h-5zM663 707h3v1h-3zM669 707h4v1h-4zM674 707h3v1h-3zM678 707h1v1h-1zM682 707h3v1h-3zM687 707h1v1h-1zM689 707h1v1h-1zM691 707h8v1h-8zM700 707h2v1h-2zM703 707h2v1h-2zM706 707h3v1h-3zM711 707h7v1h-7zM719 707h8v1h-8zM729 707h5v1h-5zM735 707h4v1h-4zM747 707h5v1h-5zM753 707h3v1h-3zM757 707h5v1h-5zM763 707h3v1h-3zM767 707h5v1h-5zM773 707h6v1h-6zM781 707h3v1h-3zM785 707h2v1h-2zM788 707h2v1h-2zM791 707h6v1h-6zM800 707h11v1h-11zM813 707h2v1h-2zM817 707h1v1h-1zM819 707h2v1h-2zM822 707h2v1h-2zM827 707h1v1h-1zM832 707h6v1h-6zM839 707h4v1h-4zM845 707h2v1h-2zM848 707h1v1h-1zM850 707h1v1h-1zM852 707h1v1h-1zM855 707h1v1h-1zM857 707h2v1h-2zM860 707h7v1h-7zM868 707h2v1h-2zM588 711h1v1h-1zM591 711h1v1h-1zM596 711h2v1h-2zM599 711h20v1h-20zM620 711h2v1h-2zM623 711h1v1h-1zM625 711h1v1h-1zM627 711h1v1h-1zM630 711h1v1h-1zM632 711h1v1h-1zM634 711h10v1h-10zM646 711h16v1h-16zM663 711h4v1h-4zM668 711h2v1h-2zM671 711h3v1h-3zM675 711h2v1h-2zM689 711h2v1h-2zM692 711h1v1h-1zM694 711h1v1h-1zM696 711h5v1h-5zM702 711h3v1h-3zM707 711h2v1h-2zM712 711h1v1h-1zM717 711h5v1h-5zM726 711h3v1h-3zM731 711h1v1h-1zM733 711h4v1h-4zM738 711h2v1h-2zM746 711h1v1h-1zM748 711h8v1h-8zM758 711h5v1h-5zM764 711h1v1h-1zM766 711h4v1h-4zM771 711h6v1h-6zM778 711h8v1h-8zM787 711h2v1h-2zM790 711h2v1h-2zM793 711h1v1h-1zM795 711h1v1h-1zM798 711h1v1h-1zM803 711h3v1h-3zM807 711h1v1h-1zM810 711h2v1h-2zM818 711h3v1h-3zM822 711h3v1h-3zM827 711h1v1h-1zM833 711h2v1h-2zM836 711h2v1h-2zM840 711h4v1h-4zM845 711h2v1h-2zM854 711h1v1h-1zM859 711h1v1h-1zM861 711h6v1h-6zM869 711h1v1h-1zM585 715h4v1h-4zM594 715h9v1h-9zM605 715h2v1h-2zM608 715h3v1h-3zM614 715h1v1h-1zM616 715h2v1h-2zM619 715h2v1h-2zM622 715h1v1h-1zM624 715h1v1h-1zM627 715h1v1h-1zM629 715h1v1h-1zM633 715h3v1h-3zM637 715h10v1h-10zM648 715h1v1h-1zM654 715h8v1h-8zM664 715h1v1h-1zM667 715h1v1h-1zM670 715h3v1h-3zM675 715h1v1h-1zM679 715h1v1h-1zM685 715h1v1h-1zM688 715h4v1h-4zM693 715h1v1h-1zM695 715h1v1h-1zM698 715h5v1h-5zM704 715h2v1h-2zM708 715h2v1h-2zM711 715h10v1h-10zM722 715h3v1h-3zM727 715h1v1h-1zM729 715h5v1h-5zM738 715h1v1h-1zM741 715h1v1h-1zM745 715h1v1h-1zM747 715h1v1h-1zM750 715h7v1h-7zM758 715h1v1h-1zM762 715h7v1h-7zM770 715h6v1h-6zM777 715h1v1h-1zM779 715h8v1h-8zM788 715h1v1h-1zM792 715h2v1h-2zM801 715h6v1h-6zM808 715h5v1h-5zM815 715h1v1h-1zM817 715h1v1h-1zM822 715h1v1h-1zM824 715h3v1h-3zM831 715h1v1h-1zM833 715h2v1h-2zM839 715h3v1h-3zM843 715h2v1h-2zM846 715h2v1h-2zM851 715h1v1h-1zM853 715h1v1h-1zM858 715h1v1h-1zM860 715h2v1h-2zM863 715h3v1h-3zM867 715h1v1h-1zM869 715h1v1h-1zM587 719h1v1h-1zM593 719h1v1h-1zM619 719h2v1h-2zM623 719h2v1h-2zM627 719h2v1h-2zM637 719h1v1h-1zM643 719h2v1h-2zM654 719h2v1h-2zM658 719h2v1h-2zM669 719h1v1h-1zM687 719h1v1h-1zM690 719h1v1h-1zM698 719h2v1h-2zM703 719h1v1h-1zM706 719h1v1h-1zM711 719h2v1h-2zM716 719h1v1h-1zM720 719h1v1h-1zM723 719h2v1h-2zM728 719h3v1h-3zM749 719h2v1h-2zM752 719h2v1h-2zM759 719h1v1h-1zM761 719h2v1h-2zM768 719h1v1h-1zM776 719h1v1h-1zM780 719h3v1h-3zM786 719h1v1h-1zM788 719h1v1h-1zM790 719h2v1h-2zM805 719h3v1h-3zM810 719h1v1h-1zM816 719h1v1h-1zM840 719h2v1h-2zM843 719h1v1h-1zM846 719h1v1h-1zM849 719h2v1h-2zM856 719h1v1h-1zM599 723h1v1h-1zM604 723h1v1h-1zM606 723h1v1h-1zM612 723h1v1h-1zM627 723h1v1h-1zM632 723h1v1h-1zM639 723h1v1h-1zM642 723h1v1h-1zM666 723h1v1h-1zM676 723h1v1h-1zM693 723h1v1h-1zM710 723h1v1h-1zM730 723h1v1h-1zM768 723h1v1h-1zM775 723h1v1h-1zM804 723h1v1h-1zM810 723h1v1h-1zM863 723h1v1h-1zM604 748h1v1h-1zM607 748h1v1h-1zM616 748h1v1h-1zM640 748h2v1h-2zM645 748h2v1h-2zM654 748h1v1h-1zM657 748h2v1h-2zM703 748h1v1h-1zM713 748h1v1h-1zM718 748h1v1h-1zM723 748h1v1h-1zM725 748h1v1h-1zM727 748h1v1h-1zM749 748h1v1h-1zM760 748h1v1h-1zM769 748h1v1h-1zM785 748h1v1h-1zM790 748h1v1h-1zM862 748h2v1h-2zM809 751h1v1h-1zM811 751h1v1h-1z"/>
<path fill="#f0f921" d="M681 666h1v1h-1zM681 670h1v1h-1zM800 670h1v1h-1zM815 670h1v1h-1zM681 672h1v1h-1zM683 673h1v1h-1zM831 673h1v1h-1zM680 674h1v1h-1zM870 674h1v1h-1zM683 678h1v1h-1zM743 692h1v1h-1zM589 694h1v1h-1zM592 694h1v1h-1zM685 694h1v1h-1zM693 694h1v1h-1zM704 694h1v1h-1zM706 694h1v1h-1zM794 694h1v1h-1zM828 694h1v1h-1zM745 698h1v1h-1zM589 707h1v1h-1zM591 707h2v1h-2zM610 707h1v1h-1zM612 707h1v1h-1zM631 707h1v1h-1zM677 707h1v1h-1zM679 707h3v1h-3zM685 707h1v1h-1zM710 707h1v1h-1zM739 707h1v1h-1zM741 707h2v1h-2zM744 707h2v1h-2zM756 707h1v1h-1zM797 707h1v1h-1zM811 707h1v1h-1zM818 707h1v1h-1zM824 707h3v1h-3zM831 707h1v1h-1zM854 707h1v1h-1zM867 707h1v1h-1zM870 707h1v1h-1zM585 711h1v1h-1zM590 711h1v1h-1zM593 711h1v1h-1zM595 711h1v1h-1zM619 711h1v1h-1zM626 711h1v1h-1zM628 711h2v1h-2zM633 711h1v1h-1zM670 711h1v1h-1zM674 711h1v1h-1zM677 711h1v1h-1zM679 711h1v1h-1zM681 711h7v1h-7zM691 711h1v1h-1zM693 711h1v1h-1zM695 711h1v1h-1zM705 711h2v1h-2zM709 711h3v1h-3zM714 711h1v1h-1zM716 711h1v1h-1zM730 711h1v1h-1zM732 711h1v1h-1zM737 711h1v1h-1zM740 711h4v1h-4zM747 711h1v1h-1zM756 711h1v1h-1zM789 711h1v1h-1zM794 711h1v1h-1zM796 711h1v1h-1zM800 711h3v1h-3zM812 711h2v1h-2zM815 711h1v1h-1zM817 711h1v1h-1zM826 711h1v1h-1zM828 711h5v1h-5zM839 711h1v1h-1zM844 711h1v1h-1zM848 711h1v1h-1zM851 711h1v1h-1zM856 711h3v1h-3zM867 711h1v1h-1zM870 711h1v1h-1zM590 715h3v1h-3zM607 715h1v1h-1zM611 715h2v1h-2zM623 715h1v1h-1zM625 715h2v1h-2zM631 715h1v1h-1zM650 715h1v1h-1zM663 715h1v1h-1zM669 715h1v1h-1zM673 715h2v1h-2zM677 715h2v1h-2zM681 715h3v1h-3zM686 715h2v1h-2zM694 715h1v1h-1zM696 715h1v1h-1zM707 715h1v1h-1zM710 715h1v1h-1zM721 715h1v1h-1zM734 715h1v1h-1zM736 715h2v1h-2zM739 715h2v1h-2zM742 715h2v1h-2zM759 715h2v1h-2zM778 715h1v1h-1zM789 715h2v1h-2zM795 715h3v1h-3zM799 715h2v1h-2zM813 715h2v1h-2zM816 715h1v1h-1zM818 715h1v1h-1zM821 715h1v1h-1zM827 715h2v1h-2zM830 715h1v1h-1zM835 715h1v1h-1zM842 715h1v1h-1zM845 715h1v1h-1zM848 715h1v1h-1zM854 715h2v1h-2zM857 715h1v1h-1zM870 715h1v1h-1zM666 719h1v1h-1zM670 719h1v1h-1zM678 719h3v1h-3zM733 719h1v1h-1zM738 719h1v1h-1zM740 719h1v1h-1zM742 719h1v1h-1zM744 719h1v1h-1zM747 719h1v1h-1zM756 719h1v1h-1zM793 719h1v1h-1zM798 719h1v1h-1zM821 719h1v1h-1zM827 719h1v1h-1zM832 719h1v1h-1zM847 719h2v1h-2zM588 723h1v1h-1zM592 723h1v1h-1zM594 723h1v1h-1zM613 723h1v1h-1zM626 723h1v1h-1zM654 723h1v1h-1zM704 723h2v1h-2zM741 723h1v1h-1zM798 723h1v1h-1zM802 723h1v1h-1zM813 723h1v1h-1zM816 723h1v1h-1zM849 723h1v1h-1zM599 743h1v1h-1zM701 743h1v1h-1zM585 748h2v1h-2zM589 748h1v1h-1zM592 748h2v1h-2zM596 748h2v1h-2zM603 748h1v1h-1zM605 748h2v1h-2zM609 748h3v1h-3zM613 748h3v1h-3zM618 748h4v1h-4zM624 748h2v1h-2zM627 748h1v1h-1zM629 748h4v1h-4zM634 748h3v1h-3zM642 748h2v1h-2zM647 748h1v1h-1zM649 748h3v1h-3zM656 748h1v1h-1zM659 748h4v1h-4zM667 748h2v1h-2zM670 748h1v1h-1zM672 748h1v1h-1zM674 748h8v1h-8zM684 748h2v1h-2zM687 748h1v1h-1zM691 748h3v1h-3zM695 748h1v1h-1zM697 748h2v1h-2zM702 748h1v1h-1zM704 748h1v1h-1zM707 748h5v1h-5zM715 748h1v1h-1zM719 748h1v1h-1zM724 748h1v1h-1zM726 748h1v1h-1zM729 748h3v1h-3zM733 748h2v1h-2zM739 748h2v1h-2zM742 748h2v1h-2zM747 748h2v1h-2zM752 748h4v1h-4zM757 748h2v1h-2zM761 748h1v1h-1zM763 748h3v1h-3zM773 748h1v1h-1zM777 748h2v1h-2zM780 748h2v1h-2zM784 748h1v1h-1zM786 748h1v1h-1zM791 748h4v1h-4zM796 748h1v1h-1zM798 748h1v1h-1zM801 748h1v1h-1zM803 748h1v1h-1zM807 748h2v1h-2zM810 748h2v1h-2zM814 748h5v1h-5zM821 748h3v1h-3zM827 748h7v1h-7zM837 748h5v1h-5zM845 748h2v1h-2zM848 748h2v1h-2zM852 748h2v1h-2zM858 748h4v1h-4zM864 748h2v1h-2zM867 748h1v1h-1zM869 748h2v1h-2zM621 751h1v1h-1zM635 751h1v1h-1zM655 751h1v1h-1zM684 751h2v1h-2zM732 751h1v1h-1zM825 751h1v1h-1zM842 751h1v1h-1zM617 755h1v1h-1zM622 755h1v1h-1zM708 755h1v1h-1zM730 755h1v1h-1zM770 755h1v1h-1zM781 755h1v1h-1zM860 755h1v1h-1z"/>
</g>
<g class="cr">
<rect x="585" y="756" width="286" height="205" fill="url(#g5)"/>
<path fill="url(#so552)" d="M593 756h1v205h-1zM594 756h1v205h-1zM595 756h1v205h-1zM596 756h1v205h-1zM597 756h1v205h-1zM598 756h1v205h-1zM599 756h1v205h-1zM623 756h1v205h-1zM624 756h1v205h-1zM625 756h1v205h-1zM626 756h1v205h-1zM632 756h1v205h-1zM633 756h1v205h-1zM634 756h1v205h-1zM635 756h1v205h-1zM636 756h1v205h-1zM637 756h1v205h-1zM681 756h1v205h-1zM704 756h1v205h-1zM714 756h1v205h-1zM715 756h1v205h-1zM721 756h1v205h-1zM722 756h1v205h-1zM723 756h1v205h-1zM759 756h1v205h-1zM779 756h1v205h-1zM780 756h1v205h-1zM781 756h1v205h-1zM835 756h1v205h-1zM837 756h1v205h-1z"/>
<path fill="url(#sy552)" d="M604 756h1v205h-1zM605 756h1v205h-1zM606 756h1v205h-1zM607 756h1v205h-1zM608 756h1v205h-1zM609 756h1v205h-1zM610 756h1v205h-1zM611 756h1v205h-1zM618 756h1v205h-1zM619 756h1v205h-1zM652 756h1v205h-1zM653 756h1v205h-1zM654 756h1v205h-1zM657 756h1v205h-1zM664 756h1v205h-1zM677 756h1v205h-1zM685 756h1v205h-1zM686 756h1v205h-1zM687 756h1v205h-1zM698 756h1v205h-1zM708 756h1v205h-1zM709 756h1v205h-1zM729 756h1v205h-1zM730 756h1v205h-1zM731 756h1v205h-1zM732 756h1v205h-1zM748 756h1v205h-1zM762 756h1v205h-1zM763 756h1v205h-1zM764 756h1v205h-1zM765 756h1v205h-1zM772 756h1v205h-1zM773 756h1v205h-1zM774 756h1v205h-1zM775 756h1v205h-1zM797 756h1v205h-1zM798 756h1v205h-1zM803 756h1v205h-1zM804 756h1v205h-1zM805 756h1v205h-1zM806 756h1v205h-1zM807 756h1v205h-1zM808 756h1v205h-1zM823 756h1v205h-1zM824 756h1v205h-1zM825 756h1v205h-1zM854 756h1v205h-1zM856 756h1v205h-1zM857 756h1v205h-1zM858 756h1v205h-1zM859 756h1v205h-1zM860 756h1v205h-1zM861 756h1v205h-1zM862 756h1v205h-1zM863 756h1v205h-1zM864 756h1v205h-1z"/>
<path fill="#fff" d="M643 756h1v205h-1zM720 756h1v205h-1zM739 756h1v205h-1zM756 756h1v205h-1zM860 756h1v205h-1zM607 950h1v11h-1zM615 950h2v11h-2zM622 950h1v11h-1zM627 950h3v11h-3zM632 950h1v11h-1zM652 950h1v11h-1zM663 950h1v11h-1zM665 950h1v11h-1zM672 950h1v11h-1zM699 950h1v11h-1zM709 950h1v11h-1zM717 950h2v11h-2zM746 950h1v11h-1zM750 950h1v11h-1zM759 950h1v11h-1zM766 950h2v11h-2zM771 950h2v11h-2zM777 950h1v11h-1zM794 950h1v11h-1zM801 950h1v11h-1zM834 950h1v11h-1zM842 950h1v11h-1zM851 950h1v11h-1zM853 950h1v11h-1zM861 950h1v11h-1zM870 950h1v11h-1z"/>
<path fill="#fff" fill-opacity="0.45" d="M604 960h3v1h-3zM612 960h3v1h-3zM624 960h3v1h-3zM628 960h4v1h-4zM651 960h1v1h-1zM662 960h1v1h-1zM661 960h4v1h-4zM671 960h1v1h-1zM696 960h3v1h-3zM706 960h3v1h-3zM713 960h4v1h-4zM744 960h2v1h-2zM746 960h4v1h-4zM755 960h4v1h-4zM775 960h2v1h-2zM790 960h4v1h-4zM830 960h4v1h-4zM840 960h2v1h-2zM860 960h1v1h-1zM867 960h3v1h-3z"/>
</g>
<g class="cr">
<rect x="1010" y="66" width="286" height="409" fill="#377eb8"/>
<path fill="#ff7f00" d="M1068 66h1v409h-1zM1145 66h1v409h-1zM1181 66h1v409h-1zM1285 66h1v409h-1zM1087 73h1v1h-1zM1086 74h1v1h-1zM1189 67h2v6h-2zM1189 73h1v5h-1zM1167 86h2v2h-2zM1258 86h1v2h-1zM1265 85h1v3h-1z"/>
<path fill="#fff" d="M1164 66h1v409h-1zM1257 66h1v409h-1zM1015 464h1v11h-1zM1032 464h1v11h-1zM1040 464h2v11h-2zM1047 464h1v11h-1zM1052 464h3v11h-3zM1057 464h1v11h-1zM1077 464h1v11h-1zM1088 464h1v11h-1zM1090 464h1v11h-1zM1097 464h1v11h-1zM1124 464h1v11h-1zM1134 464h1v11h-1zM1142 464h2v11h-2zM1171 464h1v11h-1zM1175 464h1v11h-1zM1184 464h1v11h-1zM1191 464h2v11h-2zM1196 464h2v11h-2zM1202 464h1v11h-1zM1219 464h1v11h-1zM1226 464h1v11h-1zM1259 464h1v11h-1zM1267 464h1v11h-1zM1276 464h1v11h-1zM1278 464h1v11h-1zM1286 464h1v11h-1zM1295 464h1v11h-1zM1010 66h18v1h-18zM1029 66h19v1h-19zM1049 66h10v1h-10zM1059 66h19v1h-19zM1081 66h19v1h-19zM1101 66h14v1h-14zM1117 66h21v1h-21zM1141 66h4v1h-4zM1145 66h17v1h-17zM1164 66h7v1h-7zM1175 66h12v1h-12zM1188 66h20v1h-20zM1209 66h15v1h-15zM1225 66h14v1h-14zM1240 66h4v1h-4zM1248 66h4v1h-4zM1253 66h19v1h-19zM1272 66h12v1h-12zM1284 66h8v1h-8zM1292 66h4v1h-4zM1010 474h3v1h-3zM1013 474h17v1h-17zM1032 474h19v1h-19zM1051 474h15v1h-15zM1066 474h14v1h-14zM1082 474h4v1h-4zM1086 474h6v1h-6zM1093 474h11v1h-11zM1104 474h18v1h-18zM1122 474h14v1h-14zM1136 474h7v1h-7zM1143 474h12v1h-12zM1155 474h18v1h-18zM1173 474h12v1h-12zM1186 474h5v1h-5zM1191 474h3v1h-3zM1194 474h10v1h-10zM1204 474h11v1h-11zM1215 474h11v1h-11zM1226 474h8v1h-8zM1235 474h14v1h-14zM1249 474h5v1h-5zM1255 474h16v1h-16zM1278 474h16v1h-16z"/>
</g>
<g class="cr">
<rect x="465" y="66" width="19" height="409" fill="url(#c1)"/>
<rect x="889" y="66" width="20" height="409" fill="url(#c1)"/>
<rect x="889" y="553" width="20" height="408" fill="url(#c5)"/>
<rect x="1314" y="429" width="20" height="46" fill="#e41a1c"/>
<rect x="1314" y="384" width="20" height="45" fill="#377eb8"/>
<rect x="1314" y="338" width="20" height="46" fill="#4daf4a"/>
<rect x="1314" y="293" width="20" height="45" fill="#984ea3"/>
<rect x="1314" y="247" width="20" height="46" fill="#ff7f00"/>
<rect x="1314" y="202" width="20" height="45" fill="#ffff33"/>
<rect x="1314" y="156" width="20" height="46" fill="#a65628"/>
<rect x="1314" y="111" width="20" height="45" fill="#f781bf"/>
<rect x="1314" y="66" width="20" height="45" fill="#999999"/>
</g>
<clipPath id="cp4"><rect x="160" y="553" width="357" height="408"/></clipPath>
<path d="M159.5 573.45H518" stroke="#1f77b4" stroke-width="3.3" stroke-linecap="round" stroke-dasharray="0 1.325" fill="none" clip-path="url(#cp4)"/>
<path d="M353 571.5v4" stroke="#fff" stroke-opacity="0.55" stroke-width="1" fill="none"/>
<rect x="159.5" y="65.5" width="287.0" height="410.0" class="fr"/>
<path d="M159.5 65.5h-5.36" class="tk"/>
<path d="M159.5 117.5h-5.36" class="tk"/>
<path d="M159.5 168.5h-5.36" class="tk"/>
<path d="M159.5 219.5h-5.36" class="tk"/>
<path d="M159.5 270.5h-5.36" class="tk"/>
<path d="M159.5 321.5h-5.36" class="tk"/>
<path d="M159.5 372.5h-5.36" class="tk"/>
<path d="M159.5 424.5h-5.36" class="tk"/>
<path d="M159.5 475.5h-5.36" class="tk"/>
<path d="M203.5 475.5v5.36" class="tk"/>
<path d="M254.5 475.5v5.36" class="tk"/>
<path d="M305.5 475.5v5.36" class="tk"/>
<path d="M356.5 475.5v5.36" class="tk"/>
<path d="M407.5 475.5v5.36" class="tk"/>
<rect x="584.5" y="65.5" width="287.0" height="410.0" class="fr"/>
<path d="M584.5 65.5h-5.36" class="tk"/>
<path d="M584.5 117.5h-5.36" class="tk"/>
<path d="M584.5 168.5h-5.36" class="tk"/>
<path d="M584.5 219.5h-5.36" class="tk"/>
<path d="M584.5 270.5h-5.36" class="tk"/>
<path d="M584.5 321.5h-5.36" class="tk"/>
<path d="M584.5 372.5h-5.36" class="tk"/>
<path d="M584.5 424.5h-5.36" class="tk"/>
<path d="M584.5 475.5h-5.36" class="tk"/>
<path d="M628.5 475.5v5.36" class="tk"/>
<path d="M679.5 475.5v5.36" class="tk"/>
<path d="M730.5 475.5v5.36" class="tk"/>
<path d="M781.5 475.5v5.36" class="tk"/>
<path d="M832.5 475.5v5.36" class="tk"/>
<rect x="1009.5" y="65.5" width="287.0" height="410.0" class="fr"/>
<path d="M1009.5 65.5h-5.36" class="tk"/>
<path d="M1009.5 117.5h-5.36" class="tk"/>
<path d="M1009.5 168.5h-5.36" class="tk"/>
<path d="M1009.5 219.5h-5.36" class="tk"/>
<path d="M1009.5 270.5h-5.36" class="tk"/>
<path d="M1009.5 321.5h-5.36" class="tk"/>
<path d="M1009.5 372.5h-5.36" class="tk"/>
<path d="M1009.5 424.5h-5.36" class="tk"/>
<path d="M1009.5 475.5h-5.36" class="tk"/>
<path d="M1053.5 475.5v5.36" class="tk"/>
<path d="M1104.5 475.5v5.36" class="tk"/>
<path d="M1155.5 475.5v5.36" class="tk"/>
<path d="M1206.5 475.5v5.36" class="tk"/>
<path d="M1257.5 475.5v5.36" class="tk"/>
<rect x="159.5" y="552.5" width="358.0" height="409.0" class="fr"/>
<path d="M215.5 961.5v5.36" class="tk"/>
<path d="M278.5 961.5v5.36" class="tk"/>
<path d="M342.5 961.5v5.36" class="tk"/>
<path d="M405.5 961.5v5.36" class="tk"/>
<path d="M469.5 961.5v5.36" class="tk"/>
<path d="M159.5 573.5h-5.36" class="tk"/>
<path d="M159.5 767.5h-5.36" class="tk"/>
<path d="M159.5 961.5h-5.36" class="tk"/>
<rect x="584.5" y="552.5" width="287.0" height="409.0" class="fr"/>
<path d="M584.5 552.5h-5.36" class="tk"/>
<path d="M584.5 603.5h-5.36" class="tk"/>
<path d="M584.5 654.5h-5.36" class="tk"/>
<path d="M584.5 705.5h-5.36" class="tk"/>
<path d="M584.5 756.5h-5.36" class="tk"/>
<path d="M584.5 807.5h-5.36" class="tk"/>
<path d="M584.5 859.5h-5.36" class="tk"/>
<path d="M584.5 910.5h-5.36" class="tk"/>
<path d="M584.5 961.5h-5.36" class="tk"/>
<path d="M628.5 961.5v5.36" class="tk"/>
<path d="M679.5 961.5v5.36" class="tk"/>
<path d="M730.5 961.5v5.36" class="tk"/>
<path d="M781.5 961.5v5.36" class="tk"/>
<path d="M832.5 961.5v5.36" class="tk"/>
<rect x="1009.5" y="552.5" width="358.0" height="409.0" class="fr"/>
<path d="M1009.5 552.5h-5.36" class="tk"/>
<path d="M1009.5 603.5h-5.36" class="tk"/>
<path d="M1009.5 654.5h-5.36" class="tk"/>
<path d="M1009.5 705.5h-5.36" class="tk"/>
<path d="M1009.5 756.5h-5.36" class="tk"/>
<path d="M1009.5 807.5h-5.36" class="tk"/>
<path d="M1009.5 859.5h-5.36" class="tk"/>
<path d="M1009.5 910.5h-5.36" class="tk"/>
<path d="M1009.5 961.5h-5.36" class="tk"/>
<path d="M1009.5 961.5v5.36" class="tk"/>
<path d="M1069.2 961.5v5.36" class="tk"/>
<path d="M1128.8 961.5v5.36" class="tk"/>
<path d="M1188.5 961.5v5.36" class="tk"/>
<path d="M1248.2 961.5v5.36" class="tk"/>
<path d="M1307.8 961.5v5.36" class="tk"/>
<path d="M1367.5 961.5v5.36" class="tk"/>
<rect x="464.5" y="65.5" width="20.0" height="410.0" class="fr"/>
<path d="M484.5 70.5h5.36" class="tk"/>
<path d="M484.5 142.5h5.36" class="tk"/>
<path d="M484.5 213.5h5.36" class="tk"/>
<path d="M484.5 285.5h5.36" class="tk"/>
<path d="M484.5 357.5h5.36" class="tk"/>
<path d="M484.5 428.5h5.36" class="tk"/>
<rect x="888.5" y="65.5" width="21.0" height="410.0" class="fr"/>
<path d="M909.5 96.5h5.36" class="tk"/>
<path d="M909.5 163.5h5.36" class="tk"/>
<path d="M909.5 230.5h5.36" class="tk"/>
<path d="M909.5 298.5h5.36" class="tk"/>
<path d="M909.5 365.5h5.36" class="tk"/>
<path d="M909.5 432.5h5.36" class="tk"/>
<rect x="1313.5" y="65.5" width="21.0" height="410.0" class="fr"/>
<path d="M1334.5 65.5h5.36" class="tk"/>
<path d="M1334.5 117.5h5.36" class="tk"/>
<path d="M1334.5 168.5h5.36" class="tk"/>
<path d="M1334.5 219.5h5.36" class="tk"/>
<path d="M1334.5 270.5h5.36" class="tk"/>
<path d="M1334.5 321.5h5.36" class="tk"/>
<path d="M1334.5 372.5h5.36" class="tk"/>
<path d="M1334.5 424.5h5.36" class="tk"/>
<path d="M1334.5 475.5h5.36" class="tk"/>
<rect x="888.5" y="552.5" width="21.0" height="409.0" class="fr"/>
<path d="M909.5 583.5h5.36" class="tk"/>
<path d="M909.5 650.5h5.36" class="tk"/>
<path d="M909.5 717.5h5.36" class="tk"/>
<path d="M909.5 784.5h5.36" class="tk"/>
<path d="M909.5 851.5h5.36" class="tk"/>
<path d="M909.5 918.5h5.36" class="tk"/>
<g class="tx">
<text x="140.97" y="70.90" font-size="14.35" textLength="8.83" lengthAdjust="spacingAndGlyphs">0</text>
<text x="122.31" y="122.15" font-size="14.35" textLength="26.49" lengthAdjust="spacingAndGlyphs">250</text>
<text x="122.31" y="173.40" font-size="14.35" textLength="26.49" lengthAdjust="spacingAndGlyphs">500</text>
<text x="122.31" y="224.65" font-size="14.35" textLength="26.49" lengthAdjust="spacingAndGlyphs">750</text>
<text x="113.64" y="275.90" font-size="14.35" textLength="34.56" lengthAdjust="spacingAndGlyphs">1000</text>
<text x="113.64" y="327.15" font-size="14.35" textLength="34.56" lengthAdjust="spacingAndGlyphs">1250</text>
<text x="113.64" y="378.40" font-size="14.35" textLength="34.56" lengthAdjust="spacingAndGlyphs">1500</text>
<text x="113.64" y="429.65" font-size="14.35" textLength="34.56" lengthAdjust="spacingAndGlyphs">1750</text>
<text x="113.77" y="480.90" font-size="14.35" textLength="34.43" lengthAdjust="spacingAndGlyphs">2000</text>
<text x="185.28" y="495.90" font-size="14.35" textLength="35.44" lengthAdjust="spacingAndGlyphs">2014</text>
<text x="236.28" y="495.90" font-size="14.35" textLength="35.44" lengthAdjust="spacingAndGlyphs">2015</text>
<text x="287.22" y="495.90" font-size="14.35" textLength="35.57" lengthAdjust="spacingAndGlyphs">2016</text>
<text x="338.28" y="495.90" font-size="14.35" textLength="35.44" lengthAdjust="spacingAndGlyphs">2017</text>
<text x="389.22" y="495.90" font-size="14.35" textLength="35.57" lengthAdjust="spacingAndGlyphs">2018</text>
<text x="565.97" y="70.90" font-size="14.35" textLength="8.83" lengthAdjust="spacingAndGlyphs">0</text>
<text x="547.31" y="122.15" font-size="14.35" textLength="26.49" lengthAdjust="spacingAndGlyphs">250</text>
<text x="547.31" y="173.40" font-size="14.35" textLength="26.49" lengthAdjust="spacingAndGlyphs">500</text>
<text x="547.31" y="224.65" font-size="14.35" textLength="26.49" lengthAdjust="spacingAndGlyphs">750</text>
<text x="538.64" y="275.90" font-size="14.35" textLength="34.56" lengthAdjust="spacingAndGlyphs">1000</text>
<text x="538.64" y="327.15" font-size="14.35" textLength="34.56" lengthAdjust="spacingAndGlyphs">1250</text>
<text x="538.64" y="378.40" font-size="14.35" textLength="34.56" lengthAdjust="spacingAndGlyphs">1500</text>
<text x="538.64" y="429.65" font-size="14.35" textLength="34.56" lengthAdjust="spacingAndGlyphs">1750</text>
<text x="538.77" y="480.90" font-size="14.35" textLength="34.43" lengthAdjust="spacingAndGlyphs">2000</text>
<text x="610.28" y="495.90" font-size="14.35" textLength="35.44" lengthAdjust="spacingAndGlyphs">2014</text>
<text x="661.28" y="495.90" font-size="14.35" textLength="35.44" lengthAdjust="spacingAndGlyphs">2015</text>
<text x="712.22" y="495.90" font-size="14.35" textLength="35.57" lengthAdjust="spacingAndGlyphs">2016</text>
<text x="763.28" y="495.90" font-size="14.35" textLength="35.44" lengthAdjust="spacingAndGlyphs">2017</text>
<text x="814.22" y="495.90" font-size="14.35" textLength="35.57" lengthAdjust="spacingAndGlyphs">2018</text>
<text x="990.97" y="70.90" font-size="14.35" textLength="8.83" lengthAdjust="spacingAndGlyphs">0</text>
<text x="972.31" y="122.15" font-size="14.35" textLength="26.49" lengthAdjust="spacingAndGlyphs">250</text>
<text x="972.31" y="173.40" font-size="14.35" textLength="26.49" lengthAdjust="spacingAndGlyphs">500</text>
<text x="972.31" y="224.65" font-size="14.35" textLength="26.49" lengthAdjust="spacingAndGlyphs">750</text>
<text x="963.64" y="275.90" font-size="14.35" textLength="34.56" lengthAdjust="spacingAndGlyphs">1000</text>
<text x="963.64" y="327.15" font-size="14.35" textLength="34.56" lengthAdjust="spacingAndGlyphs">1250</text>
<text x="963.64" y="378.40" font-size="14.35" textLength="34.56" lengthAdjust="spacingAndGlyphs">1500</text>
<text x="963.64" y="429.65" font-size="14.35" textLength="34.56" lengthAdjust="spacingAndGlyphs">1750</text>
<text x="963.77" y="480.90" font-size="14.35" textLength="34.43" lengthAdjust="spacingAndGlyphs">2000</text>
<text x="1035.28" y="495.90" font-size="14.35" textLength="35.44" lengthAdjust="spacingAndGlyphs">2014</text>
<text x="1086.28" y="495.90" font-size="14.35" textLength="35.44" lengthAdjust="spacingAndGlyphs">2015</text>
<text x="1137.22" y="495.90" font-size="14.35" textLength="35.57" lengthAdjust="spacingAndGlyphs">2016</text>
<text x="1188.28" y="495.90" font-size="14.35" textLength="35.44" lengthAdjust="spacingAndGlyphs">2017</text>
<text x="1239.22" y="495.90" font-size="14.35" textLength="35.57" lengthAdjust="spacingAndGlyphs">2018</text>
<text x="197.28" y="981.90" font-size="14.35" textLength="35.44" lengthAdjust="spacingAndGlyphs">2014</text>
<text x="260.28" y="981.90" font-size="14.35" textLength="35.44" lengthAdjust="spacingAndGlyphs">2015</text>
<text x="324.22" y="981.90" font-size="14.35" textLength="35.57" lengthAdjust="spacingAndGlyphs">2016</text>
<text x="387.28" y="981.90" font-size="14.35" textLength="35.44" lengthAdjust="spacingAndGlyphs">2017</text>
<text x="451.22" y="981.90" font-size="14.35" textLength="35.57" lengthAdjust="spacingAndGlyphs">2018</text>
<text x="48.58" y="577.90" font-size="14.35" textLength="100.52" lengthAdjust="spacingAndGlyphs">Delayed Mode</text>
<text x="14.95" y="772.80" font-size="14.35" textLength="134.15" lengthAdjust="spacingAndGlyphs">Real Time Adjusted</text>
<text x="80.11" y="966.70" font-size="14.35" textLength="68.99" lengthAdjust="spacingAndGlyphs">Real Time</text>
<text x="565.97" y="557.90" font-size="14.35" textLength="8.83" lengthAdjust="spacingAndGlyphs">0</text>
<text x="547.31" y="609.02" font-size="14.35" textLength="26.49" lengthAdjust="spacingAndGlyphs">250</text>
<text x="547.31" y="660.15" font-size="14.35" textLength="26.49" lengthAdjust="spacingAndGlyphs">500</text>
<text x="547.31" y="711.27" font-size="14.35" textLength="26.49" lengthAdjust="spacingAndGlyphs">750</text>
<text x="538.64" y="762.40" font-size="14.35" textLength="34.56" lengthAdjust="spacingAndGlyphs">1000</text>
<text x="538.64" y="813.52" font-size="14.35" textLength="34.56" lengthAdjust="spacingAndGlyphs">1250</text>
<text x="538.64" y="864.65" font-size="14.35" textLength="34.56" lengthAdjust="spacingAndGlyphs">1500</text>
<text x="538.64" y="915.77" font-size="14.35" textLength="34.56" lengthAdjust="spacingAndGlyphs">1750</text>
<text x="538.77" y="966.90" font-size="14.35" textLength="34.43" lengthAdjust="spacingAndGlyphs">2000</text>
<text x="610.28" y="981.90" font-size="14.35" textLength="35.44" lengthAdjust="spacingAndGlyphs">2014</text>
<text x="661.28" y="981.90" font-size="14.35" textLength="35.44" lengthAdjust="spacingAndGlyphs">2015</text>
<text x="712.22" y="981.90" font-size="14.35" textLength="35.57" lengthAdjust="spacingAndGlyphs">2016</text>
<text x="763.28" y="981.90" font-size="14.35" textLength="35.44" lengthAdjust="spacingAndGlyphs">2017</text>
<text x="814.22" y="981.90" font-size="14.35" textLength="35.57" lengthAdjust="spacingAndGlyphs">2018</text>
<text x="990.97" y="557.90" font-size="14.35" textLength="8.83" lengthAdjust="spacingAndGlyphs">0</text>
<text x="972.31" y="609.02" font-size="14.35" textLength="26.49" lengthAdjust="spacingAndGlyphs">250</text>
<text x="972.31" y="660.15" font-size="14.35" textLength="26.49" lengthAdjust="spacingAndGlyphs">500</text>
<text x="972.31" y="711.27" font-size="14.35" textLength="26.49" lengthAdjust="spacingAndGlyphs">750</text>
<text x="963.64" y="762.40" font-size="14.35" textLength="34.56" lengthAdjust="spacingAndGlyphs">1000</text>
<text x="963.64" y="813.52" font-size="14.35" textLength="34.56" lengthAdjust="spacingAndGlyphs">1250</text>
<text x="963.64" y="864.65" font-size="14.35" textLength="34.56" lengthAdjust="spacingAndGlyphs">1500</text>
<text x="963.64" y="915.77" font-size="14.35" textLength="34.56" lengthAdjust="spacingAndGlyphs">1750</text>
<text x="963.77" y="966.90" font-size="14.35" textLength="34.43" lengthAdjust="spacingAndGlyphs">2000</text>
<text x="991.28" y="981.90" font-size="14.35" textLength="35.44" lengthAdjust="spacingAndGlyphs">2013</text>
<text x="1050.95" y="981.90" font-size="14.35" textLength="35.44" lengthAdjust="spacingAndGlyphs">2014</text>
<text x="1110.61" y="981.90" font-size="14.35" textLength="35.44" lengthAdjust="spacingAndGlyphs">2015</text>
<text x="1170.22" y="981.90" font-size="14.35" textLength="35.57" lengthAdjust="spacingAndGlyphs">2016</text>
<text x="1229.95" y="981.90" font-size="14.35" textLength="35.44" lengthAdjust="spacingAndGlyphs">2017</text>
<text x="1289.55" y="981.90" font-size="14.35" textLength="35.57" lengthAdjust="spacingAndGlyphs">2018</text>
<text x="1349.22" y="981.90" font-size="14.35" textLength="35.57" lengthAdjust="spacingAndGlyphs">2019</text>
<text x="494.60" y="75.00" font-size="14.35" textLength="25.16" lengthAdjust="spacingAndGlyphs">300</text>
<text x="494.60" y="147.00" font-size="14.35" textLength="25.16" lengthAdjust="spacingAndGlyphs">250</text>
<text x="494.60" y="218.00" font-size="14.35" textLength="25.16" lengthAdjust="spacingAndGlyphs">200</text>
<text x="494.60" y="290.00" font-size="14.35" textLength="25.28" lengthAdjust="spacingAndGlyphs">150</text>
<text x="494.60" y="362.00" font-size="14.35" textLength="25.28" lengthAdjust="spacingAndGlyphs">100</text>
<text x="494.60" y="433.00" font-size="14.35" textLength="16.77" lengthAdjust="spacingAndGlyphs">50</text>
<text x="919.60" y="101.00" font-size="14.35" textLength="25.16" lengthAdjust="spacingAndGlyphs">300</text>
<text x="919.60" y="168.00" font-size="14.35" textLength="25.16" lengthAdjust="spacingAndGlyphs">250</text>
<text x="919.60" y="235.00" font-size="14.35" textLength="25.16" lengthAdjust="spacingAndGlyphs">200</text>
<text x="919.60" y="303.00" font-size="14.35" textLength="25.28" lengthAdjust="spacingAndGlyphs">150</text>
<text x="919.60" y="370.00" font-size="14.35" textLength="25.28" lengthAdjust="spacingAndGlyphs">100</text>
<text x="919.60" y="437.00" font-size="14.35" textLength="16.77" lengthAdjust="spacingAndGlyphs">50</text>
<text x="1344.60" y="70.90" font-size="14.35" textLength="8.06" lengthAdjust="spacingAndGlyphs">8</text>
<text x="1344.60" y="122.15" font-size="14.35" textLength="7.95" lengthAdjust="spacingAndGlyphs">7</text>
<text x="1344.60" y="173.40" font-size="14.35" textLength="8.06" lengthAdjust="spacingAndGlyphs">6</text>
<text x="1344.60" y="224.65" font-size="14.35" textLength="7.95" lengthAdjust="spacingAndGlyphs">5</text>
<text x="1344.60" y="275.90" font-size="14.35" textLength="7.95" lengthAdjust="spacingAndGlyphs">4</text>
<text x="1344.60" y="327.15" font-size="14.35" textLength="7.95" lengthAdjust="spacingAndGlyphs">3</text>
<text x="1344.60" y="378.40" font-size="14.35" textLength="7.95" lengthAdjust="spacingAndGlyphs">2</text>
<text x="1344.60" y="429.65" font-size="14.35" textLength="8.06" lengthAdjust="spacingAndGlyphs">1</text>
<text x="1344.60" y="480.90" font-size="14.35" textLength="7.95" lengthAdjust="spacingAndGlyphs">0</text>
<text x="919.60" y="588.00" font-size="14.35" textLength="25.16" lengthAdjust="spacingAndGlyphs">300</text>
<text x="919.60" y="655.00" font-size="14.35" textLength="25.16" lengthAdjust="spacingAndGlyphs">250</text>
<text x="919.60" y="722.00" font-size="14.35" textLength="25.16" lengthAdjust="spacingAndGlyphs">200</text>
<text x="919.60" y="789.00" font-size="14.35" textLength="25.28" lengthAdjust="spacingAndGlyphs">150</text>
<text x="919.60" y="856.00" font-size="14.35" textLength="25.28" lengthAdjust="spacingAndGlyphs">100</text>
<text x="919.60" y="923.00" font-size="14.35" textLength="16.77" lengthAdjust="spacingAndGlyphs">50</text>
<text x="491.77" y="32.10" font-size="17.20" textLength="416.46" lengthAdjust="spacingAndGlyphs">5904095, 271 profiles, 2013-02-13 to 2018-10-08</text>
<text x="273.64" y="57.10" font-size="17.20" textLength="57.51" lengthAdjust="spacingAndGlyphs">DOXY3</text>
<text x="651.16" y="57.10" font-size="17.20" textLength="150.89" lengthAdjust="spacingAndGlyphs">DOXY3_ADJUSTED</text>
<text x="1059.76" y="57.10" font-size="17.20" textLength="185.28" lengthAdjust="spacingAndGlyphs">DOXY3_ADJUSTED_QC</text>
<text x="234.21" y="526.00" font-size="17.20" textLength="203.19" lengthAdjust="spacingAndGlyphs">Mode. Blue=D, Red=RT,</text>
<text x="230.43" y="542.80" font-size="17.20" textLength="215.55" lengthAdjust="spacingAndGlyphs">Gray=Real Time Adjusted</text>
<text x="634.70" y="544.10" font-size="17.20" textLength="185.40" lengthAdjust="spacingAndGlyphs">DOXY3_ADJUSTED_RO</text>
<text x="1112.98" y="544.10" font-size="17.20" textLength="149.84" lengthAdjust="spacingAndGlyphs">Outliers Removed</text>
</g>
</svg>
</body></html>
